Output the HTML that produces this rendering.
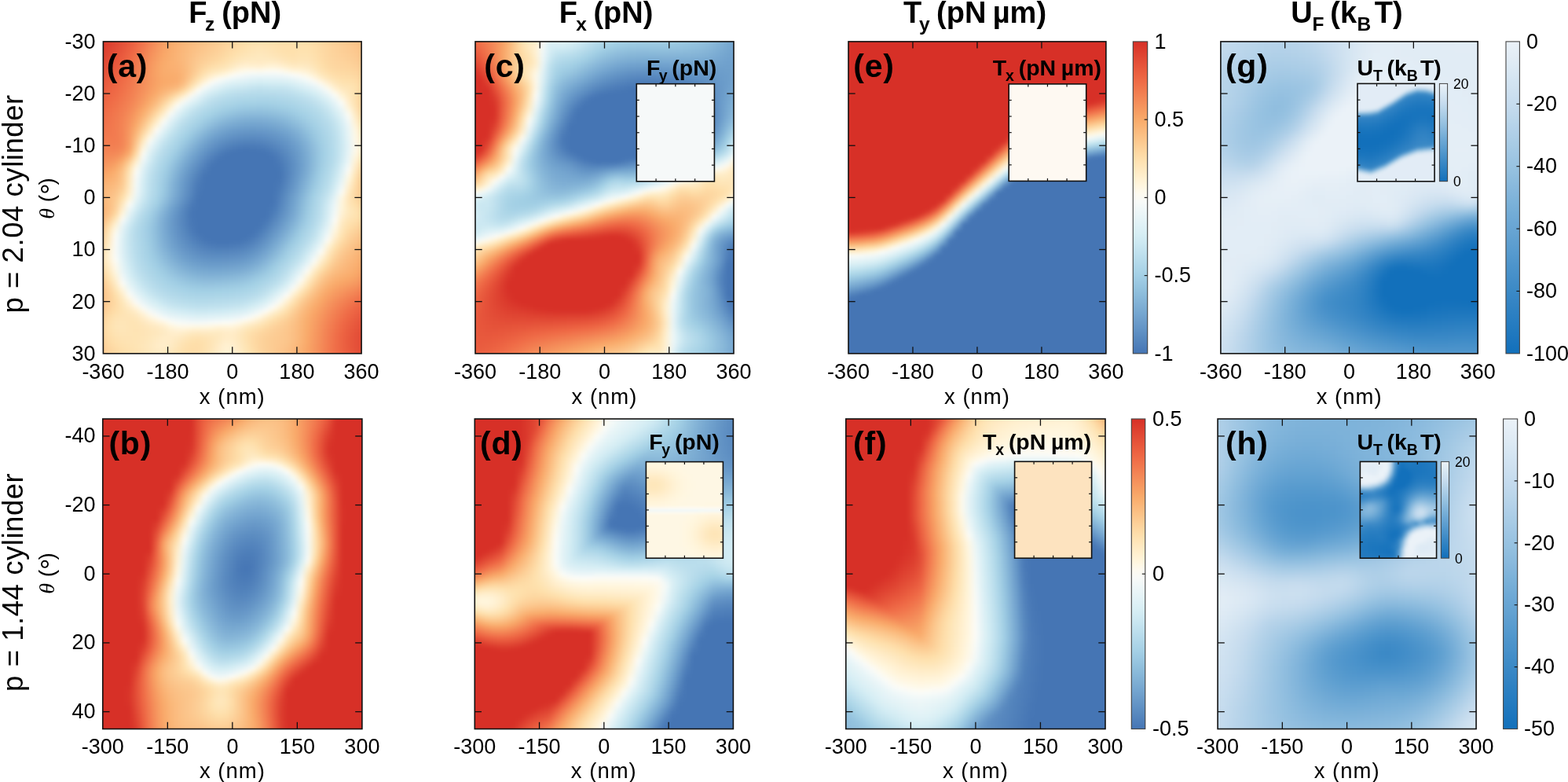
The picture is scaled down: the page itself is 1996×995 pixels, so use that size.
<!DOCTYPE html><html><head><meta charset="utf-8"><title>Force maps</title><style>*{margin:0;padding:0}html,body{width:1996px;height:995px;overflow:hidden;background:#fff}
.hm{position:absolute;overflow:hidden}.hi{position:absolute}.hi i{display:block}
svg{position:absolute;left:0;top:0}text{font-family:"Liberation Sans", Arial, sans-serif;fill:#000}</style></head><body>
<div class="hm" style="left:131.40px;top:52.90px;width:328.70px;height:396.95px">
<div class="hi" style="left:-10px;top:-10px;width:348.70px;filter:blur(2.5px)">
<i style="height:5px;background:linear-gradient(90deg,#d73027,#d93429,#dc3c2d,#df4432,#e34d37,#e7573c,#ec6342,#f07049,#f27f52,#f48d5a,#f69961,#f8a466,#f9ac6c,#fab273,#fab77a,#fbbc7f,#fbc085,#fbc48a,#fcc990,#fccd95,#fdd29b,#fdd6a0,#fdd9a4,#fedca7,#fedea9,#fedeaa,#fedda9,#fedda8,#fedda9,#fedea9,#fedea9,#fedca7,#fdd9a4,#fdd6a0,#fdd29b,#fcce96,#fcca92,#fcc68d,#fbc288,#fbbe82,#fab87b)"></i>
<i style="height:5px;background:linear-gradient(90deg,#d73027,#da372a,#dd3e2e,#e04633,#e44f38,#e8593d,#ed6543,#f0734b,#f38253,#f5905b,#f79d63,#f9a768,#f9ae6f,#fab476,#fab97c,#fbbe82,#fbc287,#fcc68d,#fccb92,#fcd098,#fdd49e,#fdd8a3,#fedca7,#fedfab,#fee0ad,#fee0ad,#fedfab,#fedeaa,#fedeaa,#fedfab,#fedfab,#fedea9,#fedba6,#fdd7a1,#fdd39c,#fccf98,#fccc93,#fcc88e,#fbc489,#fbbf84,#faba7d)"></i>
<i style="height:5px;background:linear-gradient(90deg,#d83228,#db392c,#de4030,#e14934,#e55239,#e95c3f,#ee6845,#f1764d,#f38555,#f5935d,#f7a064,#f9aa6a,#fab072,#fab679,#fbbb7f,#fbc085,#fbc48a,#fcc88f,#fccd95,#fdd29b,#fdd7a0,#fedba6,#fedfab,#fee1af,#fee2b1,#fee2b0,#fee1ae,#fedfab,#fedfab,#fee0ac,#fee0ad,#fedfab,#fedca8,#fdd8a2,#fdd49d,#fdd099,#fccd94,#fcc990,#fcc58b,#fbc085,#fbbb7f)"></i>
<i style="height:5px;background:linear-gradient(90deg,#d9352a,#dc3c2d,#df4331,#e24b36,#e6553b,#ea5f40,#ef6b47,#f1794f,#f48857,#f6965f,#f8a266,#f9ac6c,#fab274,#fab87b,#fbbd81,#fbc287,#fcc68d,#fccb92,#fccf97,#fdd49e,#fdd9a4,#fedea9,#fee1ae,#fee3b3,#fee4b6,#fee3b4,#fee2b0,#fee0ad,#fee0ac,#fee0ac,#fee1ae,#fee1ad,#fedea9,#fdd9a4,#fdd59e,#fdd19a,#fcce96,#fccb92,#fcc78d,#fbc287,#fbbc81)"></i>
<i style="height:5px;background:linear-gradient(90deg,#da382b,#dd3e2f,#e04633,#e34e37,#e7573c,#ec6242,#f06e48,#f27d51,#f48c59,#f69961,#f8a567,#f9ad6e,#fab375,#fab97c,#fbbf83,#fbc48a,#fcc98f,#fccd95,#fdd19a,#fdd7a1,#fedca7,#fee0ad,#fee3b2,#fee5b7,#fee6ba,#fee5b8,#fee3b4,#fee2af,#fee0ad,#fee1ad,#fee2b0,#fee2b0,#fedfab,#fddaa5,#fdd69f,#fdd29b,#fccf97,#fccc94,#fcc88f,#fbc489,#fbbe82)"></i>
<i style="height:5px;background:linear-gradient(90deg,#db3b2d,#de4130,#e14934,#e55139,#e95a3e,#ed6543,#f0724a,#f28052,#f58f5b,#f79c62,#f9a768,#f9ae6f,#fab476,#faba7d,#fbc085,#fcc68d,#fccb93,#fcd098,#fdd49e,#fddaa4,#fedfab,#fee3b2,#fee5b7,#fee7bb,#fee8be,#fee7bc,#fee5b8,#fee3b4,#fee2af,#fee1af,#fee3b2,#fee3b2,#fee0ad,#fedba6,#fdd6a0,#fdd39c,#fdd099,#fcce96,#fcca91,#fcc58b,#fbbf84)"></i>
<i style="height:5px;background:linear-gradient(90deg,#dd3e2e,#df4432,#e24c36,#e6543a,#ea5d3f,#ee6845,#f1754c,#f38354,#f5925c,#f79f64,#f9a96a,#f9af70,#fab476,#faba7d,#fbc187,#fcc990,#fcce96,#fdd39c,#fdd8a2,#fedda9,#fee2b1,#fee6b9,#fee8be,#fee9c0,#fee9c1,#fee9c1,#fee9bf,#fee6bb,#fee4b5,#fee3b2,#fee4b5,#fee4b6,#fee1af,#fedca7,#fdd7a1,#fdd49e,#fdd29b,#fccf98,#fccc94,#fcc78e,#fbc186)"></i>
<i style="height:5px;background:linear-gradient(90deg,#de4130,#e14734,#e44f37,#e7573c,#eb6041,#ef6b46,#f1784e,#f38656,#f6945e,#f8a165,#f9ab6b,#fab071,#fab375,#fab97d,#fbc288,#fccb93,#fdd29b,#fdd8a2,#fedca8,#fee1af,#fee6b9,#feeac3,#ffecc8,#ffecc7,#ffebc6,#ffedc9,#ffedcb,#ffebc6,#fee8be,#fee6b9,#fee7bc,#fee6bb,#fee3b3,#fedea9,#fdd8a2,#fdd59f,#fdd49d,#fdd29a,#fcce96,#fcc990,#fbc388)"></i>
<i style="height:5px;background:linear-gradient(90deg,#df4432,#e24b35,#e55239,#e85a3d,#ec6342,#f06d48,#f27a4f,#f48857,#f6965f,#f8a366,#f9ac6c,#faaf71,#fab274,#fab87b,#fbc388,#fcce96,#fdd7a1,#fedeaa,#fee2b1,#fee5b8,#feebc5,#fff0d1,#fff3d7,#fff2d6,#fff1d4,#fff4d9,#fff5db,#fff3d7,#ffefcd,#ffecc7,#ffecc7,#feeac4,#fee6b9,#fee0ad,#fddaa5,#fdd7a1,#fdd59f,#fdd49d,#fdd19a,#fccc93,#fbc58a)"></i>
<i style="height:5px;background:linear-gradient(90deg,#e14733,#e34e37,#e6553b,#e95d3f,#ed6544,#f07049,#f27c50,#f48958,#f6975f,#f8a466,#f9ac6d,#f9ae6f,#fab072,#fab77a,#fbc389,#fdd19a,#fedea9,#fee5b7,#fee9c0,#ffedc8,#fff3d7,#fef8e5,#fdfaed,#fdfaef,#fdfaee,#fdfbf2,#fcfbf4,#fdfaf0,#fef8e6,#fff5dc,#fff4d8,#fff0d1,#feeac3,#fee3b3,#fedda9,#fddaa4,#fdd8a2,#fdd7a0,#fdd49d,#fcce96,#fcc68c)"></i>
<i style="height:5px;background:linear-gradient(90deg,#e24a35,#e55139,#e7583c,#eb5f40,#ee6845,#f0724b,#f27e51,#f48b58,#f69860,#f8a466,#f9ab6c,#f9ad6d,#f9ae6f,#fab77a,#fcc68c,#fdd7a1,#fee4b6,#ffedc9,#fff3d6,#fff7e2,#fdfbf2,#f8faf8,#f3f9f8,#f0f8f8,#eff7f8,#eff7f8,#eff7f8,#f0f8f8,#f4f9f8,#fafbf8,#fdfaf1,#fef8e5,#fff1d2,#fee8be,#fee2b0,#fedda9,#fedba6,#fddaa5,#fdd7a1,#fdd199,#fcc88e)"></i>
<i style="height:5px;background:linear-gradient(90deg,#e34e37,#e6543a,#e95b3e,#ec6242,#ef6a46,#f1744c,#f28052,#f48c59,#f69860,#f8a366,#f9aa6a,#f9ab6c,#f9ad6e,#fab87b,#fccb93,#fee0ac,#ffecc7,#fff6e0,#fcfbf4,#f5faf8,#edf7f8,#e9f5f7,#e5f3f7,#e1f2f6,#dff1f6,#e0f2f6,#e1f2f6,#e2f2f6,#e4f3f6,#e9f5f7,#f0f8f8,#f9fbf8,#fef8e8,#ffefcf,#fee7bd,#fee2b1,#fedfab,#fedea9,#fedba6,#fdd39c,#fcc990)"></i>
<i style="height:5px;background:linear-gradient(90deg,#e55139,#e7573c,#ea5d3f,#ed6443,#ef6d47,#f1764d,#f38153,#f48d5a,#f69960,#f8a366,#f9aa6a,#f9ac6d,#faaf71,#fbbd82,#fdd59f,#fee8bf,#fff6df,#f9fbf8,#edf7f8,#e4f3f6,#def1f6,#dbf0f5,#d8eef5,#d4edf4,#d2ecf3,#d3edf4,#d5edf4,#d5eef4,#d7eef4,#dcf0f5,#e3f3f6,#eaf6f7,#f5f9f8,#fef8e8,#ffefcf,#fee7bc,#fee2b1,#fee1af,#fedeaa,#fdd59f,#fcc990)"></i>
<i style="height:5px;background:linear-gradient(90deg,#e6543a,#e85a3d,#eb6041,#ee6744,#f06f49,#f1784e,#f38354,#f58f5b,#f79a61,#f8a567,#f9ad6e,#fab173,#fab77a,#fcc88f,#fee2b1,#fff3d8,#f8fbf8,#e9f5f7,#dff1f6,#d6eef4,#d1ebf3,#cee9f2,#cbe8f1,#c7e5f0,#c5e4ef,#c6e5f0,#c8e6f0,#c8e6f0,#cae7f1,#d0ebf3,#d7eef5,#def1f6,#e6f4f7,#f4f9f8,#fef8e6,#ffedca,#fee6ba,#fee4b5,#fee1ae,#fdd6a0,#fcc990)"></i>
<i style="height:5px;background:linear-gradient(90deg,#e7573c,#ea5d3f,#ec6342,#ef6946,#f0714a,#f27b4f,#f38555,#f5915c,#f79d63,#f9a96a,#fab375,#fbbb7f,#fcc68c,#fedba6,#ffeecc,#fcfcf7,#e8f5f7,#dbf0f5,#d2ecf3,#c9e7f1,#c4e4ef,#c2e2ee,#bfe1ee,#bddfed,#bbdeec,#bcdfed,#bde0ed,#bee0ed,#c0e1ee,#c5e4ef,#cce8f1,#d3ecf4,#dbf0f5,#e7f4f7,#f7faf8,#fff6dd,#ffebc5,#fee6ba,#fee1af,#fdd59f,#fcc88f)"></i>
<i style="height:5px;background:linear-gradient(90deg,#e85a3d,#eb6040,#ed6544,#ef6c47,#f1744b,#f27d51,#f48857,#f6945e,#f8a165,#f9ae6f,#fbbb7f,#fcc990,#fedba6,#ffebc5,#fdf9ed,#ecf6f8,#daeff5,#cee9f2,#c5e4ef,#bee0ed,#badeec,#b8dceb,#b6dbeb,#b4daea,#b3daea,#b4daea,#b5daea,#b6dbeb,#b8dceb,#bcdfed,#c1e2ee,#c8e6f0,#d0ebf3,#dcf0f5,#eaf5f7,#fcfcf6,#fff2d4,#fee9bf,#fee1ae,#fdd49d,#fcc78d)"></i>
<i style="height:5px;background:linear-gradient(90deg,#e95d3f,#ec6242,#ee6845,#f06e48,#f1764d,#f27f52,#f48b58,#f69860,#f8a768,#fab578,#fcc68c,#fdd9a4,#feeac4,#fef8e8,#eff7f8,#def1f6,#cee9f2,#c2e2ee,#bbdeec,#b6dbeb,#b2d9ea,#b0d7e9,#aed7e8,#add6e8,#acd5e8,#acd5e8,#add6e8,#afd7e9,#b1d8e9,#b4daea,#b9ddec,#bfe0ee,#c6e5f0,#d2ecf3,#dff1f6,#f0f8f8,#fef8e5,#ffebc5,#fee1ae,#fdd29b,#fcc58b)"></i>
<i style="height:5px;background:linear-gradient(90deg,#eb5f40,#ed6543,#ef6a46,#f0714a,#f1794e,#f38254,#f58e5a,#f79c62,#f9ad6d,#fbbd81,#fdd19a,#fee6ba,#fff7e1,#f2f8f8,#e0f2f6,#d2ecf3,#c3e3ef,#b9ddec,#b3d9ea,#aed7e8,#abd5e7,#a8d3e7,#a6d2e6,#a6d2e6,#a5d1e6,#a5d1e6,#a7d2e6,#a8d3e7,#abd4e7,#aed7e8,#b3d9ea,#b8dceb,#bfe0ed,#c9e6f1,#d6eef4,#e6f4f7,#fcfcf8,#ffeecd,#fee1af,#fdd29b,#fbc48a)"></i>
<i style="height:5px;background:linear-gradient(90deg,#ec6242,#ee6744,#ef6d47,#f0734b,#f27b50,#f38555,#f5925d,#f8a266,#fab375,#fcc68d,#fedda9,#fff0d0,#f9fbf8,#e3f3f6,#d3edf4,#c5e4ef,#badeec,#b2d9e9,#acd5e8,#a7d2e6,#a4d0e5,#a0cde4,#9ecce3,#9ecbe2,#9dcae2,#9dcbe2,#9fcce3,#a2cfe4,#a4d1e5,#a8d3e7,#add6e8,#b2d9ea,#b8ddec,#c1e2ee,#cee9f2,#def1f6,#f2f9f8,#fff3d7,#fee3b3,#fdd29b,#fbc48a)"></i>
<i style="height:5px;background:linear-gradient(90deg,#ed6543,#ef6946,#f06f49,#f1764c,#f27e51,#f48857,#f6975f,#f9a969,#fbbb7f,#fdd199,#fee6ba,#fef8e7,#ebf6f7,#d7eef4,#c7e5f0,#bbdeec,#b2d9ea,#abd5e7,#a5d1e5,#a0cde3,#9bc9e1,#98c6e0,#95c4df,#95c3de,#94c2de,#95c3de,#97c5df,#9ac8e1,#9ecbe2,#a2cfe5,#a8d3e6,#add6e8,#b3daea,#bbdeec,#c7e5f0,#d7eef4,#eaf5f7,#fef8e5,#fee6ba,#fdd49e,#fbc58b)"></i>
<i style="height:5px;background:linear-gradient(90deg,#ee6744,#ef6c47,#f0714a,#f1784e,#f28052,#f48c59,#f79c62,#f9af70,#fbc48a,#fedca8,#ffefce,#f7faf8,#dff1f6,#cce9f2,#bee0ed,#b4daea,#abd5e8,#a4d1e5,#9dcae2,#97c5df,#92c1dd,#8ebddb,#8cbbda,#8bbada,#8bbada,#8cbbda,#8ebddb,#92c0dd,#96c4df,#9ccae2,#a2cfe5,#a8d3e7,#afd7e9,#b6dceb,#c1e2ee,#d0ebf3,#e3f3f6,#fcfbf4,#feeac2,#fdd7a1,#fcc68d)"></i>
<i style="height:5px;background:linear-gradient(90deg,#ef6a46,#f06e48,#f0734b,#f1794f,#f38253,#f58f5b,#f8a165,#fab678,#fcce96,#fee6b9,#fef8e5,#eaf5f7,#d5edf4,#c3e3ef,#b6dbeb,#add6e8,#a4d1e5,#9ccae2,#94c3de,#8ebcdb,#88b8d9,#85b4d7,#82b2d6,#81b1d5,#81b1d5,#83b2d6,#85b5d7,#89b8d9,#8ebddb,#95c3de,#9ccae2,#a4d0e5,#abd5e7,#b2d9ea,#bcdfed,#cae7f1,#ddf1f5,#f7faf8,#ffeecb,#fedba6,#fcc990)"></i>
<i style="height:5px;background:linear-gradient(90deg,#ef6c47,#f0704a,#f1744c,#f27a4f,#f38354,#f5925c,#f8a668,#fbbd82,#fdd8a2,#ffeecc,#f9fbf8,#dff1f6,#cae7f1,#bbdeec,#b0d8e9,#a7d2e6,#9dcae2,#94c2de,#8bbada,#84b4d6,#7fafd4,#7bacd2,#79aad1,#78a9d1,#79a9d1,#7aaad2,#7cadd3,#81b1d5,#86b6d8,#8ebddb,#96c4df,#9fcce3,#a7d2e6,#afd7e9,#b8dceb,#c5e4ef,#d8eff5,#f1f8f8,#fff1d3,#fedfab,#fccd95)"></i>
<i style="height:5px;background:linear-gradient(90deg,#f06f49,#f0734b,#f1764d,#f27b4f,#f38455,#f6945e,#f9ac6c,#fcc58c,#fee2b1,#fff6df,#edf6f8,#d6eef4,#c2e2ee,#b4daea,#aad4e7,#a0cde4,#95c3de,#8bbada,#82b1d5,#7babd2,#76a7d0,#73a4ce,#71a2cd,#70a1cd,#70a1cd,#72a3ce,#75a5cf,#79a9d1,#7fafd4,#86b6d8,#90bedc,#9ac7e1,#a3d0e5,#acd5e8,#b5daea,#c1e2ee,#d4edf4,#ecf6f8,#fff5db,#fee3b2,#fdd29a)"></i>
<i style="height:5px;background:linear-gradient(90deg,#f0734b,#f1754c,#f1774d,#f27b50,#f38455,#f6975f,#fab173,#fccf97,#fee9c1,#fcfbf5,#e3f3f6,#cde9f2,#bbdeec,#afd7e9,#a4d0e5,#99c6e0,#8dbcdb,#82b1d5,#79a9d1,#72a3ce,#6d9ecb,#6b9bca,#699ac9,#6899c8,#699ac9,#6a9bca,#6d9ecb,#72a3ce,#77a8d1,#7fafd4,#89b8d9,#94c3de,#9fcce3,#a9d3e7,#b2d9ea,#bee0ed,#d1ebf3,#e9f5f7,#fff7e2,#fee6b9,#fdd7a1)"></i>
<i style="height:5px;background:linear-gradient(90deg,#f1764d,#f1784e,#f1784e,#f27b50,#f38455,#f69860,#fab77a,#fdd9a3,#fff1d4,#f1f8f8,#d9eff5,#c4e4ef,#b5dbeb,#a9d4e7,#9dcbe2,#91bfdc,#84b4d6,#79aad1,#71a2cd,#6a9bc9,#6697c7,#6394c5,#6292c4,#6192c4,#6292c5,#6494c6,#6797c7,#6b9cca,#71a2cd,#79a9d1,#83b3d6,#8fbedc,#9bc9e1,#a6d2e6,#b0d8e9,#bcdfed,#cfeaf3,#e8f5f7,#fef8e5,#fee9bf,#fedca7)"></i>
<i style="height:5px;background:linear-gradient(90deg,#f1794f,#f27b4f,#f27a4f,#f27c50,#f38455,#f79a61,#fbbd81,#fee3b3,#fef9e9,#e6f4f7,#cfeaf3,#bddfed,#afd7e9,#a3d0e5,#96c5df,#89b8d9,#7cacd3,#71a2cd,#699ac9,#6394c5,#5f8fc3,#5c8cc1,#5a8bc0,#5a8ac0,#5b8bc1,#5d8ec2,#6191c4,#6596c7,#6b9cca,#73a4cf,#7eaed4,#8abada,#98c6e0,#a4d0e5,#aed7e8,#badeec,#cee9f2,#e7f4f7,#fef8e7,#feebc5,#fee1ae)"></i>
<i style="height:5px;background:linear-gradient(90deg,#f27d51,#f27e51,#f27c50,#f27d50,#f38455,#f79b62,#fbc389,#feebc4,#f7faf8,#dcf0f5,#c6e5f0,#b7dceb,#aad4e7,#9dcbe2,#8fbedc,#81b1d5,#74a5cf,#6a9bc9,#6293c5,#5c8cc1,#5788be,#5485bd,#5383bc,#5383bc,#5484bd,#5787be,#5b8bc0,#6091c4,#6697c7,#6f9fcc,#79aad1,#86b6d8,#95c3de,#a2cfe4,#add6e8,#b9ddec,#cce9f2,#e5f4f7,#fef8e8,#ffedca,#fee3b3)"></i>
<i style="height:5px;background:linear-gradient(90deg,#f28053,#f38153,#f27f52,#f27f52,#f38656,#f79d63,#fcca91,#fff2d5,#ecf6f8,#d4edf4,#bfe1ee,#b1d9e9,#a5d1e6,#97c5df,#88b7d8,#79aad2,#6d9ecb,#6494c6,#5b8cc1,#5585bd,#5080ba,#4d7db9,#4c7cb8,#4c7cb8,#4d7db9,#5080ba,#5585bd,#5b8bc1,#6293c5,#6a9bca,#75a6cf,#83b2d6,#92c0dd,#a0cde4,#acd5e8,#b9ddec,#cce8f1,#e5f3f7,#fef9ea,#ffeecc,#fee4b5)"></i>
<i style="height:5px;background:linear-gradient(90deg,#f38354,#f38455,#f38354,#f38354,#f48b58,#f8a366,#fdd199,#fef8e5,#e4f3f6,#cce8f1,#b9ddec,#add6e8,#a0cde3,#90bfdc,#81b1d5,#73a4ce,#6798c8,#5d8ec2,#5485bd,#4e7eb9,#4979b6,#4676b5,#4575b4,#4676b4,#4777b5,#4a7ab7,#4f80ba,#5686be,#5e8fc2,#6798c8,#72a3ce,#80b0d4,#90bedc,#9fcce3,#abd5e8,#b8ddec,#cce8f1,#e5f4f7,#fef9ea,#ffedc9,#fee2b0)"></i>
<i style="height:5px;background:linear-gradient(90deg,#f38756,#f48857,#f48756,#f48958,#f5945d,#f9ad6e,#fedba6,#fcfbf4,#dcf0f5,#c5e4ef,#b5daea,#a8d3e7,#9ac8e1,#8ab9d9,#7aabd2,#6d9ecb,#6192c4,#5787be,#4e7eb9,#4777b5,#4575b4,#4575b4,#4575b4,#4575b4,#4575b4,#4575b4,#4a7ab7,#5282bb,#5b8bc0,#6495c6,#6fa0cc,#7eaed4,#8fbddb,#9ecce3,#abd5e8,#b8ddec,#cde9f2,#e7f4f7,#fef8e5,#fee9c1,#fedda8)"></i>
<i style="height:5px;background:linear-gradient(90deg,#f48a58,#f48c59,#f48d59,#f5915c,#f7a064,#fbbc80,#fee5b8,#f5faf8,#d6eef4,#bfe1ee,#b0d8e9,#a3d0e5,#94c3de,#83b3d6,#74a5cf,#6798c8,#5c8cc1,#5181bb,#4878b6,#4575b4,#4575b4,#4575b4,#4575b4,#4575b4,#4575b4,#4575b4,#4676b5,#4e7eb9,#5788bf,#6293c5,#6e9fcb,#7cadd3,#8ebddb,#9ecce3,#acd5e8,#b9ddec,#cee9f2,#eaf5f7,#fff5dc,#fee5b6,#fdd69f)"></i>
<i style="height:5px;background:linear-gradient(90deg,#f58f5b,#f5915c,#f5935d,#f79a61,#f9ad6d,#fccc93,#ffefcd,#edf6f8,#d1ebf3,#bbdeec,#add6e8,#9fcce3,#8ebddb,#7daed3,#6fa0cc,#6293c5,#5686be,#4b7bb7,#4575b4,#4575b4,#4575b4,#4575b4,#4575b4,#4575b4,#4575b4,#4575b4,#4575b4,#4b7bb7,#5585bd,#6091c4,#6d9ecb,#7cacd3,#8ebddb,#9fcce3,#acd6e8,#bbdeec,#d1ebf3,#edf7f8,#fff1d3,#fee0ac,#fcce96)"></i>
<i style="height:5px;background:linear-gradient(90deg,#f5935d,#f6965f,#f69a61,#f8a366,#fab77a,#fdd9a4,#fff6e0,#e5f4f7,#cae7f1,#b7dceb,#a9d4e7,#9ac8e1,#89b8d9,#78a9d1,#6a9ac9,#5d8dc2,#5181bb,#4676b5,#4575b4,#4575b4,#4575b4,#4575b4,#4575b4,#4575b4,#4575b4,#4575b4,#4575b4,#4878b6,#5384bc,#5f90c3,#6c9dcb,#7cacd3,#8fbddb,#a0cde3,#aed6e8,#bde0ed,#d6eef4,#f3f9f8,#ffedca,#fddaa4,#fcc88e)"></i>
<i style="height:5px;background:linear-gradient(90deg,#f69960,#f79c62,#f8a165,#f9ab6b,#fbbf83,#fee2b0,#fdfaf0,#dff1f6,#c6e4f0,#b4daea,#a6d2e6,#96c4df,#84b4d6,#73a4ce,#6596c6,#5889bf,#4c7cb8,#4575b4,#4575b4,#4575b4,#4575b4,#4575b4,#4575b4,#4575b4,#4575b4,#4575b4,#4575b4,#4677b5,#5283bc,#5f90c3,#6d9ecb,#7dadd3,#90bfdc,#a1cfe4,#b0d8e9,#c1e2ee,#daeff5,#fafbf8,#fee9c1,#fdd49d,#fbc288)"></i>
<i style="height:5px;background:linear-gradient(90deg,#f79e63,#f8a366,#f9a869,#fab071,#fbc489,#fee5b8,#fbfcf8,#dbf0f5,#c2e2ee,#b1d8e9,#a3d0e5,#92c1dd,#7fb0d4,#6fa0cc,#6192c4,#5484bc,#4878b5,#4575b4,#4575b4,#4575b4,#4575b4,#4575b4,#4575b4,#4575b4,#4575b4,#4575b4,#4575b4,#4676b4,#5282bc,#6090c3,#6e9fcc,#7fafd4,#92c1dd,#a4d0e5,#b2d9ea,#c4e4ef,#dff1f6,#fdfaef,#fee6b9,#fccf97,#fbbe82)"></i>
<i style="height:5px;background:linear-gradient(90deg,#f8a466,#f9a96a,#f9ad6e,#fab476,#fcc68c,#fee7bd,#f7faf8,#d8eef5,#bfe1ee,#afd7e9,#a1cee4,#8fbedc,#7cacd3,#6c9cca,#5d8ec2,#5080ba,#4575b4,#4575b4,#4575b4,#4575b4,#4575b4,#4575b4,#4575b4,#4575b4,#4575b4,#4575b4,#4575b4,#4676b4,#5383bc,#6192c4,#70a1cd,#82b2d5,#95c4df,#a6d2e6,#b5dbea,#c8e6f0,#e3f3f6,#fef8e5,#fee2b1,#fccb93,#fbbb7f)"></i>
<i style="height:5px;background:linear-gradient(90deg,#f9a969,#f9ae6f,#fab274,#fab77a,#fcc88e,#fee8bf,#f4f9f8,#d5eef4,#bee0ed,#aed6e8,#9fcce3,#8cbbda,#79aad1,#699ac9,#5b8bc0,#4d7db8,#4575b4,#4575b4,#4575b4,#4575b4,#4575b4,#4575b4,#4575b4,#4575b4,#4575b4,#4575b4,#4575b4,#4777b5,#5585bd,#6394c5,#73a4ce,#85b5d7,#98c6e0,#a9d3e7,#b7dceb,#cce9f2,#e8f5f7,#fff5db,#fee0ac,#fcc990,#fab97d)"></i>
<i style="height:5px;background:linear-gradient(90deg,#f9ad6d,#fab375,#fab679,#fbbb7f,#fccb92,#feeac2,#f3f9f8,#d4edf4,#bddfed,#add6e8,#9dcbe2,#8ab9d9,#77a8d0,#6798c8,#5889bf,#4a7ab7,#4575b4,#4575b4,#4575b4,#4575b4,#4575b4,#4575b4,#4575b4,#4575b4,#4575b4,#4575b4,#4575b4,#4979b6,#5787be,#6696c7,#76a7d0,#88b8d9,#9bc9e1,#abd5e8,#badeec,#d1ebf3,#eef7f8,#fff1d3,#fedca8,#fcc78e,#fab97c)"></i>
<i style="height:5px;background:linear-gradient(90deg,#fab071,#fab679,#faba7d,#fbbf84,#fcd098,#ffebc6,#f1f8f8,#d3edf4,#bcdfed,#acd6e8,#9ccae2,#89b8d9,#76a7d0,#6697c7,#5787be,#4979b6,#4575b4,#4575b4,#4575b4,#4575b4,#4575b4,#4575b4,#4575b4,#4575b4,#4575b4,#4575b4,#4575b4,#4b7bb7,#598ac0,#6899c8,#79a9d1,#8cbbda,#9fcce3,#aed7e8,#bee0ed,#d6eef4,#f5faf8,#ffedc9,#fddaa4,#fcc78e,#faba7d)"></i>
<i style="height:5px;background:linear-gradient(90deg,#fab274,#fab97c,#fbbc81,#fbc389,#fdd69f,#ffeecc,#eff7f8,#d1ebf3,#bbdeec,#acd5e8,#9bc9e1,#87b7d8,#75a6cf,#6595c6,#5686be,#4777b5,#4575b4,#4575b4,#4575b4,#4575b4,#4575b4,#4575b4,#4575b4,#4575b4,#4575b4,#4575b4,#4575b4,#4d7eb9,#5c8dc1,#6c9cca,#7cadd3,#90bfdc,#a2cfe5,#b2d9e9,#c3e3ef,#dcf0f5,#fcfbf5,#fee9c0,#fdd8a2,#fcc88f,#fbbc7f)"></i>
<i style="height:5px;background:linear-gradient(90deg,#fab274,#faba7d,#fbbe82,#fcc78e,#fedda8,#fff3d7,#eaf6f7,#cee9f2,#b9ddec,#a9d4e7,#98c6e0,#85b4d7,#72a3ce,#6393c5,#5384bc,#4676b4,#4575b4,#4575b4,#4575b4,#4575b4,#4575b4,#4575b4,#4575b4,#4575b4,#4575b4,#4575b4,#4575b4,#5080ba,#5f90c3,#6fa0cc,#80b0d5,#94c2de,#a6d2e6,#b5dbeb,#c8e6f0,#e3f3f6,#fef8e6,#fee6ba,#fdd8a2,#fccb92,#fbbe83)"></i>
<i style="height:5px;background:linear-gradient(90deg,#fab173,#fab87b,#fbbe82,#fccb92,#fee3b3,#fef8e7,#e4f3f6,#c9e7f1,#b5dbeb,#a6d2e6,#94c2de,#80b0d5,#6f9fcc,#5f90c3,#5080ba,#4575b4,#4575b4,#4575b4,#4575b4,#4575b4,#4575b4,#4575b4,#4575b4,#4575b4,#4575b4,#4575b4,#4575b4,#5282bc,#6192c4,#71a2cd,#83b3d6,#97c5df,#a9d3e7,#b9ddec,#cee9f2,#e9f5f7,#fff6de,#fee5b8,#fddba5,#fccf97,#fbc288)"></i>
<i style="height:5px;background:linear-gradient(90deg,#f9af70,#fab678,#fbbd81,#fcce96,#fee9c0,#fbfcf8,#dcf0f5,#c3e3ef,#b1d8e9,#a1cee4,#8ebddb,#7babd2,#6a9bc9,#5b8bc0,#4c7cb8,#4575b4,#4575b4,#4575b4,#4575b4,#4575b4,#4575b4,#4575b4,#4575b4,#4575b4,#4575b4,#4575b4,#4676b5,#5484bd,#6394c5,#73a4cf,#86b5d7,#99c7e0,#aad4e7,#bbdeec,#d2ecf4,#edf7f8,#fff5db,#fee6ba,#fedfaa,#fdd39c,#fcc68c)"></i>
<i style="height:5px;background:linear-gradient(90deg,#f9ad6d,#fab476,#fbbd81,#fdd099,#ffeecd,#f0f8f8,#d4edf4,#bddfed,#acd5e8,#9cc9e2,#88b7d8,#75a6d0,#6596c7,#5787be,#4979b6,#4575b4,#4575b4,#4575b4,#4575b4,#4575b4,#4575b4,#4575b4,#4575b4,#4575b4,#4575b4,#4575b4,#4879b6,#5687be,#6596c6,#75a6d0,#88b7d8,#9bc9e1,#acd5e8,#bddfed,#d5edf4,#f0f8f8,#fff4d9,#fee8bd,#fee2b0,#fdd7a2,#fcc990)"></i>
<i style="height:5px;background:linear-gradient(90deg,#f9ac6c,#fab476,#fbbf84,#fdd69f,#fff4d9,#e7f4f7,#cbe8f1,#b6dbeb,#a7d2e6,#96c4df,#83b2d6,#71a2cd,#6293c5,#5485bd,#4777b5,#4575b4,#4575b4,#4575b4,#4575b4,#4575b4,#4575b4,#4575b4,#4575b4,#4575b4,#4575b4,#4575b4,#4b7cb8,#598ac0,#6898c8,#78a8d1,#8abad9,#9dcbe2,#add6e8,#bee0ed,#d7eef4,#f3f9f8,#fff2d6,#fee8bd,#fee3b2,#fddaa4,#fccb92)"></i>
<i style="height:5px;background:linear-gradient(90deg,#f9ac6d,#fab779,#fcc58c,#fee0ac,#fef9eb,#dff1f6,#c4e3ef,#b1d8e9,#a3d0e5,#92c0dd,#7fafd4,#6e9fcc,#6091c4,#5384bc,#4777b5,#4575b4,#4575b4,#4575b4,#4575b4,#4575b4,#4575b4,#4575b4,#4575b4,#4575b4,#4575b4,#4575b4,#4f80ba,#5d8dc2,#6b9cca,#7babd2,#8ebcdb,#a0cde3,#afd7e9,#c0e1ee,#d9eff5,#f7faf8,#ffefcf,#fee6ba,#fee2b0,#fdd9a4,#fccb92)"></i>
<i style="height:5px;background:linear-gradient(90deg,#f9ae6f,#fbbb7f,#fccf97,#fee9c0,#f7faf8,#d7eef5,#bee0ed,#aed6e8,#a0cde3,#8fbddb,#7cacd3,#6c9dcb,#6090c3,#5384bc,#4878b6,#4575b4,#4575b4,#4575b4,#4575b4,#4575b4,#4575b4,#4575b4,#4575b4,#4575b4,#4575b4,#4878b6,#5484bc,#6192c4,#6fa0cc,#7fafd4,#91c0dd,#a2cfe5,#b1d8e9,#c3e3ef,#dcf0f5,#fcfcf7,#ffecc7,#fee3b4,#fedfab,#fdd6a0,#fcc990)"></i>
<i style="height:5px;background:linear-gradient(90deg,#fab172,#fbc186,#fdd9a3,#fff1d3,#ecf6f8,#cfeaf3,#b9ddec,#abd5e7,#9ecbe2,#8dbcdb,#7babd2,#6c9dca,#6090c3,#5484bd,#4979b6,#4575b4,#4575b4,#4575b4,#4575b4,#4575b4,#4575b4,#4575b4,#4575b4,#4575b4,#4575b4,#4c7db8,#5989bf,#6696c7,#74a5cf,#84b4d6,#96c4df,#a5d1e6,#b4daea,#c8e6f0,#e1f2f6,#fdfaee,#fee9c1,#fee1ad,#fddaa5,#fdd29a,#fcc68d)"></i>
<i style="height:5px;background:linear-gradient(90deg,#fab476,#fcc68d,#fee1ae,#fef7e3,#e4f3f6,#c9e7f1,#b6dbeb,#a9d4e7,#9ccae2,#8cbbda,#7babd2,#6c9dcb,#6191c4,#5586bd,#4b7bb7,#4575b4,#4575b4,#4575b4,#4575b4,#4575b4,#4575b4,#4575b4,#4575b4,#4575b4,#4777b5,#5182bb,#5e8ec2,#6b9bca,#79a9d1,#89b9d9,#9bc8e1,#a9d4e7,#b8ddec,#cde9f2,#e7f4f7,#fef8e5,#fee7bc,#fedda8,#fdd59e,#fccd94,#fbc388)"></i>
<i style="height:5px;background:linear-gradient(90deg,#fab87b,#fccb93,#fee5b7,#fdfaef,#e0f1f6,#c6e5f0,#b4daea,#a9d3e7,#9ccae2,#8cbbda,#7cacd3,#6d9ecb,#6292c5,#5788be,#4d7db9,#4575b4,#4575b4,#4575b4,#4575b4,#4575b4,#4575b4,#4575b4,#4575b4,#4575b4,#4b7cb8,#5787be,#6394c5,#70a1cd,#7fafd4,#8fbedc,#a0cde3,#aed6e8,#bddfed,#d4edf4,#edf7f8,#fff5dc,#fee5b7,#fdd9a3,#fcd098,#fcc88e,#fbbe83)"></i>
<i style="height:5px;background:linear-gradient(90deg,#fbbb7f,#fccf98,#fee8bd,#fcfcf7,#ddf1f5,#c5e4ef,#b4daea,#a9d3e7,#9dcae2,#8dbcdb,#7dadd3,#6fa0cc,#6494c6,#5a8ac0,#5081bb,#4979b6,#4575b4,#4575b4,#4575b4,#4575b4,#4575b4,#4575b4,#4575b4,#4878b6,#5181bb,#5c8dc1,#6899c8,#76a6d0,#85b5d7,#95c3de,#a4d1e5,#b2d9ea,#c1e2ee,#d9eff5,#f5f9f8,#fff1d2,#fee2b0,#fdd49e,#fccb92,#fbc388,#faba7e)"></i>
<i style="height:5px;background:linear-gradient(90deg,#fbbf84,#fdd39d,#fee9c1,#fafbf8,#dcf0f5,#c5e4ef,#b5daea,#a9d4e7,#9dcbe2,#8ebddb,#7eaed4,#71a2cd,#6697c7,#5d8dc2,#5484bd,#4d7db8,#4777b5,#4575b4,#4575b4,#4575b4,#4575b4,#4575b4,#4878b5,#4e7eb9,#5787be,#6292c4,#6e9fcb,#7cacd3,#8bbada,#9bc9e1,#a9d4e7,#b7dceb,#c8e6f0,#e0f2f6,#fcfbf4,#ffebc6,#fedda9,#fcd098,#fcc68d,#fbbe83,#fab678)"></i>
<i style="height:5px;background:linear-gradient(90deg,#fbc389,#fdd8a2,#ffebc5,#f9fbf8,#dcf0f5,#c5e4ef,#b5dbeb,#aad4e7,#9ecce3,#90bedc,#80b0d5,#73a4ce,#6999c8,#6091c3,#5889bf,#5182bb,#4c7cb8,#4979b6,#4777b5,#4777b5,#4878b6,#4a7ab7,#4e7eb9,#5484bd,#5d8dc2,#6798c8,#74a5cf,#82b2d6,#92c1dd,#a1cee4,#aed7e8,#bddfed,#d1ebf3,#e8f5f7,#fff7e2,#fee6b9,#fdd7a1,#fccb92,#fbc287,#faba7d,#fab273)"></i>
<i style="height:5px;background:linear-gradient(90deg,#fcc88f,#fedda8,#ffeecb,#f8fbf8,#dcf0f5,#c6e5f0,#b6dbeb,#abd5e7,#a0cde3,#92c0dd,#83b3d6,#76a7d0,#6c9dca,#6494c6,#5d8dc2,#5787be,#5282bb,#4f7fba,#4e7eb9,#4e7eb9,#4f7fba,#5181bb,#5585bd,#5b8bc1,#6394c5,#6d9ecb,#7aabd2,#89b8d9,#99c7e0,#a7d2e6,#b4daea,#c4e4ef,#d9eff5,#f2f9f8,#fff1d2,#fee1ad,#fdd199,#fcc68c,#fbbd82,#fab678,#f9ae6f)"></i>
<i style="height:5px;background:linear-gradient(90deg,#fccc93,#fee1af,#fff0d0,#f8faf8,#ddf0f5,#c7e5f0,#b7dceb,#acd5e8,#a1cee4,#95c3de,#87b6d8,#7aabd2,#70a1cd,#6898c8,#6192c4,#5c8cc1,#5888bf,#5586bd,#5485bd,#5585bd,#5686be,#5888bf,#5b8cc1,#6192c4,#6a9ac9,#74a5cf,#81b1d5,#90bedc,#9fcce3,#acd5e8,#b9ddec,#cce8f2,#e2f2f6,#fcfcf7,#ffebc5,#fddaa5,#fccb93,#fbc187,#faba7d,#fab274,#f9aa6a)"></i>
<i style="height:5px;background:linear-gradient(90deg,#fccf97,#fee3b4,#fff1d3,#f9fbf8,#def1f6,#c9e6f0,#b8ddec,#add6e8,#a3d0e5,#98c6e0,#8bbada,#7fafd4,#74a5cf,#6c9dcb,#6697c7,#6192c4,#5e8ec2,#5c8cc1,#5b8cc1,#5c8cc1,#5d8dc2,#5f8fc3,#6293c5,#6899c8,#70a1cd,#7babd2,#88b7d8,#96c4df,#a4d1e5,#b1d8e9,#bfe1ee,#d5edf4,#ebf6f8,#fef7e4,#fee6ba,#fdd49d,#fcc68d,#fbbe82,#fab679,#f9af70,#f8a768)"></i>
<i style="height:5px;background:linear-gradient(90deg,#fcd098,#fee4b4,#fff0d1,#fcfcf7,#e0f2f6,#cbe7f1,#badeec,#afd7e9,#a5d1e6,#9bc9e1,#8fbedc,#84b3d6,#79aad1,#71a2cd,#6b9cca,#6798c8,#6495c6,#6293c5,#6293c5,#6393c5,#6495c6,#6696c7,#699ac9,#6fa0cc,#78a8d1,#83b2d6,#90bedc,#9dcbe2,#aad4e7,#b7dceb,#c6e5f0,#dcf0f5,#f6faf8,#fff1d3,#fee1ae,#fcce96,#fbc288,#fbba7e,#fab476,#f9ac6d,#f8a366)"></i>
<i style="height:5px;background:linear-gradient(90deg,#fcce96,#fee2b0,#ffedca,#fdfaf0,#e3f3f6,#cde9f2,#bcdfed,#b1d8e9,#a8d3e7,#9fcce3,#94c2de,#89b8d9,#7fafd4,#77a8d1,#71a2cd,#6d9ecb,#6a9bc9,#699ac9,#699ac9,#6a9ac9,#6b9cca,#6d9ecb,#71a2cd,#77a7d0,#7fafd4,#8bbada,#97c5e0,#a4d0e5,#b0d8e9,#bee0ed,#d0eaf3,#e6f4f7,#fdfaed,#feeac2,#fdd9a3,#fcc98f,#fbbe83,#fab77a,#fab172,#f9a96a,#f79f64)"></i>
<i style="height:5px;background:linear-gradient(90deg,#fccb92,#fedea9,#feeac3,#fef9ea,#e6f4f7,#d0ebf3,#bfe0ed,#b3daea,#abd5e7,#a2cfe5,#99c7e0,#8fbedc,#86b5d7,#7eaed4,#78a9d1,#74a5cf,#71a2cd,#70a1cd,#70a1cd,#71a2cd,#73a3ce,#75a6cf,#79a9d1,#7fafd4,#88b7d8,#92c1dd,#9ecce3,#aad4e7,#b6dbeb,#c6e5f0,#daeff5,#f2f8f8,#fff3d7,#fee3b2,#fdd199,#fbc388,#fbba7e,#fab477,#f9ae6f,#f8a668,#f79b62)"></i>
<i style="height:5px;background:linear-gradient(90deg,#fcc78d,#fdd8a2,#fee7bb,#fef7e3,#e9f5f7,#d4edf4,#c2e2ef,#b6dbeb,#aed6e8,#a6d2e6,#9ecbe2,#95c3de,#8cbbda,#85b5d7,#7fafd4,#7bacd2,#79aad1,#78a9d1,#78a9d1,#79aad1,#7babd2,#7dadd3,#82b1d5,#88b7d8,#90bfdc,#9ac8e1,#a4d1e5,#b0d7e9,#bddfed,#d0eaf3,#e4f3f6,#fdfbf3,#feebc4,#fddaa4,#fcc98f,#fbbd81,#fab679,#fab173,#f9ab6b,#f8a265,#f6965f)"></i>
<i style="height:5px;background:linear-gradient(90deg,#fbc388,#fdd29b,#fee3b2,#fff4da,#eef7f8,#d8eff5,#c6e5f0,#baddec,#b1d8e9,#a9d4e7,#a2cfe5,#9bc8e1,#93c1de,#8dbbdb,#87b7d8,#83b3d6,#81b1d5,#80b0d5,#81b1d5,#82b2d6,#84b4d6,#87b6d8,#8bbada,#91c0dd,#99c7e0,#a1cee4,#aad4e7,#b5dbeb,#c4e3ef,#d8eff5,#eef7f8,#fff6de,#fee4b4,#fdd099,#fbc186,#fab77a,#fab173,#f9ad6d,#f8a768,#f79c62,#f5915c)"></i>
<i style="height:5px;background:linear-gradient(90deg,#fbbf84,#fccd95,#fedfaa,#fff0d0,#f5f9f8,#ddf1f5,#cce8f1,#bee0ed,#b4daea,#add6e8,#a7d2e6,#a0cde4,#9ac8e1,#94c2de,#8fbedc,#8cbbda,#8ab9d9,#8ab9d9,#8ab9d9,#8cbbda,#8dbcdb,#90bfdc,#94c2de,#9ac8e1,#a1cee4,#a8d3e7,#b1d8e9,#bcdfed,#cce8f2,#e1f2f6,#f9fbf8,#ffefcd,#fedca8,#fcc88f,#fbba7e,#fab173,#f9ac6c,#f9a768,#f7a064,#f6965f,#f48b58)"></i>
<i style="height:5px;background:linear-gradient(90deg,#fbbc80,#fcc98f,#fdd9a4,#ffebc6,#fcfcf7,#e3f3f6,#d2ecf3,#c3e3ef,#b9ddec,#b1d8e9,#abd5e7,#a5d1e6,#a0cde4,#9bc9e1,#97c5df,#94c3de,#93c1de,#93c1dd,#94c2de,#95c3de,#97c5df,#99c7e0,#9dcae2,#a1cfe4,#a8d3e6,#afd7e9,#b8ddeb,#c4e4ef,#d6eef4,#ebf6f8,#fef8e7,#fee8bd,#fdd39d,#fbc186,#fab476,#f9ac6c,#f8a567,#f79f64,#f69860,#f58f5b,#f38455)"></i>
<i style="height:5px;background:linear-gradient(90deg,#faba7d,#fcc68c,#fdd59f,#fee7bc,#fef8e7,#eaf6f7,#d8eff5,#c9e6f1,#bde0ed,#b5dbeb,#afd7e9,#aad4e7,#a6d2e6,#a2cfe5,#9ecce3,#9ccae2,#9bc9e1,#9cc9e2,#9ccae2,#9ecbe2,#9fcce3,#a1cee4,#a4d1e5,#a8d3e7,#aed7e8,#b6dbeb,#c1e2ee,#cfeaf3,#e0f2f6,#f8faf8,#fff1d2,#fee1ae,#fccb92,#fbba7e,#f9ae6f,#f8a567,#f79e63,#f6975f,#f5905b,#f38656,#f27d50)"></i>
<i style="height:5px;background:linear-gradient(90deg,#fab97c,#fbc489,#fdd19a,#fee3b2,#fff3d7,#f3f9f8,#dff1f6,#d0ebf3,#c3e3ef,#bbdeec,#b4daea,#afd7e9,#abd5e7,#a8d3e7,#a5d1e6,#a3d0e5,#a3d0e5,#a3d0e5,#a4d1e5,#a5d1e6,#a6d2e6,#a8d3e7,#abd5e7,#afd7e9,#b5dbea,#bee0ed,#cbe8f1,#dbf0f5,#edf7f8,#fef8e5,#fee8be,#fdd6a0,#fbc389,#fab476,#f9a869,#f79e63,#f6965f,#f58f5b,#f48756,#f27e51,#f1754c)"></i>
<i style="height:5px;background:linear-gradient(90deg,#fab97c,#fbc388,#fccf97,#fedfab,#ffedc9,#fcfbf5,#e8f5f7,#d8eff5,#cbe8f1,#c1e2ee,#baddec,#b4daea,#b1d8e9,#aed6e8,#abd5e7,#aad4e7,#aad4e7,#aad4e7,#abd5e7,#acd5e8,#add6e8,#afd7e9,#b2d9ea,#b6dbeb,#bcdfed,#c7e5f0,#d7eef4,#e7f4f7,#fcfcf8,#ffefcd,#fee0ac,#fccd94,#fbbc80,#f9ae6f,#f8a266,#f69860,#f58f5b,#f48756,#f27f52,#f1764d,#ef6d48)"></i>
<i style="height:5px;background:linear-gradient(90deg,#faba7d,#fbc389,#fcce96,#fedca7,#fee9bf,#fef7e3,#f2f8f8,#e0f2f6,#d4edf4,#c9e7f1,#c1e2ee,#bbdeec,#b7dceb,#b4daea,#b1d9e9,#b0d8e9,#b0d8e9,#b1d8e9,#b2d9e9,#b3d9ea,#b4daea,#b6dbeb,#b9ddec,#bfe0ed,#c6e5f0,#d2ecf3,#e1f2f6,#f3f9f8,#fff6df,#fee6bb,#fdd59f,#fbc48a,#fab678,#f9a969,#f79d62,#f5925c,#f48857,#f28052,#f1774d,#f06e48,#ed6644)"></i>
<i style="height:5px;background:linear-gradient(90deg,#fbbb7f,#fcc58b,#fccf98,#fedba6,#fee6b9,#fff1d4,#fcfbf6,#eaf5f7,#ddf0f5,#d4edf4,#c9e7f1,#c2e2ef,#bee0ed,#bbdeec,#b9ddec,#b7dceb,#b7dceb,#b8dceb,#b9ddec,#badeec,#bcdfed,#bee0ed,#c2e3ef,#c9e7f1,#d2ecf4,#def1f5,#edf7f8,#fdfaef,#ffeecc,#fee0ac,#fccd94,#fbbd81,#fab072,#f8a466,#f69760,#f48c59,#f38254,#f1794e,#f07049,#ee6744,#eb6041)"></i>
<i style="height:5px;background:linear-gradient(90deg,#fbbe82,#fcc88e,#fdd29b,#fedca7,#fee4b5,#ffecc7,#fff6df,#f7faf8,#e8f5f7,#ddf1f5,#d4edf4,#cce8f1,#c7e5f0,#c4e4ef,#c1e2ee,#bfe1ee,#c0e1ee,#c1e2ee,#c2e2ee,#c3e3ef,#c6e4f0,#c8e6f0,#cee9f2,#d6eef4,#dff1f6,#ebf6f8,#fcfcf7,#fff3d7,#fee6ba,#fdd7a1,#fcc68c,#fab87b,#f9ac6c,#f79f64,#f5935d,#f48756,#f27d50,#f0734b,#ef6946,#ec6241,#e95b3e)"></i>
<i style="height:5px;background:linear-gradient(90deg,#fbc186,#fccb92,#fdd59f,#fedea9,#fee3b3,#fee8bd,#ffeecc,#fef8e8,#f5f9f8,#e9f5f7,#def1f6,#d7eef4,#d3ecf4,#cfeaf3,#cce8f2,#cae7f1,#cae7f1,#cce8f2,#cde9f2,#cfeaf3,#d2ecf3,#d5edf4,#daeff5,#e3f3f6,#eef7f8,#fcfcf7,#fff4da,#feeac3,#fee0ac,#fccf97,#fbc085,#fab375,#f9a769,#f79b61,#f58e5a,#f38254,#f1774e,#ef6d48,#ed6443,#e95d3f,#e7563b)"></i>
<i style="height:5px;background:linear-gradient(90deg,#fbc48a,#fccf97,#fdd9a3,#fee1ae,#fee3b4,#fee5b8,#fee9c0,#fff1d3,#fdf9ec,#f6faf8,#eaf6f7,#e2f2f6,#def1f6,#dbf0f5,#d8eff5,#d6eef4,#d7eef4,#d9eff5,#daeff5,#dcf0f5,#dff1f6,#e2f2f6,#e8f5f7,#f3f9f8,#fdfbf2,#fff3d8,#feeac2,#fee2b1,#fdd7a1,#fcc990,#fbbc80,#fab071,#f8a466,#f6975f,#f48a58,#f27e51,#f0734b,#ee6845,#eb6041,#e8583d,#e55239)"></i>
<i style="height:5px;background:linear-gradient(90deg,#fcc78d,#fdd29b,#fedda8,#fee3b3,#fee4b6,#fee4b5,#fee6b9,#ffebc6,#fff3d7,#fef8e8,#fafbf8,#f0f8f8,#ebf6f7,#e8f5f7,#e5f3f7,#e3f3f6,#e5f3f7,#e7f4f7,#e8f5f7,#eaf6f7,#edf7f8,#f2f8f8,#fafbf8,#fef9ea,#fff3d6,#fee9c1,#fee2b0,#fdd9a4,#fcd098,#fbc58b,#fab97c,#f9ad6e,#f8a165,#f6945d,#f48756,#f27b4f,#f06f49,#ed6543,#e95c3f,#e6553b,#e44e37)"></i>
<i style="height:5px;background:linear-gradient(90deg,#fcc990,#fdd49e,#fedfab,#fee4b6,#fee5b8,#fee4b5,#fee4b5,#fee7bd,#ffecc8,#fff1d2,#fff6df,#fdfbf2,#f8fbf8,#f6faf8,#f4f9f8,#f3f9f8,#f5f9f8,#f7faf8,#fafbf8,#fbfcf8,#fcfbf5,#fef9ea,#fff5db,#ffefcf,#fee9c1,#fee2b1,#fddaa4,#fdd29b,#fccb92,#fbc287,#fab77a,#f9ac6c,#f79f64,#f5915c,#f38455,#f1774e,#ef6b47,#eb6141,#e8593d,#e55139,#e24b36)"></i>
<i style="height:5px;background:linear-gradient(90deg,#fcca91,#fdd69f,#fee0ad,#fee5b7,#fee6b9,#fee4b5,#fee4b4,#fee5b8,#fee8be,#feeac4,#ffeecc,#fff5db,#fef8e6,#fef8e9,#fef8e7,#fef8e5,#fef8e5,#fff7e1,#fff5dc,#fff5dc,#fff5dc,#fff1d2,#feebc4,#fee6bb,#fee2b0,#fddba5,#fdd39d,#fcce96,#fcc88f,#fbc085,#fab679,#f9ab6b,#f79d63,#f58f5b,#f38253,#f1754c,#ee6945,#ea5f40,#e7563b,#e44f37,#e14934)"></i>
<i style="height:5px;background:linear-gradient(90deg,#fccb92,#fdd6a0,#fee0ac,#fee4b5,#fee5b8,#fee4b5,#fee3b4,#fee4b6,#fee6ba,#fee8be,#feebc4,#ffefcf,#fff2d5,#fff1d3,#ffefcd,#ffedca,#ffeecc,#ffeecb,#ffedc8,#ffeecc,#ffeecd,#feeac4,#fee5b7,#fee1ae,#fedba6,#fdd59e,#fccf98,#fccb93,#fcc78d,#fbc084,#fab578,#f9aa6a,#f79c62,#f58e5a,#f28052,#f0734b,#ee6744,#e95c3f,#e6543a,#e34d36,#e04733)"></i>
<i style="height:5px;background:linear-gradient(90deg,#fcca92,#fdd59f,#fedeaa,#fee3b3,#fee4b6,#fee4b5,#fee4b4,#fee4b6,#fee6ba,#fee8be,#feeac4,#ffedc9,#ffedc9,#feebc4,#fee7bc,#fee6b9,#fee7bc,#fee8be,#fee9c0,#ffebc6,#ffecc7,#fee8be,#fee2b1,#fedca8,#fdd6a0,#fdd19a,#fccd95,#fcca91,#fcc68c,#fbbf84,#fab578,#f9a96a,#f79b61,#f48d59,#f27f52,#f0714a,#ed6543,#e95b3e,#e55239,#e24b35,#e04532)"></i>
<i style="height:5px;background:linear-gradient(90deg,#fcca91,#fdd49d,#fedca7,#fee1af,#fee3b3,#fee3b4,#fee4b4,#fee5b7,#fee7bb,#feeac2,#ffecc7,#ffecc7,#feeac2,#fee6ba,#fee3b2,#fee1af,#fee3b2,#fee5b8,#fee9bf,#ffecc7,#ffecc7,#fee8bd,#fee2b0,#fedba5,#fdd49e,#fccf97,#fccc93,#fcc990,#fcc68c,#fbbf84,#fab577,#f9a869,#f79a61,#f48c59,#f27e51,#f0704a,#ed6443,#e85a3d,#e55139,#e24a35,#df4432)"></i>
<i style="height:5px;background:linear-gradient(90deg,#fcc88f,#fdd29a,#fddaa4,#fee0ac,#fee2b1,#fee3b3,#fee4b5,#fee5b8,#fee8be,#ffebc5,#ffedca,#ffebc6,#fee7bd,#fee3b3,#fee0ac,#fedfaa,#fee1af,#fee5b7,#feeac2,#ffeecd,#ffeecc,#fee9c0,#fee2b2,#fedba6,#fdd49d,#fccf97,#fccb92,#fcc88f,#fbc58b,#fbbe82,#fab476,#f9a869,#f69961,#f48b59,#f27d51,#f07049,#ec6443,#e8593d,#e55139,#e24a35,#df4432)"></i>
<i style="height:5px;background:linear-gradient(90deg,#fcc78d,#fccf97,#fdd7a1,#fedda9,#fee1ae,#fee2b1,#fee4b4,#fee6b9,#fee8bf,#ffecc7,#ffeecb,#feebc4,#fee6b9,#fee1af,#fedea9,#fedda9,#fee1ae,#fee5b8,#ffebc6,#fff1d2,#fff0d0,#feeac3,#fee4b4,#fedca7,#fdd49e,#fccf97,#fccb92,#fcc78e,#fbc389,#fbbc80,#fab274,#f8a668,#f69860,#f48a58,#f27d50,#f06f49,#ec6443,#e85a3d,#e55139,#e24a35,#df4432)"></i>
<i style="height:5px;background:linear-gradient(90deg,#fbc58b,#fccd94,#fdd49e,#fddba5,#fedfab,#fee1af,#fee3b3,#fee5b8,#fee8be,#feebc5,#ffecc6,#fee8bf,#fee4b4,#fee0ac,#fedda8,#fedda9,#fee1af,#fee6ba,#ffecc8,#fff1d3,#fff1d2,#ffebc5,#fee5b6,#fedea9,#fdd59f,#fccf98,#fccb92,#fcc68d,#fbc187,#fbba7e,#fab172,#f8a567,#f69860,#f48a58,#f27c50,#f06f49,#ed6443,#e95a3e,#e55239,#e24b35,#df4432)"></i>
<i style="height:5px;background:linear-gradient(90deg,#fbc388,#fcca92,#fdd29b,#fdd8a2,#fedda8,#fee0ad,#fee3b2,#fee5b7,#fee7bc,#fee9c0,#fee8bf,#fee5b8,#fee2b0,#fedfaa,#fedca8,#fedea9,#fee2b0,#fee7bb,#ffedc9,#fff1d2,#fff0d1,#ffebc6,#fee5b8,#fedfab,#fdd7a0,#fdd098,#fccb92,#fcc68c,#fbc085,#fab87c,#f9af70,#f8a467,#f6975f,#f48958,#f27c50,#f07049,#ed6543,#e95b3e,#e5533a,#e24c36,#e04532)"></i>
<i style="height:5px;background:linear-gradient(90deg,#fbc186,#fcc88f,#fccf98,#fdd69f,#fedba6,#fedfab,#fee2b0,#fee4b4,#fee6b9,#fee7bb,#fee5b8,#fee3b2,#fee0ad,#fedda9,#fedca8,#fedeaa,#fee2b1,#fee7bc,#ffecc8,#ffefcf,#ffefce,#ffebc5,#fee5b8,#fee0ac,#fdd7a1,#fdd099,#fcca92,#fbc58b,#fbbe83,#fab77a,#f9ae6f,#f8a266,#f6965f,#f48957,#f27c50,#f07049,#ed6543,#e95c3e,#e6543a,#e34c36,#e04532)"></i>
<i style="height:5px;background:linear-gradient(90deg,#fbc084,#fcc78d,#fccd95,#fdd39c,#fdd8a3,#fedda8,#fee0ad,#fee2b1,#fee4b5,#fee4b6,#fee3b3,#fee1ae,#fedfaa,#fedda8,#fedca8,#fedfab,#fee3b2,#fee7bc,#ffebc5,#ffeecc,#ffedcb,#feeac3,#fee5b8,#fee0ac,#fdd8a2,#fdd199,#fcca91,#fbc48a,#fbbd81,#fab578,#f9ac6d,#f8a165,#f6955e,#f48957,#f27c50,#f0704a,#ed6644,#e95c3f,#e6543a,#e34d36,#e04532)"></i>
</div></div>
<div class="hm" style="left:605.00px;top:52.90px;width:329.00px;height:396.95px">
<div class="hi" style="left:-10px;top:-10px;width:349.00px;filter:blur(2.5px)">
<i style="height:5px;background:linear-gradient(90deg,#eb5f40,#ef6d48,#f1794e,#f38455,#f5905b,#f79f64,#fab375,#fcca91,#fedfab,#fee7bc,#fee9c0,#fff7e1,#eef7f8,#ecf6f8,#ebf6f8,#e5f4f7,#def1f6,#d7eef4,#cee9f2,#c5e4ef,#bee0ed,#b8dceb,#b4daea,#b1d8e9,#afd7e9,#add6e8,#add6e8,#add6e8,#acd5e8,#abd5e7,#a9d4e7,#a6d2e6,#a4d0e5,#a0cee4,#9ccae2,#97c5e0,#90bfdc,#88b7d8,#7fafd4,#78a9d1,#74a5cf)"></i>
<i style="height:5px;background:linear-gradient(90deg,#e95c3f,#ef6a46,#f1764d,#f38253,#f58f5b,#f79e63,#fab375,#fccb93,#fee2b0,#feeac3,#feeac4,#fdf9ed,#e2f2f6,#e4f3f7,#e4f3f6,#dff1f6,#d8eef5,#cfeaf2,#c5e4ef,#bcdfed,#b5dbeb,#b0d8e9,#acd5e8,#a9d3e7,#a7d2e6,#a6d2e6,#a5d1e6,#a5d1e6,#a5d1e6,#a5d1e5,#a3d0e5,#a1cee4,#9ecce3,#9bc9e1,#98c6e0,#94c2de,#8dbcdb,#84b4d7,#7cacd3,#75a6d0,#72a3ce)"></i>
<i style="height:5px;background:linear-gradient(90deg,#e8583c,#ed6644,#f0734b,#f27f52,#f58d5a,#f79e63,#fab476,#fccc93,#fee2b0,#feebc4,#ffeecb,#fafbf8,#daeff5,#dcf0f5,#dcf0f5,#d7eef4,#cfeaf3,#c6e5f0,#bddfed,#b4daea,#add6e8,#a7d3e6,#a3d0e5,#a1cee4,#9fcce3,#9ecbe3,#9ecbe2,#9ecbe3,#9ecbe3,#9ecbe2,#9ccae2,#9ac8e1,#98c6e0,#96c4df,#93c1de,#8fbedc,#89b8d9,#81b1d5,#79aad1,#73a4cf,#70a1cd)"></i>
<i style="height:5px;background:linear-gradient(90deg,#e55339,#eb6141,#f06e48,#f27c50,#f48c59,#f79f64,#fab577,#fccc93,#fee0ad,#fee9c0,#fff1d2,#f4f9f8,#d7eef4,#d3ecf4,#d2ecf3,#cde9f2,#c6e5f0,#bde0ed,#b4daea,#acd5e8,#a5d1e5,#9fcce3,#9bc9e1,#98c6e0,#97c5df,#96c4df,#96c4df,#96c4df,#96c4df,#96c4df,#95c3de,#94c2de,#92c1dd,#90bfdc,#8ebddb,#8ab9d9,#85b4d7,#7eaed4,#77a8d0,#72a3ce,#6fa0cc)"></i>
<i style="height:5px;background:linear-gradient(90deg,#e34c36,#e95a3e,#ee6845,#f1784e,#f48b58,#f7a064,#fab679,#fccb93,#fedea9,#fee7bb,#fff1d4,#f1f8f8,#d5edf4,#c9e7f1,#c7e5f0,#c3e3ef,#bcdfed,#b4daea,#acd5e8,#a3d0e5,#9ccae2,#97c5df,#93c1de,#90bfdc,#8ebddb,#8ebcdb,#8dbcdb,#8ebddb,#8ebddb,#8ebddb,#8ebcdb,#8dbcdb,#8cbbda,#8ab9d9,#88b7d8,#85b4d7,#80b0d5,#7aabd2,#75a6cf,#71a2cd,#6fa0cc)"></i>
<i style="height:5px;background:linear-gradient(90deg,#e04532,#e6533a,#ec6242,#f0744b,#f48857,#f7a064,#fab77a,#fccb93,#fedba6,#fee4b5,#fff0d1,#eff7f8,#d1ebf3,#c1e2ee,#bcdfed,#b9ddec,#b3daea,#acd5e8,#a3d0e5,#9bc9e1,#94c3de,#8fbedc,#8bbada,#88b7d8,#86b6d7,#85b5d7,#85b5d7,#85b5d7,#86b5d7,#86b5d7,#86b5d7,#85b5d7,#85b4d7,#84b3d6,#82b2d6,#80b0d4,#7cacd3,#77a8d1,#73a4ce,#70a1cd,#6fa0cc)"></i>
<i style="height:5px;background:linear-gradient(90deg,#dc3d2e,#e24c36,#e95c3e,#f06e48,#f38555,#f7a064,#fab87b,#fccc94,#fedba5,#fee2b1,#ffeecc,#edf7f8,#cbe8f1,#b9ddec,#b3daea,#b0d8e9,#aad4e7,#a3d0e5,#9bc9e1,#93c1de,#8cbbda,#87b6d8,#83b2d6,#80b0d4,#7eaed4,#7dadd3,#7cadd3,#7dadd3,#7daed3,#7eaed4,#7eaed4,#7eaed4,#7eaed3,#7dadd3,#7cacd3,#7aabd2,#78a8d1,#74a5cf,#71a2ce,#70a0cc,#6fa0cc)"></i>
<i style="height:5px;background:linear-gradient(90deg,#d9352a,#df4431,#e6543a,#ee6845,#f38153,#f79e63,#fab87b,#fccd95,#fedca8,#fee3b2,#ffeecb,#eaf5f7,#c4e4ef,#b2d9ea,#acd5e8,#a8d3e6,#a2cfe5,#9bc8e1,#93c1dd,#8bbada,#84b4d7,#7fafd4,#7aabd2,#77a8d1,#75a6d0,#74a5cf,#74a5cf,#74a5cf,#75a6cf,#75a6d0,#76a7d0,#76a7d0,#76a7d0,#76a7d0,#76a7d0,#75a6d0,#74a5cf,#72a3ce,#70a1cd,#6fa0cc,#70a1cd)"></i>
<i style="height:5px;background:linear-gradient(90deg,#d73027,#dc3b2d,#e34c36,#eb6141,#f27c50,#f79b62,#fab77a,#fcce96,#fee0ac,#fee6b9,#fff1d4,#e6f4f7,#bfe1ee,#acd5e8,#a5d1e6,#a1cee4,#9ac8e1,#93c1dd,#8ab9d9,#83b2d6,#7cacd3,#76a7d0,#72a3ce,#6fa0cc,#6d9ecb,#6c9dca,#6b9cca,#6c9dca,#6c9dcb,#6d9ecb,#6e9fcb,#6f9fcc,#6fa0cc,#70a1cd,#70a1cd,#70a1cd,#70a1cd,#6fa0cc,#6fa0cc,#6fa0cc,#71a2cd)"></i>
<i style="height:5px;background:linear-gradient(90deg,#d73027,#d83228,#df4432,#e8593d,#f1754c,#f6965f,#fab577,#fccd95,#fee1af,#fee9c1,#fff7e0,#e2f2f6,#bcdfed,#a7d3e6,#9fcce3,#9ac8e1,#93c1dd,#8ab9d9,#82b2d6,#7aabd2,#74a5cf,#6e9fcc,#6a9bc9,#6798c7,#6595c6,#6494c6,#6394c5,#6394c5,#6495c6,#6596c6,#6697c7,#6798c8,#6899c8,#699ac9,#6b9cca,#6c9dca,#6d9dcb,#6d9ecb,#6e9fcb,#6fa0cc,#72a3ce)"></i>
<i style="height:5px;background:linear-gradient(90deg,#d73027,#d73027,#dc3b2d,#e55139,#ef6d48,#f58f5b,#f9af71,#fcc990,#fedfab,#feeac3,#fef9e9,#dff1f6,#baddec,#a3d0e5,#99c7e0,#93c1dd,#8bbada,#82b2d6,#7aaad2,#72a3ce,#6b9cca,#6697c7,#6293c5,#5f90c3,#5d8dc2,#5c8cc1,#5b8cc1,#5b8cc1,#5c8dc1,#5d8dc2,#5e8fc2,#6090c3,#6192c4,#6394c5,#6596c7,#6798c8,#699ac9,#6b9cca,#6d9ecb,#70a1cd,#73a4ce)"></i>
<i style="height:5px;background:linear-gradient(90deg,#d73027,#d73027,#d83228,#e14934,#ed6443,#f38656,#f9a768,#fbc186,#fdd8a2,#fee8bd,#fdf9ec,#dcf0f5,#b6dbeb,#9ecbe3,#92c1dd,#8ab9d9,#82b2d6,#79aad2,#71a2cd,#6a9ac9,#6394c5,#5e8fc3,#5b8bc0,#5888bf,#5586bd,#5484bd,#5484bc,#5484bc,#5485bd,#5586bd,#5787be,#5889bf,#5a8bc0,#5d8ec2,#6091c4,#6394c5,#6797c7,#6a9bc9,#6d9ecb,#70a1cd,#75a6cf)"></i>
<i style="height:5px;background:linear-gradient(90deg,#d73027,#d73027,#d73027,#de402f,#e95c3e,#f27c50,#f79d63,#fab87b,#fccf97,#fee3b4,#fef9ea,#d9eff5,#b1d8e9,#99c7e0,#8bbada,#82b2d6,#7aaad2,#71a2cd,#6899c8,#6192c4,#5b8cc1,#5787be,#5484bc,#5181bb,#4f7fb9,#4d7db9,#4c7db8,#4c7db8,#4d7db9,#4e7eb9,#4f80ba,#5182bb,#5484bd,#5788be,#5b8cc1,#6090c3,#6495c6,#699ac9,#6d9ecb,#72a3ce,#77a8d0)"></i>
<i style="height:5px;background:linear-gradient(90deg,#d73027,#d73027,#d73027,#da372b,#e55239,#f0724a,#f5925d,#f9af71,#fcc78d,#fee0ac,#fef8e9,#d5edf4,#acd5e8,#93c2de,#85b4d7,#7aabd2,#71a2cd,#6899c8,#6090c3,#5989bf,#5384bc,#5080ba,#4d7db9,#4b7bb7,#4878b6,#4777b5,#4676b5,#4676b4,#4676b5,#4777b5,#4878b6,#4b7bb7,#4e7eb9,#5282bb,#5787be,#5c8dc1,#6393c5,#6999c8,#6e9fcc,#74a5cf,#7aaad2)"></i>
<i style="height:5px;background:linear-gradient(90deg,#d73027,#d73027,#d73027,#d73027,#e24a35,#ee6945,#f48958,#f9a869,#fbc187,#fedfab,#fdfaee,#d1ebf3,#a8d3e6,#8ebddb,#7eafd4,#73a4ce,#699ac9,#6091c4,#5788bf,#5081ba,#4c7cb8,#4979b6,#4777b5,#4676b4,#4575b4,#4575b4,#4575b4,#4575b4,#4575b4,#4575b4,#4575b4,#4575b4,#4878b5,#4c7cb8,#5282bc,#598ac0,#6192c4,#6999c8,#70a1cc,#76a7d0,#7daed3)"></i>
<i style="height:5px;background:linear-gradient(90deg,#d73027,#d73027,#d73027,#d73027,#de4230,#ec6242,#f38354,#f8a366,#fbbf84,#fee1af,#fcfcf7,#ceeaf2,#a4d1e5,#8ab9d9,#79a9d1,#6c9dcb,#6293c5,#5889bf,#4f7fba,#4878b6,#4575b4,#4575b4,#4575b4,#4575b4,#4575b4,#4575b4,#4575b4,#4575b4,#4575b4,#4575b4,#4575b4,#4575b4,#4575b4,#4777b5,#4e7eb9,#5687be,#6090c3,#699ac9,#72a3ce,#79aad2,#81b1d5)"></i>
<i style="height:5px;background:linear-gradient(90deg,#d73027,#d73027,#d73027,#d73027,#db3b2d,#e95d3f,#f27e51,#f7a064,#fbc085,#fee4b5,#f8faf8,#cbe8f1,#a1cee4,#86b6d8,#74a5cf,#6697c7,#5b8bc1,#5080ba,#4676b5,#4575b4,#4575b4,#4575b4,#4575b4,#4575b4,#4575b4,#4575b4,#4575b4,#4575b4,#4575b4,#4575b4,#4575b4,#4575b4,#4575b4,#4575b4,#4a7ab7,#5484bc,#5f8fc3,#6a9bc9,#74a5cf,#7dadd3,#86b5d7)"></i>
<i style="height:5px;background:linear-gradient(90deg,#d73027,#d73027,#d73027,#d73027,#d9362a,#e85a3d,#f27c50,#f7a064,#fbc388,#fee7bb,#f2f8f8,#c6e5f0,#9ecbe2,#82b2d6,#6fa0cc,#6091c4,#5484bd,#4878b6,#4575b4,#4575b4,#4575b4,#4575b4,#4575b4,#4575b4,#4575b4,#4575b4,#4575b4,#4575b4,#4575b4,#4575b4,#4575b4,#4575b4,#4575b4,#4575b4,#4676b5,#5181bb,#5d8ec2,#6a9bca,#76a7d0,#80b0d5,#8ab9d9)"></i>
<i style="height:5px;background:linear-gradient(90deg,#d73027,#d73027,#d73027,#d73027,#d83329,#e8593d,#f27d50,#f8a366,#fcc88f,#feeac3,#ecf6f8,#bfe1ee,#99c7e0,#7fafd4,#6a9bc9,#5a8bc0,#4d7db9,#4575b4,#4575b4,#4575b4,#4575b4,#4575b4,#4575b4,#4575b4,#4575b4,#4575b4,#4575b4,#4575b4,#4575b4,#4575b4,#4575b4,#4575b4,#4575b4,#4575b4,#4575b4,#4f7fba,#5c8dc1,#6b9bca,#78a9d1,#83b3d6,#8fbedc)"></i>
<i style="height:5px;background:linear-gradient(90deg,#d73027,#d73027,#d73027,#d73027,#d83228,#e85a3e,#f27f52,#f9a768,#fccf97,#ffefce,#e4f3f7,#b7dceb,#94c3de,#7babd2,#6697c7,#5586bd,#4777b5,#4575b4,#4575b4,#4575b4,#4575b4,#4575b4,#4575b4,#4575b4,#4575b4,#4575b4,#4575b4,#4575b4,#4575b4,#4575b4,#4575b4,#4575b4,#4575b4,#4575b4,#4575b4,#4d7db9,#5b8cc1,#6b9bca,#79aad1,#87b6d8,#94c3de)"></i>
<i style="height:5px;background:linear-gradient(90deg,#d73027,#d73027,#d73027,#d73027,#d83228,#e95c3e,#f38254,#f9ac6d,#fdd6a0,#fff6de,#dcf0f5,#b0d8e9,#90bedc,#77a8d0,#6292c5,#5181bb,#4575b4,#4575b4,#4575b4,#4575b4,#4575b4,#4575b4,#4575b4,#4575b4,#4575b4,#4575b4,#4575b4,#4575b4,#4575b4,#4575b4,#4575b4,#4575b4,#4575b4,#4575b4,#4575b4,#4c7cb8,#5b8bc1,#6b9cca,#7babd2,#8ab9d9,#9ac8e1)"></i>
<i style="height:5px;background:linear-gradient(90deg,#d73027,#d73027,#d73027,#d73027,#d93429,#ea5e40,#f38756,#fab273,#fedda9,#fdfaee,#d6eef4,#aad4e7,#8bbada,#73a4ce,#5e8ec2,#4c7cb8,#4575b4,#4575b4,#4575b4,#4575b4,#4575b4,#4575b4,#4575b4,#4575b4,#4575b4,#4575b4,#4575b4,#4575b4,#4575b4,#4575b4,#4575b4,#4575b4,#4575b4,#4575b4,#4575b4,#4b7bb7,#5b8cc1,#6c9dcb,#7eaed4,#8fbedc,#a1cee4)"></i>
<i style="height:5px;background:linear-gradient(90deg,#d73027,#d73027,#d73027,#d73027,#db392c,#ec6342,#f58d5a,#fab87b,#fee3b2,#f9fbf8,#cfeaf2,#a4d1e5,#86b5d7,#6e9fcb,#598ac0,#4979b6,#4575b4,#4575b4,#4575b4,#4575b4,#4575b4,#4575b4,#4575b4,#4575b4,#4575b4,#4575b4,#4575b4,#4575b4,#4575b4,#4575b4,#4575b4,#4575b4,#4575b4,#4575b4,#4575b4,#4c7cb8,#5c8dc1,#6fa0cc,#82b2d6,#96c4df,#aad4e7)"></i>
<i style="height:5px;background:linear-gradient(90deg,#d73027,#d73027,#d73027,#d73027,#dd402f,#ef6a46,#f6965f,#fbbf84,#fee7bc,#f1f8f8,#c6e5f0,#9ecbe2,#80b0d5,#6899c8,#5585bd,#4575b4,#4575b4,#4575b4,#4575b4,#4575b4,#4575b4,#4575b4,#4575b4,#4575b4,#4575b4,#4575b4,#4575b4,#4575b4,#4575b4,#4575b4,#4575b4,#4575b4,#4575b4,#4575b4,#4575b4,#4e7eb9,#5f8fc3,#73a4ce,#88b7d8,#9ecbe3,#b4daea)"></i>
<i style="height:5px;background:linear-gradient(90deg,#d73027,#d73027,#d73027,#d73027,#e14934,#f1754c,#f8a266,#fcc88f,#ffecc8,#e9f5f7,#bddfed,#97c5df,#7aabd2,#6394c5,#5080ba,#4575b4,#4575b4,#4575b4,#4575b4,#4575b4,#4575b4,#4575b4,#4575b4,#4575b4,#4575b4,#4575b4,#4575b4,#4575b4,#4575b4,#4575b4,#4575b4,#4575b4,#4575b4,#4575b4,#4575b4,#5181bb,#6393c5,#77a8d1,#8fbedc,#a8d3e7,#c0e1ee)"></i>
<i style="height:5px;background:linear-gradient(90deg,#d73027,#d73027,#d73027,#d73027,#e6543a,#f38354,#fab072,#fdd59f,#fff3d8,#dff1f6,#b3d9ea,#8fbedc,#74a5cf,#5f8fc3,#4c7cb8,#4575b4,#4575b4,#4575b4,#4575b4,#4575b4,#4575b4,#4575b4,#4575b4,#4575b4,#4575b4,#4575b4,#4575b4,#4575b4,#4575b4,#4575b4,#4575b4,#4575b4,#4575b4,#4575b4,#4777b5,#5686bd,#6898c8,#7dadd3,#97c5df,#b3d9ea,#cde9f2)"></i>
<i style="height:5px;background:linear-gradient(90deg,#d73027,#d73027,#d73027,#d83329,#eb6041,#f6945e,#fbc085,#fee3b3,#fdfaf0,#d5edf4,#a9d3e7,#89b8d9,#70a1cd,#5b8cc1,#4979b7,#4575b4,#4575b4,#4575b4,#4575b4,#4575b4,#4575b4,#4575b4,#4575b4,#4575b4,#4575b4,#4575b4,#4575b4,#4575b4,#4575b4,#4575b4,#4575b4,#4575b4,#4575b4,#4575b4,#4d7db9,#5c8cc1,#6e9fcc,#84b4d7,#9fcde3,#bfe0ee,#daeff5)"></i>
<i style="height:5px;background:linear-gradient(90deg,#d73027,#d73027,#d73027,#dd3e2e,#f06e48,#f8a668,#fdd19a,#ffeecc,#f1f8f8,#c9e6f1,#a0cee4,#83b3d6,#6d9dcb,#598ac0,#4979b6,#4575b4,#4575b4,#4575b4,#4575b4,#4575b4,#4575b4,#4575b4,#4575b4,#4575b4,#4575b4,#4575b4,#4575b4,#4575b4,#4575b4,#4575b4,#4575b4,#4575b4,#4575b4,#4a7ab7,#5686be,#6495c6,#76a7d0,#8cbbda,#a8d3e7,#cbe8f1,#e5f4f7)"></i>
<i style="height:5px;background:linear-gradient(90deg,#d73027,#d73027,#d73027,#e14934,#f27c50,#fab577,#fee0ad,#fff7e2,#e5f3f7,#bee0ed,#9ac8e1,#80b0d4,#6b9cca,#5a8ac0,#4a7bb7,#4575b4,#4575b4,#4575b4,#4575b4,#4575b4,#4575b4,#4575b4,#4575b4,#4575b4,#4575b4,#4575b4,#4575b4,#4575b4,#4575b4,#4575b4,#4575b4,#4575b4,#4a7ab7,#5485bd,#6191c4,#6fa0cc,#80b0d5,#95c3de,#b1d8e9,#d7eef4,#f1f8f8)"></i>
<i style="height:5px;background:linear-gradient(90deg,#d73027,#d73027,#d73027,#e7563b,#f48a58,#fbc085,#fee7bc,#fcfbf4,#dbf0f5,#b5dbea,#95c3de,#7daed3,#6b9cca,#5c8cc1,#4f7fba,#4575b4,#4575b4,#4575b4,#4575b4,#4575b4,#4575b4,#4575b4,#4575b4,#4575b4,#4575b4,#4575b4,#4575b4,#4575b4,#4575b4,#4575b4,#4575b4,#4c7cb8,#5687be,#6292c5,#6e9fcc,#7cadd3,#8dbcdb,#a1cee4,#bbdeec,#e0f2f6,#fdfbf3)"></i>
<i style="height:5px;background:linear-gradient(90deg,#d73027,#d73027,#de4130,#ed6644,#f6975f,#fcc68c,#fee8bf,#f7faf8,#d1ebf3,#add6e8,#91c0dd,#7cadd3,#6c9dcb,#6090c3,#5585bd,#4b7bb7,#4575b4,#4575b4,#4575b4,#4575b4,#4575b4,#4575b4,#4575b4,#4575b4,#4575b4,#4575b4,#4575b4,#4575b4,#4575b4,#4878b6,#5080ba,#5a8bc0,#6697c7,#72a3ce,#7eafd4,#8dbcdb,#9ecbe3,#b1d8e9,#c9e6f1,#eaf6f7,#fff5db)"></i>
<i style="height:5px;background:linear-gradient(90deg,#d73027,#db3a2d,#e7563b,#f27a4f,#f8a567,#fccb92,#fee9c1,#f0f8f8,#c7e5f0,#a7d2e6,#8fbedc,#7dadd3,#6fa0cc,#6495c6,#5c8dc1,#5484bd,#4b7cb8,#4575b4,#4575b4,#4575b4,#4575b4,#4575b4,#4575b4,#4575b4,#4575b4,#4676b5,#4878b6,#4b7bb7,#5080ba,#5788bf,#6091c4,#6b9cca,#78a9d1,#85b4d7,#92c0dd,#a0cde4,#b3d9ea,#c7e5f0,#dcf0f5,#fcfcf7,#feebc5)"></i>
<i style="height:5px;background:linear-gradient(90deg,#dc3c2e,#e55139,#f06f49,#f5925c,#fab375,#fdd39c,#ffefce,#e7f4f7,#c0e1ee,#a4d0e5,#8fbedc,#7fafd4,#72a3ce,#6a9bc9,#6494c6,#5d8ec2,#5585bd,#4d7db9,#4777b5,#4575b4,#4575b4,#4575b4,#4575b4,#4b7bb7,#5181bb,#5585bd,#5888bf,#5c8dc1,#6293c5,#699ac9,#72a3ce,#7eaed4,#8cbbda,#9bc8e1,#a9d3e7,#b8dceb,#cce8f2,#ddf0f5,#f0f8f8,#fff3d6,#fee3b3)"></i>
<i style="height:5px;background:linear-gradient(90deg,#e55239,#ef6945,#f48b58,#f9ac6c,#fbc388,#fedfab,#fff7e1,#e1f2f6,#bddfed,#a3d0e5,#90bfdc,#81b1d5,#76a7d0,#6fa0cc,#6b9cca,#6697c7,#5e8ec2,#5787be,#5283bc,#5181bb,#5282bb,#5383bc,#5787be,#5c8cc1,#6091c4,#6595c6,#6a9ac9,#6fa0cc,#76a7d0,#7daed3,#87b6d8,#94c2de,#a3d0e5,#b4daea,#c3e3ef,#d4edf4,#e4f3f7,#f1f8f8,#fdf9ed,#feebc4,#fedfab)"></i>
<i style="height:5px;background:linear-gradient(90deg,#ee6845,#f38254,#f9a768,#fbc489,#fdd49d,#fee8bf,#fbfcf8,#dbf0f5,#bddfed,#a5d1e6,#93c1dd,#84b4d7,#7aaad2,#74a5cf,#70a1cd,#6d9dcb,#6697c7,#6091c4,#5e8ec2,#5f90c3,#6394c5,#6899c8,#6c9dcb,#6fa0cc,#72a3ce,#76a7d0,#7cadd3,#84b3d6,#8bbada,#94c2de,#9dcbe2,#abd5e8,#bde0ed,#ceeaf2,#def1f5,#eef7f8,#fcfbf5,#fef8e8,#fff2d5,#fee7bc,#fedfab)"></i>
<i style="height:5px;background:linear-gradient(90deg,#f28052,#f69a61,#fbbd82,#fedba6,#fee4b5,#fff3d8,#edf7f8,#d6eef4,#bee0ed,#a9d3e7,#96c4df,#87b7d8,#7daed3,#78a8d1,#75a6cf,#72a2ce,#6d9ecb,#699ac9,#699ac9,#6e9ecb,#76a6d0,#7fafd4,#83b3d6,#83b3d6,#84b4d6,#88b7d8,#8fbedc,#99c6e0,#a2cfe5,#acd6e8,#b7dceb,#c7e5f0,#d8eef5,#e4f3f7,#f3f9f8,#fef7e3,#ffefcf,#fff0cf,#ffecc7,#fee6b9,#fee1af)"></i>
<i style="height:5px;background:linear-gradient(90deg,#f69960,#f9af71,#fcce96,#fee7bd,#fff0d1,#fafbf8,#def1f6,#ceeaf2,#bfe1ee,#acd5e8,#99c7e0,#8ab9d9,#81b0d5,#7babd2,#78a9d1,#76a7d0,#74a5cf,#72a3ce,#75a5cf,#7cacd3,#87b7d8,#94c3de,#9ac7e1,#97c5df,#97c5df,#9bc8e1,#a3d0e5,#afd7e9,#bbdeec,#c8e6f0,#d5edf4,#e2f2f6,#eef7f8,#f9fbf8,#fef7e3,#ffecc7,#fee7bc,#feeac2,#fee9c0,#fee6ba,#fee5b7)"></i>
<i style="height:5px;background:linear-gradient(90deg,#fab274,#fbc288,#fddaa5,#ffeecc,#fdfbf2,#e4f3f7,#ceeaf2,#c6e5f0,#bee0ed,#add6e8,#9bc8e1,#8dbcdb,#84b3d6,#7eaed4,#7cacd3,#7babd2,#7aabd2,#7bacd3,#80b0d4,#89b8d9,#98c6e0,#a8d3e6,#aed6e8,#a9d4e7,#aad4e7,#b0d8e9,#b9ddec,#c7e6f0,#d5edf4,#e0f2f6,#eef7f8,#fcfbf4,#fef8e6,#fff5dc,#ffedcb,#fee5b7,#fee3b3,#fee7bb,#fee6ba,#fee6bb,#fee9c0)"></i>
<i style="height:5px;background:linear-gradient(90deg,#fcca91,#fdd8a2,#fee5b8,#fff6de,#edf7f8,#d5edf4,#c1e2ee,#bddfed,#b9ddec,#abd5e8,#9bc9e1,#8fbedc,#87b6d8,#82b2d6,#80b0d5,#81b1d5,#82b2d6,#86b5d7,#8bbada,#96c4df,#a6d2e6,#b7dceb,#bcdfed,#badeec,#c0e1ee,#c9e6f0,#d3ecf4,#e0f1f6,#eaf5f7,#f5faf8,#fef8e6,#ffedca,#ffebc5,#feebc5,#fee6ba,#fee1ad,#fee0ad,#fee3b4,#fee4b5,#fee7bc,#ffedca)"></i>
<i style="height:5px;background:linear-gradient(90deg,#fee3b2,#ffebc5,#fff5db,#f7faf8,#ddf0f5,#c6e5f0,#b7dceb,#b4daea,#b2d9e9,#a7d3e6,#9bc9e1,#91c0dd,#8abada,#87b6d8,#86b6d8,#88b8d8,#8cbbda,#91c0dd,#98c6e0,#a3d0e5,#b5dbeb,#c5e4f0,#c9e7f1,#cce8f1,#d7eef4,#e1f2f6,#edf6f8,#f8fbf8,#fdfbf2,#fff6e0,#ffecc7,#fee2b1,#fee2b0,#fee4b4,#fee1ae,#fedba6,#fedca7,#fee0ac,#fee2b0,#fee8bf,#fff3d8)"></i>
<i style="height:5px;background:linear-gradient(90deg,#fff4d9,#fcfbf4,#f1f8f8,#e0f2f6,#cee9f2,#bcdfed,#b0d8e9,#acd6e8,#aad4e7,#a3d0e5,#9bc8e1,#94c2de,#90bedc,#8ebcdb,#8ebddb,#92c1dd,#99c6e0,#a0cde4,#a8d3e7,#b4daea,#c6e5f0,#d6eef4,#daeff5,#e0f2f6,#ecf6f8,#fafbf8,#fff6e0,#fff1d3,#fff0d1,#ffecc6,#fee3b2,#fdd8a3,#fdd8a2,#fedca7,#fddaa5,#fdd7a1,#fdd9a3,#fedda8,#fee2b1,#ffedc9,#fdfaee)"></i>
<i style="height:5px;background:linear-gradient(90deg,#f7faf8,#e4f3f7,#dbf0f5,#d2ecf3,#c3e3ef,#b5dbeb,#abd5e7,#a7d2e6,#a4d1e5,#a0cde4,#9bc9e1,#98c6e0,#97c5df,#97c5df,#99c7e0,#9fcce3,#a8d3e7,#b3d9ea,#bcdfed,#c8e6f0,#daeff5,#e8f5f7,#eff8f8,#fafbf8,#fef8e5,#ffefcf,#fee6ba,#fee4b4,#fee6b9,#fee3b3,#fddaa4,#fdd099,#fccf98,#fdd39c,#fdd39d,#fdd49d,#fdd8a3,#fee0ac,#fee7bc,#fff6df,#f0f8f8)"></i>
<i style="height:5px;background:linear-gradient(90deg,#e7f4f7,#d6eef4,#cfeaf2,#cbe8f1,#c0e1ee,#b2d9ea,#a8d3e6,#a3d0e5,#a1cfe4,#9fcde3,#9ecbe3,#9fcce3,#a1cee4,#a3d0e5,#a7d2e6,#b0d7e9,#bcdfed,#c9e7f1,#d6eef4,#e1f2f6,#f1f8f8,#fdfbf3,#fff6de,#ffeecb,#fee7bb,#fedfab,#fdd59f,#fdd59f,#fedca7,#fedba6,#fdd19a,#fcc990,#fcc88f,#fccb93,#fcce96,#fdd39c,#fedda8,#fee6ba,#fff3d7,#f2f9f8,#ddf0f5)"></i>
<i style="height:5px;background:linear-gradient(90deg,#def1f6,#d0ebf3,#cae7f1,#cae7f1,#c0e1ee,#b1d8e9,#a7d2e6,#a3d0e5,#a2cfe4,#a2cfe4,#a3d0e5,#a8d3e7,#afd7e9,#b5dbea,#badeec,#c5e4ef,#d5edf4,#e0f2f6,#ecf6f8,#fcfcf7,#fff5db,#ffecc7,#fee4b5,#fddaa4,#fdd099,#fcc88f,#fbc48a,#fcc88e,#fdd099,#fdd29a,#fcca91,#fbc489,#fbc388,#fcc68c,#fccc93,#fdd59f,#fee3b3,#fff0d1,#f8fbf8,#dbf0f5,#c8e6f0)"></i>
<i style="height:5px;background:linear-gradient(90deg,#daeff5,#d0ebf3,#cae7f1,#c8e6f0,#bee0ed,#b0d8e9,#a8d3e6,#a5d1e6,#a6d2e6,#a8d3e6,#add6e8,#b7dceb,#c2e2ef,#cce8f1,#d4edf4,#dff1f6,#ebf6f8,#f8fbf8,#fef7e4,#ffecc8,#fee2b0,#fdd6a0,#fcca92,#fbc085,#fab97c,#fab577,#fab577,#fbbb7f,#fbc48a,#fcc78e,#fbc388,#fbbe83,#fbbf83,#fbc389,#fccc93,#fddaa5,#feeac4,#fdfaee,#e5f3f7,#c8e6f0,#b6dbeb)"></i>
<i style="height:5px;background:linear-gradient(90deg,#d8eef5,#d2ecf3,#cce8f1,#c6e5f0,#bcdfed,#b1d8e9,#abd5e7,#abd5e8,#afd7e9,#b3daea,#bbdeec,#cae7f1,#d8eff5,#e3f3f6,#edf7f8,#fafbf8,#fef8e6,#fff0d0,#fee5b8,#fdd7a1,#fcc78d,#fbbb7f,#fab172,#f9a969,#f8a466,#f8a266,#f8a668,#f9af70,#fab87b,#fbbc80,#fbbb7f,#faba7d,#fbbd81,#fbc489,#fccf98,#fee2b0,#fff4da,#f0f8f8,#d7eef4,#bcdfed,#a9d4e7)"></i>
<i style="height:5px;background:linear-gradient(90deg,#d6eef4,#d3ecf4,#cce8f2,#c5e4f0,#bcdfed,#b3d9ea,#b1d8e9,#b6dbeb,#bde0ed,#c5e4ef,#d1ebf3,#e0f2f6,#eef7f8,#fcfcf8,#fff6de,#ffedc9,#fee5b7,#fddaa5,#fcca92,#fbba7e,#f9ad6d,#f7a065,#f6975f,#f5905c,#f58e5a,#f5905b,#f6975f,#f8a265,#f9ad6d,#fab274,#fab477,#fab679,#fbbc80,#fcc78e,#fdd8a2,#feeac2,#fcfcf8,#e0f2f6,#c9e7f1,#b3d9ea,#a0cde3)"></i>
<i style="height:5px;background:linear-gradient(90deg,#d2ecf3,#d0ebf3,#cce8f2,#c6e5f0,#bfe1ee,#b8ddec,#bbdeec,#c5e4ef,#d1ebf3,#dbf0f5,#e9f5f7,#fafbf8,#fff6de,#feebc5,#fee1ae,#fdd49d,#fcc78e,#fbbb7e,#f9ad6e,#f79e63,#f5905b,#f38555,#f27e51,#f17a4f,#f27b4f,#f28052,#f48958,#f6955e,#f8a165,#f9aa6a,#f9af70,#fab476,#fbbe82,#fcce96,#fee3b3,#fff6df,#e7f4f7,#cee9f2,#baddec,#a9d3e7,#96c4df)"></i>
<i style="height:5px;background:linear-gradient(90deg,#cde9f2,#cce8f1,#cce8f2,#cbe7f1,#c6e5f0,#c3e3ef,#cae7f1,#d8eff5,#e5f3f7,#f2f9f8,#fef8e8,#ffedc9,#fee0ad,#fcce96,#fbbf83,#fab274,#f9a768,#f79a61,#f48d5a,#f28052,#f1754c,#ef6c47,#ee6744,#ed6644,#ef6946,#f0714a,#f27d51,#f48b59,#f69860,#f8a266,#f9ab6b,#fab375,#fbc186,#fdd8a2,#ffeecc,#f3f9f8,#d1ebf3,#b6dbeb,#a7d2e6,#9ac8e1,#8ab9d9)"></i>
<i style="height:5px;background:linear-gradient(90deg,#cae7f1,#c9e7f1,#cfeaf2,#d3edf4,#d4edf4,#d5edf4,#def1f6,#ecf6f8,#fcfcf8,#fff4d9,#fee6b9,#fdd29b,#fbbc80,#f9aa6a,#f69a61,#f58e5a,#f38354,#f1794e,#f06f49,#ed6543,#e95d3f,#e7573c,#e6543a,#e6553b,#e95b3e,#ed6543,#f0724b,#f38254,#f5915c,#f79d63,#f9a869,#fab376,#fcc58b,#fee1af,#fef8e8,#dff1f6,#b7dceb,#9fcce3,#93c2de,#89b8d9,#7bacd2)"></i>
<i style="height:5px;background:linear-gradient(90deg,#cbe8f1,#cbe8f1,#d7eef4,#dff1f6,#e4f3f6,#eaf5f7,#f7faf8,#fef8e5,#ffedc9,#fee0ac,#fcc88e,#f9af71,#f6955e,#f38053,#f0734b,#ef6946,#ec6242,#e95b3e,#e6543a,#e34e37,#e14734,#df4331,#df4231,#e04633,#e34e37,#e85a3d,#ef6a46,#f27c50,#f48d5a,#f79b61,#f9a769,#fab578,#fccb92,#fee8be,#f5faf8,#cbe8f1,#a0cde4,#8bbada,#81b1d5,#78a8d1,#6c9dca)"></i>
<i style="height:5px;background:linear-gradient(90deg,#d3ecf4,#d5edf4,#e3f3f6,#eef7f8,#f8faf8,#fef9e9,#ffefce,#fee5b7,#fdd59e,#fbbf83,#f8a668,#f48857,#ef6d47,#e95b3e,#e55139,#e24b35,#e04633,#de4230,#dc3d2e,#da382b,#d93429,#d83128,#d83228,#da372b,#de4230,#e45138,#ec6342,#f1784e,#f48c59,#f79b62,#f9a96a,#fab97c,#fdd199,#ffefcd,#e8f5f7,#b8dceb,#8fbedc,#7babd2,#70a1cd,#6798c8,#5d8ec2)"></i>
<i style="height:5px;background:linear-gradient(90deg,#e0f2f6,#e7f4f7,#f7faf8,#fdf9ec,#fff3d7,#fee8bf,#fedba5,#fcc990,#fab578,#f79d63,#f38153,#ed6443,#e24b35,#db3b2d,#d83429,#d73027,#d73027,#d73027,#d73027,#d73027,#d73027,#d73027,#d73027,#d73027,#da372b,#e14834,#ea5f40,#f1774d,#f48d5a,#f79e63,#f9ad6e,#fbbe83,#fdd8a3,#fff5dc,#ddf0f5,#aad4e7,#84b4d7,#70a0cc,#6494c6,#598ac0,#5080ba)"></i>
<i style="height:5px;background:linear-gradient(90deg,#f3f9f8,#fdfaed,#fff3d6,#ffebc6,#fee3b2,#fdd39c,#fbbf84,#f9ac6c,#f6955e,#f27b50,#eb6041,#e04733,#d73027,#d73027,#d73027,#d73027,#d73027,#d73027,#d73027,#d73027,#d73027,#d73027,#d73027,#d73027,#d73027,#de4130,#e95b3e,#f1784e,#f5915c,#f8a466,#fab375,#fcc68c,#fee2b0,#fdfaf0,#d1ebf3,#a1cee4,#7eaed4,#699ac9,#5a8bc0,#4e7eb9,#4575b4)"></i>
<i style="height:5px;background:linear-gradient(90deg,#fef8e6,#ffecc8,#fee3b4,#fedba5,#fccc93,#faba7d,#f8a567,#f58d5a,#f1754c,#ea5e3f,#e04633,#d73027,#d73027,#d73027,#d73027,#d73027,#d73027,#d73027,#d73027,#d73027,#d73027,#d73027,#d73027,#d73027,#d73027,#db3a2c,#e85a3d,#f27c50,#f69860,#f9ab6b,#fbba7e,#fdd098,#feeac3,#f3f9f8,#c5e4ef,#9ac8e1,#7cacd3,#6697c7,#5485bd,#4676b4,#4575b4)"></i>
<i style="height:5px;background:linear-gradient(90deg,#ffeecc,#fee2b1,#fdd39d,#fcc68c,#fab679,#f8a266,#f48a58,#f0724a,#e95b3e,#e04532,#d73027,#d73027,#d73027,#d73027,#d73027,#d73027,#d73027,#d73027,#d73027,#d73027,#d73027,#d73027,#d73027,#d73027,#d73027,#d93429,#e8593d,#f38354,#f8a265,#fab374,#fbc287,#fedba5,#fff3d8,#e6f4f7,#bbdeec,#96c4df,#7babd2,#6596c6,#5181bb,#4575b4,#4575b4)"></i>
<i style="height:5px;background:linear-gradient(90deg,#fee6b9,#fdd8a2,#fcc68c,#fab577,#f8a266,#f48b59,#f0734b,#e95b3e,#e04633,#d73128,#d73027,#d73027,#d73027,#d73027,#d73027,#d73027,#d73027,#d73027,#d73027,#d73027,#d73027,#d73027,#d73027,#d73027,#d73027,#d73027,#e95a3e,#f48b59,#f9ac6c,#fbba7e,#fcca91,#fee3b3,#fdfaee,#dcf0f5,#b3daea,#93c1dd,#7babd2,#6596c7,#4e7eb9,#4575b4,#4575b4)"></i>
<i style="height:5px;background:linear-gradient(90deg,#fedca8,#fccd95,#faba7d,#f8a567,#f58f5b,#f1774e,#eb6041,#e24a35,#d93429,#d73027,#d73027,#d73027,#d73027,#d73027,#d73027,#d73027,#d73027,#d73027,#d73027,#d73027,#d73027,#d73027,#d73027,#d73027,#d73027,#d73027,#ea5d3f,#f5935d,#fab376,#fbc187,#fdd19a,#fee9c2,#f5f9f8,#d0ebf3,#abd5e7,#8fbedc,#7aabd2,#6595c6,#4b7bb7,#4575b4,#4575b4)"></i>
<i style="height:5px;background:linear-gradient(90deg,#fccf97,#fbc186,#f9ad6e,#f6965e,#f27e51,#ee6744,#e55139,#dc3c2d,#d73027,#d73027,#d73027,#d73027,#d73027,#d73027,#d73027,#d73027,#d73027,#d73027,#d73027,#d73027,#d73027,#d73027,#d73027,#d73027,#d73027,#d83329,#ec6242,#f69860,#fab87b,#fcc78e,#fdd9a3,#fff0d0,#e8f5f7,#c3e3ef,#a3d0e5,#8bbada,#77a8d1,#6192c4,#4676b5,#4575b4,#4575b4)"></i>
<i style="height:5px;background:linear-gradient(90deg,#fbc186,#fab274,#f79e63,#f48756,#f07049,#e95b3e,#e04633,#d73128,#d73027,#d73027,#d73027,#d73027,#d73027,#d73027,#d73027,#d73027,#d73027,#d73027,#d73027,#d73027,#d73027,#d73027,#d73027,#d73027,#d73027,#dc3c2e,#ef6945,#f79b62,#fbbb7e,#fccd94,#fee1ae,#fff7e2,#dcf0f5,#b7dceb,#9cc9e2,#87b6d8,#73a4cf,#5c8dc1,#4575b4,#4575b4,#4575b4)"></i>
<i style="height:5px;background:linear-gradient(90deg,#fab375,#f8a366,#f58f5b,#f1794f,#ed6443,#e55138,#dc3d2e,#d73027,#d73027,#d73027,#d73027,#d73027,#d73027,#d73027,#d73027,#d73027,#d73027,#d73027,#d73027,#d73027,#d73027,#d73027,#d73027,#d73027,#d73027,#e14733,#f0724a,#f79f64,#fbbd81,#fdd19a,#fee7bc,#fbfcf8,#d0ebf3,#add6e8,#96c4df,#83b3d6,#6fa0cc,#5888bf,#4575b4,#4575b4,#4575b4)"></i>
<i style="height:5px;background:linear-gradient(90deg,#f8a567,#f5935d,#f38153,#f06e48,#e95b3e,#e14934,#da372b,#d73027,#d73027,#d73027,#d73027,#d73027,#d73027,#d73027,#d73027,#d73027,#d73027,#d73027,#d73027,#d73027,#d73027,#d73027,#d73027,#d73027,#d83128,#e6533a,#f27c50,#f8a567,#fbbf84,#fdd6a0,#ffedca,#f0f8f8,#c7e6f0,#a6d2e6,#91c0dd,#80b0d5,#6d9ecb,#5485bd,#4575b4,#4575b4,#4575b4)"></i>
<i style="height:5px;background:linear-gradient(90deg,#f69860,#f38656,#f1754c,#ed6443,#e6543a,#df4331,#d83329,#d73027,#d73027,#d73027,#d73027,#d73027,#d73027,#d73027,#d73027,#d73027,#d73027,#d73027,#d73027,#d73027,#d73027,#d73027,#d73027,#d73027,#dc3d2e,#eb6040,#f48857,#f9ac6c,#fbc388,#fddaa5,#fff2d5,#e8f5f7,#c0e1ee,#a1cfe4,#8ebddb,#7fafd4,#6c9dca,#5384bc,#4575b4,#4575b4,#4575b4)"></i>
<i style="height:5px;background:linear-gradient(90deg,#f48d59,#f27c50,#ef6c47,#ea5d3f,#e44e37,#dd3f2f,#d73127,#d73027,#d73027,#d73027,#d73027,#d73027,#d73027,#d73027,#d73027,#d73027,#d73027,#d73027,#d73027,#d73027,#d73027,#d73027,#d73027,#d73027,#e14834,#ef6c47,#f6945d,#fab375,#fcc78e,#fedda9,#fff6dd,#e1f2f6,#baddec,#9ecbe3,#8dbcdb,#7fafd4,#6d9ecb,#5484bd,#4575b4,#4575b4,#4575b4)"></i>
<i style="height:5px;background:linear-gradient(90deg,#f38354,#f1744c,#ed6544,#e8583c,#e24a35,#dc3d2e,#d73027,#d73027,#d73027,#d73027,#d73027,#d73027,#d73027,#d73027,#d73027,#d73027,#d73027,#d73027,#d73027,#d73027,#d73027,#d73027,#d73027,#d9352a,#e5533a,#f1774e,#f79f64,#fbbb7f,#fccc93,#fee0ac,#fef8e5,#daeff5,#b3daea,#9bc9e1,#8dbcdb,#81b1d5,#6fa0cc,#5787be,#4575b4,#4575b4,#4575b4)"></i>
<i style="height:5px;background:linear-gradient(90deg,#f27b50,#f06d48,#eb6041,#e6543a,#e14834,#dc3c2e,#d73128,#d73027,#d73027,#d73027,#d73027,#d73027,#d73027,#d73027,#d73027,#d73027,#d73027,#d73027,#d73027,#d73027,#d73027,#d73027,#d73027,#dd3e2e,#e95c3f,#f38153,#f9a869,#fbc287,#fdd19a,#fee3b2,#fdfaee,#d3ecf4,#aed6e8,#99c7e0,#8cbbda,#82b2d5,#71a2cd,#598ac0,#4575b4,#4575b4,#4575b4)"></i>
<i style="height:5px;background:linear-gradient(90deg,#f1754c,#ee6845,#e95d3f,#e55139,#e04733,#dc3d2e,#d83329,#d73027,#d73027,#d73027,#d73027,#d73027,#d73027,#d73027,#d73027,#d73027,#d73027,#d73027,#d73027,#d73027,#d73027,#d73027,#d73027,#e04733,#ed6443,#f48857,#f9ad6d,#fbc58b,#fdd59f,#fee7bc,#fafbf8,#cee9f2,#abd5e7,#97c5e0,#8cbbda,#82b2d6,#72a3ce,#5c8dc1,#4575b4,#4575b4,#4575b4)"></i>
<i style="height:5px;background:linear-gradient(90deg,#f06f49,#ed6443,#e85a3d,#e45038,#e04633,#dd3e2e,#d9362a,#d73027,#d73027,#d73027,#d73027,#d73027,#d73027,#d73027,#d73027,#d73027,#d73027,#d73027,#d73027,#d73027,#d73027,#d73027,#da382b,#e44f37,#ef6a46,#f48c59,#f9ae6e,#fbc58b,#fdd8a3,#ffebc6,#f4f9f8,#cce8f1,#aad4e7,#97c5df,#8cbbda,#82b1d5,#73a4ce,#5f90c3,#4979b6,#4575b4,#4575b4)"></i>
<i style="height:5px;background:linear-gradient(90deg,#ef6b46,#eb6141,#e8583c,#e44f38,#e04733,#dd402f,#db392c,#d93429,#d73027,#d73027,#d73027,#d73027,#d73027,#d73027,#d73027,#d73027,#d73027,#d73027,#d73027,#d73027,#d73027,#d73128,#de4130,#e7563b,#f07049,#f58f5b,#f9ad6d,#fbc389,#fddaa4,#ffefcd,#eff8f8,#cae7f1,#aad4e7,#97c5df,#8cbbda,#82b1d5,#74a5cf,#6293c5,#4e7eb9,#4575b4,#4575b4)"></i>
<i style="height:5px;background:linear-gradient(90deg,#ee6745,#ea5f40,#e7573c,#e44f38,#e14834,#de4231,#dc3d2e,#db392c,#d9362a,#d83328,#d73027,#d73027,#d73027,#d73027,#d73027,#d73027,#d73027,#d73027,#d73027,#d73027,#d83228,#dc3c2d,#e24a35,#ea5d3f,#f1754c,#f5905b,#f9ab6b,#fbc186,#fdd9a3,#fff0d0,#edf7f8,#c9e7f1,#aad4e7,#97c5e0,#8cbbda,#82b2d6,#76a7d0,#6696c7,#5383bc,#4575b4,#4575b4)"></i>
<i style="height:5px;background:linear-gradient(90deg,#ed6443,#ea5d3f,#e7563b,#e44f38,#e24a35,#e04532,#de4130,#dd3e2f,#dc3c2e,#db3a2c,#da372b,#d93429,#d83228,#d83128,#d73128,#d73128,#d73128,#d83128,#d83329,#da372b,#dc3d2e,#e04633,#e6543a,#ed6543,#f27a4f,#f5925c,#f9a96a,#fbbe82,#fdd7a1,#fff0d0,#ebf6f8,#c7e6f0,#aad4e7,#98c6e0,#8ebddb,#84b4d7,#78a9d1,#6a9ac9,#5889bf,#4777b5,#4575b4)"></i>
<i style="height:5px;background:linear-gradient(90deg,#ec6242,#e95b3e,#e6553b,#e45038,#e24b36,#e14834,#e04532,#df4432,#df4331,#de4130,#dd3f2f,#dd3e2e,#dc3d2e,#dc3c2d,#dc3c2e,#dc3d2e,#dc3d2e,#dd3d2e,#dd3f2f,#df4331,#e14934,#e55139,#ea5d3f,#ef6c47,#f27f52,#f5935d,#f9a869,#fbbb7f,#fdd49d,#ffeecd,#ebf6f7,#c5e4ef,#aad4e7,#9ac8e1,#90bfdc,#87b7d8,#7cacd3,#6e9fcc,#5e8fc3,#4e7eb9,#4575b4)"></i>
<i style="height:5px;background:linear-gradient(90deg,#eb6041,#e95a3e,#e6553b,#e55139,#e34e37,#e24b36,#e24a35,#e14934,#e14934,#e14834,#e14834,#e04733,#e04633,#e04733,#e14733,#e14834,#e14934,#e24a35,#e24c36,#e44f38,#e6553b,#e95c3f,#ee6744,#f1754c,#f38555,#f6965f,#f9a969,#faba7d,#fdd199,#ffecc8,#eaf5f7,#c3e3ef,#aad4e7,#9dcbe2,#94c2de,#8bbada,#80b0d5,#73a4cf,#6495c6,#5585bd,#4575b4)"></i>
<i style="height:5px;background:linear-gradient(90deg,#ea5e40,#e85a3d,#e7553b,#e55239,#e45038,#e44f37,#e34e37,#e44e37,#e44f38,#e44f38,#e45038,#e45038,#e45038,#e55139,#e55239,#e6533a,#e6543a,#e7563b,#e8583c,#e95b3e,#eb6041,#ee6845,#f0714a,#f27e51,#f48c59,#f79b61,#f9aa6b,#faba7e,#fcd098,#feebc5,#eaf5f7,#c2e3ef,#add6e8,#a1cfe4,#99c7e0,#90bedc,#85b5d7,#79a9d1,#6b9bca,#5c8cc1,#4c7cb8)"></i>
<i style="height:5px;background:linear-gradient(90deg,#ea5d3f,#e8593d,#e7563b,#e6543a,#e55239,#e55239,#e55339,#e6543a,#e6553b,#e7563c,#e7583c,#e8593d,#e85a3d,#e95b3e,#e95d3f,#ea5e40,#eb6040,#ec6242,#ed6443,#ee6845,#ef6d48,#f1744b,#f27d50,#f48756,#f5935d,#f7a065,#f9ae6f,#fbbc80,#fdd19a,#ffecc7,#eaf6f7,#c6e5f0,#b2d9e9,#a7d2e6,#9ecce3,#95c3de,#8ab9d9,#7eaed4,#71a1cd,#6293c5,#5383bc)"></i>
<i style="height:5px;background:linear-gradient(90deg,#e95c3f,#e8593d,#e7573c,#e6553b,#e6553b,#e7563b,#e7573c,#e8593d,#e95b3e,#ea5e3f,#eb6040,#eb6141,#ec6342,#ed6543,#ee6744,#ef6945,#ef6b47,#f06e48,#f0714a,#f1754c,#f27a4f,#f28053,#f48857,#f5915c,#f79c62,#f9a869,#fab375,#fbc085,#fdd59e,#ffeecc,#ecf6f8,#cce8f1,#b7dceb,#add6e8,#a4d1e5,#9ac7e1,#8ebddb,#83b2d6,#76a7d0,#6899c8,#5989bf)"></i>
<i style="height:5px;background:linear-gradient(90deg,#e95c3e,#e8593d,#e7583c,#e7573c,#e8583c,#e8593d,#e95c3e,#ea5e40,#eb6241,#ed6543,#ee6745,#ef6a46,#ef6d47,#f06f49,#f0724a,#f1754c,#f1784e,#f27b4f,#f27e52,#f38354,#f48757,#f48d5a,#f6945e,#f79c62,#f8a668,#fab071,#faba7d,#fcc68c,#fdd9a4,#fff0cf,#eef7f8,#d1ebf3,#bddfed,#b3d9ea,#a9d3e7,#9dcbe2,#92c1dd,#87b6d8,#7babd2,#6d9ecb,#5e8ec2)"></i>
<i style="height:5px;background:linear-gradient(90deg,#e95b3e,#e85a3d,#e8593d,#e8593d,#e95b3e,#ea5d3f,#eb6041,#ec6443,#ee6845,#ef6c47,#f07049,#f0734b,#f1764d,#f17a4f,#f27d51,#f28052,#f38454,#f48857,#f48c59,#f5905b,#f6955e,#f69a61,#f7a064,#f9a769,#fab071,#fab87c,#fbc287,#fccd95,#fedda9,#fff1d2,#eef7f8,#d3ecf4,#bfe1ee,#b6dbeb,#acd5e8,#a0cde4,#95c3de,#8ab9d9,#7eaed4,#71a2cd,#6293c5)"></i>
<i style="height:5px;background:linear-gradient(90deg,#e95c3e,#e95a3e,#e95a3e,#e95c3e,#ea5e40,#eb6141,#ed6543,#ef6946,#f06e48,#f0734b,#f1784e,#f27c50,#f28052,#f38455,#f48857,#f48b59,#f5905b,#f6945e,#f69960,#f79d63,#f8a265,#f8a768,#f9ac6c,#fab273,#fab97c,#fbc287,#fccc93,#fdd59f,#fee1ae,#fff1d3,#edf7f8,#d1ebf3,#bee0ed,#b5dbeb,#acd5e8,#a1cee4,#96c4df,#8bbada,#80b0d5,#73a4cf,#6595c6)"></i>
<i style="height:5px;background:linear-gradient(90deg,#e95c3f,#e95b3e,#e95c3f,#ea5e40,#eb6141,#ed6543,#ef6a46,#f06f49,#f1754c,#f27b4f,#f28052,#f38555,#f48958,#f58e5a,#f5925c,#f6965f,#f79b62,#f7a064,#f8a567,#f9aa6a,#f9ae6f,#fab273,#fab679,#fbbc7f,#fbc388,#fccc94,#fdd6a0,#fedfaa,#fee3b4,#fff1d3,#eaf5f7,#cce8f2,#badeec,#b2d9ea,#a9d4e7,#a0cde3,#96c4df,#8cbbda,#81b1d5,#74a5cf,#6697c7)"></i>
<i style="height:5px;background:linear-gradient(90deg,#ea5d3f,#ea5d3f,#ea5e40,#eb6141,#ed6543,#ef6946,#f06f49,#f1754c,#f27b50,#f38253,#f48857,#f58d5a,#f5925d,#f6975f,#f79c62,#f8a165,#f8a668,#f9ab6b,#fab071,#fab577,#fab97c,#fbbc80,#fbc085,#fcc58c,#fccd94,#fdd6a0,#fee1ad,#fee6b9,#fee7bb,#fff1d4,#e5f4f7,#c5e4ef,#b5dbeb,#add6e8,#a6d2e6,#9dcbe2,#94c3de,#8bbada,#80b0d5,#74a5cf,#6798c8)"></i>
<i style="height:5px;background:linear-gradient(90deg,#ea5e40,#ea5f40,#eb6141,#ed6443,#ee6945,#f06e48,#f1744c,#f27b4f,#f38253,#f48957,#f5905b,#f6955e,#f79b61,#f7a064,#f8a567,#f9ab6b,#f9af71,#fab477,#fab97d,#fbbe83,#fbc288,#fcc68c,#fcca91,#fccf98,#fdd7a1,#fee0ad,#fee7bb,#ffecc7,#ffebc6,#fff4da,#dff1f6,#bfe1ee,#b0d8e9,#a8d3e7,#a1cfe4,#9ac8e1,#92c1dd,#89b8d9,#7fafd4,#74a5cf,#6798c7)"></i>
<i style="height:5px;background:linear-gradient(90deg,#eb6041,#eb6141,#ec6443,#ee6845,#ef6d47,#f0734b,#f1794f,#f38153,#f48857,#f58f5b,#f6975f,#f79d63,#f8a366,#f9a969,#f9ae6f,#fab375,#fab87b,#fbbd81,#fbc288,#fcc78e,#fccc93,#fccf98,#fdd49d,#fdd9a4,#fee0ad,#fee6ba,#ffecc8,#fff1d2,#fff2d4,#fdf9ed,#dcf0f5,#bcdfed,#acd5e8,#a4d0e5,#9ecbe2,#97c5df,#8fbedc,#87b6d8,#7daed3,#72a3ce,#6697c7)"></i>
<i style="height:5px;background:linear-gradient(90deg,#ec6342,#ed6443,#ee6744,#ef6b47,#f0714a,#f1784e,#f27f52,#f38656,#f58e5a,#f6965f,#f79d63,#f8a467,#f9ab6b,#fab071,#fab577,#fbba7e,#fbc084,#fcc58b,#fccb92,#fdd098,#fdd49e,#fdd8a3,#fedda8,#fee2af,#fee6ba,#ffebc6,#fff1d3,#fff6de,#fef8e6,#f6faf8,#d8eff5,#bbdeec,#aad4e7,#a1cee4,#9ac8e1,#94c2de,#8cbbda,#84b4d7,#7babd2,#71a2cd,#6596c6)"></i>
</div></div>
<div class="hm" style="left:1080.00px;top:52.90px;width:327.90px;height:396.95px">
<div class="hi" style="left:-10px;top:-10px;width:347.90px;filter:blur(2.5px)">
<i style="height:5px;background:linear-gradient(90deg,#d73027,#d73027,#d73027,#d73027,#d73027,#d73027,#d73027,#d73027,#d73027,#d73027,#d73027,#d73027,#d73027,#d73027,#d73027,#d73027,#d73027,#d73027,#d73027,#d73027,#d73027,#d73027,#d73027,#d73027,#d73027,#d73027,#d73027,#d73027,#d73027,#d73027,#d73027,#d73027,#d73027,#d73027,#d73027,#d73027,#d73027,#d73027,#d73027,#d73027,#d73027)"></i>
<i style="height:5px;background:linear-gradient(90deg,#d73027,#d73027,#d73027,#d73027,#d73027,#d73027,#d73027,#d73027,#d73027,#d73027,#d73027,#d73027,#d73027,#d73027,#d73027,#d73027,#d73027,#d73027,#d73027,#d73027,#d73027,#d73027,#d73027,#d73027,#d73027,#d73027,#d73027,#d73027,#d73027,#d73027,#d73027,#d73027,#d73027,#d73027,#d73027,#d73027,#d73027,#d73027,#d73027,#d73027,#d73027)"></i>
<i style="height:5px;background:linear-gradient(90deg,#d73027,#d73027,#d73027,#d73027,#d73027,#d73027,#d73027,#d73027,#d73027,#d73027,#d73027,#d73027,#d73027,#d73027,#d73027,#d73027,#d73027,#d73027,#d73027,#d73027,#d73027,#d73027,#d73027,#d73027,#d73027,#d73027,#d73027,#d73027,#d73027,#d73027,#d73027,#d73027,#d73027,#d73027,#d73027,#d73027,#d73027,#d73027,#d73027,#d73027,#d73027)"></i>
<i style="height:5px;background:linear-gradient(90deg,#d73027,#d73027,#d73027,#d73027,#d73027,#d73027,#d73027,#d73027,#d73027,#d73027,#d73027,#d73027,#d73027,#d73027,#d73027,#d73027,#d73027,#d73027,#d73027,#d73027,#d73027,#d73027,#d73027,#d73027,#d73027,#d73027,#d73027,#d73027,#d73027,#d73027,#d73027,#d73027,#d73027,#d73027,#d73027,#d73027,#d73027,#d73027,#d73027,#d73027,#d73027)"></i>
<i style="height:5px;background:linear-gradient(90deg,#d73027,#d73027,#d73027,#d73027,#d73027,#d73027,#d73027,#d73027,#d73027,#d73027,#d73027,#d73027,#d73027,#d73027,#d73027,#d73027,#d73027,#d73027,#d73027,#d73027,#d73027,#d73027,#d73027,#d73027,#d73027,#d73027,#d73027,#d73027,#d73027,#d73027,#d73027,#d73027,#d73027,#d73027,#d73027,#d73027,#d73027,#d73027,#d73027,#d73027,#d73027)"></i>
<i style="height:5px;background:linear-gradient(90deg,#d73027,#d73027,#d73027,#d73027,#d73027,#d73027,#d73027,#d73027,#d73027,#d73027,#d73027,#d73027,#d73027,#d73027,#d73027,#d73027,#d73027,#d73027,#d73027,#d73027,#d73027,#d73027,#d73027,#d73027,#d73027,#d73027,#d73027,#d73027,#d73027,#d73027,#d73027,#d73027,#d73027,#d73027,#d73027,#d73027,#d73027,#d73027,#d73027,#d73027,#d73027)"></i>
<i style="height:5px;background:linear-gradient(90deg,#d73027,#d73027,#d73027,#d73027,#d73027,#d73027,#d73027,#d73027,#d73027,#d73027,#d73027,#d73027,#d73027,#d73027,#d73027,#d73027,#d73027,#d73027,#d73027,#d73027,#d73027,#d73027,#d73027,#d73027,#d73027,#d73027,#d73027,#d73027,#d73027,#d73027,#d73027,#d73027,#d73027,#d73027,#d73027,#d73027,#d73027,#d73027,#d73027,#d73027,#d73027)"></i>
<i style="height:5px;background:linear-gradient(90deg,#d73027,#d73027,#d73027,#d73027,#d73027,#d73027,#d73027,#d73027,#d73027,#d73027,#d73027,#d73027,#d73027,#d73027,#d73027,#d73027,#d73027,#d73027,#d73027,#d73027,#d73027,#d73027,#d73027,#d73027,#d73027,#d73027,#d73027,#d73027,#d73027,#d73027,#d73027,#d73027,#d73027,#d73027,#d73027,#d73027,#d73027,#d73027,#d73027,#d73027,#d73027)"></i>
<i style="height:5px;background:linear-gradient(90deg,#d73027,#d73027,#d73027,#d73027,#d73027,#d73027,#d73027,#d73027,#d73027,#d73027,#d73027,#d73027,#d73027,#d73027,#d73027,#d73027,#d73027,#d73027,#d73027,#d73027,#d73027,#d73027,#d73027,#d73027,#d73027,#d73027,#d73027,#d73027,#d73027,#d73027,#d73027,#d73027,#d73027,#d73027,#d73027,#d73027,#d73027,#d73027,#d73027,#d73027,#d73027)"></i>
<i style="height:5px;background:linear-gradient(90deg,#d73027,#d73027,#d73027,#d73027,#d73027,#d73027,#d73027,#d73027,#d73027,#d73027,#d73027,#d73027,#d73027,#d73027,#d73027,#d73027,#d73027,#d73027,#d73027,#d73027,#d73027,#d73027,#d73027,#d73027,#d73027,#d73027,#d73027,#d73027,#d73027,#d73027,#d73027,#d73027,#d73027,#d73027,#d73027,#d73027,#d73027,#d73027,#d73027,#d73027,#d73027)"></i>
<i style="height:5px;background:linear-gradient(90deg,#d73027,#d73027,#d73027,#d73027,#d73027,#d73027,#d73027,#d73027,#d73027,#d73027,#d73027,#d73027,#d73027,#d73027,#d73027,#d73027,#d73027,#d73027,#d73027,#d73027,#d73027,#d73027,#d73027,#d73027,#d73027,#d73027,#d73027,#d73027,#d73027,#d73027,#d73027,#d73027,#d73027,#d73027,#d73027,#d73027,#d73027,#d73027,#d73027,#d73027,#d73027)"></i>
<i style="height:5px;background:linear-gradient(90deg,#d73027,#d73027,#d73027,#d73027,#d73027,#d73027,#d73027,#d73027,#d73027,#d73027,#d73027,#d73027,#d73027,#d73027,#d73027,#d73027,#d73027,#d73027,#d73027,#d73027,#d73027,#d73027,#d73027,#d73027,#d73027,#d73027,#d73027,#d73027,#d73027,#d73027,#d73027,#d73027,#d73027,#d73027,#d73027,#d73027,#d73027,#d73027,#d73027,#d73027,#d73027)"></i>
<i style="height:5px;background:linear-gradient(90deg,#d73027,#d73027,#d73027,#d73027,#d73027,#d73027,#d73027,#d73027,#d73027,#d73027,#d73027,#d73027,#d73027,#d73027,#d73027,#d73027,#d73027,#d73027,#d73027,#d73027,#d73027,#d73027,#d73027,#d73027,#d73027,#d73027,#d73027,#d73027,#d73027,#d73027,#d73027,#d73027,#d73027,#d73027,#d73027,#d73027,#d73027,#d73027,#d73027,#d73027,#d73027)"></i>
<i style="height:5px;background:linear-gradient(90deg,#d73027,#d73027,#d73027,#d73027,#d73027,#d73027,#d73027,#d73027,#d73027,#d73027,#d73027,#d73027,#d73027,#d73027,#d73027,#d73027,#d73027,#d73027,#d73027,#d73027,#d73027,#d73027,#d73027,#d73027,#d73027,#d73027,#d73027,#d73027,#d73027,#d73027,#d73027,#d73027,#d73027,#d73027,#d73027,#d73027,#d73027,#d73027,#d73027,#d73027,#d73027)"></i>
<i style="height:5px;background:linear-gradient(90deg,#d73027,#d73027,#d73027,#d73027,#d73027,#d73027,#d73027,#d73027,#d73027,#d73027,#d73027,#d73027,#d73027,#d73027,#d73027,#d73027,#d73027,#d73027,#d73027,#d73027,#d73027,#d73027,#d73027,#d73027,#d73027,#d73027,#d73027,#d73027,#d73027,#d73027,#d73027,#d73027,#d73027,#d73027,#d73027,#d73027,#d73027,#d73027,#d73027,#d73027,#d73027)"></i>
<i style="height:5px;background:linear-gradient(90deg,#d73027,#d73027,#d73027,#d73027,#d73027,#d73027,#d73027,#d73027,#d73027,#d73027,#d73027,#d73027,#d73027,#d73027,#d73027,#d73027,#d73027,#d73027,#d73027,#d73027,#d73027,#d73027,#d73027,#d73027,#d73027,#d73027,#d73027,#d73027,#d73027,#d73027,#d73027,#d73027,#d73027,#d73027,#d73027,#d73027,#d73027,#d73027,#d73027,#d73027,#d73027)"></i>
<i style="height:5px;background:linear-gradient(90deg,#d73027,#d73027,#d73027,#d73027,#d73027,#d73027,#d73027,#d73027,#d73027,#d73027,#d73027,#d73027,#d73027,#d73027,#d73027,#d73027,#d73027,#d73027,#d73027,#d73027,#d73027,#d73027,#d73027,#d73027,#d73027,#d73027,#d73027,#d73027,#d73027,#d73027,#d73027,#d73027,#d73027,#d73027,#d73027,#d73027,#d73027,#d73027,#d73027,#d73027,#d93429)"></i>
<i style="height:5px;background:linear-gradient(90deg,#d73027,#d73027,#d73027,#d73027,#d73027,#d73027,#d73027,#d73027,#d73027,#d73027,#d73027,#d73027,#d73027,#d73027,#d73027,#d73027,#d73027,#d73027,#d73027,#d73027,#d73027,#d73027,#d73027,#d73027,#d73027,#d73027,#d73027,#d73027,#d73027,#d73027,#d73027,#d73027,#d73027,#d73027,#d73027,#d73027,#d73027,#d73027,#db3b2d,#e04633,#e44f37)"></i>
<i style="height:5px;background:linear-gradient(90deg,#d73027,#d73027,#d73027,#d73027,#d73027,#d73027,#d73027,#d73027,#d73027,#d73027,#d73027,#d73027,#d73027,#d73027,#d73027,#d73027,#d73027,#d73027,#d73027,#d73027,#d73027,#d73027,#d73027,#d73027,#d73027,#d73027,#d73027,#d73027,#d73027,#d73027,#d73027,#d73027,#d73027,#d73027,#d73027,#d83228,#dd3e2e,#e24a35,#e6553b,#eb6041,#ef6946)"></i>
<i style="height:5px;background:linear-gradient(90deg,#d73027,#d73027,#d73027,#d73027,#d73027,#d73027,#d73027,#d73027,#d73027,#d73027,#d73027,#d73027,#d73027,#d73027,#d73027,#d73027,#d73027,#d73027,#d73027,#d73027,#d73027,#d73027,#d73027,#d73027,#d73027,#d73027,#d73027,#d73027,#d73027,#d73027,#d73027,#d73027,#d73027,#d83329,#de4130,#e34d37,#e8593d,#ed6543,#f0714a,#f27c50,#f38656)"></i>
<i style="height:5px;background:linear-gradient(90deg,#d73027,#d73027,#d73027,#d73027,#d73027,#d73027,#d73027,#d73027,#d73027,#d73027,#d73027,#d73027,#d73027,#d73027,#d73027,#d73027,#d73027,#d73027,#d73027,#d73027,#d73027,#d73027,#d73027,#d73027,#d73027,#d73027,#d73027,#d73027,#d73027,#d73027,#d73027,#d93429,#df4331,#e45038,#ea5d3f,#ef6946,#f1764d,#f38254,#f58e5a,#f69a61,#f8a366)"></i>
<i style="height:5px;background:linear-gradient(90deg,#d73027,#d73027,#d73027,#d73027,#d73027,#d73027,#d73027,#d73027,#d73027,#d73027,#d73027,#d73027,#d73027,#d73027,#d73027,#d73027,#d73027,#d73027,#d73027,#d73027,#d73027,#d73027,#d73027,#d73027,#d73027,#d73027,#d73027,#d73027,#d73027,#d73027,#df4231,#e55239,#eb6040,#ef6d48,#f27b4f,#f48857,#f6945e,#f7a064,#f9ab6c,#fab577,#fbbd81)"></i>
<i style="height:5px;background:linear-gradient(90deg,#d73027,#d73027,#d73027,#d73027,#d73027,#d73027,#d73027,#d73027,#d73027,#d73027,#d73027,#d73027,#d73027,#d73027,#d73027,#d73027,#d73027,#d73027,#d73027,#d73027,#d73027,#d73027,#d73027,#d73027,#d73027,#d73027,#d73027,#d73027,#d9362a,#e34e37,#eb6041,#f07049,#f27e51,#f48c59,#f69a61,#f8a668,#fab173,#fbbb7f,#fbc48a,#fccd95,#fdd59f)"></i>
<i style="height:5px;background:linear-gradient(90deg,#d73027,#d73027,#d73027,#d73027,#d73027,#d73027,#d73027,#d73027,#d73027,#d73027,#d73027,#d73027,#d73027,#d73027,#d73027,#d73027,#d73027,#d73027,#d73027,#d73027,#d73027,#d73027,#d73027,#d73027,#d73027,#d73027,#d73027,#d93429,#e6553b,#ef6c47,#f28052,#f5905b,#f79e63,#f9ac6c,#fab779,#fbc186,#fccb92,#fdd49d,#fedda8,#fee4b4,#fee8bf)"></i>
<i style="height:5px;background:linear-gradient(90deg,#d73027,#d73027,#d73027,#d73027,#d73027,#d73027,#d73027,#d73027,#d73027,#d73027,#d73027,#d73027,#d73027,#d73027,#d73027,#d73027,#d73027,#d73027,#d73027,#d73027,#d73027,#d73027,#d73027,#d73027,#d73027,#d73027,#d73027,#e6533a,#f1744c,#f58d5a,#f8a165,#faaf71,#fbbb7f,#fcc68c,#fdd19a,#fedba5,#fee2b2,#fee8be,#ffedca,#fff2d5,#fff7e1)"></i>
<i style="height:5px;background:linear-gradient(90deg,#d73027,#d73027,#d73027,#d73027,#d73027,#d73027,#d73027,#d73027,#d73027,#d73027,#d73027,#d73027,#d73027,#d73027,#d73027,#d73027,#d73027,#d73027,#d73027,#d73027,#d73027,#d73027,#d73027,#d73027,#d73027,#d73027,#e24b36,#f0734b,#f6965f,#f9ae6f,#fbbe82,#fccb92,#fdd6a0,#fee0ad,#fee7bb,#ffecc8,#fff2d4,#fff7e1,#fdfaed,#fbfcf8,#f1f8f8)"></i>
<i style="height:5px;background:linear-gradient(90deg,#d73027,#d73027,#d73027,#d73027,#d73027,#d73027,#d73027,#d73027,#d73027,#d73027,#d73027,#d73027,#d73027,#d73027,#d73027,#d73027,#d73027,#d73027,#d73027,#d73027,#d73027,#d73027,#d73027,#d73027,#d73027,#dd402f,#ef6b46,#f6955e,#fab678,#fcca91,#fddaa4,#fee4b4,#feeac3,#fff0d1,#fff6df,#fdf9ed,#fbfbf8,#f0f8f8,#e6f4f7,#def1f5,#d5edf4)"></i>
<i style="height:5px;background:linear-gradient(90deg,#d73027,#d73027,#d73027,#d73027,#d73027,#d73027,#d73027,#d73027,#d73027,#d73027,#d73027,#d73027,#d73027,#d73027,#d73027,#d73027,#d73027,#d73027,#d73027,#d73027,#d73027,#d73027,#d73027,#d73027,#d83128,#eb6040,#f58e5a,#fab578,#fdd29b,#fee4b5,#ffedc9,#fff4da,#fef8e9,#fcfcf8,#f0f8f8,#e6f4f7,#dcf0f5,#d3ecf4,#c8e6f0,#bde0ed,#b2d9ea)"></i>
<i style="height:5px;background:linear-gradient(90deg,#d73027,#d73027,#d73027,#d73027,#d73027,#d73027,#d73027,#d73027,#d73027,#d73027,#d73027,#d73027,#d73027,#d73027,#d73027,#d73027,#d73027,#d73027,#d73027,#d73027,#d73027,#d73027,#d73027,#d73027,#e55239,#f38253,#faaf71,#fdd29b,#fee9c0,#fff5db,#fdfaf0,#f3f9f8,#e7f4f7,#dcf0f5,#d1ebf3,#c5e4f0,#badeec,#afd7e9,#a4d1e5,#9bc8e1,#90bfdc)"></i>
<i style="height:5px;background:linear-gradient(90deg,#d73027,#d73027,#d73027,#d73027,#d73027,#d73027,#d73027,#d73027,#d73027,#d73027,#d73027,#d73027,#d73027,#d73027,#d73027,#d73027,#d73027,#d73027,#d73027,#d73027,#d73027,#d73027,#d73027,#dd3f2f,#f1744c,#f8a567,#fccd95,#fee9c1,#fef8e8,#f1f8f8,#e0f2f6,#d3edf4,#c5e4f0,#b8ddec,#acd5e8,#a0cde4,#96c4df,#8cbbda,#82b2d6,#79aad1,#6e9fcc)"></i>
<i style="height:5px;background:linear-gradient(90deg,#d73027,#d73027,#d73027,#d73027,#d73027,#d73027,#d73027,#d73027,#d73027,#d73027,#d73027,#d73027,#d73027,#d73027,#d73027,#d73027,#d73027,#d73027,#d73027,#d73027,#d73027,#d73027,#d73027,#eb6141,#f69860,#fbc48a,#fee6ba,#fef9e9,#e6f4f7,#cfeaf3,#bbdeec,#acd5e8,#9ecce3,#93c1dd,#87b6d8,#7cadd3,#73a4ce,#699ac9,#6091c4,#5788bf,#4d7db9)"></i>
<i style="height:5px;background:linear-gradient(90deg,#d73027,#d73027,#d73027,#d73027,#d73027,#d73027,#d73027,#d73027,#d73027,#d73027,#d73027,#d73027,#d73027,#d73027,#d73027,#d73027,#d73027,#d73027,#d73027,#d73027,#d73027,#d73027,#e24a35,#f38555,#fab97d,#fee1ae,#fff7e2,#e4f3f6,#c1e2ee,#a6d2e6,#94c2de,#85b5d7,#79aad1,#6e9ecb,#6393c5,#5989bf,#5080ba,#4777b5,#4575b4,#4575b4,#4575b4)"></i>
<i style="height:5px;background:linear-gradient(90deg,#d73027,#d73027,#d73027,#d73027,#d73027,#d73027,#d73027,#d73027,#d73027,#d73027,#d73027,#d73027,#d73027,#d73027,#d73027,#d73027,#d73027,#d73027,#d73027,#d73027,#d73027,#d83429,#f06d48,#f9aa6a,#fdd8a2,#fff3d7,#e9f5f7,#bee0ed,#98c6e0,#7fafd4,#6d9ecb,#5f90c3,#5384bc,#4979b6,#4575b4,#4575b4,#4575b4,#4575b4,#4575b4,#4575b4,#4575b4)"></i>
<i style="height:5px;background:linear-gradient(90deg,#d73027,#d73027,#d73027,#d73027,#d73027,#d73027,#d73027,#d73027,#d73027,#d73027,#d73027,#d73027,#d73027,#d73027,#d73027,#d73027,#d73027,#d73027,#d73027,#d73027,#d73027,#e7573c,#f6945d,#fcca91,#ffedca,#f2f9f8,#c3e3ef,#94c2de,#6fa0cc,#5788be,#4676b5,#4575b4,#4575b4,#4575b4,#4575b4,#4575b4,#4575b4,#4575b4,#4575b4,#4575b4,#4575b4)"></i>
<i style="height:5px;background:linear-gradient(90deg,#d73027,#d73027,#d73027,#d73027,#d73027,#d73027,#d73027,#d73027,#d73027,#d73027,#d73027,#d73027,#d73027,#d73027,#d73027,#d73027,#d73027,#d73027,#d73027,#d73027,#de4030,#f27d51,#fab77a,#fee5b8,#fcfcf6,#cee9f2,#99c6e0,#6b9cca,#4777b5,#4575b4,#4575b4,#4575b4,#4575b4,#4575b4,#4575b4,#4575b4,#4575b4,#4575b4,#4575b4,#4575b4,#4575b4)"></i>
<i style="height:5px;background:linear-gradient(90deg,#d73027,#d73027,#d73027,#d73027,#d73027,#d73027,#d73027,#d73027,#d73027,#d73027,#d73027,#d73027,#d73027,#d73027,#d73027,#d73027,#d73027,#d73027,#d73027,#d73027,#ed6543,#f8a467,#fdd8a2,#fef7e4,#d9eff5,#a2cfe4,#6fa0cc,#4575b4,#4575b4,#4575b4,#4575b4,#4575b4,#4575b4,#4575b4,#4575b4,#4575b4,#4575b4,#4575b4,#4575b4,#4575b4,#4575b4)"></i>
<i style="height:5px;background:linear-gradient(90deg,#d73027,#d73027,#d73027,#d73027,#d73027,#d73027,#d73027,#d73027,#d73027,#d73027,#d73027,#d73027,#d73027,#d73027,#d73027,#d73027,#d73027,#d73027,#d73027,#e34d36,#f48d5a,#fcc78d,#ffeecd,#e7f4f7,#afd7e9,#77a8d1,#4575b4,#4575b4,#4575b4,#4575b4,#4575b4,#4575b4,#4575b4,#4575b4,#4575b4,#4575b4,#4575b4,#4575b4,#4575b4,#4575b4,#4575b4)"></i>
<i style="height:5px;background:linear-gradient(90deg,#d73027,#d73027,#d73027,#d73027,#d73027,#d73027,#d73027,#d73027,#d73027,#d73027,#d73027,#d73027,#d73027,#d73027,#d73027,#d73027,#d73027,#d73027,#d9352a,#f1744b,#fab476,#fee5b7,#f9fbf8,#c2e2ee,#84b4d7,#4d7db9,#4575b4,#4575b4,#4575b4,#4575b4,#4575b4,#4575b4,#4575b4,#4575b4,#4575b4,#4575b4,#4575b4,#4575b4,#4575b4,#4575b4,#4575b4)"></i>
<i style="height:5px;background:linear-gradient(90deg,#d73027,#d73027,#d73027,#d73027,#d73027,#d73027,#d73027,#d73027,#d73027,#d73027,#d73027,#d73027,#d73027,#d73027,#d73027,#d73027,#d73027,#d73027,#e95c3f,#f79e63,#fdd6a0,#fef8e5,#d7eef4,#97c5df,#5a8ac0,#4575b4,#4575b4,#4575b4,#4575b4,#4575b4,#4575b4,#4575b4,#4575b4,#4575b4,#4575b4,#4575b4,#4575b4,#4575b4,#4575b4,#4575b4,#4575b4)"></i>
<i style="height:5px;background:linear-gradient(90deg,#d73027,#d73027,#d73027,#d73027,#d73027,#d73027,#d73027,#d73027,#d73027,#d73027,#d73027,#d73027,#d73027,#d73027,#d73027,#d73027,#d73027,#de4231,#f38555,#fbc389,#ffefce,#e6f4f7,#aed6e8,#6e9fcc,#4575b4,#4575b4,#4575b4,#4575b4,#4575b4,#4575b4,#4575b4,#4575b4,#4575b4,#4575b4,#4575b4,#4575b4,#4575b4,#4575b4,#4575b4,#4575b4,#4575b4)"></i>
<i style="height:5px;background:linear-gradient(90deg,#d73027,#d73027,#d73027,#d73027,#d73027,#d73027,#d73027,#d73027,#d73027,#d73027,#d73027,#d73027,#d73027,#d73027,#d73027,#d73027,#d73027,#ee6945,#f9af70,#fee4b5,#f7faf8,#c2e3ef,#85b4d7,#4575b4,#4575b4,#4575b4,#4575b4,#4575b4,#4575b4,#4575b4,#4575b4,#4575b4,#4575b4,#4575b4,#4575b4,#4575b4,#4575b4,#4575b4,#4575b4,#4575b4,#4575b4)"></i>
<i style="height:5px;background:linear-gradient(90deg,#d73027,#d73027,#d73027,#d73027,#d73027,#d73027,#d73027,#d73027,#d73027,#d73027,#d73027,#d73027,#d73027,#d73027,#d73027,#d73027,#e34c36,#f5935d,#fdd39c,#fef8e6,#d6eef4,#9ac7e1,#5d8dc2,#4575b4,#4575b4,#4575b4,#4575b4,#4575b4,#4575b4,#4575b4,#4575b4,#4575b4,#4575b4,#4575b4,#4575b4,#4575b4,#4575b4,#4575b4,#4575b4,#4575b4,#4575b4)"></i>
<i style="height:5px;background:linear-gradient(90deg,#d73027,#d73027,#d73027,#d73027,#d73027,#d73027,#d73027,#d73027,#d73027,#d73027,#d73027,#d73027,#d73027,#d73027,#d73027,#d83329,#f1744c,#fbbb7f,#ffeecb,#e6f4f7,#aed7e8,#72a3ce,#4575b4,#4575b4,#4575b4,#4575b4,#4575b4,#4575b4,#4575b4,#4575b4,#4575b4,#4575b4,#4575b4,#4575b4,#4575b4,#4575b4,#4575b4,#4575b4,#4575b4,#4575b4,#4575b4)"></i>
<i style="height:5px;background:linear-gradient(90deg,#d73027,#d73027,#d73027,#d73027,#d73027,#d73027,#d73027,#d73027,#d73027,#d73027,#d73027,#d73027,#d73027,#d73027,#d73027,#e85a3d,#f79f64,#fedfab,#f7faf8,#c3e3ef,#87b7d8,#4b7bb7,#4575b4,#4575b4,#4575b4,#4575b4,#4575b4,#4575b4,#4575b4,#4575b4,#4575b4,#4575b4,#4575b4,#4575b4,#4575b4,#4575b4,#4575b4,#4575b4,#4575b4,#4575b4,#4575b4)"></i>
<i style="height:5px;background:linear-gradient(90deg,#d73027,#d73027,#d73027,#d73027,#d73027,#d73027,#d73027,#d73027,#d73027,#d73027,#d73027,#d73027,#d73027,#d73027,#e24935,#f38354,#fbc48a,#fff5db,#d9eff5,#9ccae2,#6091c4,#4575b4,#4575b4,#4575b4,#4575b4,#4575b4,#4575b4,#4575b4,#4575b4,#4575b4,#4575b4,#4575b4,#4575b4,#4575b4,#4575b4,#4575b4,#4575b4,#4575b4,#4575b4,#4575b4,#4575b4)"></i>
<i style="height:5px;background:linear-gradient(90deg,#d73027,#d73027,#d73027,#d73027,#d73027,#d73027,#d73027,#d73027,#d73027,#d73027,#d73027,#d73027,#d73027,#e04633,#f0714a,#f9ad6e,#fee5b8,#edf7f8,#b4daea,#76a7d0,#4575b4,#4575b4,#4575b4,#4575b4,#4575b4,#4575b4,#4575b4,#4575b4,#4575b4,#4575b4,#4575b4,#4575b4,#4575b4,#4575b4,#4575b4,#4575b4,#4575b4,#4575b4,#4575b4,#4575b4,#4575b4)"></i>
<i style="height:5px;background:linear-gradient(90deg,#d73027,#d73027,#d73027,#d73027,#d73027,#d73027,#d73027,#d73027,#d73027,#d73027,#d73027,#d73027,#e24c36,#f06d48,#f79b62,#fdd19a,#fef9ea,#d1ebf3,#8fbedc,#5080ba,#4575b4,#4575b4,#4575b4,#4575b4,#4575b4,#4575b4,#4575b4,#4575b4,#4575b4,#4575b4,#4575b4,#4575b4,#4575b4,#4575b4,#4575b4,#4575b4,#4575b4,#4575b4,#4575b4,#4575b4,#4575b4)"></i>
<i style="height:5px;background:linear-gradient(90deg,#d73027,#d73027,#d73027,#d73027,#d73027,#d73027,#d73027,#d73027,#d73027,#d73027,#dc3c2e,#e7563b,#f0734b,#f69860,#fbc287,#ffedc9,#e7f4f7,#add6e8,#6b9bca,#4575b4,#4575b4,#4575b4,#4575b4,#4575b4,#4575b4,#4575b4,#4575b4,#4575b4,#4575b4,#4575b4,#4575b4,#4575b4,#4575b4,#4575b4,#4575b4,#4575b4,#4575b4,#4575b4,#4575b4,#4575b4,#4575b4)"></i>
<i style="height:5px;background:linear-gradient(90deg,#d73027,#d73027,#d73027,#d73027,#d73027,#d73027,#d73027,#d73027,#d93429,#e24c36,#ec6342,#f27e51,#f79e63,#fbbf83,#fee3b4,#fafbf8,#cbe7f1,#8bbada,#4676b5,#4575b4,#4575b4,#4575b4,#4575b4,#4575b4,#4575b4,#4575b4,#4575b4,#4575b4,#4575b4,#4575b4,#4575b4,#4575b4,#4575b4,#4575b4,#4575b4,#4575b4,#4575b4,#4575b4,#4575b4,#4575b4,#4575b4)"></i>
<i style="height:5px;background:linear-gradient(90deg,#d73027,#d73027,#d73027,#d73027,#d73027,#d73027,#d73128,#df4432,#e95b3e,#f0734b,#f48d5a,#f9a969,#fbc489,#fee2b0,#fef8e5,#dff1f6,#a9d4e7,#6899c8,#4575b4,#4575b4,#4575b4,#4575b4,#4575b4,#4575b4,#4575b4,#4575b4,#4575b4,#4575b4,#4575b4,#4575b4,#4575b4,#4575b4,#4575b4,#4575b4,#4575b4,#4575b4,#4575b4,#4575b4,#4575b4,#4575b4,#4575b4)"></i>
<i style="height:5px;background:linear-gradient(90deg,#da372b,#d93529,#da362a,#dc3b2d,#de4230,#e24a35,#e7583c,#ef6b47,#f38455,#f79e63,#fab578,#fccd95,#fee5b7,#fff7e1,#ebf6f8,#c3e3ef,#89b8d9,#4676b5,#4575b4,#4575b4,#4575b4,#4575b4,#4575b4,#4575b4,#4575b4,#4575b4,#4575b4,#4575b4,#4575b4,#4575b4,#4575b4,#4575b4,#4575b4,#4575b4,#4575b4,#4575b4,#4575b4,#4575b4,#4575b4,#4575b4,#4575b4)"></i>
<i style="height:5px;background:linear-gradient(90deg,#ea5e3f,#e95b3e,#ea5d3f,#ec6242,#ee6845,#f0714a,#f38053,#f6965f,#f9ae6f,#fbc489,#fdd9a4,#feeac3,#fef8e9,#edf7f8,#d3ecf4,#a3d0e5,#6899c8,#4575b4,#4575b4,#4575b4,#4575b4,#4575b4,#4575b4,#4575b4,#4575b4,#4575b4,#4575b4,#4575b4,#4575b4,#4575b4,#4575b4,#4575b4,#4575b4,#4575b4,#4575b4,#4575b4,#4575b4,#4575b4,#4575b4,#4575b4,#4575b4)"></i>
<i style="height:5px;background:linear-gradient(90deg,#f48756,#f38455,#f38656,#f48b59,#f5935d,#f79c62,#f9ab6b,#fbbd81,#fdd29b,#fee5b6,#fff2d4,#fcfcf6,#ebf6f8,#d7eef4,#b5dbea,#84b4d7,#4878b6,#4575b4,#4575b4,#4575b4,#4575b4,#4575b4,#4575b4,#4575b4,#4575b4,#4575b4,#4575b4,#4575b4,#4575b4,#4575b4,#4575b4,#4575b4,#4575b4,#4575b4,#4575b4,#4575b4,#4575b4,#4575b4,#4575b4,#4575b4,#4575b4)"></i>
<i style="height:5px;background:linear-gradient(90deg,#fab072,#f9ae6f,#fab071,#fab477,#fbbb7e,#fbc287,#fccf97,#fee1ad,#ffedca,#fef8e8,#f5f9f8,#e6f4f7,#d6eef4,#bbdeec,#97c5df,#6697c7,#4575b4,#4575b4,#4575b4,#4575b4,#4575b4,#4575b4,#4575b4,#4575b4,#4575b4,#4575b4,#4575b4,#4575b4,#4575b4,#4575b4,#4575b4,#4575b4,#4575b4,#4575b4,#4575b4,#4575b4,#4575b4,#4575b4,#4575b4,#4575b4,#4575b4)"></i>
<i style="height:5px;background:linear-gradient(90deg,#fdd49e,#fdd29b,#fdd49d,#fdd8a3,#fedfaa,#fee4b4,#ffebc6,#fff6df,#fafbf8,#edf7f8,#e1f2f6,#d2ecf3,#bbdeec,#9ecce3,#7aabd2,#4777b5,#4575b4,#4575b4,#4575b4,#4575b4,#4575b4,#4575b4,#4575b4,#4575b4,#4575b4,#4575b4,#4575b4,#4575b4,#4575b4,#4575b4,#4575b4,#4575b4,#4575b4,#4575b4,#4575b4,#4575b4,#4575b4,#4575b4,#4575b4,#4575b4,#4575b4)"></i>
<i style="height:5px;background:linear-gradient(90deg,#ffefcd,#ffedca,#ffeecd,#fff1d2,#fff5db,#fef8e6,#fbfcf8,#f2f8f8,#e6f4f7,#daeff5,#cbe8f1,#b7dceb,#9fcde3,#83b3d6,#5d8ec2,#4575b4,#4575b4,#4575b4,#4575b4,#4575b4,#4575b4,#4575b4,#4575b4,#4575b4,#4575b4,#4575b4,#4575b4,#4575b4,#4575b4,#4575b4,#4575b4,#4575b4,#4575b4,#4575b4,#4575b4,#4575b4,#4575b4,#4575b4,#4575b4,#4575b4,#4575b4)"></i>
<i style="height:5px;background:linear-gradient(90deg,#f9fbf8,#fafbf8,#f9fbf8,#f7faf8,#f4f9f8,#f0f8f8,#e9f5f7,#e0f2f6,#d4edf4,#c4e4ef,#b2d9ea,#9ecbe2,#85b5d7,#6798c8,#4575b4,#4575b4,#4575b4,#4575b4,#4575b4,#4575b4,#4575b4,#4575b4,#4575b4,#4575b4,#4575b4,#4575b4,#4575b4,#4575b4,#4575b4,#4575b4,#4575b4,#4575b4,#4575b4,#4575b4,#4575b4,#4575b4,#4575b4,#4575b4,#4575b4,#4575b4,#4575b4)"></i>
<i style="height:5px;background:linear-gradient(90deg,#eaf5f7,#ebf6f7,#eaf5f7,#e7f4f7,#e4f3f6,#e0f2f6,#d9eff5,#cde9f2,#bee0ed,#acd6e8,#9ac8e1,#85b4d7,#6b9cca,#4c7cb8,#4575b4,#4575b4,#4575b4,#4575b4,#4575b4,#4575b4,#4575b4,#4575b4,#4575b4,#4575b4,#4575b4,#4575b4,#4575b4,#4575b4,#4575b4,#4575b4,#4575b4,#4575b4,#4575b4,#4575b4,#4575b4,#4575b4,#4575b4,#4575b4,#4575b4,#4575b4,#4575b4)"></i>
<i style="height:5px;background:linear-gradient(90deg,#dcf0f5,#ddf0f5,#dbf0f5,#d8eff5,#d4edf4,#cfeaf2,#c5e4ef,#b7dceb,#a7d2e6,#95c3de,#82b2d5,#6b9cca,#5181bb,#4575b4,#4575b4,#4575b4,#4575b4,#4575b4,#4575b4,#4575b4,#4575b4,#4575b4,#4575b4,#4575b4,#4575b4,#4575b4,#4575b4,#4575b4,#4575b4,#4575b4,#4575b4,#4575b4,#4575b4,#4575b4,#4575b4,#4575b4,#4575b4,#4575b4,#4575b4,#4575b4,#4575b4)"></i>
<i style="height:5px;background:linear-gradient(90deg,#cce8f2,#cde9f2,#cbe8f1,#c7e5f0,#c1e2ee,#badeec,#b0d8e9,#a1cfe4,#91bfdc,#7eaed4,#6a9bc9,#5283bc,#4575b4,#4575b4,#4575b4,#4575b4,#4575b4,#4575b4,#4575b4,#4575b4,#4575b4,#4575b4,#4575b4,#4575b4,#4575b4,#4575b4,#4575b4,#4575b4,#4575b4,#4575b4,#4575b4,#4575b4,#4575b4,#4575b4,#4575b4,#4575b4,#4575b4,#4575b4,#4575b4,#4575b4,#4575b4)"></i>
<i style="height:5px;background:linear-gradient(90deg,#bbdeec,#bcdfed,#b8ddec,#b4daea,#add6e8,#a6d2e6,#9bc9e1,#8cbbda,#7babd2,#6798c8,#5282bb,#4575b4,#4575b4,#4575b4,#4575b4,#4575b4,#4575b4,#4575b4,#4575b4,#4575b4,#4575b4,#4575b4,#4575b4,#4575b4,#4575b4,#4575b4,#4575b4,#4575b4,#4575b4,#4575b4,#4575b4,#4575b4,#4575b4,#4575b4,#4575b4,#4575b4,#4575b4,#4575b4,#4575b4,#4575b4,#4575b4)"></i>
<i style="height:5px;background:linear-gradient(90deg,#a9d3e7,#aad4e7,#a6d2e6,#a1cee4,#9ac8e1,#92c1dd,#87b6d8,#77a8d1,#6595c6,#5081bb,#4575b4,#4575b4,#4575b4,#4575b4,#4575b4,#4575b4,#4575b4,#4575b4,#4575b4,#4575b4,#4575b4,#4575b4,#4575b4,#4575b4,#4575b4,#4575b4,#4575b4,#4575b4,#4575b4,#4575b4,#4575b4,#4575b4,#4575b4,#4575b4,#4575b4,#4575b4,#4575b4,#4575b4,#4575b4,#4575b4,#4575b4)"></i>
<i style="height:5px;background:linear-gradient(90deg,#97c5e0,#98c6e0,#94c3de,#8ebddb,#87b6d8,#7fafd4,#72a3ce,#6293c5,#4f7fba,#4575b4,#4575b4,#4575b4,#4575b4,#4575b4,#4575b4,#4575b4,#4575b4,#4575b4,#4575b4,#4575b4,#4575b4,#4575b4,#4575b4,#4575b4,#4575b4,#4575b4,#4575b4,#4575b4,#4575b4,#4575b4,#4575b4,#4575b4,#4575b4,#4575b4,#4575b4,#4575b4,#4575b4,#4575b4,#4575b4,#4575b4,#4575b4)"></i>
<i style="height:5px;background:linear-gradient(90deg,#86b6d8,#87b7d8,#83b2d6,#7cacd3,#74a5cf,#6b9cca,#5e8fc2,#4d7db9,#4575b4,#4575b4,#4575b4,#4575b4,#4575b4,#4575b4,#4575b4,#4575b4,#4575b4,#4575b4,#4575b4,#4575b4,#4575b4,#4575b4,#4575b4,#4575b4,#4575b4,#4575b4,#4575b4,#4575b4,#4575b4,#4575b4,#4575b4,#4575b4,#4575b4,#4575b4,#4575b4,#4575b4,#4575b4,#4575b4,#4575b4,#4575b4,#4575b4)"></i>
<i style="height:5px;background:linear-gradient(90deg,#75a6d0,#76a7d0,#71a2cd,#6a9bc9,#6192c4,#5788bf,#4a7ab7,#4575b4,#4575b4,#4575b4,#4575b4,#4575b4,#4575b4,#4575b4,#4575b4,#4575b4,#4575b4,#4575b4,#4575b4,#4575b4,#4575b4,#4575b4,#4575b4,#4575b4,#4575b4,#4575b4,#4575b4,#4575b4,#4575b4,#4575b4,#4575b4,#4575b4,#4575b4,#4575b4,#4575b4,#4575b4,#4575b4,#4575b4,#4575b4,#4575b4,#4575b4)"></i>
<i style="height:5px;background:linear-gradient(90deg,#6495c6,#6596c6,#5f90c3,#5888bf,#4e7fb9,#4575b4,#4575b4,#4575b4,#4575b4,#4575b4,#4575b4,#4575b4,#4575b4,#4575b4,#4575b4,#4575b4,#4575b4,#4575b4,#4575b4,#4575b4,#4575b4,#4575b4,#4575b4,#4575b4,#4575b4,#4575b4,#4575b4,#4575b4,#4575b4,#4575b4,#4575b4,#4575b4,#4575b4,#4575b4,#4575b4,#4575b4,#4575b4,#4575b4,#4575b4,#4575b4,#4575b4)"></i>
<i style="height:5px;background:linear-gradient(90deg,#5383bc,#5484bd,#4e7eb9,#4575b4,#4575b4,#4575b4,#4575b4,#4575b4,#4575b4,#4575b4,#4575b4,#4575b4,#4575b4,#4575b4,#4575b4,#4575b4,#4575b4,#4575b4,#4575b4,#4575b4,#4575b4,#4575b4,#4575b4,#4575b4,#4575b4,#4575b4,#4575b4,#4575b4,#4575b4,#4575b4,#4575b4,#4575b4,#4575b4,#4575b4,#4575b4,#4575b4,#4575b4,#4575b4,#4575b4,#4575b4,#4575b4)"></i>
<i style="height:5px;background:linear-gradient(90deg,#4575b4,#4575b4,#4575b4,#4575b4,#4575b4,#4575b4,#4575b4,#4575b4,#4575b4,#4575b4,#4575b4,#4575b4,#4575b4,#4575b4,#4575b4,#4575b4,#4575b4,#4575b4,#4575b4,#4575b4,#4575b4,#4575b4,#4575b4,#4575b4,#4575b4,#4575b4,#4575b4,#4575b4,#4575b4,#4575b4,#4575b4,#4575b4,#4575b4,#4575b4,#4575b4,#4575b4,#4575b4,#4575b4,#4575b4,#4575b4,#4575b4)"></i>
<i style="height:5px;background:linear-gradient(90deg,#4575b4,#4575b4,#4575b4,#4575b4,#4575b4,#4575b4,#4575b4,#4575b4,#4575b4,#4575b4,#4575b4,#4575b4,#4575b4,#4575b4,#4575b4,#4575b4,#4575b4,#4575b4,#4575b4,#4575b4,#4575b4,#4575b4,#4575b4,#4575b4,#4575b4,#4575b4,#4575b4,#4575b4,#4575b4,#4575b4,#4575b4,#4575b4,#4575b4,#4575b4,#4575b4,#4575b4,#4575b4,#4575b4,#4575b4,#4575b4,#4575b4)"></i>
<i style="height:5px;background:linear-gradient(90deg,#4575b4,#4575b4,#4575b4,#4575b4,#4575b4,#4575b4,#4575b4,#4575b4,#4575b4,#4575b4,#4575b4,#4575b4,#4575b4,#4575b4,#4575b4,#4575b4,#4575b4,#4575b4,#4575b4,#4575b4,#4575b4,#4575b4,#4575b4,#4575b4,#4575b4,#4575b4,#4575b4,#4575b4,#4575b4,#4575b4,#4575b4,#4575b4,#4575b4,#4575b4,#4575b4,#4575b4,#4575b4,#4575b4,#4575b4,#4575b4,#4575b4)"></i>
<i style="height:5px;background:linear-gradient(90deg,#4575b4,#4575b4,#4575b4,#4575b4,#4575b4,#4575b4,#4575b4,#4575b4,#4575b4,#4575b4,#4575b4,#4575b4,#4575b4,#4575b4,#4575b4,#4575b4,#4575b4,#4575b4,#4575b4,#4575b4,#4575b4,#4575b4,#4575b4,#4575b4,#4575b4,#4575b4,#4575b4,#4575b4,#4575b4,#4575b4,#4575b4,#4575b4,#4575b4,#4575b4,#4575b4,#4575b4,#4575b4,#4575b4,#4575b4,#4575b4,#4575b4)"></i>
<i style="height:5px;background:linear-gradient(90deg,#4575b4,#4575b4,#4575b4,#4575b4,#4575b4,#4575b4,#4575b4,#4575b4,#4575b4,#4575b4,#4575b4,#4575b4,#4575b4,#4575b4,#4575b4,#4575b4,#4575b4,#4575b4,#4575b4,#4575b4,#4575b4,#4575b4,#4575b4,#4575b4,#4575b4,#4575b4,#4575b4,#4575b4,#4575b4,#4575b4,#4575b4,#4575b4,#4575b4,#4575b4,#4575b4,#4575b4,#4575b4,#4575b4,#4575b4,#4575b4,#4575b4)"></i>
<i style="height:5px;background:linear-gradient(90deg,#4575b4,#4575b4,#4575b4,#4575b4,#4575b4,#4575b4,#4575b4,#4575b4,#4575b4,#4575b4,#4575b4,#4575b4,#4575b4,#4575b4,#4575b4,#4575b4,#4575b4,#4575b4,#4575b4,#4575b4,#4575b4,#4575b4,#4575b4,#4575b4,#4575b4,#4575b4,#4575b4,#4575b4,#4575b4,#4575b4,#4575b4,#4575b4,#4575b4,#4575b4,#4575b4,#4575b4,#4575b4,#4575b4,#4575b4,#4575b4,#4575b4)"></i>
<i style="height:5px;background:linear-gradient(90deg,#4575b4,#4575b4,#4575b4,#4575b4,#4575b4,#4575b4,#4575b4,#4575b4,#4575b4,#4575b4,#4575b4,#4575b4,#4575b4,#4575b4,#4575b4,#4575b4,#4575b4,#4575b4,#4575b4,#4575b4,#4575b4,#4575b4,#4575b4,#4575b4,#4575b4,#4575b4,#4575b4,#4575b4,#4575b4,#4575b4,#4575b4,#4575b4,#4575b4,#4575b4,#4575b4,#4575b4,#4575b4,#4575b4,#4575b4,#4575b4,#4575b4)"></i>
<i style="height:5px;background:linear-gradient(90deg,#4575b4,#4575b4,#4575b4,#4575b4,#4575b4,#4575b4,#4575b4,#4575b4,#4575b4,#4575b4,#4575b4,#4575b4,#4575b4,#4575b4,#4575b4,#4575b4,#4575b4,#4575b4,#4575b4,#4575b4,#4575b4,#4575b4,#4575b4,#4575b4,#4575b4,#4575b4,#4575b4,#4575b4,#4575b4,#4575b4,#4575b4,#4575b4,#4575b4,#4575b4,#4575b4,#4575b4,#4575b4,#4575b4,#4575b4,#4575b4,#4575b4)"></i>
<i style="height:5px;background:linear-gradient(90deg,#4575b4,#4575b4,#4575b4,#4575b4,#4575b4,#4575b4,#4575b4,#4575b4,#4575b4,#4575b4,#4575b4,#4575b4,#4575b4,#4575b4,#4575b4,#4575b4,#4575b4,#4575b4,#4575b4,#4575b4,#4575b4,#4575b4,#4575b4,#4575b4,#4575b4,#4575b4,#4575b4,#4575b4,#4575b4,#4575b4,#4575b4,#4575b4,#4575b4,#4575b4,#4575b4,#4575b4,#4575b4,#4575b4,#4575b4,#4575b4,#4575b4)"></i>
<i style="height:5px;background:linear-gradient(90deg,#4575b4,#4575b4,#4575b4,#4575b4,#4575b4,#4575b4,#4575b4,#4575b4,#4575b4,#4575b4,#4575b4,#4575b4,#4575b4,#4575b4,#4575b4,#4575b4,#4575b4,#4575b4,#4575b4,#4575b4,#4575b4,#4575b4,#4575b4,#4575b4,#4575b4,#4575b4,#4575b4,#4575b4,#4575b4,#4575b4,#4575b4,#4575b4,#4575b4,#4575b4,#4575b4,#4575b4,#4575b4,#4575b4,#4575b4,#4575b4,#4575b4)"></i>
<i style="height:5px;background:linear-gradient(90deg,#4575b4,#4575b4,#4575b4,#4575b4,#4575b4,#4575b4,#4575b4,#4575b4,#4575b4,#4575b4,#4575b4,#4575b4,#4575b4,#4575b4,#4575b4,#4575b4,#4575b4,#4575b4,#4575b4,#4575b4,#4575b4,#4575b4,#4575b4,#4575b4,#4575b4,#4575b4,#4575b4,#4575b4,#4575b4,#4575b4,#4575b4,#4575b4,#4575b4,#4575b4,#4575b4,#4575b4,#4575b4,#4575b4,#4575b4,#4575b4,#4575b4)"></i>
<i style="height:5px;background:linear-gradient(90deg,#4575b4,#4575b4,#4575b4,#4575b4,#4575b4,#4575b4,#4575b4,#4575b4,#4575b4,#4575b4,#4575b4,#4575b4,#4575b4,#4575b4,#4575b4,#4575b4,#4575b4,#4575b4,#4575b4,#4575b4,#4575b4,#4575b4,#4575b4,#4575b4,#4575b4,#4575b4,#4575b4,#4575b4,#4575b4,#4575b4,#4575b4,#4575b4,#4575b4,#4575b4,#4575b4,#4575b4,#4575b4,#4575b4,#4575b4,#4575b4,#4575b4)"></i>
<i style="height:5px;background:linear-gradient(90deg,#4575b4,#4575b4,#4575b4,#4575b4,#4575b4,#4575b4,#4575b4,#4575b4,#4575b4,#4575b4,#4575b4,#4575b4,#4575b4,#4575b4,#4575b4,#4575b4,#4575b4,#4575b4,#4575b4,#4575b4,#4575b4,#4575b4,#4575b4,#4575b4,#4575b4,#4575b4,#4575b4,#4575b4,#4575b4,#4575b4,#4575b4,#4575b4,#4575b4,#4575b4,#4575b4,#4575b4,#4575b4,#4575b4,#4575b4,#4575b4,#4575b4)"></i>
<i style="height:5px;background:linear-gradient(90deg,#4575b4,#4575b4,#4575b4,#4575b4,#4575b4,#4575b4,#4575b4,#4575b4,#4575b4,#4575b4,#4575b4,#4575b4,#4575b4,#4575b4,#4575b4,#4575b4,#4575b4,#4575b4,#4575b4,#4575b4,#4575b4,#4575b4,#4575b4,#4575b4,#4575b4,#4575b4,#4575b4,#4575b4,#4575b4,#4575b4,#4575b4,#4575b4,#4575b4,#4575b4,#4575b4,#4575b4,#4575b4,#4575b4,#4575b4,#4575b4,#4575b4)"></i>
<i style="height:5px;background:linear-gradient(90deg,#4575b4,#4575b4,#4575b4,#4575b4,#4575b4,#4575b4,#4575b4,#4575b4,#4575b4,#4575b4,#4575b4,#4575b4,#4575b4,#4575b4,#4575b4,#4575b4,#4575b4,#4575b4,#4575b4,#4575b4,#4575b4,#4575b4,#4575b4,#4575b4,#4575b4,#4575b4,#4575b4,#4575b4,#4575b4,#4575b4,#4575b4,#4575b4,#4575b4,#4575b4,#4575b4,#4575b4,#4575b4,#4575b4,#4575b4,#4575b4,#4575b4)"></i>
<i style="height:5px;background:linear-gradient(90deg,#4575b4,#4575b4,#4575b4,#4575b4,#4575b4,#4575b4,#4575b4,#4575b4,#4575b4,#4575b4,#4575b4,#4575b4,#4575b4,#4575b4,#4575b4,#4575b4,#4575b4,#4575b4,#4575b4,#4575b4,#4575b4,#4575b4,#4575b4,#4575b4,#4575b4,#4575b4,#4575b4,#4575b4,#4575b4,#4575b4,#4575b4,#4575b4,#4575b4,#4575b4,#4575b4,#4575b4,#4575b4,#4575b4,#4575b4,#4575b4,#4575b4)"></i>
<i style="height:5px;background:linear-gradient(90deg,#4575b4,#4575b4,#4575b4,#4575b4,#4575b4,#4575b4,#4575b4,#4575b4,#4575b4,#4575b4,#4575b4,#4575b4,#4575b4,#4575b4,#4575b4,#4575b4,#4575b4,#4575b4,#4575b4,#4575b4,#4575b4,#4575b4,#4575b4,#4575b4,#4575b4,#4575b4,#4575b4,#4575b4,#4575b4,#4575b4,#4575b4,#4575b4,#4575b4,#4575b4,#4575b4,#4575b4,#4575b4,#4575b4,#4575b4,#4575b4,#4575b4)"></i>
</div></div>
<div class="hm" style="left:1553.90px;top:52.90px;width:327.30px;height:396.95px">
<div class="hi" style="left:-10px;top:-10px;width:347.30px;filter:blur(2.5px)">
<i style="height:5px;background:linear-gradient(90deg,#c9deef,#c8ddee,#c6dcee,#c4dbed,#c2daed,#c0d9ec,#bed8ec,#bdd7eb,#bcd6eb,#bbd6eb,#bbd6eb,#bbd6eb,#bdd7eb,#bed8ec,#c1d9ed,#c4dbed,#c7ddee,#cbdfef,#cfe1f0,#d2e3f1,#d6e6f2,#dae8f3,#ddeaf4,#e0ebf5,#e1ecf5,#e2edf6,#e2edf6,#e2edf6,#e2edf6,#e2edf6,#e2edf6,#e2edf6,#e2edf6,#e2edf6,#e2edf6,#e2edf6,#e2edf6,#e2edf6,#e2edf6,#e2edf6,#e2edf6)"></i>
<i style="height:5px;background:linear-gradient(90deg,#c8ddef,#c6dcee,#c4dbee,#c2daed,#c0d9ec,#bed8ec,#bdd7eb,#bbd6eb,#bad5eb,#b9d5ea,#b9d5ea,#b9d5ea,#bad6eb,#bcd7eb,#bfd8ec,#c2daed,#c6dcee,#c9deef,#cde0f0,#d2e3f1,#d6e5f2,#dae8f3,#ddeaf4,#e0ebf5,#e2ecf5,#e2edf6,#e2edf6,#e2edf6,#e2edf6,#e2edf6,#e2ecf5,#e2ecf5,#e2ecf5,#e2edf6,#e2edf6,#e2edf6,#e2edf6,#e2edf6,#e2edf6,#e2edf6,#e2ecf5)"></i>
<i style="height:5px;background:linear-gradient(90deg,#c7dcee,#c5dbee,#c3daed,#c1d9ed,#bfd8ec,#bdd7eb,#bbd6eb,#b9d5ea,#b8d4ea,#b7d4ea,#b6d3ea,#b7d4ea,#b8d4ea,#bad5eb,#bcd7eb,#c0d8ec,#c4dbed,#c8ddef,#cce0f0,#d1e2f1,#d5e5f2,#d9e8f3,#ddeaf4,#e0ebf5,#e2ecf5,#e2edf6,#e2edf6,#e2edf6,#e2ecf5,#e2ecf5,#e2ecf5,#e2ecf5,#e2ecf5,#e2ecf5,#e2ecf5,#e2ecf5,#e2edf6,#e2edf6,#e2edf6,#e2ecf5,#e1ecf5)"></i>
<i style="height:5px;background:linear-gradient(90deg,#c6dcee,#c3dbed,#c1d9ed,#bfd8ec,#bdd7ec,#bbd6eb,#b9d5ea,#b7d4ea,#b6d3e9,#b5d2e9,#b4d2e9,#b5d3e9,#b6d3ea,#b8d4ea,#bad5eb,#bdd7ec,#c2daed,#c7dcee,#cbdfef,#d0e2f1,#d5e5f2,#d9e7f3,#ddeaf4,#e0ebf5,#e2ecf5,#e2edf6,#e2edf6,#e2ecf5,#e1ecf5,#e1ecf5,#e1ecf5,#e1ecf5,#e1ecf5,#e1ecf5,#e2ecf5,#e2ecf5,#e2ecf5,#e2ecf5,#e2ecf5,#e2ecf5,#e1ecf5)"></i>
<i style="height:5px;background:linear-gradient(90deg,#c4dbed,#c2daed,#c0d9ec,#bed7ec,#bbd6eb,#b9d5ea,#b7d4ea,#b5d3e9,#b4d2e9,#b3d1e9,#b2d1e9,#b3d1e9,#b4d2e9,#b5d3e9,#b8d4ea,#bbd6eb,#bfd8ec,#c5dbee,#cadeef,#cfe1f0,#d4e5f2,#d9e7f3,#ddeaf4,#e0ebf5,#e2ecf5,#e2edf6,#e2edf6,#e2ecf5,#e1ecf5,#e1ecf5,#e1ecf5,#e1ecf5,#e1ecf5,#e1ecf5,#e1ecf5,#e1ecf5,#e2ecf5,#e2ecf5,#e2ecf5,#e1ecf5,#e1ecf5)"></i>
<i style="height:5px;background:linear-gradient(90deg,#c3daed,#c0d9ec,#bed8ec,#bcd6eb,#bad5eb,#b8d4ea,#b5d3e9,#b3d2e9,#b2d1e8,#b0d0e8,#b0d0e8,#b1d0e8,#b2d1e8,#b3d2e9,#b5d3e9,#b8d4ea,#bdd7eb,#c3daed,#c9deef,#cfe1f0,#d4e5f2,#d9e8f3,#deeaf4,#e0ecf5,#e2edf6,#e2edf6,#e2edf6,#e2ecf5,#e1ecf5,#e1ecf5,#e1ecf5,#e1ecf5,#e1ecf5,#e1ecf5,#e1ecf5,#e1ecf5,#e1ecf5,#e1ecf5,#e1ecf5,#e1ecf5,#e1ecf5)"></i>
<i style="height:5px;background:linear-gradient(90deg,#c1d9ed,#bfd8ec,#bcd7eb,#bad6eb,#b8d4ea,#b6d3ea,#b4d2e9,#b1d1e8,#afcfe8,#aecfe7,#aecfe7,#aecfe7,#afcfe8,#b1d0e8,#b3d1e9,#b6d3ea,#bbd6eb,#c1d9ed,#c8ddee,#cee1f0,#d4e5f2,#dae8f3,#deeaf5,#e1ecf5,#e2edf6,#e3edf6,#e2edf6,#e2edf6,#e2ecf5,#e2ecf5,#e1ecf5,#e1ecf5,#e1ecf5,#e1ecf5,#e1ecf5,#e1ecf5,#e1ecf5,#e1ecf5,#e1ecf5,#e1ecf5,#e1ecf5)"></i>
<i style="height:5px;background:linear-gradient(90deg,#c0d9ec,#bdd7ec,#bbd6eb,#b9d5ea,#b7d3ea,#b4d2e9,#b2d1e8,#afcfe8,#adcee7,#accde7,#abcde7,#accee7,#adcee7,#aecfe7,#b0d0e8,#b3d2e9,#b8d4ea,#bfd8ec,#c7ddee,#cee1f0,#d5e5f2,#dbe8f4,#dfebf5,#e2edf6,#e3edf6,#e3edf6,#e3edf6,#e2edf6,#e2edf6,#e2edf6,#e2ecf5,#e1ecf5,#e1ecf5,#e1ecf5,#e1ecf5,#e1ecf5,#e1ecf5,#e1ecf5,#e1ecf5,#e1ecf5,#e1ecf5)"></i>
<i style="height:5px;background:linear-gradient(90deg,#bfd8ec,#bcd6eb,#bad5eb,#b7d4ea,#b5d3e9,#b3d1e9,#b0d0e8,#adcee7,#abcde6,#a9cce6,#a9cce6,#a9cce6,#aacde6,#accde7,#adcee7,#b0d0e8,#b6d3ea,#bdd7ec,#c6dcee,#cee1f0,#d5e5f2,#dce9f4,#e0ecf5,#e3edf6,#e4eef6,#e4eef6,#e4eef6,#e3edf6,#e3edf6,#e2edf6,#e2edf6,#e1ecf5,#e1ecf5,#e1ecf5,#e1ecf5,#e1ecf5,#e1ecf5,#e1ecf5,#e1ecf5,#e1ecf5,#e1ecf5)"></i>
<i style="height:5px;background:linear-gradient(90deg,#bed7ec,#bbd6eb,#b8d5ea,#b6d3ea,#b4d2e9,#b1d0e8,#aecfe7,#abcde6,#a8cce6,#a6cbe5,#a6cae5,#a6cae5,#a7cbe6,#a9cce6,#aacde6,#aecee7,#b4d2e9,#bcd7eb,#c6dcee,#cee1f0,#d6e6f2,#ddeaf4,#e2edf6,#e4eef6,#e5eff6,#e5eff6,#e5eef6,#e4eef6,#e3edf6,#e3edf6,#e2edf6,#e2ecf5,#e1ecf5,#e1ecf5,#e1ecf5,#e1ecf5,#e1ecf5,#e1ecf5,#e1ecf5,#e1ecf5,#e1ecf5)"></i>
<i style="height:5px;background:linear-gradient(90deg,#bdd7eb,#bad5eb,#b8d4ea,#b5d3e9,#b2d1e9,#afcfe8,#accee7,#a9cce6,#a6cae5,#a4c9e4,#a3c8e4,#a3c9e4,#a4c9e5,#a5cae5,#a7cbe5,#abcde7,#b2d1e9,#bcd6eb,#c6dcee,#cfe1f0,#d8e7f3,#dfebf5,#e4eef6,#e6eff7,#e7eff7,#e6eff7,#e6eff7,#e5eef6,#e4eef6,#e3edf6,#e3edf6,#e2edf6,#e2ecf5,#e2ecf5,#e1ecf5,#e1ecf5,#e1ecf5,#e1ecf5,#e1ecf5,#e1ecf5,#e1ecf5)"></i>
<i style="height:5px;background:linear-gradient(90deg,#bcd7eb,#b9d5eb,#b7d4ea,#b4d2e9,#b1d0e8,#aecfe7,#aacce6,#a6cae5,#a3c9e4,#a1c7e4,#a0c7e3,#a0c7e3,#a1c7e4,#a2c8e4,#a4c9e5,#a9cce6,#b1d1e8,#bcd7eb,#c8ddee,#d1e2f1,#dae8f3,#e1ecf5,#e5eff6,#e7f0f7,#e8f0f7,#e8f0f7,#e7f0f7,#e6eff7,#e5eef6,#e4eef6,#e3edf6,#e2edf6,#e2edf6,#e2edf6,#e2ecf5,#e2ecf5,#e1ecf5,#e1ecf5,#e1ecf5,#e1ecf5,#e1ecf5)"></i>
<i style="height:5px;background:linear-gradient(90deg,#bcd6eb,#b9d5ea,#b6d3ea,#b3d2e9,#b0d0e8,#accee7,#a8cbe6,#a4c9e5,#a0c7e4,#9ec6e3,#9cc5e2,#9cc5e3,#9ec6e3,#9fc6e3,#a1c8e4,#a7cbe5,#b1d1e8,#bed7ec,#c9deef,#d3e4f2,#dce9f4,#e3edf6,#e7f0f7,#e9f1f7,#e9f1f7,#e9f1f7,#e8f0f7,#e7eff7,#e5eff7,#e4eef6,#e3eef6,#e3edf6,#e2edf6,#e2edf6,#e2edf6,#e2ecf5,#e2ecf5,#e1ecf5,#e1ecf5,#e1ecf5,#e1ecf5)"></i>
<i style="height:5px;background:linear-gradient(90deg,#bbd6eb,#b9d5ea,#b6d3ea,#b3d1e9,#afcfe8,#abcde6,#a6cae5,#a1c8e4,#9dc6e3,#9bc4e2,#99c3e2,#9ac3e2,#9bc4e2,#9dc5e3,#a0c7e4,#a7cbe5,#b3d1e9,#c0d9ec,#cce0f0,#d6e5f2,#deeaf5,#e5eef6,#e8f0f7,#eaf1f8,#eaf2f8,#eaf1f8,#e9f1f7,#e7f0f7,#e6eff7,#e5eef6,#e4eef6,#e3edf6,#e3edf6,#e2edf6,#e2edf6,#e2edf6,#e2ecf5,#e2ecf5,#e1ecf5,#e1ecf5,#e1ecf5)"></i>
<i style="height:5px;background:linear-gradient(90deg,#bbd6eb,#b8d4ea,#b5d3e9,#b2d1e9,#aecfe7,#a9cce6,#a4c9e5,#9fc6e3,#9bc4e2,#98c3e1,#97c2e1,#97c2e1,#99c3e2,#9cc5e2,#a1c8e4,#a9cce6,#b6d3ea,#c4dbed,#cfe1f0,#d9e7f3,#e1ecf5,#e6eff7,#eaf1f8,#ebf2f8,#ebf2f8,#ebf2f8,#eaf1f8,#e8f0f7,#e7eff7,#e5eff7,#e4eef6,#e4eef6,#e3edf6,#e3edf6,#e2edf6,#e2edf6,#e2edf6,#e2ecf5,#e1ecf5,#e1ecf5,#e1ecf5)"></i>
<i style="height:5px;background:linear-gradient(90deg,#bbd6eb,#b8d4ea,#b5d3e9,#b2d1e8,#adcee7,#a8cbe6,#a2c8e4,#9dc5e3,#99c3e1,#96c1e1,#95c0e0,#96c1e1,#98c3e1,#9dc5e3,#a3c9e4,#adcee7,#bbd6eb,#c8ddef,#d3e4f2,#dce9f4,#e3edf6,#e8f0f7,#ebf2f8,#ebf2f8,#ebf2f8,#ebf2f8,#eaf2f8,#e9f1f7,#e7f0f7,#e6eff7,#e5eef6,#e4eef6,#e3edf6,#e3edf6,#e2edf6,#e2edf6,#e2edf6,#e2ecf5,#e1ecf5,#e1ecf5,#e1ecf5)"></i>
<i style="height:5px;background:linear-gradient(90deg,#bad5eb,#b7d4ea,#b4d2e9,#b1d0e8,#accee7,#a6cbe5,#a0c7e4,#9bc4e2,#97c2e1,#94c0e0,#93bfe0,#94c0e0,#99c3e1,#9fc6e3,#a7cbe5,#b2d1e9,#c0d9ec,#cde0f0,#d7e6f3,#dfebf5,#e6eff7,#eaf1f8,#ebf2f8,#ebf2f8,#ebf2f8,#ebf2f8,#ebf2f8,#e9f1f8,#e8f0f7,#e6eff7,#e5eff6,#e4eef6,#e3eef6,#e3edf6,#e3edf6,#e2edf6,#e2edf6,#e2edf6,#e2ecf5,#e1ecf5,#e1ecf5)"></i>
<i style="height:5px;background:linear-gradient(90deg,#bad5eb,#b7d4ea,#b4d2e9,#b0d0e8,#abcde7,#a5cae5,#9fc6e3,#99c3e2,#95c1e0,#92bfe0,#92bfdf,#94c0e0,#9ac3e2,#a1c8e4,#accde7,#b8d4ea,#c7dcee,#d2e3f1,#dce9f4,#e3edf6,#e8f0f7,#ebf2f8,#ebf2f8,#ebf2f8,#ebf2f8,#ebf2f8,#ebf2f8,#eaf1f8,#e8f0f7,#e7eff7,#e5eff6,#e4eef6,#e4eef6,#e3edf6,#e3edf6,#e3edf6,#e2edf6,#e2edf6,#e2ecf5,#e1ecf5,#e1ecf5)"></i>
<i style="height:5px;background:linear-gradient(90deg,#b9d5ea,#b6d3ea,#b3d1e9,#afcfe8,#aacce6,#a4c9e4,#9dc6e3,#98c3e1,#94c0e0,#91bedf,#91bedf,#95c1e0,#9bc4e2,#a5cae5,#b1d0e8,#bfd8ec,#cce0f0,#d7e6f3,#e0ecf5,#e6eff7,#ebf2f8,#ebf2f8,#ebf2f8,#ebf2f8,#ebf2f8,#ebf2f8,#ebf2f8,#eaf1f8,#e8f0f7,#e7eff7,#e5eff7,#e5eef6,#e4eef6,#e3edf6,#e3edf6,#e3edf6,#e3edf6,#e2edf6,#e2edf6,#e1ecf5,#e1ecf5)"></i>
<i style="height:5px;background:linear-gradient(90deg,#b8d4ea,#b5d3e9,#b1d1e8,#adcee7,#a8cbe6,#a2c8e4,#9cc5e2,#97c2e1,#93c0e0,#91bedf,#92bfdf,#96c1e1,#9ec6e3,#a9cce6,#b6d3ea,#c5dbee,#d1e3f1,#dce9f4,#e4eef6,#eaf1f8,#ebf2f8,#ebf2f8,#ebf2f8,#ebf2f8,#ebf2f8,#ebf2f8,#ebf2f8,#eaf1f8,#e8f0f7,#e7eff7,#e6eff7,#e5eef6,#e4eef6,#e4eef6,#e3edf6,#e3edf6,#e3edf6,#e2edf6,#e2edf6,#e1ecf5,#e1ecf5)"></i>
<i style="height:5px;background:linear-gradient(90deg,#b8d4ea,#b4d2e9,#b0d0e8,#accde7,#a6cae5,#a1c7e4,#9bc4e2,#96c2e1,#93c0e0,#92bfdf,#93c0e0,#99c3e1,#a1c8e4,#adcee7,#bbd6eb,#cadeef,#d6e5f2,#e0ecf5,#e8f0f7,#ebf2f8,#ebf2f8,#ebf2f8,#ebf2f8,#ebf2f8,#ebf2f8,#ebf2f8,#ebf2f8,#eaf1f8,#e8f0f7,#e7eff7,#e5eff6,#e5eef6,#e4eef6,#e4eef6,#e3edf6,#e3edf6,#e3edf6,#e3edf6,#e2edf6,#e2ecf5,#e1ecf5)"></i>
<i style="height:5px;background:linear-gradient(90deg,#b7d4ea,#b3d1e9,#afcfe8,#aacde6,#a5cae5,#9fc7e3,#9ac4e2,#96c2e1,#94c0e0,#94c0e0,#96c1e1,#9cc5e2,#a6cae5,#b2d1e9,#c1d9ed,#cee1f0,#dae8f3,#e4eef6,#eaf2f8,#ebf2f8,#ebf2f8,#ebf2f8,#ebf2f8,#ebf2f8,#ebf2f8,#ebf2f8,#ebf2f8,#eaf1f8,#e8f0f7,#e6eff7,#e5eff6,#e4eef6,#e4eef6,#e4eef6,#e3eef6,#e3edf6,#e3edf6,#e3edf6,#e2edf6,#e2edf6,#e1ecf5)"></i>
<i style="height:5px;background:linear-gradient(90deg,#b6d3ea,#b2d1e8,#aecee7,#a9cce6,#a4c9e4,#9ec6e3,#9ac4e2,#97c2e1,#95c1e1,#96c1e1,#9ac3e2,#a0c7e4,#abcde6,#b8d4ea,#c7ddee,#d3e4f2,#deeaf4,#e7eff7,#ebf2f8,#ebf2f8,#ebf2f8,#ebf2f8,#ebf2f8,#ebf2f8,#ebf2f8,#ebf2f8,#ebf2f8,#e9f1f8,#e7f0f7,#e6eff7,#e5eef6,#e4eef6,#e4eef6,#e4eef6,#e4eef6,#e3eef6,#e3edf6,#e3edf6,#e3edf6,#e2edf6,#e1ecf5)"></i>
<i style="height:5px;background:linear-gradient(90deg,#b6d3ea,#b1d1e8,#adcee7,#a8cbe6,#a3c8e4,#9ec6e3,#9ac4e2,#98c2e1,#97c2e1,#99c3e2,#9ec6e3,#a6cae5,#b0d0e8,#bed7ec,#cce0f0,#d8e6f3,#e1ecf5,#e9f1f8,#ebf2f8,#ebf2f8,#ebf2f8,#ebf2f8,#ebf2f8,#ebf2f8,#ebf2f8,#ebf2f8,#ebf2f8,#e9f1f7,#e7f0f7,#e6eff7,#e5eef6,#e4eef6,#e4eef6,#e4eef6,#e4eef6,#e4eef6,#e4eef6,#e3edf6,#e3edf6,#e2edf6,#e2ecf5)"></i>
<i style="height:5px;background:linear-gradient(90deg,#b6d3e9,#b1d0e8,#accee7,#a7cbe5,#a2c8e4,#9ec6e3,#9ac4e2,#99c3e2,#9ac4e2,#9dc5e3,#a3c9e4,#abcde7,#b6d3ea,#c5dbee,#d1e3f1,#dce9f4,#e5eef6,#ebf2f8,#ebf2f8,#ebf2f8,#ebf2f8,#ebf2f8,#ebf2f8,#ebf2f8,#ebf2f8,#ebf2f8,#eaf1f8,#e8f0f7,#e6eff7,#e5eef6,#e4eef6,#e4eef6,#e4eef6,#e4eef6,#e4eef6,#e4eef6,#e4eef6,#e4eef6,#e3edf6,#e3edf6,#e2edf6)"></i>
<i style="height:5px;background:linear-gradient(90deg,#b6d3e9,#b1d0e8,#accee7,#a7cbe5,#a2c8e4,#9ec6e3,#9bc4e2,#9bc4e2,#9dc5e3,#a2c8e4,#a9cce6,#b2d1e9,#bed8ec,#cbdfef,#d7e6f3,#e1ecf5,#e8f0f7,#ebf2f8,#ebf2f8,#ebf2f8,#ebf2f8,#ebf2f8,#ebf2f8,#ebf2f8,#ebf2f8,#ebf2f8,#e9f1f8,#e7f0f7,#e6eff7,#e4eef6,#e4eef6,#e3eef6,#e3eef6,#e4eef6,#e4eef6,#e4eef6,#e4eef6,#e4eef6,#e4eef6,#e3edf6,#e2edf6)"></i>
<i style="height:5px;background:linear-gradient(90deg,#b6d3ea,#b1d1e8,#accee7,#a7cbe5,#a2c8e4,#9fc6e3,#9dc5e3,#9dc6e3,#a1c7e4,#a7cbe5,#afcfe8,#bad5eb,#c6dcee,#d2e3f1,#ddeaf4,#e5eff6,#ebf2f8,#ebf2f8,#ebf2f8,#ebf2f8,#ebf2f8,#ebf2f8,#ebf2f8,#ebf2f8,#ebf2f8,#ebf2f8,#e9f1f7,#e7eff7,#e5eef6,#e4eef6,#e3edf6,#e3edf6,#e3edf6,#e4eef6,#e4eef6,#e4eef6,#e4eef6,#e4eef6,#e4eef6,#e3edf6,#e2edf6)"></i>
<i style="height:5px;background:linear-gradient(90deg,#b7d4ea,#b2d1e8,#adcee7,#a8cbe6,#a3c9e4,#a0c7e3,#9fc6e3,#a0c7e4,#a5cae5,#accee7,#b6d3e9,#c1d9ed,#cde0f0,#d8e7f3,#e2edf6,#e9f1f7,#ebf2f8,#ebf2f8,#ebf2f8,#ebf2f8,#ebf2f8,#ebf2f8,#ebf2f8,#ebf2f8,#ebf2f8,#eaf1f8,#e8f0f7,#e6eff7,#e4eef6,#e3edf6,#e3edf6,#e3edf6,#e3edf6,#e3eef6,#e4eef6,#e4eef6,#e4eef6,#e4eef6,#e4eef6,#e3edf6,#e2edf6)"></i>
<i style="height:5px;background:linear-gradient(90deg,#b8d4ea,#b3d2e9,#aecfe7,#a9cce6,#a5cae5,#a2c8e4,#a1c8e4,#a4c9e5,#a9cce6,#b2d1e8,#bcd7eb,#c8ddef,#d2e3f1,#ddeaf4,#e6eff7,#ebf2f8,#ebf2f8,#ebf2f8,#ebf2f8,#ebf2f8,#ebf2f8,#ebf2f8,#ebf2f8,#ebf2f8,#ebf2f8,#e9f1f7,#e7f0f7,#e5eef6,#e3edf6,#e2edf6,#e2edf6,#e2edf6,#e3edf6,#e3edf6,#e4eef6,#e4eef6,#e4eef6,#e4eef6,#e4eef6,#e3eef6,#e2edf6)"></i>
<i style="height:5px;background:linear-gradient(90deg,#bad5eb,#b5d3e9,#b0d0e8,#abcde7,#a7cbe5,#a4c9e5,#a5c9e5,#a8cbe6,#afcfe8,#b8d4ea,#c4dbed,#cee1f0,#d8e7f3,#e1ecf5,#e8f0f7,#ebf2f8,#ebf2f8,#ebf2f8,#ebf2f8,#ebf2f8,#ebf2f8,#ebf2f8,#ebf2f8,#ebf2f8,#eaf1f8,#e8f0f7,#e6eff7,#e4eef6,#e3edf6,#e2edf6,#e2edf6,#e2edf6,#e3edf6,#e3edf6,#e4eef6,#e4eef6,#e5eef6,#e5eef6,#e4eef6,#e3eef6,#e2edf6)"></i>
<i style="height:5px;background:linear-gradient(90deg,#bcd6eb,#b7d4ea,#b2d1e9,#aecfe7,#aacce6,#a7cbe6,#a8cce6,#adcee7,#b4d2e9,#bed8ec,#cadeef,#d4e4f2,#dde9f4,#e4eef6,#eaf2f8,#ebf2f8,#ebf2f8,#ebf2f8,#ebf2f8,#ebf2f8,#ebf2f8,#ebf2f8,#ebf2f8,#ebf2f8,#e9f1f7,#e7f0f7,#e5eff6,#e4eef6,#e2edf6,#e2ecf5,#e2ecf5,#e2edf6,#e3edf6,#e3edf6,#e4eef6,#e4eef6,#e4eef6,#e4eef6,#e4eef6,#e3edf6,#e2edf6)"></i>
<i style="height:5px;background:linear-gradient(90deg,#bed8ec,#bad5eb,#b5d3e9,#b1d0e8,#adcee7,#abcde7,#adcee7,#b2d1e9,#bbd6eb,#c6dcee,#d0e2f1,#d9e7f3,#e1ecf5,#e7f0f7,#ebf2f8,#ebf2f8,#ebf2f8,#ebf2f8,#ebf2f8,#ebf2f8,#ebf2f8,#ebf2f8,#ebf2f8,#e9f1f8,#e8f0f7,#e6eff7,#e5eef6,#e3edf6,#e2edf6,#e1ecf5,#e1ecf5,#e2edf6,#e2edf6,#e3edf6,#e4eef6,#e4eef6,#e4eef6,#e4eef6,#e4eef6,#e3edf6,#e2ecf5)"></i>
<i style="height:5px;background:linear-gradient(90deg,#c1d9ed,#bdd7eb,#b9d5ea,#b5d2e9,#b1d1e8,#b0d0e8,#b2d1e8,#b8d4ea,#c2daed,#ccdff0,#d6e6f2,#deeaf5,#e4eef6,#e9f1f7,#ebf2f8,#ebf2f8,#ebf2f8,#ebf2f8,#ebf2f8,#ebf2f8,#ebf2f8,#ebf2f8,#e9f1f8,#e8f0f7,#e6eff7,#e5eff6,#e4eef6,#e3edf6,#e2ecf5,#e1ecf5,#e1ecf5,#e2ecf5,#e2edf6,#e3edf6,#e3eef6,#e4eef6,#e4eef6,#e4eef6,#e4eef6,#e3edf6,#e1ecf5)"></i>
<i style="height:5px;background:linear-gradient(90deg,#c4dbed,#c0d9ec,#bdd7eb,#b9d5eb,#b7d4ea,#b5d3e9,#b8d4ea,#bfd8ec,#c9deef,#d2e3f1,#dce9f4,#e3edf6,#e7f0f7,#eaf1f8,#ebf2f8,#ebf2f8,#ebf2f8,#ebf2f8,#ebf2f8,#ebf2f8,#ebf2f8,#e9f1f7,#e8f0f7,#e6eff7,#e5eff6,#e4eef6,#e3edf6,#e2edf6,#e2ecf5,#e1ecf5,#e1ecf5,#e1ecf5,#e2edf6,#e3edf6,#e3edf6,#e4eef6,#e4eef6,#e4eef6,#e3edf6,#e2edf6,#e0ecf5)"></i>
<i style="height:5px;background:linear-gradient(90deg,#c7dcee,#c4dbed,#c1d9ed,#bfd8ec,#bdd7eb,#bdd7eb,#c0d8ec,#c7dcee,#cee1f0,#d7e6f3,#e0ebf5,#e5eff7,#e9f1f7,#eaf2f8,#ebf2f8,#ebf2f8,#ebf2f8,#ebf2f8,#ebf2f8,#eaf2f8,#e9f1f7,#e7f0f7,#e6eff7,#e5eef6,#e4eef6,#e4eef6,#e3edf6,#e2edf6,#e1ecf5,#e1ecf5,#e1ecf5,#e1ecf5,#e1ecf5,#e2edf6,#e3edf6,#e3eef6,#e4eef6,#e3edf6,#e2edf6,#e1ecf5,#dfebf5)"></i>
<i style="height:5px;background:linear-gradient(90deg,#c9deef,#c7ddee,#c6dcee,#c4dbee,#c4dbed,#c5dbee,#c8ddee,#cde0f0,#d4e4f2,#dbe9f4,#e3edf6,#e7f0f7,#e9f1f8,#eaf2f8,#eaf2f8,#eaf2f8,#eaf2f8,#eaf1f8,#eaf1f8,#e9f1f7,#e7f0f7,#e6eff7,#e4eef6,#e4eef6,#e3edf6,#e3edf6,#e2edf6,#e2ecf5,#e1ecf5,#e1ecf5,#e1ecf5,#e1ecf5,#e1ecf5,#e1ecf5,#e2edf6,#e3edf6,#e3edf6,#e2edf6,#e1ecf5,#e0ecf5,#deeaf5)"></i>
<i style="height:5px;background:linear-gradient(90deg,#ccdff0,#cadfef,#c9deef,#c9deef,#cadeef,#cbdfef,#cfe1f0,#d3e4f2,#d9e7f3,#dfebf5,#e4eef6,#e8f0f7,#e9f1f8,#eaf1f8,#e9f1f7,#e9f1f7,#e8f0f7,#e8f0f7,#e8f0f7,#e7f0f7,#e6eff7,#e4eef6,#e3edf6,#e3edf6,#e3edf6,#e2edf6,#e2edf6,#e1ecf5,#e1ecf5,#e0ecf5,#e0ebf5,#e0ebf5,#e0ecf5,#e1ecf5,#e2ecf5,#e2edf6,#e3edf6,#e2edf6,#e0ecf5,#dfebf5,#dde9f4)"></i>
<i style="height:5px;background:linear-gradient(90deg,#cee1f0,#cde0f0,#cde0f0,#cde0f0,#cfe1f0,#d1e3f1,#d5e5f2,#d9e7f3,#ddeaf4,#e2ecf5,#e6eff7,#e8f0f7,#e9f1f7,#e8f0f7,#e7f0f7,#e7eff7,#e6eff7,#e6eff7,#e6eff7,#e5eff7,#e4eef6,#e3edf6,#e2edf6,#e2edf6,#e2edf6,#e2edf6,#e2ecf5,#e1ecf5,#e0ecf5,#e0ebf5,#dfebf5,#dfebf5,#dfebf5,#dfebf5,#e0ecf5,#e2ecf5,#e2edf6,#e2edf6,#e0ecf5,#deeaf5,#dbe9f4)"></i>
<i style="height:5px;background:linear-gradient(90deg,#d1e2f1,#d0e2f1,#d0e2f1,#d1e3f1,#d3e4f2,#d6e6f2,#dae8f3,#ddeaf4,#e1ecf5,#e4eef6,#e6eff7,#e8f0f7,#e8f0f7,#e7f0f7,#e6eff7,#e5eef6,#e5eef6,#e5eef6,#e5eef6,#e4eef6,#e3edf6,#e2edf6,#e2ecf5,#e2ecf5,#e2edf6,#e2ecf5,#e1ecf5,#e1ecf5,#e0ebf5,#dfebf5,#deeaf5,#ddeaf4,#ddeaf4,#ddeaf4,#deebf5,#e0ecf5,#e1ecf5,#e2edf6,#e0ecf5,#deeaf4,#d9e7f3)"></i>
<i style="height:5px;background:linear-gradient(90deg,#d3e4f2,#d3e4f2,#d3e4f2,#d5e5f2,#d7e6f3,#dae8f3,#deeaf4,#e1ecf5,#e3edf6,#e5eef6,#e7eff7,#e7f0f7,#e7f0f7,#e6eff7,#e4eef6,#e3edf6,#e3edf6,#e4eef6,#e4eef6,#e3edf6,#e3edf6,#e2ecf5,#e1ecf5,#e2ecf5,#e2edf6,#e2ecf5,#e1ecf5,#e0ecf5,#dfebf5,#deeaf4,#dde9f4,#dbe9f4,#dbe8f4,#dbe8f4,#dce9f4,#deeaf4,#e0ebf5,#e1ecf5,#e0ecf5,#dde9f4,#d6e6f2)"></i>
<i style="height:5px;background:linear-gradient(90deg,#d5e5f2,#d5e5f2,#d6e6f2,#d8e7f3,#dae8f3,#ddeaf4,#e0ecf5,#e3edf6,#e5eef6,#e6eff7,#e6eff7,#e7eff7,#e6eff7,#e5eef6,#e3edf6,#e2edf6,#e2edf6,#e3edf6,#e3edf6,#e3edf6,#e2edf6,#e1ecf5,#e1ecf5,#e2ecf5,#e2edf6,#e2ecf5,#e1ecf5,#e0ebf5,#deebf5,#dde9f4,#dbe8f4,#d9e7f3,#d7e6f3,#d7e6f3,#d8e6f3,#dae8f3,#ddeaf4,#dfebf5,#dfebf5,#dae8f3,#d2e3f1)"></i>
<i style="height:5px;background:linear-gradient(90deg,#d7e6f3,#d8e7f3,#d9e7f3,#dae8f3,#dde9f4,#dfebf5,#e2edf6,#e4eef6,#e5eff6,#e6eff7,#e6eff7,#e6eff7,#e5eef6,#e4eef6,#e2edf6,#e1ecf5,#e1ecf5,#e2edf6,#e2edf6,#e2edf6,#e1ecf5,#e1ecf5,#e1ecf5,#e1ecf5,#e2edf6,#e2edf6,#e1ecf5,#dfebf5,#deeaf4,#dbe8f4,#d8e7f3,#d5e5f2,#d3e4f1,#d2e3f1,#d2e3f1,#d4e4f2,#d7e6f3,#dbe9f4,#dce9f4,#d5e5f2,#ccdff0)"></i>
<i style="height:5px;background:linear-gradient(90deg,#d9e8f3,#dae8f3,#dbe8f4,#dce9f4,#deeaf5,#e1ecf5,#e3edf6,#e5eef6,#e5eff6,#e5eff6,#e5eff6,#e5eef6,#e4eef6,#e3edf6,#e2edf6,#e1ecf5,#e1ecf5,#e2ecf5,#e2ecf5,#e1ecf5,#e1ecf5,#e0ecf5,#e1ecf5,#e1ecf5,#e2edf6,#e2edf6,#e1ecf5,#dfebf5,#dce9f4,#d9e7f3,#d5e5f2,#d1e2f1,#cee0f0,#ccdfef,#cbdfef,#cce0f0,#cfe2f1,#d3e4f2,#d5e5f2,#cde0f0,#c2daed)"></i>
<i style="height:5px;background:linear-gradient(90deg,#dbe9f4,#dce9f4,#dce9f4,#deeaf4,#e0ebf5,#e2ecf5,#e3edf6,#e5eef6,#e5eef6,#e5eef6,#e4eef6,#e4eef6,#e3eef6,#e3edf6,#e2edf6,#e2ecf5,#e1ecf5,#e1ecf5,#e1ecf5,#e1ecf5,#e0ebf5,#e0ebf5,#e0ebf5,#e0ecf5,#e1ecf5,#e2ecf5,#e1ecf5,#dfebf5,#dbe8f4,#d6e5f2,#d1e2f1,#cbdfef,#c7ddee,#c3dbed,#c1d9ed,#c1d9ed,#c3dbed,#c7ddee,#c7ddee,#bfd8ec,#b3d2e9)"></i>
<i style="height:5px;background:linear-gradient(90deg,#dde9f4,#ddeaf4,#deeaf4,#dfebf5,#e1ecf5,#e2edf6,#e3edf6,#e4eef6,#e4eef6,#e4eef6,#e3edf6,#e3edf6,#e3edf6,#e3edf6,#e2edf6,#e2edf6,#e2ecf5,#e1ecf5,#e0ecf5,#e0ebf5,#dfebf5,#deeaf4,#deeaf4,#dfebf5,#e0ebf5,#e1ecf5,#e0ecf5,#deeaf4,#d9e7f3,#d2e3f1,#cbdfef,#c5dbee,#bed8ec,#b8d4ea,#b4d2e9,#b2d1e8,#b1d1e8,#b1d1e8,#b0d0e8,#a9cce6,#a1c7e4)"></i>
<i style="height:5px;background:linear-gradient(90deg,#deeaf4,#deeaf5,#dfebf5,#e0ebf5,#e1ecf5,#e2edf6,#e3edf6,#e4eef6,#e4eef6,#e3edf6,#e2edf6,#e2edf6,#e2edf6,#e2edf6,#e2edf6,#e2edf6,#e2ecf5,#e1ecf5,#e0ebf5,#deeaf5,#dde9f4,#dce9f4,#dbe9f4,#dce9f4,#ddeaf4,#dfebf5,#dfebf5,#dce9f4,#d5e5f2,#cde0f0,#c5dbee,#bcd6eb,#b3d2e9,#accee7,#a6cae5,#a1c8e4,#9dc5e3,#99c3e1,#94c0e0,#91bedf,#8cbbde)"></i>
<i style="height:5px;background:linear-gradient(90deg,#dfebf5,#dfebf5,#e0ebf5,#e1ecf5,#e1ecf5,#e2edf6,#e3edf6,#e3edf6,#e3edf6,#e3edf6,#e2ecf5,#e1ecf5,#e2ecf5,#e2edf6,#e2edf6,#e2edf6,#e1ecf5,#e0ecf5,#deebf5,#dce9f4,#dae8f3,#d9e7f3,#d8e7f3,#d8e7f3,#dae8f3,#dbe9f4,#dce9f4,#d8e7f3,#d0e2f1,#c7ddee,#bcd6eb,#b1d0e8,#a7cbe5,#9ec6e3,#97c2e1,#8fbddf,#88b9dd,#80b4da,#7ab0d8,#78afd8,#78afd8)"></i>
<i style="height:5px;background:linear-gradient(90deg,#e0ecf5,#e0ecf5,#e1ecf5,#e1ecf5,#e2ecf5,#e2edf6,#e3edf6,#e3edf6,#e3edf6,#e2edf6,#e1ecf5,#e1ecf5,#e1ecf5,#e1ecf5,#e2ecf5,#e2ecf5,#e1ecf5,#dfebf5,#dde9f4,#dae8f3,#d7e6f2,#d4e5f2,#d3e4f2,#d3e4f2,#d4e4f2,#d6e5f2,#d6e6f2,#d2e3f1,#c9deef,#bdd7ec,#b1d0e8,#a5cae5,#9ac4e2,#90bedf,#87b8dc,#7db2d9,#74acd7,#6aa6d4,#64a2d2,#63a2d1,#64a3d2)"></i>
<i style="height:5px;background:linear-gradient(90deg,#e1ecf5,#e1ecf5,#e1ecf5,#e1ecf5,#e2ecf5,#e2edf6,#e2edf6,#e2edf6,#e2edf6,#e2ecf5,#e1ecf5,#e0ecf5,#e0ecf5,#e0ecf5,#e1ecf5,#e1ecf5,#e0ebf5,#deeaf4,#dae8f3,#d6e6f2,#d2e3f1,#cfe1f0,#cde0f0,#cce0f0,#cce0f0,#cde0f0,#cee1f0,#c9deef,#bed7ec,#b1d0e8,#a4c9e5,#98c3e1,#8dbcde,#82b5db,#77aed8,#6ca8d4,#61a1d1,#579bce,#5197cc,#5096cc,#5398cd)"></i>
<i style="height:5px;background:linear-gradient(90deg,#e1ecf5,#e2ecf5,#e2ecf5,#e2ecf5,#e2edf6,#e2edf6,#e2edf6,#e2edf6,#e2edf6,#e1ecf5,#e0ecf5,#e0ebf5,#dfebf5,#dfebf5,#dfebf5,#dfebf5,#dfebf5,#dce9f4,#d7e6f3,#d2e3f1,#cde0f0,#c9deef,#c6dcee,#c3daed,#c2daed,#c1d9ed,#c0d9ec,#bad5eb,#afcfe8,#a2c8e4,#96c2e1,#8bbadd,#7fb3da,#74acd6,#68a5d3,#5d9ed0,#5197cc,#4790c9,#408cc8,#408cc7,#438ec8)"></i>
<i style="height:5px;background:linear-gradient(90deg,#e2edf6,#e2edf6,#e2edf6,#e2edf6,#e2edf6,#e2edf6,#e2edf6,#e2edf6,#e2edf6,#e1ecf5,#e0ebf5,#deeaf5,#ddeaf4,#ddeaf4,#ddeaf4,#ddeaf4,#dce9f4,#d8e7f3,#d2e3f1,#cce0f0,#c6dcee,#c0d9ec,#bbd6eb,#b7d4ea,#b4d2e9,#b1d0e8,#adcee7,#a6cae5,#9dc5e3,#93bfe0,#87b8dc,#7cb1d9,#71abd6,#66a4d2,#5a9dcf,#4f95cc,#438ec8,#3988c5,#3384c4,#3384c4,#3686c5)"></i>
<i style="height:5px;background:linear-gradient(90deg,#e2edf6,#e2edf6,#e2edf6,#e2edf6,#e2edf6,#e2edf6,#e2edf6,#e2edf6,#e2ecf5,#e0ecf5,#dfebf5,#ddeaf4,#dbe9f4,#dae8f3,#d9e7f3,#d9e7f3,#d8e7f3,#d3e4f2,#cce0f0,#c5dbee,#bcd7eb,#b5d3e9,#afcfe8,#a9cce6,#a4c9e5,#9fc6e3,#99c3e2,#92bfe0,#8bbadd,#82b5db,#78afd8,#6ea9d5,#63a2d2,#599ccf,#4e95cb,#428dc8,#3787c5,#2e81c3,#297ec1,#297ec1,#2c80c2)"></i>
<i style="height:5px;background:linear-gradient(90deg,#e2edf6,#e2edf6,#e2edf6,#e2edf6,#e2edf6,#e2edf6,#e2edf6,#e2edf6,#e1ecf5,#e0ebf5,#ddeaf4,#dbe8f4,#d8e7f3,#d6e5f2,#d4e4f2,#d3e4f1,#d1e2f1,#ccdff0,#c4dbed,#bad6eb,#b2d1e8,#a9cce6,#a2c8e4,#9bc4e2,#94c0e0,#8dbcde,#85b7dc,#7eb3da,#78afd8,#71aad6,#68a5d3,#60a0d1,#569ace,#4d94cb,#428dc8,#3787c5,#2e81c2,#257cc0,#2179bf,#2079bf,#237ac0)"></i>
<i style="height:5px;background:linear-gradient(90deg,#e2edf6,#e2edf6,#e2edf6,#e2edf6,#e2edf6,#e2edf6,#e2edf6,#e2edf6,#e1ecf5,#dfebf5,#dce9f4,#d8e7f3,#d4e4f2,#d1e2f1,#cee1f0,#cbdfef,#c7ddee,#c1d9ed,#b8d4ea,#afcfe8,#a6cae5,#9dc5e3,#94c0e0,#8cbbde,#84b6db,#7bb1d9,#73acd6,#6ca7d4,#66a4d2,#60a0d1,#5a9ccf,#5298cd,#4a92ca,#418dc8,#3887c5,#2f81c3,#267cc0,#1e78be,#1a75bd,#1975bd,#1c76be)"></i>
<i style="height:5px;background:linear-gradient(90deg,#e2edf6,#e2edf6,#e2edf6,#e2edf6,#e2edf6,#e2edf6,#e2edf6,#e1ecf5,#e0ebf5,#ddeaf4,#d9e8f3,#d5e5f2,#d0e2f1,#cbdfef,#c7dcee,#c1d9ed,#bad6eb,#b3d2e9,#abcde7,#a2c8e4,#99c3e2,#90bedf,#86b8dc,#7db2d9,#73acd6,#6aa6d4,#62a1d1,#5b9dcf,#5699ce,#5196cc,#4b93cb,#4690c9,#3f8bc7,#3787c5,#2f82c3,#277dc1,#1f78bf,#1974bd,#1572bc,#1471bc,#1673bc)"></i>
<i style="height:5px;background:linear-gradient(90deg,#e2edf6,#e2edf6,#e2ecf5,#e2edf6,#e2edf6,#e2edf6,#e2ecf5,#e1ecf5,#dfebf5,#dce9f4,#d7e6f3,#d1e3f1,#cbdfef,#c5dbee,#bdd7eb,#b5d3e9,#adcee7,#a5cae5,#9ec6e3,#96c1e1,#8dbcde,#83b6db,#79afd8,#6ea9d5,#63a2d2,#5a9ccf,#5197cc,#4b93cb,#4690c9,#428dc8,#3e8bc7,#3a88c6,#3585c4,#2f82c3,#287ec1,#2179bf,#1a75bd,#1471bb,#1270bb,#1270bb,#1270bb)"></i>
<i style="height:5px;background:linear-gradient(90deg,#e3edf6,#e2ecf5,#e2ecf5,#e2edf6,#e2ecf5,#e1ecf5,#e1ecf5,#e0ebf5,#ddeaf4,#dae8f3,#d4e4f2,#cde0f0,#c5dcee,#bcd6eb,#b3d1e9,#a9cce6,#a0c7e3,#98c2e1,#91bedf,#89b9dd,#80b4da,#76aed7,#6ba7d4,#60a0d1,#5599cd,#4a92ca,#418dc8,#3b89c6,#3786c5,#3485c4,#3384c4,#3082c3,#2d80c2,#287dc1,#227abf,#1b76be,#1572bc,#1270bb,#1270bb,#1270bb,#1270bb)"></i>
<i style="height:5px;background:linear-gradient(90deg,#e3edf6,#e2edf6,#e2ecf5,#e2ecf5,#e1ecf5,#e1ecf5,#dfebf5,#deeaf4,#dbe9f4,#d7e6f3,#d0e2f1,#c8ddee,#bed7ec,#b3d2e9,#a9cce6,#9ec6e3,#94c0e0,#8cbbde,#85b7dc,#7db2d9,#74add7,#6aa6d4,#5fa0d0,#5498cd,#4791ca,#3b89c6,#3284c4,#2c80c2,#2a7ec1,#297ec1,#297ec1,#277dc1,#257cc0,#227abf,#1d77be,#1773bc,#1270bb,#1270bb,#1270bb,#1270bb,#1270bb)"></i>
<i style="height:5px;background:linear-gradient(90deg,#e3edf6,#e2edf6,#e2edf6,#e2ecf5,#e1ecf5,#dfebf5,#ddeaf4,#dbe9f4,#d8e7f3,#d3e4f1,#cbdfef,#c1d9ed,#b6d3e9,#aacde6,#9fc6e3,#94c0e0,#8abadd,#81b4da,#7ab0d8,#72abd6,#69a6d3,#5fa0d1,#5499cd,#4891ca,#3b89c6,#2f82c3,#257cc0,#1f78bf,#1e77be,#1f78be,#2078bf,#2079bf,#1f78bf,#1d76be,#1974bd,#1471bb,#1270bb,#1270bb,#1270bb,#1270bb,#1270bb)"></i>
<i style="height:5px;background:linear-gradient(90deg,#e4eef6,#e3edf6,#e2edf6,#e1ecf5,#e0ecf5,#deeaf4,#dbe9f4,#d8e7f3,#d4e4f2,#cee0f0,#c5dbee,#b9d5ea,#adcee7,#a1c8e4,#96c1e1,#8abadd,#80b4da,#77aed7,#6fa9d5,#68a5d3,#5fa0d0,#569ace,#4b93cb,#3e8bc7,#3183c3,#257cc0,#1a75bd,#1572bc,#1572bc,#1673bc,#1874bd,#1a75bd,#1a75bd,#1974bd,#1672bc,#1270bb,#1270bb,#1270bb,#1270bb,#1270bb,#1270bb)"></i>
<i style="height:5px;background:linear-gradient(90deg,#e5eef6,#e4eef6,#e3edf6,#e1ecf5,#dfebf5,#dce9f4,#d8e7f3,#d4e4f2,#cee1f0,#c7ddee,#bdd7eb,#b1d0e8,#a5cae5,#99c3e1,#8cbbde,#81b4da,#77aed7,#6ea9d5,#66a4d2,#5f9fd0,#579ace,#4d94cb,#428ec8,#3686c5,#2a7ec1,#1d77be,#1371bb,#1270bb,#1270bb,#1270bb,#1370bb,#1572bc,#1673bc,#1672bc,#1371bb,#1270bb,#1270bb,#1270bb,#1270bb,#1270bb,#1270bb)"></i>
<i style="height:5px;background:linear-gradient(90deg,#e5eff6,#e4eef6,#e3edf6,#e1ecf5,#deeaf5,#dae8f3,#d5e5f2,#cfe1f0,#c8ddef,#bfd8ec,#b4d2e9,#a9cce6,#9cc5e2,#90bedf,#84b6db,#78afd8,#6ea9d5,#65a3d2,#5e9fd0,#579ace,#4f96cc,#4690c9,#3c89c6,#3082c3,#247bc0,#1874bd,#1270bb,#1270bb,#1270bb,#1270bb,#1270bb,#1270bb,#1371bb,#1471bb,#1270bb,#1270bb,#1270bb,#1270bb,#1270bb,#1270bb,#1270bb)"></i>
<i style="height:5px;background:linear-gradient(90deg,#e6eff7,#e5eef6,#e3edf6,#e1ecf5,#ddeaf4,#d8e7f3,#d2e3f1,#cbdfef,#c1d9ed,#b7d4ea,#accee7,#a0c7e4,#94c0e0,#88b9dc,#7cb1d9,#70aad5,#66a4d2,#5e9fd0,#579ace,#5096cc,#4992ca,#418cc8,#3786c5,#2c80c2,#2078bf,#1471bc,#1270bb,#1270bb,#1270bb,#1270bb,#1270bb,#1270bb,#1270bb,#1270bb,#1270bb,#1270bb,#1270bb,#1270bb,#1270bb,#1270bb,#1270bb)"></i>
<i style="height:5px;background:linear-gradient(90deg,#e6eff7,#e5eef6,#e3edf6,#e0ecf5,#dce9f4,#d6e5f2,#cee1f0,#c6dcee,#bad6eb,#afcfe8,#a4c9e5,#99c3e1,#8dbcde,#80b4da,#74acd7,#69a5d3,#5f9fd0,#579ace,#5096cc,#4a92ca,#448ec8,#3c8ac6,#3384c4,#297ec1,#1d77be,#1270bb,#1270bb,#1270bb,#1270bb,#1270bb,#1270bb,#1270bb,#1270bb,#1270bb,#1270bb,#1270bb,#1270bb,#1270bb,#1270bb,#1270bb,#1270bb)"></i>
<i style="height:5px;background:linear-gradient(90deg,#e6eff7,#e5eef6,#e3edf6,#dfebf5,#dae8f3,#d3e4f2,#cbdfef,#c1d9ed,#b4d2e9,#a8cce6,#9dc5e3,#92bfdf,#86b7dc,#7ab0d8,#6da8d5,#62a1d1,#589bcf,#5197cc,#4b93ca,#458fc9,#3f8cc7,#3988c5,#3183c3,#277dc1,#1c76be,#1270bb,#1270bb,#1270bb,#1270bb,#1270bb,#1270bb,#1270bb,#1270bb,#1270bb,#1270bb,#1270bb,#1270bb,#1270bb,#1270bb,#1270bb,#1270bb)"></i>
<i style="height:5px;background:linear-gradient(90deg,#e6eff7,#e4eef6,#e2ecf5,#deeaf4,#d8e7f3,#d1e2f1,#c8ddef,#bcd7eb,#afcfe8,#a3c9e4,#97c2e1,#8cbbde,#80b4da,#74acd6,#68a5d3,#5d9ed0,#5398cd,#4b93cb,#4690c9,#418dc8,#3c8ac6,#3786c5,#2f82c3,#257cc0,#1b75bd,#1270bb,#1270bb,#1270bb,#1270bb,#1270bb,#1270bb,#1270bb,#1270bb,#1270bb,#1270bb,#1270bb,#1270bb,#1270bb,#1270bb,#1270bb,#1270bb)"></i>
<i style="height:5px;background:linear-gradient(90deg,#e5eff6,#e3edf6,#e1ecf5,#dce9f4,#d6e6f2,#cee1f0,#c5dbee,#b8d4ea,#abcde7,#9fc6e3,#93bfe0,#87b8dc,#7bb1d9,#6fa9d5,#63a2d2,#589bce,#4e95cc,#4791ca,#428ec8,#3e8bc7,#3a88c6,#3585c4,#2e81c3,#257cc0,#1b76bd,#1270bb,#1270bb,#1270bb,#1270bb,#1270bb,#1270bb,#1270bb,#1270bb,#1270bb,#1270bb,#1270bb,#1270bb,#1270bb,#1270bb,#1270bb,#1270bb)"></i>
<i style="height:5px;background:linear-gradient(90deg,#e5eef6,#e2edf6,#dfebf5,#dbe8f4,#d4e4f2,#ccdff0,#c1d9ed,#b5d2e9,#a8cbe6,#9bc4e2,#8fbddf,#83b6db,#77aed8,#6ba7d4,#60a0d1,#5599cd,#4b93cb,#448fc9,#408cc7,#3c8ac6,#3988c5,#3485c4,#2e81c2,#257cc0,#1c76be,#1471bc,#1270bb,#1270bb,#1270bb,#1270bb,#1270bb,#1270bb,#1270bb,#1270bb,#1270bb,#1270bb,#1270bb,#1270bb,#1270bb,#1270bb,#1270bb)"></i>
<i style="height:5px;background:linear-gradient(90deg,#e4eef6,#e1ecf5,#ddeaf4,#d8e7f3,#d2e3f1,#c9deef,#bed8ec,#b2d1e8,#a5cae5,#98c3e1,#8cbbde,#80b4da,#74add7,#69a5d3,#5e9ed0,#5398cd,#4992ca,#438ec8,#3f8cc7,#3c89c6,#3887c5,#3485c4,#2e81c2,#267cc0,#1e77be,#1673bc,#1270bb,#1270bb,#1270bb,#1270bb,#1270bb,#1270bb,#1270bb,#1371bb,#1471bc,#1471bc,#1471bb,#1371bb,#1370bb,#1371bb,#1471bc)"></i>
<i style="height:5px;background:linear-gradient(90deg,#e3edf6,#dfebf5,#dce9f4,#d6e6f2,#cfe2f1,#c7ddee,#bbd6eb,#afcfe8,#a2c8e4,#96c1e1,#8abadd,#7eb3da,#73acd6,#67a5d3,#5d9ed0,#5398cd,#4a92ca,#448ec9,#408cc7,#3c8ac6,#3988c5,#3485c4,#2f82c3,#287dc1,#2079bf,#1975bd,#1471bb,#1270bb,#1270bb,#1270bb,#1270bb,#1370bb,#1572bc,#1672bc,#1773bc,#1773bc,#1773bc,#1773bc,#1673bc,#1773bc,#1873bc)"></i>
<i style="height:5px;background:linear-gradient(90deg,#e1ecf5,#deeaf4,#d9e8f3,#d4e4f2,#cde0f0,#c4dbed,#b8d4ea,#accee7,#a0c7e3,#94c0e0,#88b9dd,#7db2d9,#72abd6,#67a4d3,#5d9ed0,#5498cd,#4c93cb,#4690c9,#428dc8,#3e8bc7,#3a88c6,#3686c5,#3183c3,#2a7fc2,#247bc0,#1d77be,#1874bd,#1472bc,#1371bb,#1371bb,#1572bc,#1673bc,#1874bd,#1974bd,#1a75bd,#1b75bd,#1b75bd,#1b75bd,#1b75bd,#1b75bd,#1c76be)"></i>
<i style="height:5px;background:linear-gradient(90deg,#e0ebf5,#dce9f4,#d7e6f3,#d2e3f1,#cadfef,#c1d9ed,#b6d3ea,#aacce6,#9ec6e3,#92bfe0,#87b8dc,#7cb1d9,#72abd6,#68a5d3,#5e9fd0,#569ace,#4f95cc,#4992ca,#448fc9,#418dc8,#3d8ac6,#3887c5,#3384c4,#2e81c2,#277dc1,#227abf,#1d77be,#1a75bd,#1874bd,#1874bd,#1974bd,#1a75bd,#1c76be,#1d77be,#1e77be,#1f78be,#1f78be,#1f78be,#1f78bf,#1f78bf,#2078bf)"></i>
<i style="height:5px;background:linear-gradient(90deg,#deeaf5,#dae8f3,#d5e5f2,#cfe2f1,#c8ddef,#bfd8ec,#b3d2e9,#a8cbe6,#9cc5e2,#91bedf,#86b8dc,#7cb1d9,#72abd6,#69a6d3,#61a0d1,#599ccf,#5298cd,#4d94cb,#4891ca,#448fc9,#408cc7,#3b89c6,#3786c5,#3183c3,#2c80c2,#277dc1,#227abf,#1f78bf,#1e77be,#1e77be,#1e77be,#1f78bf,#2079bf,#2179bf,#227abf,#237ac0,#237bc0,#247bc0,#247bc0,#247bc0,#247bc0)"></i>
<i style="height:5px;background:linear-gradient(90deg,#dde9f4,#d8e7f3,#d3e4f2,#cde0f0,#c6dcee,#bcd6eb,#b1d0e8,#a6cae5,#9bc4e2,#90bedf,#86b7dc,#7cb2d9,#73acd6,#6ba7d4,#64a2d2,#5d9ed0,#579ace,#5297cd,#4d94cb,#4991ca,#448fc9,#408cc7,#3b89c6,#3686c5,#3183c3,#2c80c2,#287ec1,#267cc0,#247bc0,#237bc0,#237bc0,#247bc0,#257cc0,#267cc0,#277dc1,#287dc1,#287ec1,#297ec1,#297ec1,#297ec1,#297ec1)"></i>
<i style="height:5px;background:linear-gradient(90deg,#dbe9f4,#d7e6f2,#d1e3f1,#cbdfef,#c4dbed,#bad5eb,#afcfe8,#a4c9e5,#9ac4e2,#90bddf,#86b8dc,#7db2d9,#75add7,#6ea9d5,#67a4d3,#61a1d1,#5c9dcf,#579ace,#5297cd,#4d94cb,#4992ca,#448fc9,#408cc7,#3b89c6,#3686c5,#3284c4,#2f82c3,#2c80c2,#2a7fc2,#297ec1,#297ec1,#2a7ec1,#2a7fc1,#2b7fc2,#2c80c2,#2d80c2,#2d81c2,#2e81c2,#2e81c3,#2e81c2,#2e81c2)"></i>
<i style="height:5px;background:linear-gradient(90deg,#dae8f3,#d5e5f2,#cfe2f1,#c9deef,#c1d9ed,#b8d4ea,#aecee7,#a3c9e4,#99c3e2,#8fbddf,#87b8dc,#7fb3da,#77afd8,#71aad6,#6ba7d4,#66a4d2,#61a1d1,#5c9ed0,#579bce,#5398cd,#4e95cc,#4a92ca,#458fc9,#418cc8,#3c8ac6,#3887c5,#3585c4,#3384c4,#3183c3,#3082c3,#2f82c3,#2f82c3,#3082c3,#3082c3,#3183c3,#3283c3,#3284c4,#3384c4,#3384c4,#3384c4,#3284c4)"></i>
<i style="height:5px;background:linear-gradient(90deg,#d8e7f3,#d3e4f2,#cee1f0,#c8ddee,#bfd8ec,#b6d3ea,#accee7,#a2c8e4,#99c3e1,#90bddf,#88b8dc,#80b4da,#7ab0d8,#74add7,#6fa9d5,#6aa6d4,#66a4d2,#62a1d1,#5d9ed0,#589bce,#5498cd,#4f96cc,#4b93cb,#4790c9,#438ec8,#3f8bc7,#3c8ac6,#3988c6,#3787c5,#3686c5,#3585c4,#3585c4,#3585c4,#3686c5,#3686c5,#3786c5,#3787c5,#3887c5,#3887c5,#3887c5,#3787c5)"></i>
<i style="height:5px;background:linear-gradient(90deg,#d7e6f3,#d2e3f1,#cce0f0,#c6dcee,#bed7ec,#b5d2e9,#abcde7,#a2c8e4,#99c3e1,#90bedf,#89b9dd,#82b5db,#7db2d9,#78afd8,#73acd6,#6faad5,#6ba7d4,#67a4d3,#63a2d1,#5e9fd0,#599ccf,#5599ce,#5197cc,#4d94cb,#4992ca,#4690c9,#438ec8,#408cc8,#3e8bc7,#3c8ac6,#3b89c6,#3b89c6,#3b89c6,#3b89c6,#3b89c6,#3c8ac6,#3d8ac6,#3d8ac7,#3d8ac7,#3d8ac6,#3c8ac6)"></i>
<i style="height:5px;background:linear-gradient(90deg,#d6e5f2,#d1e2f1,#cbdfef,#c5dbee,#bcd7eb,#b4d2e9,#abcde6,#a1c8e4,#99c3e2,#91bedf,#8abadd,#85b7dc,#80b4da,#7bb1d9,#78afd8,#74add7,#71abd6,#6da8d4,#68a5d3,#64a2d2,#5fa0d0,#5b9dcf,#579ace,#5398cd,#5096cc,#4d94cb,#4a92ca,#4791ca,#458fc9,#438ec8,#428dc8,#418dc8,#418dc8,#418dc8,#418dc8,#428dc8,#428ec8,#438ec8,#428ec8,#428dc8,#418dc8)"></i>
<i style="height:5px;background:linear-gradient(90deg,#d5e5f2,#d0e2f1,#cadeef,#c3dbed,#bbd6eb,#b3d1e9,#aacde6,#a2c8e4,#99c3e2,#92bfe0,#8cbbde,#87b8dc,#83b6db,#7fb3da,#7cb1d9,#79b0d8,#76aed7,#73acd6,#6ea9d5,#69a6d3,#65a3d2,#61a1d1,#5d9ed0,#599ccf,#569ace,#5498cd,#5197cc,#4f95cc,#4c94cb,#4a92ca,#4891ca,#4791ca,#4790c9,#4790c9,#4790c9,#4791ca,#4891ca,#4891ca,#4891ca,#4790c9,#4690c9)"></i>
<i style="height:5px;background:linear-gradient(90deg,#d4e4f2,#cfe1f0,#c9deef,#c3daed,#bbd6eb,#b3d1e9,#aacde6,#a2c8e4,#9ac4e2,#94c0e0,#8ebdde,#8abadd,#86b8dc,#83b6db,#81b4da,#7eb3da,#7cb1d9,#78afd8,#74acd7,#6fa9d5,#6ba7d4,#67a4d3,#63a2d2,#60a0d1,#5d9ed0,#5a9ccf,#589bce,#5599ce,#5398cd,#5196cc,#4f95cc,#4e95cb,#4d94cb,#4d94cb,#4d94cb,#4d94cb,#4d94cb,#4d94cb,#4d94cb,#4c94cb,#4b93ca)"></i>
<i style="height:5px;background:linear-gradient(90deg,#d3e4f2,#cee1f0,#c9deef,#c2daed,#bad6eb,#b2d1e9,#abcde6,#a3c9e4,#9cc5e2,#96c1e1,#91bedf,#8dbcde,#89badd,#87b8dc,#85b7dc,#83b6db,#81b4da,#7db2d9,#79b0d8,#75add7,#71aad6,#6da8d4,#69a6d3,#66a4d2,#63a2d2,#60a0d1,#5e9fd0,#5c9dcf,#599ccf,#579ace,#5599ce,#5498cd,#5398cd,#5298cd,#5297cd,#5297cd,#5297cd,#5297cd,#5297cd,#5196cc,#4f96cc)"></i>
<i style="height:5px;background:linear-gradient(90deg,#d3e4f1,#cee1f0,#c8ddef,#c2daed,#bad5eb,#b3d1e9,#abcde7,#a4c9e5,#9dc6e3,#98c2e1,#93c0e0,#90bddf,#8dbcde,#8bbadd,#89b9dd,#87b8dc,#85b7dc,#82b5db,#7eb3da,#7ab0d8,#76aed7,#72abd6,#6fa9d5,#6ca7d4,#69a5d3,#66a4d3,#64a3d2,#62a1d1,#5fa0d1,#5d9ed0,#5b9dcf,#5a9ccf,#599bcf,#589bce,#589bce,#579bce,#579bce,#579ace,#569ace,#5599ce,#5498cd)"></i>
<i style="height:5px;background:linear-gradient(90deg,#d2e3f1,#cde0f0,#c8ddef,#c2daed,#bbd6eb,#b3d2e9,#accee7,#a6cae5,#9fc7e3,#9ac4e2,#96c1e1,#93bfe0,#90bedf,#8ebdde,#8dbcde,#8bbbdd,#89b9dd,#86b8dc,#83b6db,#7fb3da,#7bb1d9,#78afd8,#74add7,#71abd6,#6fa9d5,#6ca8d4,#6aa6d4,#68a5d3,#65a3d2,#63a2d2,#61a1d1,#5fa0d0,#5e9fd0,#5d9ed0,#5d9ed0,#5c9ed0,#5c9ed0,#5c9dcf,#5b9dcf,#599ccf,#589bce)"></i>
</div></div>
<div class="hm" style="left:130.80px;top:533.00px;width:330.10px;height:394.50px">
<div class="hi" style="left:-10px;top:-10px;width:350.10px;filter:blur(2.5px)">
<i style="height:5px;background:linear-gradient(90deg,#d73027,#d73027,#d73027,#d73027,#d73027,#d73027,#d73027,#d73027,#d73027,#d73027,#d73027,#d73027,#d73027,#d73027,#d73027,#e14834,#e95b3e,#ee6744,#f07049,#f1784e,#f38555,#f6945e,#f8a366,#f9ae6f,#fab577,#fab97c,#fbba7e,#fab87b,#fab274,#f9a869,#f79a61,#f48c59,#f27d50,#ef6b46,#e6553b,#da382b,#d73027,#d73027,#d73027,#d73027,#d73027)"></i>
<i style="height:5px;background:linear-gradient(90deg,#d73027,#d73027,#d73027,#d73027,#d73027,#d73027,#d73027,#d73027,#d73027,#d73027,#d73027,#d73027,#d73027,#d73027,#d73027,#e34c36,#eb6041,#ef6d48,#f1764d,#f27f52,#f48c59,#f79c62,#f9aa6a,#fab476,#fbba7e,#fbbd82,#fbbe82,#fbbb7f,#fab477,#f9aa6a,#f79b62,#f48c59,#f27c50,#ef6a46,#e6543a,#d9352a,#d73027,#d73027,#d73027,#d73027,#d73027)"></i>
<i style="height:5px;background:linear-gradient(90deg,#d73027,#d73027,#d73027,#d73027,#d73027,#d73027,#d73027,#d73027,#d73027,#d73027,#d73027,#d73027,#d73027,#d73027,#d73027,#e34e37,#ed6443,#f0734b,#f27f52,#f48957,#f6965f,#f8a567,#fab273,#faba7e,#fbbf84,#fbc186,#fbc186,#fbbd82,#fab679,#f9ab6b,#f79b62,#f48b59,#f27a4f,#ee6745,#e55139,#d83228,#d73027,#d73027,#d73027,#d73027,#d73027)"></i>
<i style="height:5px;background:linear-gradient(90deg,#d73027,#d73027,#d73027,#d73027,#d73027,#d73027,#d73027,#d73027,#d73027,#d73027,#d73027,#d73027,#d73027,#d73027,#d73027,#e44f37,#ee6744,#f17a4f,#f48857,#f6945e,#f8a265,#f9af70,#fab97d,#fbc085,#fbc48a,#fbc58a,#fbc389,#fbbf83,#fab77a,#f9ab6c,#f79b62,#f48a58,#f1784e,#ec6343,#e34c36,#d73027,#d73027,#d73027,#d73027,#d73027,#d73027)"></i>
<i style="height:5px;background:linear-gradient(90deg,#d73027,#d73027,#d73027,#d73027,#d73027,#d73027,#d73027,#d73027,#d73027,#d73027,#d73027,#d73027,#d73027,#d73027,#d73027,#e44f38,#ef6a46,#f38053,#f5925c,#f7a064,#f9ad6e,#fab97c,#fbc287,#fcc78d,#fcc88f,#fcc88e,#fbc58b,#fbc085,#fab77a,#f9ac6c,#f79b62,#f48957,#f1744c,#ea5f40,#e04633,#d73027,#d73027,#d73027,#d73027,#d73027,#d73027)"></i>
<i style="height:5px;background:linear-gradient(90deg,#d73027,#d73027,#d73027,#d73027,#d73027,#d73027,#d73027,#d73027,#d73027,#d73027,#d73027,#d73027,#d73027,#d73027,#d73127,#e45038,#ef6d48,#f48756,#f79c62,#f9ac6c,#fab87b,#fbc388,#fcca92,#fcce95,#fccd95,#fcca91,#fcc68d,#fbc186,#fab87b,#f9ac6c,#f79b62,#f48756,#f0714a,#e85a3d,#de4130,#d73027,#d73027,#d73027,#d73027,#d73027,#d73027)"></i>
<i style="height:5px;background:linear-gradient(90deg,#d73027,#d73027,#d73027,#d73027,#d73027,#d73027,#d73027,#d73027,#d73027,#d73027,#d73027,#d73027,#d73027,#d73027,#d83128,#e55139,#f0704a,#f58e5a,#f8a668,#fab578,#fbc287,#fccc93,#fdd39c,#fdd49e,#fdd19a,#fccc94,#fcc88e,#fbc287,#fab97c,#f9ad6d,#f79b62,#f38656,#f06e48,#e6553b,#dc3c2d,#d73027,#d73027,#d73027,#d73027,#d73027,#d73027)"></i>
<i style="height:5px;background:linear-gradient(90deg,#d73027,#d73027,#d73027,#d73027,#d73027,#d73027,#d73027,#d73027,#d73027,#d73027,#d73027,#d73027,#d73027,#d73027,#d83228,#e55339,#f1744c,#f6955e,#f9ae6f,#fbbe83,#fcca91,#fdd49e,#fedba6,#fddba5,#fdd59f,#fccf97,#fcca91,#fbc489,#fbbb7e,#f9ae6e,#f79b62,#f38555,#ef6c47,#e55239,#da382b,#d73027,#d73027,#d73027,#d73027,#d73027,#d73027)"></i>
<i style="height:5px;background:linear-gradient(90deg,#d73027,#d73027,#d73027,#d73027,#d73027,#d73027,#d73027,#d73027,#d73027,#d73027,#d73027,#d73027,#d73027,#d73027,#d83329,#e6543a,#f1784e,#f79b61,#fab578,#fbc58b,#fdd099,#fedba6,#fee1af,#fee0ad,#fdd9a3,#fdd19a,#fccc94,#fcc78d,#fbbd81,#f9af71,#f79d63,#f38656,#ef6a46,#e45038,#d93529,#d73027,#d73027,#d73027,#d73027,#d73027,#d73027)"></i>
<i style="height:5px;background:linear-gradient(90deg,#d73027,#d73027,#d73027,#d73027,#d73027,#d73027,#d73027,#d73027,#d73027,#d73027,#d73027,#d73027,#d73027,#d73027,#d9362a,#e7573c,#f27b50,#f79f64,#faba7e,#fcc990,#fdd49d,#fedfab,#fee5b6,#fee3b4,#fedda9,#fdd59e,#fdd099,#fccb92,#fbc085,#fab274,#f79f64,#f48756,#ef6b46,#e44f37,#d83329,#d73027,#d73027,#d73027,#d73027,#d73027,#d73027)"></i>
<i style="height:5px;background:linear-gradient(90deg,#d73027,#d73027,#d73027,#d73027,#d73027,#d73027,#d73027,#d73027,#d73027,#d73027,#d73027,#d73027,#d73027,#d73027,#db3a2c,#e95b3e,#f27f52,#f8a266,#fbbc80,#fccb92,#fdd59f,#fee0ac,#fee6ba,#fee6bb,#fee2b0,#fddba5,#fdd7a0,#fdd199,#fcc58b,#fab679,#f8a366,#f48a58,#ef6c47,#e45038,#d93429,#d73027,#d73027,#d73027,#d73027,#d73027,#d73027)"></i>
<i style="height:5px;background:linear-gradient(90deg,#d73027,#d73027,#d73027,#d73027,#d73027,#d73027,#d73027,#d73027,#d73027,#d73027,#d73027,#d73027,#d73027,#d73027,#dd402f,#eb6041,#f38354,#f8a567,#fbbd81,#fccc93,#fdd6a0,#fee0ac,#fee7bc,#feeac4,#fee8bd,#fee3b3,#fee1ae,#fddaa5,#fccd94,#fbbc80,#f9a969,#f58e5a,#f07049,#e5533a,#da372b,#d73027,#d73027,#d73027,#d73027,#d73027,#d73027)"></i>
<i style="height:5px;background:linear-gradient(90deg,#d73027,#d73027,#d73027,#d73027,#d73027,#d73027,#d73027,#d73027,#d73027,#d73027,#d73027,#d73027,#d73027,#d73027,#e04733,#ed6644,#f48857,#f9a869,#fbbe82,#fccd95,#fdd8a2,#fee1af,#feeac3,#fff1d2,#fff1d3,#ffeecc,#ffecc7,#fee5b8,#fdd8a2,#fcc68c,#fab072,#f6955e,#f1764d,#e7583c,#dc3c2d,#d73027,#d73027,#d73027,#d73027,#d73027,#d73027)"></i>
<i style="height:5px;background:linear-gradient(90deg,#d73027,#d73027,#d73027,#d73027,#d73027,#d73027,#d73027,#d73027,#d73027,#d73027,#d73027,#d73027,#d73027,#d83228,#e45038,#f06f49,#f5905b,#f9ad6e,#fbc287,#fdd29b,#fedfab,#fee6ba,#fff1d3,#fef9e9,#fdfbf3,#fdfbf3,#fef9e9,#fff2d4,#fee5b8,#fdd39c,#faba7d,#f79e63,#f27d51,#ea5e40,#de4130,#d73027,#d73027,#d73027,#d73027,#d73027,#d73027)"></i>
<i style="height:5px;background:linear-gradient(90deg,#d73027,#d73027,#d73027,#d73027,#d73027,#d73027,#d73027,#d73027,#d73027,#d73027,#d73027,#d73027,#d73027,#dc3c2d,#e95a3e,#f27a4f,#f79a61,#fab577,#fcc990,#fedba6,#fee8be,#fff2d4,#fdfaf1,#f3f9f8,#ecf6f8,#eaf6f7,#eff8f8,#fbfcf8,#fff3d6,#fee2b1,#fcc68d,#f9a96a,#f48756,#ed6544,#e14834,#d73027,#d73027,#d73027,#d73027,#d73027,#d73027)"></i>
<i style="height:5px;background:linear-gradient(90deg,#d73027,#d73027,#d73027,#d73027,#d73027,#d73027,#d73027,#d73027,#d73027,#d73027,#d73027,#d73027,#d73027,#e14734,#ee6744,#f48757,#f9a768,#fbc085,#fdd6a0,#fee6bb,#fff4da,#fbfcf8,#ecf6f8,#e3f3f6,#ddf1f5,#dcf0f5,#e0f2f6,#e9f5f7,#fcfcf8,#ffeecc,#fdd59f,#fab577,#f5925d,#f06f49,#e44f38,#d83228,#d73027,#d73027,#d73027,#d73027,#d73027)"></i>
<i style="height:5px;background:linear-gradient(90deg,#d73027,#d73027,#d73027,#d73027,#d73027,#d73027,#d73027,#d73027,#d73027,#d73027,#d73027,#d73027,#d83329,#e6553b,#f1764d,#f6975f,#fab577,#fcd098,#fee5b8,#fff4d9,#f9fbf8,#e8f5f7,#dcf0f5,#d5edf4,#cfeaf3,#ceeaf2,#d3edf4,#dcf0f5,#ebf6f8,#fef9ea,#fee4b5,#fbc288,#f79f64,#f1794f,#e7573c,#da382c,#d73027,#d73027,#d73027,#d73027,#d73027)"></i>
<i style="height:5px;background:linear-gradient(90deg,#d73027,#d73027,#d73027,#d73027,#d73027,#d73027,#d73027,#d73027,#d73027,#d73027,#d73027,#d73027,#dd3f2f,#ec6342,#f48756,#f9a969,#fbc58b,#fee1af,#fff3d7,#f8faf8,#e6f4f7,#d9eff5,#cee9f2,#c5e4ef,#c1e2ee,#c0e1ee,#c6e5f0,#d1ebf3,#def1f6,#f3f9f8,#ffefce,#fdd099,#f9ac6c,#f38455,#ea5f40,#dd3e2f,#d73027,#d73027,#d73027,#d73027,#d73027)"></i>
<i style="height:5px;background:linear-gradient(90deg,#d73027,#d73027,#d73027,#d73027,#d73027,#d73027,#d73027,#d73027,#d73027,#d73027,#d73027,#d73027,#e34c36,#f1744c,#f69a61,#fab97d,#fdd7a1,#ffeecc,#fbfcf8,#e6f4f7,#d7eef4,#cae7f1,#bfe1ee,#b7dceb,#b4daea,#b4daea,#badeec,#c5e4ef,#d4edf4,#e6f4f7,#fef8e7,#fedea9,#fab77a,#f58f5b,#ee6744,#df4432,#d73027,#d73027,#d73027,#d73027,#d73027)"></i>
<i style="height:5px;background:linear-gradient(90deg,#d73027,#d73027,#d73027,#d73027,#d73027,#d73027,#d73027,#d73027,#d73027,#d73027,#d73027,#d73027,#e85a3d,#f38655,#f9ac6d,#fccb92,#fee6bb,#fdfaed,#e9f5f7,#d8eef5,#c8e6f0,#bcdfed,#b2d9ea,#abd5e7,#a8d3e7,#a9d4e7,#afd7e9,#baddec,#c9e6f1,#dcf0f5,#f8fbf8,#fee7bb,#fbc287,#f69a61,#f06f49,#e14934,#d73027,#d73027,#d73027,#d73027,#d73027)"></i>
<i style="height:5px;background:linear-gradient(90deg,#d73027,#d73027,#d73027,#d73027,#d73027,#d73027,#d73027,#d73027,#d73027,#d73027,#d73027,#da382b,#ee6744,#f6975f,#fbbc80,#fedba6,#fff3d6,#eff7f8,#daeff5,#c9e6f1,#badeec,#afd7e9,#a6d2e6,#a0cde4,#9ecbe3,#9fcde3,#a5d1e6,#b0d8e9,#bee0ed,#d3ecf4,#edf7f8,#ffedca,#fccb92,#f8a366,#f1754c,#e34d37,#d73027,#d73027,#d73027,#d73027,#d73027)"></i>
<i style="height:5px;background:linear-gradient(90deg,#d73027,#d73027,#d73027,#d73027,#d73027,#d73027,#d73027,#d73027,#d73027,#d73027,#d73027,#de4130,#f0734b,#f8a567,#fcc98f,#fee6b9,#fdfaf1,#e2f2f6,#cce8f1,#bbdeec,#aed6e8,#a4d0e5,#9ccae2,#97c5df,#95c3de,#97c5df,#9dcae2,#a7d2e6,#b5dbea,#cae7f1,#e7f4f7,#fff2d4,#fdd19a,#f9a96a,#f17a4f,#e45038,#d73027,#d73027,#d73027,#d73027,#d73027)"></i>
<i style="height:5px;background:linear-gradient(90deg,#d73027,#d73027,#d73027,#d73027,#d73027,#d73027,#d73027,#d73027,#d73027,#d73027,#d73027,#e24a35,#f27e51,#f9af70,#fdd29b,#ffedca,#f2f9f8,#d7eef4,#bfe0ed,#aed7e8,#a3d0e5,#9ac8e1,#93c1de,#8ebddb,#8dbcdb,#8fbedc,#95c3de,#9fcce3,#add6e8,#c3e3ef,#e3f3f6,#fff4d9,#fdd39c,#f9ab6c,#f27c50,#e55239,#d73027,#d73027,#d73027,#d73027,#d73027)"></i>
<i style="height:5px;background:linear-gradient(90deg,#d73027,#d73027,#d73027,#d73027,#d73027,#d73027,#d73027,#d73027,#d73027,#d73027,#d73027,#e6543a,#f48756,#fab779,#fedba6,#fff5dc,#e7f4f7,#cae7f1,#b3d9ea,#a3d0e5,#99c7e0,#91c0dd,#8bbada,#87b6d8,#86b5d7,#88b8d9,#8ebddb,#98c6e0,#a6d1e6,#bddfed,#e0f1f6,#fff5dc,#fdd39c,#f9ab6b,#f27d51,#e6533a,#d73127,#d73027,#d73027,#d73027,#d73027)"></i>
<i style="height:5px;background:linear-gradient(90deg,#d73027,#d73027,#d73027,#d73027,#d73027,#d73027,#d73027,#d73027,#d73027,#d73027,#d9352a,#ea5e40,#f5905b,#fbbe83,#fee4b5,#fcfbf4,#dbf0f5,#bfe0ed,#a9d3e7,#9ac8e1,#91bfdc,#89b8d9,#84b3d6,#80b0d5,#7fafd4,#82b2d6,#88b8d8,#92c0dd,#a0cde3,#b8dceb,#dcf0f5,#fff7e1,#fdd49d,#f9ab6b,#f27d51,#e6543a,#d83128,#d73027,#d73027,#d73027,#d73027)"></i>
<i style="height:5px;background:linear-gradient(90deg,#d73027,#d73027,#d73027,#d73027,#d73027,#d73027,#d73027,#d73027,#d73027,#d73027,#de402f,#ee6845,#f69a61,#fcc78e,#ffecc7,#f1f8f8,#d1ebf3,#b4daea,#9fcde3,#92c0dd,#89b8d9,#82b2d6,#7dadd3,#7aaad2,#7aaad2,#7dadd3,#83b3d6,#8cbbda,#9bc9e1,#b5dbea,#daeff5,#fef8e7,#fdd69f,#f9aa6b,#f27d50,#e6543a,#d83228,#d73027,#d73027,#d73027,#d73027)"></i>
<i style="height:5px;background:linear-gradient(90deg,#d73027,#d73027,#d73027,#d73027,#d73027,#d73027,#d73027,#d73027,#d73027,#d73027,#e24a35,#f1744c,#f8a567,#fdd19a,#fff4d8,#e7f4f7,#c7e5f0,#abd5e7,#98c6e0,#8bbada,#82b2d6,#7cacd3,#77a7d0,#74a5cf,#74a5cf,#77a8d1,#7eaed4,#88b7d8,#98c6e0,#b2d9ea,#d8eff5,#fef9eb,#fdd7a1,#f9ab6b,#f27d51,#e6543a,#d83228,#d73027,#d73027,#d73027,#d73027)"></i>
<i style="height:5px;background:linear-gradient(90deg,#d73027,#d73027,#d73027,#d73027,#d73027,#d73027,#d73027,#d73027,#d73027,#d73027,#e6553b,#f28053,#f9af71,#fedca7,#fdf9eb,#def1f5,#bddfed,#a3d0e5,#91bfdc,#84b4d6,#7cacd3,#75a6d0,#71a2cd,#6e9fcc,#6fa0cc,#72a3ce,#79aad1,#84b4d7,#96c4df,#b0d8e9,#d6eef4,#fdfaef,#fddaa4,#f9ad6d,#f27e51,#e6553b,#d83228,#d73027,#d73027,#d73027,#d73027)"></i>
<i style="height:5px;background:linear-gradient(90deg,#d73027,#d73027,#d73027,#d73027,#d73027,#d73027,#d73027,#d73027,#d73027,#db392c,#eb6141,#f58d5a,#faba7e,#fee4b5,#f8fbf8,#d5edf4,#b4daea,#9ccae2,#8bbada,#7eaed4,#76a7d0,#70a1cd,#6c9cca,#699ac9,#6a9bc9,#6e9fcc,#75a6d0,#81b1d5,#93c2de,#aed6e8,#d3edf4,#fcfcf6,#fedea9,#f9af70,#f27f52,#e6553b,#d83128,#d73027,#d73027,#d73027,#d73027)"></i>
<i style="height:5px;background:linear-gradient(90deg,#d73027,#d73027,#d73027,#d73027,#d73027,#d73027,#d73027,#d73027,#d73027,#de4130,#ef6d48,#f79b62,#fcc58b,#ffebc6,#edf7f8,#cbe7f1,#acd5e8,#96c4df,#85b5d7,#79a9d1,#70a1cd,#6b9bca,#6797c7,#6595c6,#6697c7,#6a9bc9,#72a3ce,#7fafd4,#92c0dd,#acd6e8,#d2ecf3,#fafbf8,#fee1ae,#fab274,#f38253,#e7563b,#d73127,#d73027,#d73027,#d73027,#d73027)"></i>
<i style="height:5px;background:linear-gradient(90deg,#d73027,#d73027,#d73027,#d73027,#d73027,#d73027,#d73027,#d73027,#d73027,#e24a35,#f27a4f,#f9a969,#fdd099,#fff2d6,#e5f4f7,#c2e2ef,#a5d1e6,#90bfdc,#80b0d5,#74a5cf,#6b9cca,#6696c7,#6293c5,#6091c4,#6292c5,#6797c7,#70a1cd,#7eaed4,#91bfdc,#abd5e7,#d1ebf3,#f8fbf8,#fee3b3,#fab578,#f38455,#e7563b,#d73027,#d73027,#d73027,#d73027,#d73027)"></i>
<i style="height:5px;background:linear-gradient(90deg,#d73027,#d73027,#d73027,#d73027,#d73027,#d73027,#d73027,#d73027,#d73027,#e55239,#f48957,#fab577,#fddaa4,#fef7e4,#dff1f6,#bbdeec,#9fcce3,#8bbada,#7cacd3,#70a1cc,#6797c7,#6192c4,#5d8ec2,#5c8dc1,#5e8fc2,#6494c6,#6e9ecb,#7cadd3,#90bedc,#aad4e7,#cfeaf3,#f7faf8,#fee4b5,#fab87b,#f38656,#e7563c,#d73027,#d73027,#d73027,#d73027,#d73027)"></i>
<i style="height:5px;background:linear-gradient(90deg,#d73027,#d73027,#d73027,#d73027,#d73027,#d73027,#d73027,#d73027,#d73027,#e8593d,#f6975f,#fbc085,#fee1ae,#fdfaf1,#d8eff5,#b4daea,#9ac8e1,#87b6d8,#78a8d1,#6c9dca,#6393c5,#5d8dc2,#598ac0,#5889bf,#5b8cc1,#6192c4,#6c9dcb,#7bacd2,#8fbddb,#a8d3e7,#cde9f2,#f6faf8,#fee4b6,#fbbb7e,#f48857,#e7563c,#d73027,#d73027,#d73027,#d73027,#d73027)"></i>
<i style="height:5px;background:linear-gradient(90deg,#d73027,#d73027,#d73027,#d73027,#d73027,#d73027,#d73027,#d73027,#d73027,#eb5f40,#f8a165,#fcc88f,#fee5b8,#f8fbf8,#d1ecf3,#afd7e9,#95c3df,#83b2d6,#74a5cf,#6899c8,#5f90c3,#598ac0,#5686be,#5585bd,#5889bf,#6090c3,#6b9cca,#7babd2,#8ebcdb,#a7d2e6,#cbe8f1,#f5f9f8,#fee5b6,#fbbc80,#f48957,#e7563b,#d73027,#d73027,#d73027,#d73027,#d73027)"></i>
<i style="height:5px;background:linear-gradient(90deg,#d73027,#d73027,#d73027,#d73027,#d73027,#d73027,#d73027,#d73027,#d73027,#ec6342,#f8a467,#fccd94,#feeac3,#f1f8f8,#cbe8f1,#a9d4e7,#91c0dd,#7fafd4,#71a2cd,#6596c6,#5c8cc1,#5686be,#5283bc,#5282bc,#5686be,#5e8fc3,#6b9bca,#7aaad2,#8dbcdb,#a6d2e6,#cae7f1,#f3f9f8,#fee5b7,#fbbb7f,#f48857,#e7563b,#d73027,#d73027,#d73027,#d73027,#d73027)"></i>
<i style="height:5px;background:linear-gradient(90deg,#d73027,#d73027,#d73027,#d73027,#d73027,#d73027,#d73027,#d73027,#d73127,#ed6644,#f8a366,#fccd95,#ffeecb,#ebf6f8,#c6e4f0,#a5d1e6,#8ebddb,#7cacd3,#6e9fcb,#6293c5,#5989bf,#5283bc,#4f7fba,#4f80ba,#5484bd,#5d8ec2,#6a9bc9,#79aad1,#8cbbda,#a5d1e6,#cae7f1,#f4f9f8,#fee5b6,#fab87b,#f38555,#e6553b,#d73027,#d73027,#d73027,#d73027,#d73027)"></i>
<i style="height:5px;background:linear-gradient(90deg,#d73027,#d73027,#d73027,#d73027,#d73027,#d73027,#d73027,#d73027,#da382b,#ee6845,#f7a064,#fccc94,#fff0cf,#e7f4f7,#c1e2ee,#a1cfe4,#8bbada,#79aad2,#6b9cca,#6090c3,#5687be,#5080ba,#4c7cb8,#4d7eb9,#5383bc,#5d8dc2,#699ac9,#79a9d1,#8cbbda,#a5d1e6,#cae7f1,#f6faf8,#fee3b2,#fab476,#f38153,#e6533a,#d73027,#d73027,#d73027,#d73027,#d73027)"></i>
<i style="height:5px;background:linear-gradient(90deg,#d73027,#d73027,#d73027,#d73027,#d73027,#d73027,#d73027,#d73027,#dd3e2e,#ef6a46,#f79e63,#fccc93,#fff1d3,#e3f3f6,#bde0ed,#9fcce3,#89b8d9,#77a8d1,#699ac9,#5e8ec2,#5485bd,#4d7db9,#4a7ab7,#4c7cb8,#5383bc,#5c8dc1,#699ac9,#79a9d1,#8cbbda,#a7d2e6,#cde9f2,#fafbf8,#fedfab,#f9af70,#f27d50,#e55139,#d73027,#d73027,#d73027,#d73027,#d73027)"></i>
<i style="height:5px;background:linear-gradient(90deg,#d73027,#d73027,#d73027,#d73027,#d73027,#d73027,#d73027,#d73027,#df4331,#ef6c47,#f79e63,#fccc94,#fff3d7,#e1f2f6,#bbdeec,#9ccae2,#87b6d8,#76a7d0,#6898c8,#5c8dc1,#5383bc,#4b7bb7,#4878b6,#4b7bb7,#5283bc,#5d8dc2,#6a9bc9,#7aaad2,#8fbddb,#abd5e7,#d4edf4,#fdfaef,#fdd8a2,#f9a869,#f1774d,#e44f37,#d73027,#d73027,#d73027,#d73027,#d73027)"></i>
<i style="height:5px;background:linear-gradient(90deg,#d73027,#d73027,#d73027,#d73027,#d73027,#d73027,#d73027,#d73027,#e14834,#f07049,#f7a064,#fcce96,#fff5dc,#dff1f6,#b8ddec,#9bc9e1,#85b5d7,#75a5cf,#6797c7,#5b8cc1,#5282bb,#4a7ab7,#4676b5,#4a7ab7,#5383bc,#5e8fc2,#6c9dca,#7dadd3,#93c1dd,#b2d9ea,#ddf0f5,#fff6dd,#fccf97,#f7a065,#f0714a,#e24c36,#d73027,#d73027,#d73027,#d73027,#d73027)"></i>
<i style="height:5px;background:linear-gradient(90deg,#d73027,#d73027,#d73027,#d73027,#d73027,#d73027,#d73027,#d73027,#e34e37,#f1754c,#f8a467,#fdd19a,#fff7e1,#dcf0f5,#b6dbeb,#99c7e0,#84b4d7,#73a4cf,#6696c7,#5a8bc0,#5181bb,#4979b6,#4676b5,#4b7bb7,#5484bd,#6091c4,#6fa0cc,#81b1d5,#99c7e0,#bbdeec,#e6f4f7,#ffeecb,#fcc68c,#f69860,#ef6c47,#e14834,#d73027,#d73027,#d73027,#d73027,#d73027)"></i>
<i style="height:5px;background:linear-gradient(90deg,#d73027,#d73027,#d73027,#d73027,#d73027,#d73027,#d73027,#d83228,#e5533a,#f27b4f,#f9aa6a,#fdd6a0,#fef8e7,#d9eff5,#b4daea,#98c6e0,#83b2d6,#72a3ce,#6595c6,#598ac0,#5081ba,#4a7ab7,#4778b5,#4c7cb8,#5686be,#6293c5,#71a2ce,#85b5d7,#9fcce3,#c3e3ef,#eff7f8,#fee7bc,#fbbd81,#f5905b,#ed6644,#e04532,#d73027,#d73027,#d73027,#d73027,#d73027)"></i>
<i style="height:5px;background:linear-gradient(90deg,#d73027,#d73027,#d73027,#d73027,#d73027,#d73027,#d73027,#d9362a,#e8583c,#f38153,#fab071,#fedda8,#fdfaf0,#d7eef4,#b2d9e9,#95c4df,#81b1d5,#71a2cd,#6494c6,#5989bf,#5081bb,#4b7bb7,#497ab7,#4e7eb9,#5787be,#6494c6,#74a5cf,#88b8d8,#a4d1e5,#cbe8f1,#f6faf8,#fee2b1,#fab679,#f48958,#eb6141,#de4130,#d73027,#d73027,#d73027,#d73027,#d73027)"></i>
<i style="height:5px;background:linear-gradient(90deg,#d73027,#d73027,#d73027,#d73027,#d73027,#d73027,#d73027,#db3a2c,#ea5e3f,#f48957,#fab77a,#fee3b2,#fafbf8,#d4edf4,#afd7e9,#93c2de,#7fafd4,#6fa0cc,#6394c5,#598ac0,#5182bb,#4d7db8,#4c7cb8,#5080ba,#5989bf,#6596c6,#75a6d0,#8bbada,#a8d3e7,#d2ecf3,#fcfcf8,#fedfab,#fab172,#f38354,#ea5d3f,#dd3e2e,#d73027,#d73027,#d73027,#d73027,#d73027)"></i>
<i style="height:5px;background:linear-gradient(90deg,#d73027,#d73027,#d73027,#d73027,#d73027,#d73027,#d73027,#dc3d2e,#ec6342,#f5905b,#fbbe82,#fee7bd,#f5f9f8,#d0ebf3,#acd5e8,#91c0dd,#7eaed4,#6fa0cc,#6394c5,#5a8ac0,#5383bc,#4f7fba,#4e7fb9,#5383bc,#5b8cc1,#6798c8,#77a8d1,#8dbcdb,#acd5e8,#d6eef4,#fdfbf2,#fedba6,#f9ac6d,#f27f52,#e8593d,#db3b2d,#d73027,#d73027,#d73027,#d73027,#d73027)"></i>
<i style="height:5px;background:linear-gradient(90deg,#d73027,#d73027,#d73027,#d73027,#d73027,#d73027,#d73027,#dd402f,#ee6845,#f6975f,#fbc48a,#ffebc6,#eff8f8,#cce8f1,#a9d3e7,#90bedc,#7dadd3,#6fa0cc,#6495c6,#5b8cc1,#5585bd,#5181bb,#5182bb,#5686be,#5e8fc2,#6a9bc9,#7aaad2,#8fbedc,#afd7e9,#d9eff5,#fef9eb,#fdd7a1,#f9a869,#f27a4f,#e6553b,#da382b,#d73027,#d73027,#d73027,#d73027,#d73027)"></i>
<i style="height:5px;background:linear-gradient(90deg,#d73027,#d73027,#d73027,#d73027,#d73027,#d73027,#d73027,#de4130,#f06e48,#f79d63,#fcc98f,#ffeecc,#ebf6f8,#c8e6f0,#a6d2e6,#8fbddb,#7eaed3,#70a1cd,#6697c7,#5d8ec2,#5787be,#5384bc,#5485bd,#598ac0,#6292c4,#6d9ecb,#7cadd3,#92c0dd,#b2d9ea,#dcf0f5,#fef7e3,#fdd29b,#f8a366,#f1764d,#e55239,#d9352a,#d73027,#d73027,#d73027,#d73027,#d73027)"></i>
<i style="height:5px;background:linear-gradient(90deg,#d73027,#d73027,#d73027,#d73027,#d73027,#d73027,#d73027,#df4231,#f0734b,#f8a366,#fccb93,#fff0d0,#e8f5f7,#c5e4ef,#a5d1e6,#8fbedc,#7fafd4,#72a3ce,#6899c8,#6090c3,#598ac0,#5687be,#5888bf,#5d8ec2,#6596c7,#71a2cd,#80b0d5,#96c4df,#b5dbeb,#dff1f6,#fff4d9,#fccd94,#f79e63,#f0724a,#e44f38,#d83228,#d73027,#d73027,#d73027,#d73027,#d73027)"></i>
<i style="height:5px;background:linear-gradient(90deg,#d73027,#d73027,#d73027,#d73027,#d73027,#d73027,#d73027,#de4231,#f1784e,#f8a668,#fccc93,#fff0cf,#e7f4f7,#c4e3ef,#a6d2e6,#91bfdc,#81b1d5,#75a6cf,#6b9bca,#6293c5,#5c8dc1,#5a8ac0,#5c8cc1,#6192c4,#6a9ac9,#75a6cf,#84b4d7,#9ac8e1,#bbdeec,#e5f3f7,#ffefce,#fcc78d,#f69961,#f06e48,#e34c36,#d73027,#d73027,#d73027,#d73027,#d73027,#d73027)"></i>
<i style="height:5px;background:linear-gradient(90deg,#d73027,#d73027,#d73027,#d73027,#d73027,#d73027,#d73027,#de4030,#f1794f,#f9a768,#fccb92,#ffeecd,#e8f5f7,#c5e4ef,#a8d3e6,#93c1de,#84b3d6,#77a8d1,#6d9ecb,#6595c6,#5f90c3,#5e8ec2,#6090c3,#6596c7,#6e9fcc,#7aaad2,#8ab9d9,#a1cee4,#c3e3ef,#ecf6f8,#feeac2,#fbc186,#f6955e,#ef6a46,#e14934,#d73027,#d73027,#d73027,#d73027,#d73027,#d73027)"></i>
<i style="height:5px;background:linear-gradient(90deg,#d73027,#d73027,#d73027,#d73027,#d73027,#d73027,#d73027,#dd3e2f,#f1764d,#f8a467,#fcc990,#ffedca,#ebf6f8,#c9e6f1,#abd5e8,#96c4df,#87b6d8,#7aabd2,#70a1cd,#6898c8,#6293c5,#6292c4,#6495c6,#6a9bc9,#73a4ce,#7fafd4,#90bedc,#a8d3e7,#cce8f2,#f4f9f8,#fee6b9,#fbbc80,#f5915c,#ee6745,#e04633,#d73027,#d73027,#d73027,#d73027,#d73027,#d73027)"></i>
<i style="height:5px;background:linear-gradient(90deg,#d73027,#d73027,#d73027,#d73027,#d73027,#d73027,#d73027,#dc3c2d,#f06f49,#f79e63,#fcc68d,#ffecc6,#eff7f8,#cde9f2,#b0d7e9,#9ac8e1,#8ab9d9,#7eaed3,#73a4ce,#6b9cca,#6697c7,#6697c7,#6999c9,#6fa0cc,#78a9d1,#85b4d7,#96c4df,#b0d8e9,#d5edf4,#fbfcf8,#fee3b2,#fab97c,#f58e5a,#ed6543,#df4431,#d73027,#d73027,#d73027,#d73027,#d73027,#d73027)"></i>
<i style="height:5px;background:linear-gradient(90deg,#d73027,#d73027,#d73027,#d73027,#d73027,#d73027,#d73027,#db392c,#ee6744,#f6975f,#fbc287,#fee9c1,#f3f9f8,#d2ecf3,#b4daea,#9ecce3,#8ebddb,#81b1d5,#76a7d0,#6e9fcc,#6a9bc9,#6a9bc9,#6e9fcb,#74a5cf,#7eaed4,#8bbada,#9dcbe2,#b9ddec,#dcf0f5,#fdfaee,#fee0ad,#fab779,#f48b59,#ec6242,#de4130,#d73027,#d73027,#d73027,#d73027,#d73027,#d73027)"></i>
<i style="height:5px;background:linear-gradient(90deg,#d73027,#d73027,#d73027,#d73027,#d73027,#d73027,#d73027,#d9352a,#eb6141,#f58f5b,#fbbc80,#fee5b8,#f8fbf8,#d7eef4,#b9ddec,#a3d0e5,#92c0dd,#85b4d7,#7aaad2,#72a3ce,#6fa0cc,#6fa0cc,#73a4ce,#7aaad2,#84b4d7,#92c1dd,#a6d2e6,#c2e2ef,#e4f3f6,#fff7e1,#fedca7,#fab477,#f48957,#eb5f40,#dd3e2e,#d73027,#d73027,#d73027,#d73027,#d73027,#d73027)"></i>
<i style="height:5px;background:linear-gradient(90deg,#d73027,#d73027,#d73027,#d73027,#d73027,#d73027,#d73027,#d83228,#e95b3e,#f48857,#fab578,#fee0ad,#fdfbf3,#dbf0f5,#bfe1ee,#a8d3e7,#97c5df,#89b8d9,#7eaed4,#77a7d0,#74a5cf,#75a6cf,#79a9d1,#80b0d5,#8bbada,#9ac8e1,#b0d7e9,#cde9f2,#edf7f8,#fff1d3,#fdd7a1,#fab274,#f38756,#e95c3f,#db3a2d,#d73027,#d73027,#d73027,#d73027,#d73027,#d73027)"></i>
<i style="height:5px;background:linear-gradient(90deg,#d73027,#d73027,#d73027,#d73027,#d73027,#d73027,#d73027,#d73027,#e7573c,#f38254,#f9af70,#fdd8a2,#fef7e4,#e2f2f6,#c6e5f0,#aed7e8,#9bc9e1,#8dbcdb,#82b2d6,#7bacd2,#79aad1,#7babd2,#7fafd4,#86b6d8,#93c1dd,#a4d0e5,#bbdeec,#d9eff5,#fbfcf8,#feeac2,#fdd29a,#fab071,#f38454,#e8593d,#da362a,#d73027,#d73027,#d73027,#d73027,#d73027,#d73027)"></i>
<i style="height:5px;background:linear-gradient(90deg,#d73027,#d73027,#d73027,#d73027,#d73027,#d73027,#d73027,#d73027,#e6553b,#f27e51,#f9a96a,#fdd199,#fff2d5,#eaf6f7,#cfeaf2,#b5daea,#a1cee4,#92c0dd,#87b6d8,#80b0d5,#7fafd4,#81b1d5,#85b5d7,#8ebcdb,#9bc8e1,#aed7e8,#c9e7f1,#e7f4f7,#fff5dd,#fee2b0,#fccb93,#f9ac6d,#f27f52,#e6553b,#d83228,#d73027,#d73027,#d73027,#d73027,#d73027,#d73027)"></i>
<i style="height:5px;background:linear-gradient(90deg,#d73027,#d73027,#d73027,#d73027,#d73027,#d73027,#d73027,#d73027,#e6543a,#f27b50,#f8a567,#fcca92,#ffecc8,#f3f9f8,#d7eef4,#bcdfed,#a6d2e6,#97c5df,#8cbbda,#86b5d7,#85b5d7,#88b7d8,#8dbbda,#96c4df,#a4d1e5,#baddec,#d7eef4,#f5f9f8,#ffecc7,#fdd7a1,#fbc489,#f8a567,#f1794f,#e45038,#d73027,#d73027,#d73027,#d73027,#d73027,#d73027,#d73027)"></i>
<i style="height:5px;background:linear-gradient(90deg,#d73027,#d73027,#d73027,#d73027,#d73027,#d73027,#d73027,#d83228,#e7563b,#f27b50,#f8a266,#fcc58b,#fee7bb,#fcfcf7,#def1f5,#c3e3ef,#add6e8,#9ccae2,#92c0dd,#8cbbda,#8cbbda,#8fbedc,#94c3de,#9ecce3,#aed7e9,#c6e5f0,#e2f3f6,#fdf9ec,#fee4b4,#fccc93,#fab87c,#f79a61,#f0714a,#e24a35,#d73027,#d73027,#d73027,#d73027,#d73027,#d73027,#d73027)"></i>
<i style="height:5px;background:linear-gradient(90deg,#d73027,#d73027,#d73027,#d73027,#d73027,#d73027,#d73027,#da372b,#e85a3d,#f27e51,#f8a265,#fbc187,#fee1af,#fef8e5,#e5f3f7,#cae7f1,#b3daea,#a3d0e5,#98c6e0,#93c2de,#94c2de,#97c5df,#9dcbe2,#a9d3e7,#bbdeec,#d4edf4,#eff7f8,#fff1d3,#fdd8a3,#fbbf83,#f9aa6a,#f48c59,#ee6744,#df4432,#d73027,#d73027,#d73027,#d73027,#d73027,#d73027,#d73027)"></i>
<i style="height:5px;background:linear-gradient(90deg,#d73027,#d73027,#d73027,#d73027,#d73027,#d73027,#d73027,#dd3d2e,#eb5f40,#f38254,#f8a366,#fbbf83,#fddaa5,#fff1d3,#edf6f8,#d2ecf4,#bbdeec,#aad4e7,#9fcce3,#9bc9e1,#9ccae2,#a0cde4,#a7d2e6,#b4daea,#c9e6f1,#e1f2f6,#fdfbf3,#fee6ba,#fcc990,#fab072,#f69860,#f27c50,#e95c3e,#dc3d2e,#d73027,#d73027,#d73027,#d73027,#d73027,#d73027,#d73027)"></i>
<i style="height:5px;background:linear-gradient(90deg,#d73027,#d73027,#d73027,#d73027,#d73027,#d73027,#d73027,#e04532,#ee6744,#f48957,#f9a768,#fbbe82,#fdd49d,#feeac2,#f7faf8,#dbf0f5,#c4e3ef,#b2d9ea,#a7d3e6,#a4d0e5,#a6d2e6,#aad4e7,#b3d9ea,#c2e2ee,#d8eef5,#f0f8f8,#fff1d3,#fdd8a2,#fab97d,#f79f64,#f38656,#ef6b47,#e45038,#d9352a,#d73027,#d73027,#d73027,#d73027,#d73027,#d73027,#d73027)"></i>
<i style="height:5px;background:linear-gradient(90deg,#d73027,#d73027,#d73027,#d73027,#d73027,#d73027,#d73027,#e34d37,#f07049,#f5915c,#f9ac6d,#fbbf84,#fdd199,#fee5b7,#fdfaee,#e3f3f6,#cee9f2,#bbdeec,#b1d8e9,#aed6e8,#b1d8e9,#b6dbeb,#bfe1ee,#d0ebf3,#e5f4f7,#fdfaed,#fee4b6,#fcc58b,#f9a969,#f48c59,#f0744b,#e95c3f,#df4432,#d73027,#d73027,#d73027,#d73027,#d73027,#d73027,#d73027,#d73027)"></i>
<i style="height:5px;background:linear-gradient(90deg,#d73027,#d73027,#d73027,#d73027,#d73027,#d73027,#d83328,#e7563b,#f1794f,#f69961,#fab273,#fbc287,#fdd199,#fee3b3,#fff6e0,#ecf6f8,#d7eef4,#c5e4f0,#bbdeec,#b9ddec,#bde0ed,#c3e3ef,#cde9f2,#ddf1f5,#f4f9f8,#fff0d0,#fdd59e,#fab476,#f6955e,#f17a4f,#ec6242,#e34d37,#db392c,#d73027,#d73027,#d73027,#d73027,#d73027,#d73027,#d73027,#d73027)"></i>
<i style="height:5px;background:linear-gradient(90deg,#d73027,#d73027,#d73027,#d73027,#d73027,#d73027,#db382c,#ea5d3f,#f38254,#f8a165,#fab77a,#fcc58b,#fdd29a,#fee2b1,#fff2d4,#f7faf8,#e0f2f6,#d0ebf3,#c7e5f0,#c6e5f0,#cbe8f1,#d3ecf4,#dcf0f5,#ebf6f8,#fef8e7,#fee4b5,#fbc489,#f8a366,#f38354,#ee6845,#e5533a,#dd3f2f,#d73027,#d73027,#d73027,#d73027,#d73027,#d73027,#d73027,#d73027,#d73027)"></i>
<i style="height:5px;background:linear-gradient(90deg,#d73027,#d73027,#d73027,#d73027,#d73027,#d73027,#dd3e2e,#ec6443,#f48957,#f9a768,#fbbb7f,#fcc88e,#fdd29b,#fee0ac,#ffecc6,#fef9e9,#ebf6f7,#dbf0f5,#d4edf4,#d4edf4,#d9eff5,#e2f2f6,#ecf6f8,#fcfbf4,#ffecc8,#fdd49d,#fab476,#f5915c,#f0714a,#e8583c,#df4432,#d83228,#d73027,#d73027,#d73027,#d73027,#d73027,#d73027,#d73027,#d73027,#d73027)"></i>
<i style="height:5px;background:linear-gradient(90deg,#d73027,#d73027,#d73027,#d73027,#d73027,#d73027,#df4331,#ee6845,#f48d5a,#f9aa6a,#fbbd81,#fcc88f,#fdd199,#fedba6,#fee4b6,#ffefce,#fafbf8,#e7f4f7,#e0f2f6,#e1f2f6,#e7f4f7,#f2f9f8,#fdfaf1,#ffefce,#fedfaa,#fbc388,#f8a467,#f38153,#eb6141,#e14934,#d9362a,#d73027,#d73027,#d73027,#d73027,#d73027,#d73027,#d73027,#d73027,#d73027,#d73027)"></i>
<i style="height:5px;background:linear-gradient(90deg,#d73027,#d73027,#d73027,#d73027,#d73027,#d73027,#e14733,#ef6a46,#f58e5a,#f9aa6a,#fbbc80,#fcc78d,#fcce96,#fdd59e,#fedca7,#fee5b7,#fff5db,#f7faf8,#eef7f8,#f1f8f8,#fbfbf8,#fef8e5,#ffefce,#fee1af,#fccb93,#fab375,#f6945e,#f0724a,#e6543a,#dc3b2d,#d73027,#d73027,#d73027,#d73027,#d73027,#d73027,#d73027,#d73027,#d73027,#d73027,#d73027)"></i>
<i style="height:5px;background:linear-gradient(90deg,#d73027,#d73027,#d73027,#d73027,#d73027,#d73027,#e24b35,#ef6b47,#f48d5a,#f9a869,#faba7d,#fbc48a,#fcca92,#fccf97,#fdd39d,#fedca8,#fee9c1,#fff5dc,#fdf9ec,#fef8e6,#fff1d3,#feeac4,#fee2b1,#fdd099,#fbbc80,#f8a567,#f48756,#ed6543,#e14733,#d73027,#d73027,#d73027,#d73027,#d73027,#d73027,#d73027,#d73027,#d73027,#d73027,#d73027,#d73027)"></i>
<i style="height:5px;background:linear-gradient(90deg,#d73027,#d73027,#d73027,#d73027,#d73027,#d73128,#e34d36,#ef6c47,#f48b59,#f8a668,#fab77a,#fbc186,#fcc78d,#fcca91,#fccd95,#fdd49e,#fee1ae,#fee8be,#ffeecd,#ffedca,#fee5b8,#fedfab,#fdd39c,#fbc388,#fab071,#f69860,#f27b50,#e95b3e,#dc3d2e,#d73027,#d73027,#d73027,#d73027,#d73027,#d73027,#d73027,#d73027,#d73027,#d73027,#d73027,#d73027)"></i>
<i style="height:5px;background:linear-gradient(90deg,#d73027,#d73027,#d73027,#d73027,#d73027,#d83329,#e34e37,#ef6b47,#f48958,#f8a366,#fab476,#fbbe82,#fbc489,#fcc78d,#fcca91,#fcd098,#fdd9a3,#fee1af,#fee7bb,#fee6b9,#fedeaa,#fdd49d,#fcc88f,#fab87c,#f8a668,#f58d5a,#f0714a,#e5533a,#d9352a,#d73027,#d73027,#d73027,#d73027,#d73027,#d73027,#d73027,#d73027,#d73027,#d73027,#d73027,#d73027)"></i>
<i style="height:5px;background:linear-gradient(90deg,#d73027,#d73027,#d73027,#d73027,#d73027,#d93429,#e44e37,#ef6a46,#f48756,#f7a064,#fab173,#fbbb7f,#fbc187,#fbc58b,#fcc88f,#fccd95,#fdd69f,#fedfab,#fee5b7,#fee4b4,#fddba5,#fcce96,#fbc186,#fab173,#f79d63,#f38555,#ef6945,#e34c36,#d73027,#d73027,#d73027,#d73027,#d73027,#d73027,#d73027,#d73027,#d73027,#d73027,#d73027,#d73027,#d73027)"></i>
<i style="height:5px;background:linear-gradient(90deg,#d73027,#d73027,#d73027,#d73027,#d73027,#d93529,#e34e37,#ef6945,#f38555,#f79d63,#f9af70,#fab97d,#fbc084,#fbc489,#fcc78e,#fccd95,#fdd69f,#fee0ac,#fee6b9,#fee4b6,#fddaa5,#fccc93,#fbbd81,#f9ad6d,#f69860,#f27f52,#ec6342,#e04733,#d73027,#d73027,#d73027,#d73027,#d73027,#d73027,#d73027,#d73027,#d73027,#d73027,#d73027,#d73027,#d73027)"></i>
<i style="height:5px;background:linear-gradient(90deg,#d73027,#d73027,#d73027,#d73027,#d73027,#d93429,#e34d37,#ee6845,#f38354,#f79b61,#f9ad6d,#fab87b,#fbbf83,#fbc389,#fcc88e,#fcce96,#fdd7a1,#fee1af,#fee7bc,#fee5b8,#fedba6,#fccb93,#fbbb7f,#f9aa6a,#f6945e,#f27b4f,#ea5f40,#df4331,#d73027,#d73027,#d73027,#d73027,#d73027,#d73027,#d73027,#d73027,#d73027,#d73027,#d73027,#d73027,#d73027)"></i>
<i style="height:5px;background:linear-gradient(90deg,#d73027,#d73027,#d73027,#d73027,#d73027,#d83329,#e34c36,#ed6644,#f38153,#f69960,#f9ab6c,#fab779,#fbbe82,#fbc389,#fcc88f,#fcce97,#fdd7a2,#fee2af,#fee7bb,#fee5b7,#fedba6,#fccb93,#fbbb7f,#f9a96a,#f5925d,#f1784e,#e95d3f,#de4130,#d73027,#d73027,#d73027,#d73027,#d73027,#d73027,#d73027,#d73027,#d73027,#d73027,#d73027,#d73027,#d73027)"></i>
<i style="height:5px;background:linear-gradient(90deg,#d73027,#d73027,#d73027,#d73027,#d73027,#d73128,#e24a35,#ed6443,#f28052,#f69860,#f9aa6b,#fab678,#fbbe82,#fbc389,#fcc88f,#fccf97,#fdd7a1,#fee1ae,#fee5b7,#fee3b4,#fddaa5,#fccb93,#fbbb7f,#f9a96a,#f5925d,#f1784e,#e95c3e,#dd402f,#d73027,#d73027,#d73027,#d73027,#d73027,#d73027,#d73027,#d73027,#d73027,#d73027,#d73027,#d73027,#d73027)"></i>
<i style="height:5px;background:linear-gradient(90deg,#d73027,#d73027,#d73027,#d73027,#d73027,#d73027,#e14834,#ec6342,#f27e51,#f6975f,#f9aa6a,#fab578,#fbbd82,#fbc389,#fcc88f,#fcce96,#fdd6a0,#fedeaa,#fee2b1,#fee1ae,#fdd8a2,#fccb92,#fbbb7f,#f9aa6a,#f5935d,#f1784e,#e95c3e,#dd3f2f,#d73027,#d73027,#d73027,#d73027,#d73027,#d73027,#d73027,#d73027,#d73027,#d73027,#d73027,#d73027,#d73027)"></i>
<i style="height:5px;background:linear-gradient(90deg,#d73027,#d73027,#d73027,#d73027,#d73027,#d73027,#e04532,#eb6141,#f27d51,#f6965f,#f9a96a,#fab578,#fbbd81,#fbc388,#fcc78e,#fccd94,#fdd39c,#fddaa5,#fedfaa,#fedda8,#fdd59f,#fcc990,#fbbb7f,#f9ab6b,#f6945e,#f17a4f,#e95c3f,#dd3f2f,#d73027,#d73027,#d73027,#d73027,#d73027,#d73027,#d73027,#d73027,#d73027,#d73027,#d73027,#d73027,#d73027)"></i>
<i style="height:5px;background:linear-gradient(90deg,#d73027,#d73027,#d73027,#d73027,#d73027,#d73027,#df4331,#eb5f40,#f27c50,#f6955e,#f9a969,#fab577,#fbbd81,#fbc287,#fcc68c,#fcca91,#fcd098,#fdd69f,#fdd9a4,#fdd8a2,#fdd19a,#fcc78e,#fbbb7f,#f9ac6c,#f6965f,#f27b50,#ea5e3f,#dd402f,#d73027,#d73027,#d73027,#d73027,#d73027,#d73027,#d73027,#d73027,#d73027,#d73027,#d73027,#d73027,#d73027)"></i>
<i style="height:5px;background:linear-gradient(90deg,#d73027,#d73027,#d73027,#d73027,#d73027,#d73027,#de402f,#ea5e3f,#f27b50,#f6955e,#f9a869,#fab476,#fbbc80,#fbc186,#fbc48a,#fcc78e,#fccc93,#fdd199,#fdd49d,#fdd39c,#fccd95,#fbc58b,#faba7e,#f9ac6d,#f69860,#f27d51,#eb5f40,#de4130,#d73027,#d73027,#d73027,#d73027,#d73027,#d73027,#d73027,#d73027,#d73027,#d73027,#d73027,#d73027,#d73027)"></i>
<i style="height:5px;background:linear-gradient(90deg,#d73027,#d73027,#d73027,#d73027,#d73027,#d73027,#dc3d2e,#e95c3e,#f27a4f,#f5935d,#f8a668,#fab375,#fbba7e,#fbbf83,#fbc287,#fbc48a,#fcc78e,#fccc93,#fcce96,#fcce95,#fcc990,#fbc287,#fab87c,#f9ac6d,#f69960,#f27f52,#eb6141,#de4230,#d73027,#d73027,#d73027,#d73027,#d73027,#d73027,#d73027,#d73027,#d73027,#d73027,#d73027,#d73027,#d73027)"></i>
<i style="height:5px;background:linear-gradient(90deg,#d73027,#d73027,#d73027,#d73027,#d73027,#d73027,#dc3b2d,#e85a3d,#f1784e,#f5915c,#f8a466,#fab172,#fab87b,#fbbc80,#fbbf84,#fbc186,#fbc389,#fcc78d,#fcc990,#fcc98f,#fbc58b,#fbbf83,#fab679,#f9ab6b,#f69860,#f27f52,#eb6141,#df4331,#d73027,#d73027,#d73027,#d73027,#d73027,#d73027,#d73027,#d73027,#d73027,#d73027,#d73027,#d73027,#d73027)"></i>
<i style="height:5px;background:linear-gradient(90deg,#d73027,#d73027,#d73027,#d73027,#d73027,#d73027,#db3b2d,#e8583c,#f1754c,#f58d5a,#f7a064,#f9ad6e,#fab578,#fab97d,#fbbc80,#fbbe82,#fbc085,#fbc388,#fbc58a,#fbc48a,#fbc186,#fbbb7f,#fab375,#f9a869,#f6965f,#f27e51,#eb6141,#df4431,#d73027,#d73027,#d73027,#d73027,#d73027,#d73027,#d73027,#d73027,#d73027,#d73027,#d73027,#d73027,#d73027)"></i>
</div></div>
<div class="hm" style="left:604.30px;top:533.00px;width:329.10px;height:394.50px">
<div class="hi" style="left:-10px;top:-10px;width:349.10px;filter:blur(2.5px)">
<i style="height:5px;background:linear-gradient(90deg,#d73027,#d73027,#d73027,#d73027,#d73027,#d73027,#d73027,#d73027,#d73027,#dc3c2d,#e04733,#e55239,#ed6543,#f38354,#f79e63,#fab577,#fcc78d,#fdd7a2,#fee4b5,#ffecc8,#fff4da,#fdfaef,#f5faf8,#edf7f8,#e9f5f7,#e4f3f6,#dff1f6,#d9eff5,#d0ebf3,#c3e3ef,#b6dbeb,#aad4e7,#9ccae2,#90bfdc,#85b4d7,#7babd2,#72a3ce,#699ac9,#6293c5,#5b8cc1,#5686be)"></i>
<i style="height:5px;background:linear-gradient(90deg,#d73027,#d73027,#d73027,#d73027,#d73027,#d73027,#d73027,#d73027,#d73027,#dc3c2d,#e04733,#e6533a,#f06e48,#f48c59,#f8a668,#fbbb7e,#fccc93,#fedca7,#fee7bb,#ffefce,#fff6df,#fcfcf6,#f2f8f8,#ebf6f7,#e6f4f7,#e1f2f6,#dcf0f5,#d6eef4,#cde9f2,#bfe1ee,#b3daea,#a7d2e6,#9ac8e1,#8dbcdb,#82b2d6,#79a9d1,#70a1cd,#6898c8,#6091c4,#5a8ac0,#5585bd)"></i>
<i style="height:5px;background:linear-gradient(90deg,#d73027,#d73027,#d73027,#d73027,#d73027,#d73027,#d73027,#d73027,#d73127,#dc3c2d,#e04733,#e8583d,#f1784e,#f6955e,#f9ad6e,#fbc085,#fdd19a,#fee0ad,#fee9c1,#fff1d4,#fef8e7,#f8fbf8,#eef7f8,#e8f5f7,#e3f3f6,#def1f6,#d9eff5,#d2ecf3,#c8e6f0,#bbdeec,#b0d8e9,#a4d1e5,#97c5e0,#8bbada,#80b0d5,#77a8d0,#6e9fcc,#6697c7,#5f90c3,#5989bf,#5484bd)"></i>
<i style="height:5px;background:linear-gradient(90deg,#d73027,#d73027,#d73027,#d73027,#d73027,#d73027,#d73027,#d73027,#d73127,#dc3c2d,#e14733,#eb6041,#f38153,#f79d63,#fab476,#fcc68c,#fdd7a0,#fee3b4,#ffecc7,#fff4da,#fdfaf0,#f3f9f8,#eaf6f7,#e5f3f7,#e0f1f6,#daeff5,#d4edf4,#cce8f2,#c2e2ef,#b6dbeb,#acd6e8,#a1cee4,#95c3de,#89b8d9,#7fafd4,#75a6d0,#6d9ecb,#6596c6,#5e8fc2,#5889bf,#5384bc)"></i>
<i style="height:5px;background:linear-gradient(90deg,#d73027,#d73027,#d73027,#d73027,#d73027,#d73027,#d73027,#d73027,#d73128,#dc3c2d,#e14934,#ee6745,#f48857,#f8a467,#faba7d,#fccc93,#fedca7,#fee7bb,#ffefce,#fff7e1,#fbfcf8,#eef7f8,#e6f4f7,#e1f2f6,#dcf0f5,#d6eef4,#ceeaf2,#c5e4f0,#bbdeec,#b1d8e9,#a8d3e7,#9ecbe3,#93c1dd,#87b7d8,#7dadd3,#74a5cf,#6c9dca,#6495c6,#5d8ec2,#5888bf,#5383bc)"></i>
<i style="height:5px;background:linear-gradient(90deg,#d73027,#d73027,#d73027,#d73027,#d73027,#d73027,#d73027,#d73027,#d73128,#dc3c2d,#e44e37,#f06f49,#f58f5b,#f9ab6b,#fbbf84,#fdd19a,#fee1ae,#feeac2,#fff2d5,#fef9eb,#f5f9f8,#e9f5f7,#e2f3f6,#ddf0f5,#d7eef4,#d0eaf3,#c7e5f0,#bee0ed,#b3d9ea,#abd5e8,#a4d0e5,#9ac8e1,#90bfdc,#86b5d7,#7cacd3,#73a4ce,#6b9cca,#6394c6,#5d8ec2,#5888bf,#5383bc)"></i>
<i style="height:5px;background:linear-gradient(90deg,#d73027,#d73027,#d73027,#d73027,#d73027,#d73027,#d73027,#d73027,#d73128,#dc3c2e,#e7563b,#f1774d,#f6965f,#fab072,#fbc48a,#fdd7a1,#fee4b5,#ffedc9,#fff6dd,#fcfcf7,#eef7f8,#e4f3f7,#def1f6,#d8eef5,#d1ebf3,#c8e6f0,#c0e1ee,#b6dbeb,#abd5e8,#a6d2e6,#9fcde3,#97c5df,#8ebcdb,#84b4d6,#7babd2,#72a3ce,#6a9bc9,#6394c5,#5d8dc2,#5888bf,#5384bc)"></i>
<i style="height:5px;background:linear-gradient(90deg,#d73027,#d73027,#d73027,#d73027,#d73027,#d73027,#d73027,#d73027,#d73127,#dd3e2f,#ea5e3f,#f27f52,#f79d62,#fab578,#fcc990,#fedca7,#fee7bd,#fff0d1,#fef8e8,#f5faf8,#e8f5f7,#e0f2f6,#d9eff5,#d2ecf3,#c9e6f1,#c0e1ee,#b7dceb,#add6e8,#a5d1e6,#a1cee4,#9bc9e1,#93c2de,#8bbada,#82b2d6,#7aaad2,#71a2ce,#6a9bc9,#6394c5,#5d8ec2,#5888bf,#5484bd)"></i>
<i style="height:5px;background:linear-gradient(90deg,#d73027,#d73027,#d73027,#d73027,#d73027,#d73027,#d73027,#d73027,#d73127,#df4231,#ed6543,#f38656,#f8a366,#faba7e,#fcce96,#fee0ad,#feeac4,#fff4da,#fcfbf4,#eef7f8,#e2f3f6,#dbf0f5,#d4edf4,#cae7f1,#c0e1ee,#b7dceb,#aed6e8,#a4d1e5,#9fcce3,#9cc9e1,#96c5df,#90bfdc,#88b8d9,#81b0d5,#79a9d1,#71a2cd,#6a9ac9,#6394c5,#5d8ec2,#5989bf,#5585bd)"></i>
<i style="height:5px;background:linear-gradient(90deg,#d73027,#d73027,#d73027,#d73027,#d73027,#d73027,#d73027,#d73027,#d73027,#e04733,#ef6b46,#f48c59,#f9aa6a,#fbbf84,#fdd39c,#fee3b3,#ffedca,#fef7e3,#f6faf8,#e7f4f7,#ddf0f5,#d5edf4,#cce8f1,#c1e2ee,#b7dceb,#aed6e8,#a4d0e5,#9bc9e1,#99c7e0,#96c5df,#92c1dd,#8dbcdb,#86b6d7,#7fafd4,#78a8d1,#71a1cd,#6a9bc9,#6494c6,#5e8fc2,#5a8ac0,#5686be)"></i>
<i style="height:5px;background:linear-gradient(90deg,#d73027,#d73027,#d73027,#d73027,#d73027,#d73027,#d73027,#d73027,#d73027,#e24b36,#f06f49,#f5915c,#f9ae6f,#fbc48a,#fdd8a2,#fee6ba,#fff1d2,#fdfaee,#eef7f8,#e0f2f6,#d7eef5,#cee9f2,#c3e3ef,#b8dceb,#aed6e8,#a3d0e5,#9ac8e1,#94c2de,#93c2de,#92c0dd,#8ebddb,#89b9d9,#84b3d6,#7eaed3,#77a8d0,#70a1cd,#6a9bc9,#6495c6,#5f90c3,#5b8bc0,#5888bf)"></i>
<i style="height:5px;background:linear-gradient(90deg,#d73027,#d73027,#d73027,#d73027,#d73027,#d73027,#d73027,#d73027,#d73027,#e44f38,#f0734b,#f6955e,#fab273,#fcc88f,#fedda8,#fee9c1,#fff4d9,#fbfcf8,#e8f5f7,#dbf0f5,#d1ebf3,#c5e4ef,#b9ddec,#aed6e8,#a3d0e5,#99c7e0,#90bedc,#8ebddb,#8ebddb,#8dbcdb,#8ab9d9,#87b6d8,#82b2d5,#7cadd3,#77a7d0,#71a2cd,#6b9cca,#6596c6,#6091c4,#5c8dc1,#598ac0)"></i>
<i style="height:5px;background:linear-gradient(90deg,#d73027,#d73027,#d73027,#d73027,#d73027,#d73027,#d73027,#d73027,#d73127,#e6543a,#f1774d,#f69960,#fab477,#fccb93,#fee0ad,#ffecc7,#fef7e2,#f3f9f8,#e1f2f6,#d5edf4,#c8e6f0,#bbdeec,#afd7e9,#a3d0e5,#99c6e0,#8ebddb,#87b7d8,#88b8d9,#89b8d9,#88b8d8,#87b6d8,#84b3d6,#80b0d5,#7bacd2,#76a7d0,#71a2cd,#6c9dca,#6797c7,#6293c5,#5e8fc2,#5c8cc1)"></i>
<i style="height:5px;background:linear-gradient(90deg,#d73027,#d73027,#d73027,#d73027,#d73027,#d73027,#d73027,#d73027,#d83329,#e7583c,#f27b4f,#f79c62,#fab77a,#fcce96,#fee2b1,#ffeecd,#fdfaed,#ecf6f8,#dbf0f5,#ceeaf2,#c0e1ee,#b1d8e9,#a4d0e5,#98c6e0,#8dbcdb,#83b3d6,#81b1d5,#83b2d6,#84b3d6,#84b4d6,#83b3d6,#81b1d5,#7eaed4,#7babd2,#77a7d0,#72a3ce,#6d9ecb,#6899c8,#6495c6,#6191c4,#5f8fc3)"></i>
<i style="height:5px;background:linear-gradient(90deg,#d73027,#d73027,#d73027,#d73027,#d73027,#d73027,#d73027,#d73027,#db392c,#ea5d3f,#f27f52,#f7a064,#faba7d,#fdd199,#fee4b5,#fff0d1,#fcfcf6,#e6f4f7,#d6eef4,#c7e5f0,#b7dceb,#a7d2e6,#99c7e0,#8dbbdb,#82b1d5,#79aad2,#7babd2,#7daed3,#7fafd4,#80b0d5,#80b0d5,#7fafd4,#7dadd3,#7aabd2,#77a8d0,#73a4cf,#6fa0cc,#6b9cca,#6798c8,#6495c6,#6293c5)"></i>
<i style="height:5px;background:linear-gradient(90deg,#d73027,#d73027,#d73027,#d73027,#d73027,#d73027,#d73027,#d73027,#dd3e2f,#ec6242,#f38455,#f8a466,#fbbc81,#fdd49d,#fee6b9,#fff2d6,#f9fbf8,#e1f2f6,#d0ebf3,#bfe1ee,#aed7e8,#9dcbe2,#8ebddb,#81b1d5,#76a6d0,#72a3ce,#75a6d0,#78a9d1,#7babd2,#7cacd3,#7dadd3,#7dadd3,#7cacd3,#7aabd2,#78a9d1,#75a6cf,#71a2ce,#6e9fcc,#6b9cca,#6999c8,#6798c8)"></i>
<i style="height:5px;background:linear-gradient(90deg,#d73027,#d73027,#d73027,#d73027,#d73027,#d73027,#d73027,#d73027,#e04532,#ee6745,#f48958,#f9a869,#fbc085,#fdd7a1,#fee7bd,#fff5db,#f4f9f8,#ddf1f5,#cbe8f1,#b9ddec,#a5d1e5,#93c1de,#83b3d6,#75a6cf,#6b9cca,#6c9dcb,#70a1cd,#73a4cf,#76a7d0,#79a9d1,#7aabd2,#7bacd2,#7bacd2,#7babd2,#79aad1,#77a8d0,#75a6cf,#72a3ce,#70a1cd,#6e9fcc,#6d9ecb)"></i>
<i style="height:5px;background:linear-gradient(90deg,#d73027,#d73027,#d73027,#d73027,#d73027,#d73027,#d73027,#d73027,#e24b35,#ef6d48,#f58f5b,#f9ac6d,#fbc48a,#fddaa5,#fee9c2,#fff7e1,#eff7f8,#d9eff5,#c7e5f0,#b3d9ea,#9dcae2,#89b9d9,#79a9d1,#6a9bc9,#6394c5,#6798c7,#6b9cca,#6f9fcc,#72a3ce,#75a6d0,#78a8d1,#7aaad2,#7babd2,#7bacd2,#7bacd2,#7aabd2,#79aad1,#77a8d0,#75a6d0,#74a5cf,#73a4ce)"></i>
<i style="height:5px;background:linear-gradient(90deg,#d73027,#d73027,#d73027,#d73027,#d73027,#d73027,#d73027,#d73027,#e55139,#f0724b,#f5945d,#fab071,#fcc88e,#fedeaa,#ffecc7,#fef9ea,#eaf5f7,#d6eef4,#c2e2ee,#add6e8,#96c4df,#82b1d5,#6fa0cc,#5f90c3,#5e8ec2,#6292c4,#6697c7,#6a9bc9,#6e9fcc,#72a3ce,#76a7d0,#79a9d1,#7babd2,#7dadd3,#7eaed4,#7eaed4,#7eaed4,#7cadd3,#7babd2,#7aaad2,#79aad1)"></i>
<i style="height:5px;background:linear-gradient(90deg,#d73027,#d73027,#d73027,#d73027,#d73027,#d73027,#d73027,#d83328,#e7573c,#f1784e,#f69860,#fab476,#fccc93,#fee1af,#ffefce,#fcfbf4,#e5f3f7,#d1ebf3,#bddfed,#a6d2e6,#90bedc,#7aabd2,#6797c7,#5788bf,#5989bf,#5d8dc2,#6192c4,#6697c7,#6b9bca,#6fa0cc,#74a5cf,#78a9d1,#7cadd3,#7fafd4,#82b1d5,#83b2d6,#83b3d6,#82b2d6,#81b1d5,#80b0d5,#80b0d4)"></i>
<i style="height:5px;background:linear-gradient(90deg,#d73027,#d73027,#d73027,#d73027,#d73027,#d73027,#d73027,#db392c,#e95c3f,#f27d51,#f79d63,#fab87b,#fdd098,#fee4b5,#fff2d4,#f8fbf8,#e0f2f6,#cce8f2,#b7dceb,#a0cde4,#89b8d9,#73a4cf,#5f90c3,#5282bb,#5485bd,#5889bf,#5d8dc2,#6292c5,#6798c8,#6d9ecb,#73a4cf,#79aad1,#7eaed4,#82b2d6,#85b5d7,#87b7d8,#88b8d8,#88b8d8,#88b7d8,#87b6d8,#86b6d8)"></i>
<i style="height:5px;background:linear-gradient(90deg,#d73027,#d73027,#d73027,#d73027,#d73027,#d73027,#d73027,#dd3f2f,#ec6241,#f38354,#f8a265,#fbbc80,#fdd49d,#fee7bb,#fff5dc,#f2f8f8,#dbf0f5,#c7e6f0,#b2d9ea,#99c7e1,#82b2d6,#6c9dcb,#5889bf,#4d7db9,#5080ba,#5484bd,#5989bf,#5e8ec2,#6595c6,#6c9dca,#73a4ce,#7aaad2,#80b0d5,#85b5d7,#89b8d9,#8cbbda,#8ebddb,#8fbddc,#8fbddb,#8ebddb,#8ebddb)"></i>
<i style="height:5px;background:linear-gradient(90deg,#d73027,#d73027,#d73027,#d73027,#d73027,#d73027,#d73027,#df4432,#ed6644,#f48857,#f9a768,#fbc085,#fdd8a3,#fee9c1,#fef8e5,#ecf6f8,#d7eef4,#c3e3ef,#add6e8,#94c2de,#7cacd3,#6596c7,#5181bb,#4a7ab7,#4c7cb8,#5080ba,#5585bd,#5b8cc1,#6393c5,#6b9cca,#73a4ce,#7babd2,#82b2d5,#88b7d8,#8dbcdb,#91c0dd,#94c2de,#96c4df,#96c4df,#96c4df,#96c4df)"></i>
<i style="height:5px;background:linear-gradient(90deg,#d73027,#d73027,#d73027,#d73027,#d73027,#d73027,#d73027,#e14834,#ef6a46,#f48d59,#f9ab6c,#fbc58a,#fedda8,#ffecc8,#fdfaef,#e7f4f7,#d3edf4,#bfe0ed,#a8d3e6,#8fbddb,#76a7d0,#5f8fc3,#4a7ab7,#4676b5,#4979b6,#4c7cb8,#5282bb,#5989bf,#6192c4,#6a9bc9,#73a4ce,#7cacd3,#84b4d6,#8bbada,#91c0dd,#96c4df,#9ac8e1,#9dcae2,#9ecbe3,#9ecce3,#9ecbe2)"></i>
<i style="height:5px;background:linear-gradient(90deg,#d73027,#d73027,#d73027,#d73027,#d73027,#d73027,#d73027,#e24a35,#ef6c47,#f58f5b,#f9ae6f,#fcc88f,#fee1ad,#ffefcf,#fbfcf8,#e2f3f6,#d0eaf3,#bbdeec,#a3d0e5,#8ab9d9,#71a2cd,#5989bf,#4575b4,#4575b4,#4575b4,#4979b6,#4f7fba,#5787be,#6090c3,#699ac9,#73a4cf,#7dadd3,#86b6d7,#8ebddb,#96c4df,#9cc9e2,#a0cde4,#a4d0e5,#a6d2e6,#a6d2e6,#a6d1e6)"></i>
<i style="height:5px;background:linear-gradient(90deg,#d73027,#d73027,#d73027,#d73027,#d73027,#d73027,#d73027,#e34d37,#f06f49,#f5925c,#fab072,#fccb92,#fee3b2,#fff2d6,#f5f9f8,#def1f6,#cce8f2,#b7dceb,#9fcce3,#86b5d7,#6c9dca,#5383bc,#4575b4,#4575b4,#4575b4,#4676b5,#4d7db8,#5585bd,#5e8fc2,#6899c8,#73a4cf,#7eaed4,#88b8d9,#92c0dd,#9ac8e1,#a1cee4,#a6d2e6,#abd4e7,#add6e8,#afd7e9,#add6e8)"></i>
<i style="height:5px;background:linear-gradient(90deg,#d73027,#d73027,#d73027,#d73027,#d73027,#d73027,#d73027,#e45038,#f0724b,#f6945e,#fab375,#fccd95,#fee4b5,#fff5db,#f0f8f8,#dbf0f5,#c9e6f1,#b4daea,#9bc9e1,#82b2d6,#6898c8,#4e7eb9,#4575b4,#4575b4,#4575b4,#4575b4,#4a7ab7,#5283bc,#5c8dc1,#6898c8,#73a4cf,#7fafd4,#8abada,#95c3de,#9ecbe3,#a6d2e6,#acd5e8,#b1d8e9,#b4daea,#b6dbeb,#b4daea)"></i>
<i style="height:5px;background:linear-gradient(90deg,#d73027,#d73027,#d73027,#d73027,#d73027,#d73027,#d73027,#e6543a,#f1764d,#f6975f,#fab578,#fcd098,#fee6b9,#fff6e0,#eef7f8,#d9eff5,#c7e5f0,#b1d8e9,#98c6e0,#7eaed4,#6494c6,#4979b6,#4575b4,#4575b4,#4575b4,#4575b4,#4777b5,#5080ba,#5b8bc0,#6797c7,#73a4cf,#80b0d5,#8dbbdb,#98c6e0,#a2cfe4,#aad4e7,#b1d9e9,#b7dceb,#badeec,#bcdfed,#badeec)"></i>
<i style="height:5px;background:linear-gradient(90deg,#d73027,#d73027,#d73027,#d73027,#d73027,#d73027,#d83328,#e7573c,#f17a4f,#f79a61,#fab87b,#fdd29b,#fee7bd,#fef8e5,#ebf6f8,#d8eff5,#c6e4f0,#afd7e9,#96c4df,#7bacd2,#6090c3,#4575b4,#4575b4,#4575b4,#4575b4,#4575b4,#4575b4,#4d7db9,#5989bf,#6696c7,#73a4cf,#81b1d5,#8fbddb,#9bc8e1,#a5d1e6,#afd7e9,#b6dbeb,#bcdfed,#c0e1ee,#c1e2ee,#c0e1ee)"></i>
<i style="height:5px;background:linear-gradient(90deg,#d73027,#d73027,#d73027,#d73027,#d73027,#d73027,#da372b,#e95b3e,#f27d51,#f79d63,#faba7d,#fdd59e,#fee9c0,#fef9eb,#e9f5f7,#d7eef4,#c5e4ef,#aed7e8,#95c3df,#7aabd2,#5d8ec2,#4878b6,#4575b4,#4575b4,#4575b4,#4575b4,#4777b5,#4f7fba,#5989c0,#6697c7,#74a5cf,#82b2d6,#90bfdc,#9dcbe2,#a9d4e7,#b3d9ea,#bbdeec,#c1e2ee,#c4e4ef,#c6e4f0,#c4e4ef)"></i>
<i style="height:5px;background:linear-gradient(90deg,#d73027,#d73027,#d73027,#d73027,#d73027,#d73027,#dc3c2d,#ea5f40,#f28053,#f7a064,#fbbc80,#fdd6a0,#feeac3,#fdfaee,#e8f5f7,#d6eef4,#c4e3ef,#aed6e8,#95c3de,#7aaad2,#6090c3,#5586bd,#4e7fb9,#4a7ab7,#4878b6,#4b7bb7,#5081bb,#5888bf,#6192c4,#6d9ecb,#78a9d1,#84b4d7,#92c0dd,#a0cde3,#acd5e8,#b6dceb,#bfe0ed,#c4e4ef,#c8e6f0,#c9e7f1,#c8e6f0)"></i>
<i style="height:5px;background:linear-gradient(90deg,#d73027,#d73027,#d73027,#d73027,#d73027,#d73027,#df4231,#ec6443,#f38555,#f8a366,#fbbe82,#fdd8a3,#ffebc6,#fdfbf2,#e7f4f7,#d6eef4,#c4e3ef,#aed6e8,#95c3de,#7babd2,#6c9dca,#6394c5,#5c8cc1,#5686be,#5484bd,#5686be,#5b8bc1,#6293c5,#6b9cca,#77a7d0,#81b1d5,#8bbada,#95c3de,#a2cfe4,#afd7e9,#b9ddec,#c2e2ee,#c8e6f0,#cbe8f1,#cce9f2,#cbe8f1)"></i>
<i style="height:5px;background:linear-gradient(90deg,#d73027,#d73027,#d73027,#d73027,#d73027,#d73027,#e24a35,#ef6a46,#f48a58,#f9a768,#fbc186,#fddba5,#ffecc8,#fcfbf5,#e6f4f7,#d6eef4,#c4e3ef,#aed6e8,#95c4df,#83b2d6,#7aabd2,#71a2cd,#699ac9,#6393c5,#6090c3,#6192c4,#6697c7,#6d9ecb,#76a7d0,#80b0d5,#8ab9d9,#93c1dd,#9bc9e1,#a4d1e5,#b1d8e9,#bcdfed,#c4e4ef,#cae7f1,#cee9f2,#cfeaf2,#cee9f2)"></i>
<i style="height:5px;background:linear-gradient(90deg,#d73027,#d73027,#d73027,#d73027,#d73027,#d73027,#e55239,#f0724a,#f5915c,#f9ac6c,#fbc48a,#fedda8,#ffeecb,#fcfcf7,#e5f4f7,#d5eef4,#c3e3ef,#aed6e8,#98c6e0,#90bedc,#88b8d9,#7fafd4,#76a7d0,#6fa0cc,#6c9dca,#6d9ecb,#72a3ce,#78a9d1,#81b1d5,#8bbada,#93c1de,#9ac8e1,#a1cfe4,#a9d3e7,#b3d9ea,#bee0ed,#c6e5f0,#cce8f2,#cfeaf3,#d0ebf3,#cfeaf3)"></i>
<i style="height:5px;background:linear-gradient(90deg,#d73027,#d73027,#d73027,#d73027,#d73027,#db3b2d,#e95c3e,#f27b4f,#f69860,#fab173,#fcc88f,#fee0ac,#ffefce,#fbfcf8,#e4f3f7,#d5edf4,#c3e3ef,#aed6e8,#a1cee4,#9dcbe2,#96c4df,#8dbbda,#84b3d6,#7dadd3,#79aad1,#7aabd2,#7fafd4,#84b4d7,#8cbbda,#95c3de,#9ccae2,#a2cfe4,#a8d3e6,#aed6e8,#b4daea,#bee0ed,#c7e5f0,#cde9f2,#d1ebf3,#d1ebf3,#d0ebf3)"></i>
<i style="height:5px;background:linear-gradient(90deg,#d73027,#d73027,#d73027,#d73027,#db392c,#e04733,#ee6744,#f38555,#f8a065,#fab77a,#fccc94,#fee2b0,#fff0d1,#fafbf8,#e4f3f6,#d5edf4,#c3e3ef,#b1d8e9,#add6e8,#aad4e7,#a3d0e5,#9ac8e1,#91c0dd,#8ab9d9,#87b6d8,#88b7d8,#8cbbda,#91c0dd,#98c6e0,#9fcde3,#a5d1e5,#a9d3e7,#add6e8,#b2d9ea,#b7dceb,#bee0ed,#c7e5f0,#cee9f2,#d1ebf3,#d2ecf3,#d1ebf3)"></i>
<i style="height:5px;background:linear-gradient(90deg,#d73027,#d73027,#d73027,#db3a2c,#e04633,#e6543a,#f0734b,#f5905b,#f9aa6a,#fbbd81,#fdd19a,#fee4b5,#fff2d4,#f9fbf8,#e3f3f6,#d4edf4,#c3e3ef,#badeec,#b8dceb,#b5dbeb,#afd7e9,#a7d2e6,#9fcce3,#99c7e0,#95c3de,#96c4df,#9ac8e1,#9ecce3,#a4d1e5,#aad4e7,#add6e8,#afd7e9,#b2d9e9,#b5dbeb,#b9ddec,#bee0ed,#c6e5f0,#cde9f2,#d1ebf3,#d2ecf3,#d1ebf3)"></i>
<i style="height:5px;background:linear-gradient(90deg,#d73027,#d73027,#db3a2c,#e14834,#e6543a,#ec6241,#f38053,#f79b62,#fab173,#fbc388,#fdd59f,#fee5b8,#fff2d5,#f9fbf8,#e4f3f6,#d5edf4,#c8e6f0,#c4e4ef,#c2e2ef,#c0e1ee,#badeec,#b3daea,#acd6e8,#a6d2e6,#a3d0e5,#a4d1e5,#a8d3e6,#abd5e8,#b1d8e9,#b5dbeb,#b6dbeb,#b5dbea,#b5dbeb,#b8dceb,#badeec,#bddfed,#c4e3ef,#cbe8f1,#d0ebf3,#d2ecf3,#d0eaf3)"></i>
<i style="height:5px;background:linear-gradient(90deg,#d83128,#db3b2d,#e14834,#e7563c,#ec6342,#f0714a,#f58e5a,#f8a668,#fab87b,#fcc88e,#fdd8a3,#fee6ba,#fff2d4,#fbfcf8,#e5f4f7,#d7eef4,#d0ebf3,#cde9f2,#cce8f1,#c9e7f1,#c5e4ef,#c0e1ee,#badeec,#b5dbeb,#b2d9ea,#b3daea,#b6dbeb,#b9ddec,#bcdfed,#bfe1ee,#bde0ed,#badeec,#b9ddec,#b9ddec,#badeec,#bbdeec,#c0e1ee,#c8e6f0,#cee9f2,#d0ebf3,#cde9f2)"></i>
<i style="height:5px;background:linear-gradient(90deg,#de402f,#e14935,#e7573c,#ee6744,#f1754c,#f38253,#f79b62,#fab071,#fbbf84,#fccd94,#fedba6,#fee7bc,#fff2d4,#fcfbf5,#e9f5f7,#ddf0f5,#d8eff5,#d6eef4,#d5edf4,#d4edf4,#d1ebf3,#cde9f2,#c9e6f1,#c5e4ef,#c3e3ef,#c4e3ef,#c6e5f0,#c7e5f0,#c9e6f1,#c9e6f1,#c4e3ef,#bfe1ee,#bcdfed,#badeec,#b9ddec,#b8dceb,#badeec,#c3e3ef,#cae7f1,#cce8f2,#c9e6f1)"></i>
<i style="height:5px;background:linear-gradient(90deg,#e45138,#e85a3d,#ef6946,#f27c50,#f48a58,#f6955e,#f9aa6a,#fab97d,#fcc68c,#fdd29b,#fedeaa,#fee8bd,#fff1d2,#fdf9eb,#f1f8f8,#e6f4f7,#e2f2f6,#dff1f6,#dff1f6,#dff1f6,#def1f6,#dcf0f5,#daeff5,#d9eff5,#d8eff5,#d8eff5,#d9eff5,#d8eef5,#d8eef5,#d3ecf4,#cae7f1,#c4e3ef,#bee0ed,#baddec,#b6dbeb,#b4daea,#b3daea,#bbdeec,#c3e3ef,#c6e5f0,#c1e2ee)"></i>
<i style="height:5px;background:linear-gradient(90deg,#ed6443,#f06f49,#f38153,#f5935d,#f7a064,#f9a969,#fab77a,#fbc389,#fccd95,#fdd6a0,#fee0ad,#fee7bd,#ffefcd,#fff7e1,#fbfcf8,#f2f8f8,#edf7f8,#ecf6f8,#ecf6f8,#eef7f8,#eef7f8,#edf7f8,#edf7f8,#edf6f8,#ecf6f8,#ecf6f8,#ecf6f8,#eaf5f7,#e7f4f7,#dcf0f5,#d0ebf3,#c8e6f0,#c0e1ee,#b9ddec,#b3d9ea,#aed7e8,#abd5e7,#b1d8e9,#b8dceb,#bcdfed,#b7dceb)"></i>
<i style="height:5px;background:linear-gradient(90deg,#f27d51,#f48a58,#f79c62,#f9ab6c,#fab577,#faba7d,#fbc389,#fccc94,#fdd49d,#fddaa5,#fee1ae,#fee6ba,#ffecc8,#fff4d9,#fef8e8,#fdfbf3,#fcfcf8,#fbfcf8,#fcfcf8,#fcfbf6,#fcfbf5,#fcfbf5,#fcfbf5,#fcfbf5,#fcfbf5,#fcfbf5,#fcfcf6,#fbfcf8,#f8fbf8,#e5f4f7,#d6eef4,#cbe8f1,#c1e2ee,#b7dceb,#afd7e9,#a7d3e6,#a2cfe4,#a4d1e5,#aad4e7,#acd5e8,#a9d4e7)"></i>
<i style="height:5px;background:linear-gradient(90deg,#f69760,#f9a869,#fab679,#fbc186,#fcc88e,#fcca91,#fccf97,#fdd59e,#fdd9a3,#fedca8,#fee1ad,#fee5b6,#feeac3,#fff0d1,#fff4da,#fef7e3,#fef8e7,#fef9e9,#fef8e9,#fef8e8,#fef8e7,#fef8e8,#fef8e8,#fef8e8,#fef8e9,#fef9e9,#fef9eb,#fdf9ed,#fdfaf1,#f0f8f8,#dbf0f5,#cce8f2,#c0e1ee,#b4daea,#a9d4e7,#a0cde4,#97c5e0,#97c5df,#99c7e0,#9ac8e1,#9ac8e1)"></i>
<i style="height:5px;background:linear-gradient(90deg,#fab072,#fbc186,#fcce96,#fdd6a0,#fddaa4,#fdd9a4,#fdd9a4,#fedca7,#fedda8,#fedea9,#fee0ac,#fee3b2,#fee7bd,#ffecc8,#fff0d0,#fff3d7,#fff4db,#fff6dd,#fff6de,#fff6dd,#fff6dd,#fff6de,#fff6de,#fff6df,#fff6df,#fff7e0,#fff7e2,#fef7e4,#fdf9ec,#f5faf8,#dbf0f5,#cbe8f1,#bde0ed,#b0d8e9,#a3d0e5,#98c6e0,#8cbbda,#89b8d9,#89b8d9,#88b8d9,#8ab9d9)"></i>
<i style="height:5px;background:linear-gradient(90deg,#fbc58a,#fdd8a2,#fee2b1,#fee5b8,#fee5b8,#fee4b4,#fee1ae,#fee0ad,#fedfab,#fedda9,#fedea9,#fee1ad,#fee4b5,#fee8be,#feebc5,#ffeecc,#fff0d0,#fff1d3,#fff2d4,#fff1d4,#fff1d4,#fff2d4,#fff2d5,#fff2d6,#fff3d6,#fff3d8,#fff4d9,#fff6de,#fdf9eb,#f3f9f8,#d9eff5,#c8e6f0,#b9ddec,#aad4e7,#9ccae2,#8fbddc,#81b1d5,#7cacd3,#7aaad2,#79a9d1,#7cadd3)"></i>
<i style="height:5px;background:linear-gradient(90deg,#fdd59e,#fee6bb,#ffedc9,#ffeecc,#ffedc9,#fee9c1,#fee5b7,#fee2af,#fedfaa,#fedba6,#fddaa5,#fedca7,#fee0ac,#fee3b2,#fee6b9,#fee9c0,#feebc5,#ffedc8,#ffedc9,#ffedc9,#ffedc9,#ffedca,#ffedcb,#ffeecc,#ffeecd,#ffefce,#fff1d2,#fff5dd,#fdf9ec,#f0f8f8,#d6eef4,#c4e4ef,#b5dbea,#a4d1e5,#95c3de,#86b5d7,#76a7d0,#70a1cd,#6e9fcb,#6d9ecb,#70a1cd)"></i>
<i style="height:5px;background:linear-gradient(90deg,#fedfab,#ffeecc,#fff4d9,#fff4d9,#fff1d3,#ffedc9,#fee6bb,#fee1ae,#fedca7,#fdd7a1,#fdd69f,#fdd6a0,#fdd8a3,#fedca7,#fee0ac,#fee3b3,#fee5b7,#fee7bb,#fee7bc,#fee7bc,#fee7bc,#fee8bd,#fee8bf,#fee9c0,#feeac2,#feebc5,#ffefcf,#fff6dd,#fdf9ed,#edf6f8,#d4edf4,#c1e2ee,#b0d8e9,#9fcce3,#8ebddb,#7dadd3,#6b9cca,#6797c7,#6495c6,#6494c6,#6797c7)"></i>
<i style="height:5px;background:linear-gradient(90deg,#fee1ae,#fff0d0,#fff6dd,#fff6dd,#fff3d6,#ffedca,#fee6ba,#fedeaa,#fdd6a0,#fdd19a,#fccf97,#fcce96,#fccf98,#fdd19a,#fdd69f,#fddaa5,#fedda8,#fee0ac,#fee0ad,#fee0ad,#fee1ae,#fee1af,#fee2b1,#fee3b3,#fee4b6,#fee9c0,#fff0d0,#fff6de,#fdfaf0,#e9f5f7,#d1ebf3,#bee0ed,#acd5e8,#99c7e0,#87b7d8,#75a6cf,#6393c5,#5f8fc3,#5d8dc2,#5c8dc1,#5f8fc3)"></i>
<i style="height:5px;background:linear-gradient(90deg,#fedca8,#ffecc6,#fff2d5,#fff3d8,#fff1d2,#ffebc5,#fee4b4,#fdd8a3,#fcce97,#fcc990,#fcc58c,#fbc48a,#fbc48a,#fcc68c,#fcc990,#fccd95,#fcd098,#fdd39c,#fdd49d,#fdd49d,#fdd59e,#fdd6a0,#fdd8a2,#fddaa5,#fee1ae,#fee9c0,#fff0d1,#fff7e1,#fcfcf6,#e2f3f6,#cce8f2,#badeec,#a8d3e6,#94c2de,#81b1d5,#6d9ecb,#5b8bc1,#5888bf,#5687be,#5686be,#5888bf)"></i>
<i style="height:5px;background:linear-gradient(90deg,#fdd199,#fee3b3,#feeac3,#ffedca,#ffebc6,#fee6ba,#fedfaa,#fdd19a,#fbc48a,#fbbe82,#faba7e,#fab87b,#fab77a,#fab87b,#fbbb7f,#fbbe82,#fbc085,#fbc389,#fbc48a,#fbc58b,#fcc68c,#fcc88f,#fccb92,#fdd29b,#fee0ad,#fee9c0,#fff1d2,#fef7e4,#f8fbf8,#dcf0f5,#c7e5f0,#b5daea,#a2cfe4,#8ebddb,#7aabd2,#6697c7,#5585bd,#5283bc,#5181bb,#5181bb,#5283bc)"></i>
<i style="height:5px;background:linear-gradient(90deg,#fbc186,#fdd29b,#fedfab,#fee4b4,#fee3b4,#fedfab,#fdd49e,#fcc78e,#fab97c,#fab071,#f9ac6c,#f9a969,#f8a668,#f8a768,#f9aa6a,#f9ac6d,#f9ae6f,#fab173,#fab374,#fab476,#fab578,#fab87b,#fbc084,#fcd098,#fee0ac,#fee9c1,#fff1d4,#fef8e7,#f1f8f8,#d7eef4,#c1e2ee,#afd7e9,#9bc9e1,#87b7d8,#73a4cf,#5f8fc3,#4f80ba,#4e7eb9,#4d7db8,#4c7db8,#4e7eb9)"></i>
<i style="height:5px;background:linear-gradient(90deg,#f9ae6f,#fbbd81,#fcca91,#fdd39c,#fdd59f,#fdd099,#fcc78e,#fbbb7f,#f9ad6e,#f79e63,#f6975f,#f5945d,#f5915c,#f5905c,#f5935d,#f6945e,#f6975f,#f69a61,#f79c62,#f79d63,#f7a065,#f9a969,#fbbb7f,#fcce96,#fee0ac,#feeac2,#fff2d6,#fdf9ec,#eaf5f7,#d1ebf3,#bcdfed,#a9d4e7,#94c3de,#80b0d5,#6c9cca,#5787be,#4b7bb7,#4a7ab7,#4979b6,#4979b6,#4a7ab7)"></i>
<i style="height:5px;background:linear-gradient(90deg,#f69860,#f8a768,#fab577,#fbbf84,#fbc388,#fbc085,#fab87c,#f9ae6e,#f79f64,#f58e5a,#f38153,#f27b4f,#f1774d,#f1774d,#f1784e,#f1794f,#f27b50,#f27f52,#f38153,#f38354,#f48a58,#f8a065,#fab97d,#fcce95,#fee0ac,#feeac3,#fff4d9,#fdfbf2,#e3f3f6,#cbe8f1,#b7dceb,#a3d0e5,#8ebddb,#79aad1,#6495c6,#4f7fba,#4778b5,#4676b5,#4676b4,#4676b4,#4676b5)"></i>
<i style="height:5px;background:linear-gradient(90deg,#f38254,#f58f5b,#f79e63,#f9aa6a,#f9af70,#f9ae6f,#f9a869,#f79d62,#f58e5b,#f27f52,#f06e48,#ec6242,#e95c3f,#e95b3e,#e95b3e,#e95c3e,#ea5e3f,#eb6141,#ec6443,#ee6744,#f27d51,#f79d63,#fab87b,#fccd95,#fee1ad,#ffebc6,#fff5dc,#fafbf8,#ddf0f5,#c6e5f0,#b2d9ea,#9dcbe2,#88b7d8,#72a3ce,#5d8dc2,#4979b6,#4575b4,#4575b4,#4575b4,#4575b4,#4575b4)"></i>
<i style="height:5px;background:linear-gradient(90deg,#ef6d48,#f1794f,#f48756,#f5925d,#f69960,#f69960,#f6945d,#f48a58,#f27d51,#f06e49,#eb6041,#e55239,#e04633,#dd3f2f,#dd3d2e,#dc3d2e,#dd3e2f,#df4331,#e04633,#e7563b,#f1784e,#f79a61,#fab779,#fcce96,#fee1af,#ffecc8,#fff7e1,#f3f9f8,#d7eef5,#c1e2ee,#add6e8,#97c5e0,#81b1d5,#6c9cca,#5686be,#4575b4,#4575b4,#4575b4,#4575b4,#4575b4,#4575b4)"></i>
<i style="height:5px;background:linear-gradient(90deg,#e85a3d,#ed6443,#f07049,#f27b50,#f38253,#f38354,#f27f52,#f1774d,#ef6c47,#ea5f40,#e55239,#df4432,#da372b,#d73027,#d73027,#d73027,#d73027,#d73027,#d73027,#e45038,#f1754c,#f69960,#fab679,#fcce96,#fee2b1,#ffeecc,#fef8e7,#ebf6f8,#d2ecf3,#bcdfed,#a8d3e6,#92c0dd,#7cacd3,#6596c7,#4f7fba,#4575b4,#4575b4,#4575b4,#4575b4,#4575b4,#4575b4)"></i>
<i style="height:5px;background:linear-gradient(90deg,#e14834,#e55139,#e95c3e,#ed6543,#ef6b47,#f06d48,#ef6b46,#ed6543,#e95b3e,#e45038,#df4331,#da362a,#d73027,#d73027,#d73027,#d73027,#d73027,#d73027,#d73027,#e44e37,#f0734b,#f69860,#fab679,#fccf98,#fee3b4,#fff0cf,#fdfaef,#e5f3f7,#cce9f2,#b8dceb,#a3d0e5,#8cbbda,#76a7d0,#5f90c3,#4979b6,#4575b4,#4575b4,#4575b4,#4575b4,#4575b4,#4575b4)"></i>
<i style="height:5px;background:linear-gradient(90deg,#da362a,#dd3f2f,#e14834,#e55139,#e7573c,#e85a3d,#e8583d,#e6533a,#e24c36,#de4130,#d9362a,#d73027,#d73027,#d73027,#d73027,#d73027,#d73027,#d73027,#d73027,#e44e37,#f0744b,#f69960,#fab87b,#fdd19a,#fee5b7,#fff1d4,#fcfcf7,#dff1f6,#c8e6f0,#b3daea,#9dcbe2,#87b6d8,#70a1cd,#598ac0,#4575b4,#4575b4,#4575b4,#4575b4,#4575b4,#4575b4,#4575b4)"></i>
<i style="height:5px;background:linear-gradient(90deg,#d73027,#d73027,#d9362a,#dd3e2f,#df4432,#e14733,#e04733,#df4331,#dc3c2e,#d83329,#d73027,#d73027,#d73027,#d73027,#d73027,#d73027,#d73027,#d73027,#d73027,#e45038,#f1764d,#f79b62,#faba7d,#fdd49d,#fee6bb,#fff3d8,#f7faf8,#daeff5,#c4e3ef,#afd7e9,#98c6e0,#82b2d5,#6b9cca,#5484bc,#4575b4,#4575b4,#4575b4,#4575b4,#4575b4,#4575b4,#4575b4)"></i>
<i style="height:5px;background:linear-gradient(90deg,#d73027,#d73027,#d73027,#d73027,#d83228,#d9362a,#d9362a,#d83329,#d73027,#d73027,#d73027,#d73027,#d73027,#d73027,#d73027,#d73027,#d73027,#d73027,#d73027,#e55239,#f1794f,#f79f64,#fbbd81,#fdd7a1,#fee8bf,#fff6de,#f0f8f8,#d6eef4,#c0e1ee,#abd5e7,#94c2de,#7dadd3,#6596c7,#4e7eb9,#4575b4,#4575b4,#4575b4,#4575b4,#4575b4,#4575b4,#4575b4)"></i>
<i style="height:5px;background:linear-gradient(90deg,#d73027,#d73027,#d73027,#d73027,#d73027,#d73027,#d73027,#d73027,#d73027,#d73027,#d73027,#d73027,#d73027,#d73027,#d73027,#d73027,#d73027,#d73027,#d73027,#e7573c,#f27e51,#f8a366,#fbc085,#fddaa5,#feeac4,#fef8e5,#eaf6f7,#d2ecf3,#bcdfed,#a7d2e6,#90bedc,#78a9d1,#6091c4,#4979b6,#4575b4,#4575b4,#4575b4,#4575b4,#4575b4,#4575b4,#4575b4)"></i>
<i style="height:5px;background:linear-gradient(90deg,#d73027,#d73027,#d73027,#d73027,#d73027,#d73027,#d73027,#d73027,#d73027,#d73027,#d73027,#d73027,#d73027,#d73027,#d73027,#d73027,#d73027,#d73027,#d83329,#e95c3e,#f38454,#f9a869,#fbc48a,#fedea9,#ffedc9,#fdf9ed,#e5f4f7,#cde9f2,#b9ddec,#a3d0e5,#8cbbda,#74a5cf,#5c8cc1,#4575b4,#4575b4,#4575b4,#4575b4,#4575b4,#4575b4,#4575b4,#4575b4)"></i>
<i style="height:5px;background:linear-gradient(90deg,#d73027,#d73027,#d73027,#d73027,#d73027,#d73027,#d73027,#d73027,#d73027,#d73027,#d73027,#d73027,#d73027,#d73027,#d73027,#d73027,#d73027,#d73027,#db3b2d,#ec6242,#f48a58,#f9ad6d,#fcc88f,#fee1ae,#ffefcf,#fcfcf7,#e0f2f6,#cae7f1,#b5dbeb,#9fcce3,#88b7d8,#70a1cd,#5888bf,#4575b4,#4575b4,#4575b4,#4575b4,#4575b4,#4575b4,#4575b4,#4575b4)"></i>
<i style="height:5px;background:linear-gradient(90deg,#d73027,#d73027,#d73027,#d73027,#d73027,#d73027,#d73027,#d73027,#d73027,#d73027,#d73027,#d73027,#d73027,#d73027,#d73027,#d73027,#d73027,#d73027,#e04532,#ef6a46,#f5905c,#fab273,#fccd95,#fee4b4,#fff2d5,#f7faf8,#dcf0f5,#c6e5f0,#b2d9e9,#9bc9e1,#84b3d6,#6c9cca,#5484bc,#4575b4,#4575b4,#4575b4,#4575b4,#4575b4,#4575b4,#4575b4,#4575b4)"></i>
<i style="height:5px;background:linear-gradient(90deg,#d73027,#d73027,#d73027,#d73027,#d73027,#d73027,#d73027,#d73027,#d73027,#d73027,#d73027,#d73027,#d73027,#d73027,#d73027,#d73027,#d73027,#d73027,#e55239,#f1744c,#f69860,#fab77a,#fdd29b,#fee6ba,#fff5db,#f1f8f8,#d8eef5,#c3e3ef,#aed6e8,#97c5df,#7fb0d4,#6898c8,#4f80ba,#4575b4,#4575b4,#4575b4,#4575b4,#4575b4,#4575b4,#4575b4,#4575b4)"></i>
<i style="height:5px;background:linear-gradient(90deg,#d73027,#d73027,#d73027,#d73027,#d73027,#d73027,#d73027,#d73027,#d73027,#d73027,#d73027,#d73027,#d73027,#d73027,#d73027,#d73027,#d73027,#dd3e2e,#eb5f40,#f38253,#f8a265,#fbbd81,#fdd7a1,#fee9c0,#fef7e2,#ebf6f8,#d4edf4,#bfe1ee,#aad4e7,#93c1dd,#7bacd2,#6394c5,#4b7bb8,#4575b4,#4575b4,#4575b4,#4575b4,#4575b4,#4575b4,#4575b4,#4575b4)"></i>
<i style="height:5px;background:linear-gradient(90deg,#d73027,#d73027,#d73027,#d73027,#d73027,#d73027,#d73027,#d73027,#d73027,#d73027,#d73027,#d73027,#d73027,#d73027,#d73027,#d73027,#d73027,#e34d37,#f06e48,#f58f5b,#f9ad6e,#fcc58b,#fedca8,#ffecc7,#fef9eb,#e6f4f7,#d0ebf3,#bbdeec,#a6d2e6,#8fbedc,#77a8d1,#5f90c3,#4878b6,#4575b4,#4575b4,#4575b4,#4575b4,#4575b4,#4575b4,#4575b4,#4575b4)"></i>
<i style="height:5px;background:linear-gradient(90deg,#d73027,#d73027,#d73027,#d73027,#d73027,#d73027,#d73027,#d73027,#d73027,#d73027,#d73027,#d73027,#d73027,#d73027,#d73027,#d73027,#dc3c2d,#e95c3f,#f27d51,#f79c62,#fab77a,#fcce96,#fee2b1,#ffefce,#fcfbf4,#e2f2f6,#cce8f2,#b8dceb,#a2cfe4,#8bbada,#73a4cf,#5b8cc1,#4575b4,#4575b4,#4575b4,#4575b4,#4575b4,#4575b4,#4575b4,#4575b4,#4575b4)"></i>
<i style="height:5px;background:linear-gradient(90deg,#d73027,#d73027,#d73027,#d73027,#d73027,#d73027,#d73027,#d73027,#d73027,#d73027,#d73027,#d73027,#d73027,#d73027,#d73027,#d73027,#e34c36,#ef6c47,#f48c59,#f9a96a,#fbc186,#fdd7a1,#fee7bc,#fff4d8,#f7faf8,#ddf1f5,#c8e6f0,#b4daea,#9ecbe3,#87b6d8,#6fa0cc,#5787be,#4575b4,#4575b4,#4575b4,#4575b4,#4575b4,#4575b4,#4575b4,#4575b4,#4575b4)"></i>
<i style="height:5px;background:linear-gradient(90deg,#d73027,#d73027,#d73027,#d73027,#d73027,#d73027,#d73027,#d73027,#d73027,#d73027,#d73027,#d73027,#d73027,#d73027,#d73027,#db3a2c,#e95c3e,#f27c50,#f79a61,#fab476,#fccb92,#fee0ac,#ffecc7,#fef8e5,#eef7f8,#d8eff5,#c5e4ef,#b0d8e9,#9ac7e1,#82b2d6,#6b9cca,#5383bc,#4575b4,#4575b4,#4575b4,#4575b4,#4575b4,#4575b4,#4575b4,#4575b4,#4575b4)"></i>
<i style="height:5px;background:linear-gradient(90deg,#d73027,#d73027,#d73027,#d73027,#d73027,#d73027,#d73027,#d73027,#d73027,#d73027,#d73027,#d73027,#d73027,#d73027,#d73027,#e24b35,#ef6a46,#f48a58,#f9a869,#fbbf83,#fdd49d,#fee5b7,#fff1d2,#fcfbf5,#e5f4f7,#d2ecf3,#c0e1ee,#acd5e8,#95c4df,#7eaed4,#6697c7,#4f7fb9,#4575b4,#4575b4,#4575b4,#4575b4,#4575b4,#4575b4,#4575b4,#4575b4,#4575b4)"></i>
<i style="height:5px;background:linear-gradient(90deg,#d73027,#d73027,#d73027,#d73027,#d73027,#d73027,#d73027,#d73027,#d73027,#d73027,#d73027,#d73027,#d73027,#d73027,#db3b2d,#e95b3e,#f17a4f,#f69860,#fab274,#fcc98f,#fedda9,#feeac2,#fff6de,#f4f9f8,#ddf1f5,#cbe8f1,#b9ddec,#a6d2e6,#90bfdc,#7aaad2,#6293c5,#4b7bb7,#4575b4,#4575b4,#4575b4,#4575b4,#4575b4,#4575b4,#4575b4,#4575b4,#4575b4)"></i>
<i style="height:5px;background:linear-gradient(90deg,#d73027,#d73027,#d73027,#d73027,#d73027,#d73027,#d73027,#d73027,#d73027,#d73027,#d73027,#d73027,#d73027,#d73027,#e24c36,#ef6a46,#f48957,#f8a567,#fbbc80,#fdd29b,#fee3b4,#ffefcd,#fdf9eb,#eaf6f7,#d6eef4,#c5e4ef,#b3d9ea,#9fcce3,#8ab9d9,#74a5cf,#5d8ec2,#4878b6,#4575b4,#4575b4,#4575b4,#4575b4,#4575b4,#4575b4,#4575b4,#4575b4,#4575b4)"></i>
<i style="height:5px;background:linear-gradient(90deg,#d73027,#d73027,#d73027,#d73027,#d73027,#d73027,#d73027,#d73027,#d73027,#d73027,#d73027,#d73027,#d83328,#dd3e2f,#e95c3f,#f27a4f,#f69760,#fab172,#fcc68c,#fddaa5,#fee8be,#fff3d8,#fafbf8,#e2f2f6,#d0eaf3,#bee0ed,#acd5e8,#97c5e0,#83b3d6,#6e9fcb,#5888bf,#4676b4,#4575b4,#4575b4,#4575b4,#4575b4,#4575b4,#4575b4,#4575b4,#4575b4,#4575b4)"></i>
<i style="height:5px;background:linear-gradient(90deg,#d73027,#d73027,#d73027,#d73027,#d73027,#d73027,#d73027,#d73027,#d73027,#d73027,#d73027,#da362a,#dc3c2e,#e44f37,#ef6c47,#f48958,#f8a567,#fbbb7f,#fccf97,#fee1af,#ffecc8,#fef7e3,#f1f8f8,#dbf0f5,#c9e7f1,#b8dceb,#a4d1e5,#90bedc,#7bacd2,#6697c7,#5181bb,#4575b4,#4575b4,#4575b4,#4575b4,#4575b4,#4575b4,#4575b4,#4575b4,#4575b4,#4575b4)"></i>
<i style="height:5px;background:linear-gradient(90deg,#d73027,#d73027,#d73027,#d73027,#d73027,#d73027,#d73027,#d73027,#d73027,#d73027,#da382b,#de4030,#e04733,#ea5e3f,#f27c50,#f69860,#fab072,#fbc48a,#fdd8a2,#fee6b9,#fff0d1,#fdfaee,#e8f5f7,#d5edf4,#c3e3ef,#b1d8e9,#9dcae2,#88b8d9,#74a5cf,#5e8fc3,#4a7ab7,#4575b4,#4575b4,#4575b4,#4575b4,#4575b4,#4575b4,#4575b4,#4575b4,#4575b4,#4575b4)"></i>
<i style="height:5px;background:linear-gradient(90deg,#d73027,#d73027,#d73027,#d73027,#d73027,#d73027,#d73027,#d73027,#d73027,#da372b,#de4231,#e24a35,#e55239,#ef6c47,#f48958,#f8a567,#fbba7e,#fcce95,#fee0ac,#feeac3,#fff4da,#fafbf8,#e2f2f6,#cfeaf2,#bcdfed,#aad4e7,#95c3df,#81b1d5,#6c9dca,#5787be,#4676b5,#4575b4,#4575b4,#4575b4,#4575b4,#4575b4,#4575b4,#4575b4,#4575b4,#4575b4,#4575b4)"></i>
<i style="height:5px;background:linear-gradient(90deg,#d73027,#d73027,#d73027,#d73027,#d73027,#d73027,#d73027,#d73027,#d83329,#de4130,#e34c36,#e6543a,#ea5e3f,#f17a4f,#f6955e,#f9af70,#fbc389,#fdd6a0,#fee4b6,#ffeecc,#fef7e3,#f2f8f8,#dbf0f5,#c9e7f1,#b7dceb,#a2cfe5,#8ebddb,#79aad1,#6495c6,#4f7fba,#4575b4,#4575b4,#4575b4,#4575b4,#4575b4,#4575b4,#4575b4,#4575b4,#4575b4,#4575b4,#4575b4)"></i>
<i style="height:5px;background:linear-gradient(90deg,#d73027,#d73027,#d73027,#d73027,#d73027,#d73027,#d73027,#d73027,#dc3c2d,#e24a35,#e7563b,#ea5e40,#ef6a46,#f38756,#f8a065,#fab77a,#fcca92,#fedda8,#fee8bf,#fff2d4,#fdfaee,#eaf5f7,#d6eef4,#c4e3ef,#b1d8e9,#9bc9e1,#86b6d8,#72a3ce,#5c8dc1,#4979b6,#4575b4,#4575b4,#4575b4,#4575b4,#4575b4,#4575b4,#4575b4,#4575b4,#4575b4,#4575b4,#4575b4)"></i>
<i style="height:5px;background:linear-gradient(90deg,#d73027,#d73027,#d73027,#d73027,#d73027,#d73027,#d73027,#d83429,#df4432,#e5533a,#eb5f40,#ee6745,#f1784e,#f5935d,#f9ab6b,#fbbe83,#fdd19a,#fee2b0,#ffecc6,#fff5dc,#fbfcf8,#e3f3f6,#d0ebf3,#bee0ed,#aad4e7,#95c3de,#80b0d4,#6a9bc9,#5585bd,#4676b5,#4575b4,#4575b4,#4575b4,#4575b4,#4575b4,#4575b4,#4575b4,#4575b4,#4575b4,#4575b4,#4575b4)"></i>
<i style="height:5px;background:linear-gradient(90deg,#d73027,#d73027,#d73027,#d73027,#d73027,#d73027,#d73027,#db3b2d,#e24b35,#e85a3e,#ee6744,#f07049,#f38455,#f79e63,#fab375,#fcc68c,#fdd7a1,#fee5b7,#ffeecd,#fff7e2,#f5f9f8,#ddf0f5,#cbe8f1,#b9ddec,#a4d1e5,#8fbddc,#79aad1,#6394c5,#4e7eb9,#4575b4,#4575b4,#4575b4,#4575b4,#4575b4,#4575b4,#4575b4,#4575b4,#4575b4,#4575b4,#4575b4,#4575b4)"></i>
<i style="height:5px;background:linear-gradient(90deg,#d73027,#d73027,#d73027,#d73027,#d73027,#d73027,#d73027,#de4130,#e55239,#eb6141,#f06e48,#f1784e,#f58e5a,#f9a769,#fbbb7f,#fccc94,#fedda9,#fee8be,#fff1d2,#fef8e8,#eff7f8,#d8eff5,#c6e4f0,#b3d9ea,#9ecbe3,#88b8d9,#73a4ce,#5c8dc1,#4979b6,#4575b4,#4575b4,#4575b4,#4575b4,#4575b4,#4575b4,#4575b4,#4575b4,#4575b4,#4575b4,#4575b4,#4575b4)"></i>
</div></div>
<div class="hm" style="left:1076.80px;top:533.00px;width:330.20px;height:394.50px">
<div class="hi" style="left:-10px;top:-10px;width:350.20px;filter:blur(2.5px)">
<i style="height:5px;background:linear-gradient(90deg,#d73027,#d73027,#d73027,#d73027,#d73027,#d73027,#d73027,#d73027,#d73027,#d73027,#d73027,#d73027,#d73027,#d73027,#dd3f2f,#e6533a,#ef6945,#f38354,#f7a065,#fab97d,#fccd95,#fddaa5,#fee1af,#fee5b7,#fee7bc,#fee9c1,#feebc4,#ffecc6,#ffecc7,#ffecc8,#ffecc8,#ffedc9,#ffedca,#ffeecb,#ffecc8,#fee8bd,#fee0ab,#fccf97,#faba7e,#f8a165,#f38555)"></i>
<i style="height:5px;background:linear-gradient(90deg,#d73027,#d73027,#d73027,#d73027,#d73027,#d73027,#d73027,#d73027,#d73027,#d73027,#d73027,#d73027,#d73027,#d73027,#dd3f2f,#e5533a,#ef6c47,#f48c59,#f9aa6a,#fbc186,#fdd39c,#fee0ac,#fee4b6,#fee7bc,#fee9c1,#ffebc6,#ffedc9,#ffeecb,#ffeecc,#ffefcd,#ffefcd,#ffefce,#fff0cf,#fff0d1,#ffefce,#feebc5,#fee4b4,#fdd6a0,#fbc388,#f9ac6d,#f5915c)"></i>
<i style="height:5px;background:linear-gradient(90deg,#d73027,#d73027,#d73027,#d73027,#d73027,#d73027,#d73027,#d73027,#d73027,#d73027,#d73027,#d73027,#d73027,#d73027,#dd3f2f,#e7563b,#f1784e,#f69860,#fab274,#fcc78d,#fdd8a2,#fee2b2,#fee7bb,#fee9c1,#ffebc6,#ffedca,#ffefce,#fff0d0,#fff0d1,#fff1d2,#fff1d2,#fff1d3,#fff2d4,#fff2d5,#fff1d3,#ffedcb,#fee7bc,#fedda9,#fccb92,#fab679,#f79e63)"></i>
<i style="height:5px;background:linear-gradient(90deg,#d73027,#d73027,#d73027,#d73027,#d73027,#d73027,#d73027,#d73027,#d73027,#d73027,#d73027,#d73027,#d73027,#d73027,#de4130,#eb6141,#f38455,#f8a366,#faba7d,#fccc94,#fedca8,#fee5b6,#fee9bf,#ffebc6,#ffedca,#ffefce,#fff1d2,#fff1d4,#fff2d5,#fff2d6,#fff3d6,#fff3d7,#fff3d8,#fff4d8,#fff3d6,#ffefcf,#feeac2,#fee2b1,#fdd39c,#fbbf84,#f9ab6b)"></i>
<i style="height:5px;background:linear-gradient(90deg,#d73027,#d73027,#d73027,#d73027,#d73027,#d73027,#d73027,#d73027,#d73027,#d73027,#d73027,#d73027,#d73027,#d73128,#e14934,#ef6d48,#f5905b,#f9ac6d,#fbc085,#fdd29b,#fee0ac,#fee6ba,#feeac3,#ffedc9,#ffefce,#fff1d2,#fff2d5,#fff3d7,#fff4d9,#fff4da,#fff4da,#fff5db,#fff5dc,#fff5db,#fff4d9,#fff1d2,#ffecc8,#fee6b9,#fedba5,#fcc88f,#fab577)"></i>
<i style="height:5px;background:linear-gradient(90deg,#d73027,#d73027,#d73027,#d73027,#d73027,#d73027,#d73027,#d73027,#d73027,#d73027,#d73027,#d73027,#d73027,#d93429,#e6553b,#f1794f,#f79a61,#fab477,#fcc78e,#fdd7a1,#fee2b1,#fee8bf,#ffecc7,#ffeecd,#fff1d2,#fff2d5,#fff4d9,#fff5db,#fff5dc,#fff6de,#fff6de,#fff6df,#fff6df,#fff6de,#fff5db,#fff2d6,#ffefcd,#fee9c0,#fee1ae,#fdd199,#fbbe83)"></i>
<i style="height:5px;background:linear-gradient(90deg,#d73027,#d73027,#d73027,#d73027,#d73027,#d73027,#d73027,#d73027,#d73027,#d73027,#d73027,#d73027,#d73027,#dc3b2d,#eb6041,#f38455,#f8a467,#fbbc80,#fccd95,#fedca7,#fee5b6,#feeac3,#ffeecb,#fff0d1,#fff2d5,#fff4d9,#fff5dc,#fff6de,#fff6e0,#fff7e1,#fff7e2,#fff7e2,#fff7e2,#fff7e1,#fff6de,#fff4d9,#fff1d2,#ffecc7,#fee4b6,#fdd8a2,#fcc88e)"></i>
<i style="height:5px;background:linear-gradient(90deg,#d73027,#d73027,#d73027,#d73027,#d73027,#d73027,#d73027,#d73027,#d73027,#d73027,#d73027,#d73027,#d73027,#e04532,#ef6a46,#f58e5a,#f9ad6e,#fbc388,#fdd49d,#fee0ad,#fee7bc,#ffecc8,#fff0d0,#fff2d5,#fff4d9,#fff5dd,#fff6e0,#fff7e2,#fef7e4,#fef8e5,#fef8e5,#fef8e6,#fef8e5,#fef7e4,#fff7e1,#fff6dd,#fff3d8,#ffefcd,#fee8bd,#fedfab,#fcd098)"></i>
<i style="height:5px;background:linear-gradient(90deg,#d73027,#d73027,#d73027,#d73027,#d73027,#d73027,#d73027,#d73027,#d73027,#d73027,#d73027,#d73027,#d73027,#e34e37,#f0734b,#f6975f,#fab476,#fcc990,#fddaa5,#fee4b5,#feeac2,#ffefce,#fff2d5,#fff4da,#fff6de,#fff7e1,#fef7e4,#fef8e6,#fef8e7,#fef8e8,#fef9e9,#fef9e9,#fef8e8,#fef8e7,#fef8e5,#fff7e2,#fff5dd,#fff1d3,#feebc5,#fee3b3,#fdd7a1)"></i>
<i style="height:5px;background:linear-gradient(90deg,#d73027,#d73027,#d73027,#d73027,#d73027,#d73027,#d73027,#d73027,#d73027,#d73027,#d73027,#d73027,#d83228,#e6553b,#f27a4f,#f79e63,#fab97d,#fccf97,#fee0ac,#fee7bd,#ffedca,#fff2d4,#fff5db,#fff6e0,#fef7e3,#fef8e6,#fef9e9,#fef9eb,#fdf9ec,#fdf9ec,#fdf9ed,#fdf9ed,#fdf9ec,#fdf9eb,#fef9ea,#fef8e7,#fef7e3,#fff4d9,#ffeecb,#fee7bc,#fedeaa)"></i>
<i style="height:5px;background:linear-gradient(90deg,#d73027,#d73027,#d73027,#d73027,#d73027,#d73027,#d73027,#d73027,#d73027,#d73027,#d73027,#d73027,#da382b,#e95c3f,#f38153,#f8a466,#fbbe83,#fdd49e,#fee4b5,#ffebc6,#fff0d1,#fff5db,#fef7e3,#fef8e7,#fef9ea,#fdf9ed,#fdfaf0,#fdfaf1,#fdfaf1,#fdfbf2,#fdfbf2,#fdfbf2,#fdfaf1,#fdfaf0,#fdfaef,#fdfaed,#fef9e9,#fff6de,#fff1d2,#feeac4,#fee3b3)"></i>
<i style="height:5px;background:linear-gradient(90deg,#d73027,#d73027,#d73027,#d73027,#d73027,#d73027,#d73027,#d73027,#d73027,#d73027,#d73027,#d73027,#dd3f2f,#ec6342,#f38756,#f9a869,#fbc287,#fdd9a3,#fee7bc,#ffefcf,#fff4db,#fef8e5,#fdfaef,#fdfbf3,#fcfcf6,#fbfcf8,#f9fbf8,#f7faf8,#f7faf8,#f7faf8,#f7faf8,#f8faf8,#f9fbf8,#fafbf8,#fbfbf8,#fcfcf8,#fdfaf1,#fef8e5,#fff3d8,#ffeecb,#fee7bb)"></i>
<i style="height:5px;background:linear-gradient(90deg,#d73027,#d73027,#d73027,#d73027,#d73027,#d73027,#d73027,#d73027,#d73027,#d73027,#d73027,#d73027,#e04633,#ef6946,#f48c59,#f9ac6d,#fcc58b,#fedca7,#feeac2,#fff4d9,#fef8e7,#fcfbf5,#f5f9f8,#f1f8f8,#eef7f8,#eaf6f7,#e8f5f7,#e6f4f7,#e6f4f7,#e6f4f7,#e6f4f7,#e6f4f7,#e8f5f7,#e9f5f7,#eaf6f7,#ecf6f8,#f8fbf8,#fdf9ec,#fff6df,#fff1d2,#fee9c2)"></i>
<i style="height:5px;background:linear-gradient(90deg,#d73027,#d73027,#d73027,#d73027,#d73027,#d73027,#d73027,#d73027,#d73027,#d73027,#d73027,#d73027,#e34d37,#f07049,#f5925d,#fab071,#fcc88f,#fedfab,#ffebc6,#fff7e1,#fafbf8,#eff7f8,#e4f3f7,#e1f2f6,#def1f6,#dbf0f5,#d9eff5,#d8eef5,#d7eef5,#d7eef5,#d7eef5,#d8eef5,#d9eff5,#daeff5,#dbf0f5,#ddf0f5,#eaf6f7,#fcfcf7,#fef8e7,#fff3d8,#ffecc7)"></i>
<i style="height:5px;background:linear-gradient(90deg,#d73027,#d73027,#d73027,#d73027,#d73027,#d73027,#d73027,#d73027,#d73027,#d73027,#d73027,#d83128,#e6533a,#f1754c,#f69760,#fab476,#fccc93,#fee1af,#ffedca,#fef8e8,#edf6f8,#e0f2f6,#d7eef4,#d3edf4,#d0ebf3,#cee9f2,#cbe8f1,#cae7f1,#cae7f1,#cae7f1,#cae7f1,#cae7f1,#cbe8f1,#cce8f2,#cde9f2,#d0ebf3,#def1f6,#f0f8f8,#fdfaf0,#fff6dd,#ffedcb)"></i>
<i style="height:5px;background:linear-gradient(90deg,#d73027,#d73027,#d73027,#d73027,#d73027,#d73027,#d73027,#d73027,#d73027,#d73027,#d73027,#d93529,#e7583c,#f17a4f,#f79c62,#fab77a,#fccf97,#fee3b3,#ffefcf,#fdfaf0,#e5f4f7,#d4edf4,#cbe8f1,#c6e5f0,#c4e3ef,#c1e2ee,#bfe1ee,#bee0ed,#bde0ed,#bde0ed,#bde0ed,#bde0ed,#bfe0ed,#c0e1ee,#c1e2ee,#c5e4f0,#d4edf4,#e3f3f6,#fbfcf8,#fff7e1,#ffefce)"></i>
<i style="height:5px;background:linear-gradient(90deg,#d73027,#d73027,#d73027,#d73027,#d73027,#d73027,#d73027,#d73027,#d73027,#d73027,#d73027,#da382b,#e95b3e,#f27d51,#f79e63,#faba7d,#fdd29b,#fee5b7,#fff2d4,#fbfbf8,#dff1f6,#cbe8f1,#c0e1ee,#badeec,#b8dceb,#b5dbeb,#b3d9ea,#b1d8e9,#b1d8e9,#b1d8e9,#b1d8e9,#b1d8e9,#b2d9ea,#b3daea,#b4daea,#bbdeec,#c9e7f1,#dbf0f5,#f5f9f8,#fef8e5,#fff1d2)"></i>
<i style="height:5px;background:linear-gradient(90deg,#d73027,#d73027,#d73027,#d73027,#d73027,#d73027,#d73027,#d73027,#d73027,#d73027,#d73027,#dc3c2d,#ea5e40,#f28052,#f7a065,#fbbb7f,#fdd49d,#fee6ba,#fff4da,#f4f9f8,#dbf0f5,#c6e5f0,#b5dbeb,#aed6e8,#abd5e7,#a8d3e7,#a5d1e6,#a3d0e5,#a3d0e5,#a3d0e5,#a3d0e5,#a3d0e5,#a5d1e5,#a6d2e6,#a8d3e6,#b2d9ea,#c1e2ee,#d5eef4,#eef7f8,#fef9ea,#fff2d6)"></i>
<i style="height:5px;background:linear-gradient(90deg,#d73027,#d73027,#d73027,#d73027,#d73027,#d73027,#d73027,#d73027,#d73027,#d73027,#d73027,#dd402f,#eb6141,#f38254,#f8a266,#fbbd81,#fdd59f,#fee7bd,#fff6dd,#eff7f8,#d6eef4,#c1e2ee,#add6e8,#a0cee4,#9dcbe2,#9ac8e1,#97c5e0,#95c4df,#95c3df,#95c3de,#95c3de,#95c3df,#97c5df,#98c6e0,#9ac8e1,#a8d3e7,#bcdfed,#d0ebf3,#e8f5f7,#fdfaf0,#fff4da)"></i>
<i style="height:5px;background:linear-gradient(90deg,#d73027,#d73027,#d73027,#d73027,#d73027,#d73027,#d73027,#d73027,#d73027,#d73027,#d73027,#df4331,#ed6443,#f38555,#f8a467,#fbbe83,#fdd7a1,#fee8bf,#fff7e1,#ecf6f8,#d4edf4,#bee0ed,#a8d3e7,#94c2de,#8fbedc,#8cbbda,#89b9d9,#87b7d8,#87b7d8,#87b6d8,#87b6d8,#87b7d8,#89b8d9,#8ab9d9,#8ebddb,#a1cee4,#b7dceb,#cbe8f1,#e2f2f6,#fcfcf7,#fff6df)"></i>
<i style="height:5px;background:linear-gradient(90deg,#d73027,#d73027,#d73027,#d73027,#d73027,#d73027,#d73027,#d73027,#d73027,#d73027,#d73027,#e04633,#ee6744,#f48857,#f8a668,#fbc085,#fdd8a3,#feeac2,#fef8e6,#e9f5f7,#d1ebf3,#bcdfed,#a5d1e6,#8dbcdb,#82b2d5,#7eafd4,#7bacd2,#79aad1,#79aad1,#79a9d1,#79a9d1,#79aad1,#7aabd2,#7cacd3,#86b5d7,#9ccae2,#b3d9ea,#c7e5f0,#dcf0f5,#f6faf8,#fef8e9)"></i>
<i style="height:5px;background:linear-gradient(90deg,#d73027,#d73027,#d73027,#d73027,#d73027,#d73027,#d73027,#d73027,#d73027,#d73027,#d73027,#e14733,#ee6845,#f48857,#f9a768,#fbc186,#fdd9a4,#feebc4,#fef9eb,#e6f4f7,#cfeaf2,#baddec,#a3d0e5,#8ab9d9,#75a6d0,#70a1cd,#6d9ecb,#6b9cca,#6b9cca,#6b9bca,#6b9bca,#6b9cca,#6c9dcb,#6f9fcc,#80b0d5,#97c5df,#aed6e8,#c2e3ef,#d7eef4,#eaf6f7,#fcfcf7)"></i>
<i style="height:5px;background:linear-gradient(90deg,#d73027,#d73027,#d73027,#d73027,#d73027,#d73027,#d73027,#d73027,#d73027,#d73027,#d73027,#e14834,#ee6845,#f48857,#f8a668,#fbc085,#fdd9a4,#feebc4,#fdf9ec,#e5f3f7,#cee9f2,#b8ddec,#a1cee4,#88b7d8,#6fa0cc,#6393c5,#5f90c3,#5d8dc2,#5c8dc1,#5c8dc1,#5c8dc1,#5d8dc2,#5e8ec2,#6495c6,#7babd2,#92c0dd,#a9d3e7,#bde0ed,#cfeaf3,#def1f6,#eff7f8)"></i>
<i style="height:5px;background:linear-gradient(90deg,#d73027,#d73027,#d73027,#d73027,#d73027,#d73027,#d73027,#d73027,#d73027,#d73027,#d73027,#e14834,#ee6745,#f48757,#f8a667,#fbbf84,#fdd8a3,#feeac3,#fdf9ec,#e5f3f7,#cee9f2,#b8ddec,#a0cee4,#88b7d8,#6e9fcc,#5888bf,#5181bb,#4f7fba,#4e7eb9,#4e7eb9,#4e7eb9,#4e7fb9,#5080ba,#5e8fc2,#76a6d0,#8dbcdb,#a3d0e5,#b7dceb,#c6e5f0,#d4edf4,#e2f2f6)"></i>
<i style="height:5px;background:linear-gradient(90deg,#d73027,#d73027,#d73027,#d73027,#d73027,#d73027,#d73027,#d73027,#d73027,#d73027,#d73027,#e14834,#ee6745,#f48756,#f8a567,#fbbf83,#fdd8a2,#feeac3,#fdf9ec,#e5f3f7,#cee9f2,#b8ddec,#a1cee4,#88b7d8,#6e9fcc,#5585bd,#4676b4,#4575b4,#4575b4,#4575b4,#4575b4,#4575b4,#4575b4,#5989bf,#70a1cd,#87b6d8,#9cc9e2,#aed7e8,#bcdfed,#c9e7f1,#d7eef4)"></i>
<i style="height:5px;background:linear-gradient(90deg,#d73027,#d73027,#d73027,#d73027,#d73027,#d73027,#d73027,#d73027,#d73027,#d73027,#d73027,#e14834,#ee6845,#f48756,#f8a567,#fbbe83,#fdd8a2,#feeac3,#fdf9eb,#e5f4f7,#cfeaf2,#b9ddec,#a2cfe5,#8ab9d9,#71a2cd,#5788bf,#4575b4,#4575b4,#4575b4,#4575b4,#4575b4,#4575b4,#4575b4,#5383bc,#6a9bc9,#7fafd4,#93c1dd,#a4d0e5,#b2d9ea,#c0e1ee,#cde9f2)"></i>
<i style="height:5px;background:linear-gradient(90deg,#d73027,#d73027,#d73027,#d73027,#d73027,#d73027,#d73027,#d73027,#d73027,#d73027,#d73027,#e14834,#ee6744,#f38656,#f8a467,#fbbd82,#fdd6a0,#fee9c0,#fef8e7,#e7f4f7,#d1ebf3,#bcdfed,#a5d1e6,#8cbbda,#74a5cf,#5a8bc0,#4575b4,#4575b4,#4575b4,#4575b4,#4575b4,#4575b4,#4575b4,#4d7db9,#6293c5,#77a8d0,#89b8d9,#99c7e0,#a8d3e6,#b6dbeb,#c3e3ef)"></i>
<i style="height:5px;background:linear-gradient(90deg,#d73027,#d73027,#d73027,#d73027,#d73027,#d73027,#d73027,#d73027,#d73027,#d73027,#d73027,#e04733,#ed6644,#f38455,#f8a265,#fbbb7f,#fdd49d,#fee7bd,#fff7e2,#ebf6f7,#d4edf4,#bee0ed,#a8d3e7,#90bedc,#77a8d0,#5e8fc2,#4777b5,#4575b4,#4575b4,#4575b4,#4575b4,#4575b4,#4575b4,#4777b5,#5a8bc0,#6d9ecb,#7fafd4,#8ebddb,#9dcae2,#acd5e8,#b9ddec)"></i>
<i style="height:5px;background:linear-gradient(90deg,#d73027,#d73027,#d73027,#d73027,#d73027,#d73027,#d73027,#d73027,#d73027,#d73027,#d73027,#df4431,#ec6342,#f38253,#f79f64,#fab97d,#fdd29b,#fee6b9,#fff6dd,#eef7f8,#d6eef4,#c1e2ee,#abd5e8,#93c2de,#7bacd2,#6393c5,#4a7ab7,#4575b4,#4575b4,#4575b4,#4575b4,#4575b4,#4575b4,#4575b4,#5181bb,#6394c5,#73a4cf,#83b3d6,#92c0dd,#a1cee4,#afd7e9)"></i>
<i style="height:5px;background:linear-gradient(90deg,#d73027,#d73027,#d73027,#d73027,#d73027,#d73027,#d73027,#d73027,#d73027,#d73027,#d73027,#de4030,#eb6041,#f27f52,#f79d63,#fab77a,#fcd098,#fee4b6,#fff4d9,#f2f8f8,#d9eff5,#c4e4ef,#afd7e9,#97c5e0,#7fb0d4,#6798c7,#4e7fb9,#4575b4,#4575b4,#4575b4,#4575b4,#4575b4,#4575b4,#4575b4,#4878b6,#5989bf,#6899c8,#78a8d1,#87b6d8,#96c4df,#a5d1e6)"></i>
<i style="height:5px;background:linear-gradient(90deg,#d73027,#d73027,#d73027,#d73027,#d73027,#d73027,#d73027,#d73027,#d73027,#d73027,#d73027,#dd3e2e,#ea5e3f,#f27c50,#f79b62,#fab578,#fcce95,#fee3b3,#fff1d4,#f6faf8,#dcf0f5,#c8e6f0,#b3daea,#9cc9e2,#84b3d6,#6b9cca,#5283bc,#4575b4,#4575b4,#4575b4,#4575b4,#4575b4,#4575b4,#4575b4,#4575b4,#4d7eb9,#5d8dc2,#6c9dcb,#7cacd3,#8bbada,#9ac7e1)"></i>
<i style="height:5px;background:linear-gradient(90deg,#d73027,#d73027,#d73027,#d73027,#d73027,#d73027,#d73027,#d73027,#d73027,#d73027,#d73027,#dc3b2d,#e95b3e,#f27a4f,#f69960,#fab376,#fccb92,#fee1af,#ffefce,#fcfcf8,#e0f2f6,#cce8f1,#b7dceb,#a0cde4,#88b7d8,#6fa0cc,#5686be,#4575b4,#4575b4,#4575b4,#4575b4,#4575b4,#4575b4,#4575b4,#4575b4,#4575b4,#5282bb,#6192c4,#71a2cd,#80b0d5,#8ebddb)"></i>
<i style="height:5px;background:linear-gradient(90deg,#d73027,#d73027,#d73027,#d73027,#d73027,#d73027,#d73027,#d73027,#d73027,#d73027,#d73127,#db392c,#e8593d,#f1774e,#f6965f,#fab172,#fcc88f,#fedfab,#ffedc9,#fdfaf0,#e4f3f7,#cfeaf3,#badeec,#a3d0e5,#8bbada,#72a3ce,#5889bf,#4575b4,#4575b4,#4575b4,#4575b4,#4575b4,#4575b4,#4575b4,#4575b4,#4575b4,#4878b5,#5686be,#6596c7,#75a6cf,#82b2d6)"></i>
<i style="height:5px;background:linear-gradient(90deg,#d73027,#d73027,#d73027,#d73027,#d73027,#d73027,#d73027,#d73027,#d73027,#d73027,#d83228,#da382b,#e6553b,#f1744c,#f5935d,#f9ae6f,#fcc58b,#fedca7,#feebc5,#fef8e8,#e8f5f7,#d2ecf3,#bddfed,#a6d2e6,#8dbcdb,#74a5cf,#5a8bc0,#4575b4,#4575b4,#4575b4,#4575b4,#4575b4,#4575b4,#4575b4,#4575b4,#4575b4,#4575b4,#4b7bb7,#5a8ac0,#699ac9,#76a7d0)"></i>
<i style="height:5px;background:linear-gradient(90deg,#d73027,#d73027,#d73027,#d73027,#d73027,#d73027,#d73027,#d73027,#d73027,#d73027,#d83328,#da382b,#e55239,#f0714a,#f5905b,#f9ac6c,#fbc388,#fddaa4,#fee9c1,#fef7e4,#eaf6f7,#d4edf4,#bee0ed,#a7d3e6,#8fbedc,#76a7d0,#5c8dc1,#4676b5,#4575b4,#4575b4,#4575b4,#4575b4,#4575b4,#4575b4,#4575b4,#4575b4,#4575b4,#4575b4,#4f7fba,#5d8ec2,#699ac9)"></i>
<i style="height:5px;background:linear-gradient(90deg,#d73027,#d73027,#d73027,#d73027,#d73027,#d73027,#d73027,#d73027,#d73027,#d73027,#d93429,#db392c,#e44f37,#f06e48,#f58d5a,#f9aa6b,#fbc287,#fdd9a3,#fee9c0,#fff7e2,#ecf6f8,#d5edf4,#c0e1ee,#a9d4e7,#91bfdc,#77a8d1,#5e8ec2,#4777b5,#4575b4,#4575b4,#4575b4,#4575b4,#4575b4,#4575b4,#4575b4,#4575b4,#4575b4,#4575b4,#4676b5,#5181bb,#5c8cc1)"></i>
<i style="height:5px;background:linear-gradient(90deg,#d73027,#d73027,#d73027,#d73027,#d73027,#d73027,#d73027,#d73027,#d73027,#d73027,#d9352a,#db3a2c,#e34d37,#f06d48,#f48d5a,#f9ab6b,#fbc287,#fdd8a3,#fee9bf,#fff6e0,#edf7f8,#d6eef4,#c1e2ee,#abd5e7,#92c1dd,#79aad1,#6090c3,#4878b6,#4575b4,#4575b4,#4575b4,#4575b4,#4575b4,#4575b4,#4575b4,#4575b4,#4575b4,#4575b4,#4575b4,#4777b5,#4f7fba)"></i>
<i style="height:5px;background:linear-gradient(90deg,#d73027,#d73027,#d73027,#d73027,#d73027,#d73027,#d73027,#d73027,#d73027,#d83228,#da382b,#dc3d2e,#e34e37,#f06e48,#f58e5a,#f9ab6b,#fbc287,#fdd8a2,#fee8bf,#fff6de,#eff7f8,#d7eef4,#c3e3ef,#acd6e8,#94c2de,#7babd2,#6192c4,#4979b6,#4575b4,#4575b4,#4575b4,#4575b4,#4575b4,#4575b4,#4575b4,#4575b4,#4575b4,#4575b4,#4575b4,#4575b4,#4575b4)"></i>
<i style="height:5px;background:linear-gradient(90deg,#d73027,#d73027,#d73027,#d73027,#d73027,#d73027,#d73027,#d73027,#d73027,#d93429,#db3a2c,#dd402f,#e44f38,#f07049,#f58f5b,#f9ac6c,#fbc288,#fdd8a3,#fee8bf,#fff6dd,#f0f8f8,#d8eff5,#c3e3ef,#add6e8,#95c3de,#7cacd3,#6293c5,#4a7ab7,#4575b4,#4575b4,#4575b4,#4575b4,#4575b4,#4575b4,#4575b4,#4575b4,#4575b4,#4575b4,#4575b4,#4575b4,#4575b4)"></i>
<i style="height:5px;background:linear-gradient(90deg,#d73027,#d73027,#d73027,#d73027,#d73027,#d73027,#d73027,#d73027,#d73027,#da372b,#dd3d2e,#df4331,#e55239,#f0724a,#f5915c,#f9ad6e,#fbc389,#fdd9a3,#fee8bf,#fff5dd,#f1f8f8,#d9eff5,#c4e4ef,#aed7e8,#96c4df,#7dadd3,#6394c5,#4a7ab7,#4575b4,#4575b4,#4575b4,#4575b4,#4575b4,#4575b4,#4575b4,#4575b4,#4575b4,#4575b4,#4575b4,#4575b4,#4575b4)"></i>
<i style="height:5px;background:linear-gradient(90deg,#d73027,#d73027,#d73027,#d73027,#d73027,#d73027,#d73027,#d73027,#d83328,#db3a2c,#de4130,#e04733,#e6553b,#f1754c,#f5935d,#f9af70,#fbc48a,#fddaa4,#fee8bf,#fff5dc,#f2f8f8,#d9eff5,#c5e4ef,#afd7e9,#97c5df,#7eaed4,#6495c6,#4b7bb8,#4575b4,#4575b4,#4575b4,#4575b4,#4575b4,#4575b4,#4575b4,#4575b4,#4575b4,#4575b4,#4575b4,#4575b4,#4575b4)"></i>
<i style="height:5px;background:linear-gradient(90deg,#d73027,#d73027,#d73027,#d73027,#d73027,#d73027,#d73027,#d73027,#d9362a,#dd3e2e,#e04532,#e24b35,#e8583c,#f1784e,#f6955e,#fab072,#fcc68c,#fddba5,#fee9c0,#fff5dc,#f3f9f8,#daeff5,#c6e5f0,#b0d8e9,#98c6e0,#7fafd4,#6596c7,#4c7cb8,#4575b4,#4575b4,#4575b4,#4575b4,#4575b4,#4575b4,#4575b4,#4575b4,#4575b4,#4575b4,#4575b4,#4575b4,#4575b4)"></i>
<i style="height:5px;background:linear-gradient(90deg,#d73027,#d73027,#d73027,#d73027,#d73027,#d73027,#d73027,#d93429,#db392c,#de4230,#e14934,#e44f38,#e95c3e,#f27b50,#f69860,#fab274,#fcc78d,#fedba6,#fee9c0,#fff5dc,#f3f9f8,#dbf0f5,#c7e5f0,#b1d8e9,#99c7e0,#80b0d5,#6697c7,#4d7db9,#4575b4,#4575b4,#4575b4,#4575b4,#4575b4,#4575b4,#4575b4,#4575b4,#4575b4,#4575b4,#4575b4,#4575b4,#4575b4)"></i>
<i style="height:5px;background:linear-gradient(90deg,#d73027,#d73027,#d73027,#d73027,#d73027,#d73027,#d83329,#db392c,#dd3e2e,#e04633,#e34e37,#e6543a,#eb6041,#f27f52,#f79b62,#fab476,#fcc98f,#fedda8,#fee9c1,#fff5dc,#f4f9f8,#dcf0f5,#c8e6f0,#b2d9ea,#9ac8e1,#81b1d5,#6898c8,#4e7eb9,#4575b4,#4575b4,#4575b4,#4575b4,#4575b4,#4575b4,#4575b4,#4575b4,#4575b4,#4575b4,#4575b4,#4575b4,#4575b4)"></i>
<i style="height:5px;background:linear-gradient(90deg,#d73027,#d73027,#d73027,#d73027,#d73027,#d83228,#da382b,#dd3e2e,#df4331,#e24b35,#e55339,#e8593d,#ed6443,#f38354,#f79e63,#fab679,#fcca91,#fedea9,#feeac2,#fff5dc,#f5faf8,#dcf0f5,#c9e6f1,#b3daea,#9bc9e1,#82b2d6,#699ac9,#4f7fba,#4676b4,#4575b4,#4575b4,#4575b4,#4575b4,#4575b4,#4575b4,#4575b4,#4575b4,#4575b4,#4575b4,#4575b4,#4575b4)"></i>
<i style="height:5px;background:linear-gradient(90deg,#df4432,#dd3f2f,#da382b,#d73027,#d73027,#da362a,#dc3d2e,#df4331,#e14934,#e45038,#e7583c,#ea5f40,#ef6946,#f48756,#f8a266,#fab97c,#fccc94,#fedfab,#feeac3,#fff5dc,#f6faf8,#ddf0f5,#c9e7f1,#b4daea,#9ccae2,#83b3d6,#6a9bc9,#5081bb,#4676b5,#4575b4,#4575b4,#4575b4,#4575b4,#4575b4,#4575b4,#4575b4,#4575b4,#4575b4,#4575b4,#4575b4,#4575b4)"></i>
<i style="height:5px;background:linear-gradient(90deg,#e7573c,#e5533a,#e24b35,#de402f,#da372b,#dc3b2d,#df4331,#e24935,#e44f38,#e6553b,#ea5d3f,#ed6443,#f06f49,#f48c59,#f8a768,#fbbc80,#fccf97,#fee1ad,#feebc4,#fff5dc,#f7faf8,#def1f6,#cae7f1,#b5dbeb,#9dcbe2,#85b4d7,#6b9cca,#5282bb,#4777b5,#4575b4,#4575b4,#4575b4,#4575b4,#4575b4,#4575b4,#4575b4,#4575b4,#4575b4,#4575b4,#4575b4,#4575b4)"></i>
<i style="height:5px;background:linear-gradient(90deg,#ef6a46,#ed6543,#e95c3f,#e55239,#e04733,#de4231,#e14834,#e45038,#e7563b,#e95b3e,#ec6342,#ef6a46,#f1754c,#f5915c,#f9ab6c,#fbbf84,#fdd19a,#fee2b0,#ffebc6,#fff5dc,#f8faf8,#dff1f6,#cbe8f1,#b6dbeb,#9ecce3,#86b5d7,#6c9dcb,#5383bc,#4778b5,#4575b4,#4575b4,#4575b4,#4575b4,#4575b4,#4575b4,#4575b4,#4575b4,#4575b4,#4575b4,#4575b4,#4575b4)"></i>
<i style="height:5px;background:linear-gradient(90deg,#f27e52,#f1774e,#ef6d48,#ec6342,#e8593d,#e45038,#e44f38,#e7563b,#ea5d3f,#ec6242,#ee6945,#f0714a,#f27b50,#f6975f,#faaf71,#fbc389,#fdd49e,#fee3b2,#ffecc7,#fff5dd,#f8fbf8,#dff1f6,#cce8f2,#b7dceb,#9fcde3,#87b6d8,#6e9ecb,#5484bd,#4878b6,#4575b4,#4575b4,#4575b4,#4575b4,#4575b4,#4575b4,#4575b4,#4575b4,#4575b4,#4575b4,#4575b4,#4575b4)"></i>
<i style="height:5px;background:linear-gradient(90deg,#f5915c,#f48958,#f27e51,#f0734b,#ef6b46,#ec6242,#e95b3e,#ea5d3f,#ec6443,#ef6946,#f06f49,#f1774d,#f38253,#f79d62,#fab476,#fcc78d,#fdd7a1,#fee4b5,#ffedc9,#fff6dd,#f9fbf8,#e0f2f6,#cde9f2,#b8ddeb,#a0cde4,#88b7d8,#6f9fcc,#5585bd,#4979b6,#4575b4,#4575b4,#4575b4,#4575b4,#4575b4,#4575b4,#4575b4,#4575b4,#4575b4,#4575b4,#4575b4,#4575b4)"></i>
<i style="height:5px;background:linear-gradient(90deg,#f8a366,#f69a61,#f58f5b,#f38555,#f27d50,#f1754c,#ef6d48,#ee6744,#ef6b47,#f0714a,#f1764d,#f27e51,#f48857,#f8a266,#fab87b,#fcca92,#fddaa5,#fee5b8,#ffedca,#fff6de,#f9fbf8,#e1f2f6,#cde9f2,#b9ddec,#a1cee4,#89b8d9,#6fa0cc,#5686be,#4979b6,#4575b4,#4575b4,#4575b4,#4575b4,#4575b4,#4575b4,#4575b4,#4575b4,#4575b4,#4575b4,#4575b4,#4575b4)"></i>
<i style="height:5px;background:linear-gradient(90deg,#fab375,#f9aa6a,#f79f64,#f6965f,#f58e5a,#f48857,#f28053,#f1784e,#f1744c,#f1794f,#f27e51,#f38555,#f58e5b,#f9a869,#fbbc80,#fcce96,#fedda8,#fee6ba,#ffeecc,#fff6de,#fafbf8,#e1f2f6,#ceeaf2,#baddec,#a2cfe4,#89b9d9,#70a1cd,#5787be,#4a7ab7,#4676b4,#4575b4,#4575b4,#4575b4,#4575b4,#4575b4,#4575b4,#4575b4,#4575b4,#4575b4,#4575b4,#4575b4)"></i>
<i style="height:5px;background:linear-gradient(90deg,#fbc287,#fab77a,#f9ad6e,#f8a668,#f7a064,#f69961,#f5925d,#f48a58,#f38254,#f38253,#f38656,#f48b59,#f6955e,#f9ac6d,#fbc085,#fdd19a,#fedfab,#fee7bd,#ffefcd,#fff6df,#fafbf8,#e2f2f6,#cfeaf2,#badeec,#a3d0e5,#8ab9d9,#71a2cd,#5788bf,#4a7ab7,#4676b5,#4575b4,#4575b4,#4575b4,#4575b4,#4575b4,#4575b4,#4575b4,#4575b4,#4575b4,#4575b4,#4575b4)"></i>
<i style="height:5px;background:linear-gradient(90deg,#fdd098,#fbc48a,#fbbb7e,#fab476,#f9af70,#f9aa6a,#f8a366,#f79c62,#f6945d,#f48c59,#f58e5a,#f5925c,#f79a61,#fab072,#fbc389,#fdd49d,#fee1ae,#fee8be,#ffefce,#fff6df,#fbfbf8,#e2f2f6,#cfeaf3,#bbdeec,#a3d0e5,#8bbada,#72a3ce,#5889bf,#4a7bb7,#4676b5,#4575b4,#4575b4,#4575b4,#4575b4,#4575b4,#4575b4,#4575b4,#4575b4,#4575b4,#4575b4,#4575b4)"></i>
<i style="height:5px;background:linear-gradient(90deg,#fedda8,#fdd19a,#fcc88e,#fbc186,#fbbc80,#fab77a,#fab273,#f9ac6c,#f8a567,#f79c62,#f6965f,#f69860,#f7a064,#fab476,#fcc68c,#fdd69f,#fee2b0,#fee9c0,#ffefcf,#fff6e0,#fbfcf8,#e3f3f6,#d0ebf3,#bcdfed,#a4d1e5,#8cbbda,#73a4ce,#5989bf,#4b7bb7,#4777b5,#4575b4,#4575b4,#4575b4,#4575b4,#4575b4,#4575b4,#4575b4,#4575b4,#4575b4,#4575b4,#4575b4)"></i>
<i style="height:5px;background:linear-gradient(90deg,#fee6b9,#fedea9,#fdd49e,#fcce95,#fcc88f,#fbc389,#fbbe82,#fab87b,#fab274,#f9ab6c,#f8a366,#f79f64,#f8a567,#fab77a,#fcc88f,#fdd7a1,#fee2b1,#fee9c1,#fff0d0,#fff6e0,#fbfcf8,#e3f3f6,#d0ebf3,#bcdfed,#a5d1e6,#8cbbda,#73a4cf,#5a8ac0,#4b7bb8,#4777b5,#4575b4,#4575b4,#4575b4,#4575b4,#4575b4,#4575b4,#4575b4,#4575b4,#4575b4,#4575b4,#4575b4)"></i>
<i style="height:5px;background:linear-gradient(90deg,#ffeecb,#fee6b9,#fee0ac,#fdd9a4,#fdd49d,#fcce96,#fcc990,#fbc48a,#fbbe82,#fab87b,#fab071,#f9a969,#f9a96a,#fab97d,#fcca91,#fdd8a2,#fee3b2,#fee9c1,#fff0d0,#fff6e0,#fcfcf8,#e4f3f6,#d1ebf3,#bddfed,#a5d1e6,#8dbcdb,#74a5cf,#5a8bc0,#4c7cb8,#4777b5,#4575b4,#4575b4,#4575b4,#4575b4,#4575b4,#4575b4,#4575b4,#4575b4,#4575b4,#4575b4,#4575b4)"></i>
<i style="height:5px;background:linear-gradient(90deg,#fff6dd,#ffedca,#fee7bc,#fee2b2,#fedeaa,#fdd8a3,#fdd39c,#fcce96,#fcc98f,#fbc288,#fbbc7f,#fab476,#f9af70,#fbbd81,#fccc93,#fdd9a4,#fee3b3,#feeac2,#fff0d1,#fff7e1,#fbfcf8,#e4f3f6,#d1ebf3,#bddfed,#a6d2e6,#8dbcdb,#74a5cf,#5b8bc1,#4c7cb8,#4878b5,#4575b4,#4575b4,#4575b4,#4575b4,#4575b4,#4575b4,#4575b4,#4575b4,#4575b4,#4575b4,#4575b4)"></i>
<i style="height:5px;background:linear-gradient(90deg,#fcfbf4,#fff4da,#ffedca,#fee8bf,#fee4b6,#fee1ae,#fedca7,#fdd7a2,#fdd29b,#fccc94,#fcc68c,#fbbe82,#fab97c,#fbc085,#fcce96,#fedba6,#fee4b5,#feeac4,#fff1d2,#fff7e2,#fafbf8,#e2f3f6,#d0ebf3,#bcdfed,#a5d1e6,#8dbcdb,#74a5cf,#5a8bc0,#4c7cb8,#4878b6,#4575b4,#4575b4,#4575b4,#4575b4,#4575b4,#4575b4,#4575b4,#4575b4,#4575b4,#4575b4,#4575b4)"></i>
<i style="height:5px;background:linear-gradient(90deg,#f4f9f8,#fdfaee,#fff3d8,#ffeecb,#fee9c1,#fee6b9,#fee3b2,#fee0ac,#fedba6,#fdd59f,#fcce97,#fcc78e,#fbc389,#fcc58b,#fcd098,#fedca7,#fee4b6,#feebc5,#fff1d4,#fef7e4,#f8fbf8,#e1f2f6,#cfeaf2,#bbdeec,#a3d0e5,#8bbada,#72a3ce,#5989bf,#4c7cb8,#4878b6,#4575b4,#4575b4,#4575b4,#4575b4,#4575b4,#4575b4,#4575b4,#4575b4,#4575b4,#4575b4,#4575b4)"></i>
<i style="height:5px;background:linear-gradient(90deg,#ecf6f8,#f7faf8,#fef8e8,#fff3d7,#ffeecc,#feeac4,#fee7bc,#fee4b6,#fee1af,#fedda8,#fdd7a0,#fcd098,#fccc94,#fccd94,#fdd39d,#fedea9,#fee5b7,#ffecc6,#fff2d5,#fef8e5,#f7faf8,#e0f1f6,#cee9f2,#b9ddec,#a2cfe4,#8ab9d9,#71a2cd,#5888bf,#4c7cb8,#4878b6,#4575b4,#4575b4,#4575b4,#4575b4,#4575b4,#4575b4,#4575b4,#4575b4,#4575b4,#4575b4,#4575b4)"></i>
<i style="height:5px;background:linear-gradient(90deg,#e6f4f7,#eff7f8,#fbfcf8,#fef7e3,#fff3d6,#ffefcd,#ffebc6,#fee8bf,#fee5b8,#fee2b1,#fedea9,#fdd8a2,#fdd59e,#fdd59e,#fdd9a3,#fee0ad,#fee6ba,#ffecc8,#fff3d6,#fef8e7,#f5f9f8,#def1f6,#cce9f2,#b8dceb,#a0cde4,#88b7d8,#6fa0cc,#5686be,#4c7cb8,#4878b6,#4575b4,#4575b4,#4575b4,#4575b4,#4575b4,#4575b4,#4575b4,#4575b4,#4575b4,#4575b4,#4575b4)"></i>
<i style="height:5px;background:linear-gradient(90deg,#e1f2f6,#e8f5f7,#f3f9f8,#fdfbf3,#fff7e1,#fff2d6,#ffefce,#ffecc7,#fee9c1,#fee6ba,#fee2b2,#fee0ac,#fedca8,#fedca7,#fedfaa,#fee3b2,#fee8be,#ffeecb,#fff4d8,#fef8e9,#f3f9f8,#ddf0f5,#cbe8f1,#b7dceb,#9fcce3,#86b6d8,#6d9ecb,#5585bd,#4c7cb8,#4878b6,#4575b4,#4575b4,#4575b4,#4575b4,#4575b4,#4575b4,#4575b4,#4575b4,#4575b4,#4575b4,#4575b4)"></i>
<i style="height:5px;background:linear-gradient(90deg,#ddf0f5,#e3f3f6,#ecf6f8,#f6faf8,#fdfaed,#fff6df,#fff2d6,#ffefcf,#ffecc8,#fee9c1,#fee6ba,#fee4b5,#fee2b1,#fee2b0,#fee3b2,#fee6b9,#feeac3,#fff0d0,#fff5dd,#fdf9ed,#f0f8f8,#dcf0f5,#cae7f1,#b5dbea,#9dcae2,#85b4d7,#6c9dca,#5384bc,#4c7cb8,#4878b5,#4575b4,#4575b4,#4575b4,#4575b4,#4575b4,#4575b4,#4575b4,#4575b4,#4575b4,#4575b4,#4575b4)"></i>
<i style="height:5px;background:linear-gradient(90deg,#d9eff5,#dff1f6,#e6f4f7,#eff7f8,#fafbf8,#fef9e9,#fff6de,#fff3d6,#fff0cf,#ffecc8,#fee9c2,#fee8bd,#fee6ba,#fee6b9,#fee6ba,#fee9c1,#ffedc9,#fff2d4,#fff7e2,#fcfbf5,#eaf6f7,#d9eff5,#c8e6f0,#b3d9ea,#9bc9e1,#83b3d6,#6a9bc9,#5283bc,#4c7cb8,#4778b5,#4575b4,#4575b4,#4575b4,#4575b4,#4575b4,#4575b4,#4575b4,#4575b4,#4575b4,#4575b4,#4575b4)"></i>
<i style="height:5px;background:linear-gradient(90deg,#d5edf4,#dbf0f5,#e2f2f6,#e9f5f7,#f2f8f8,#fcfbf6,#fef8e7,#fff6dd,#fff2d6,#ffefcf,#ffedc9,#ffebc6,#feeac2,#feeac2,#feeac3,#ffecc8,#fff0d0,#fff4da,#fef8e7,#f8fbf8,#e4f3f7,#d5edf4,#c4e3ef,#b0d7e9,#98c6e0,#81b1d5,#6899c8,#5182bb,#4b7cb8,#4777b5,#4575b4,#4575b4,#4575b4,#4575b4,#4575b4,#4575b4,#4575b4,#4575b4,#4575b4,#4575b4,#4575b4)"></i>
<i style="height:5px;background:linear-gradient(90deg,#cfeaf2,#d7eef4,#def1f5,#e4f3f6,#ebf6f8,#f6faf8,#fdfbf2,#fef8e5,#fff5dc,#fff2d5,#fff0d1,#ffefce,#ffedcb,#ffeecb,#ffeecb,#fff0cf,#fff3d8,#fff7e1,#fdfaee,#f1f8f8,#dff1f6,#d0ebf3,#bfe0ed,#aad4e7,#94c2de,#7dadd3,#6595c6,#5081ba,#4b7bb8,#4777b5,#4575b4,#4575b4,#4575b4,#4575b4,#4575b4,#4575b4,#4575b4,#4575b4,#4575b4,#4575b4,#4575b4)"></i>
<i style="height:5px;background:linear-gradient(90deg,#c9e6f0,#d2ecf4,#daeff5,#e0f2f6,#e6f4f7,#eef7f8,#f8fbf8,#fdfaee,#fef7e4,#fff5dc,#fff4d9,#fff2d5,#fff1d3,#fff1d3,#fff1d4,#fff3d7,#fff6df,#fef9e9,#fcfcf8,#ebf6f7,#daeff5,#cbe8f1,#b9ddec,#a4d1e5,#8fbddc,#78a9d1,#6091c4,#4f80ba,#4b7bb7,#4777b5,#4575b4,#4575b4,#4575b4,#4575b4,#4575b4,#4575b4,#4575b4,#4575b4,#4575b4,#4575b4,#4575b4)"></i>
<i style="height:5px;background:linear-gradient(90deg,#c2e2ef,#cce8f2,#d5eef4,#dcf0f5,#e2f2f6,#e9f5f7,#f1f8f8,#fbfcf8,#fdf9ec,#fef7e4,#fff6e0,#fff5dd,#fff4da,#fff5db,#fff5dc,#fff6de,#fef8e7,#fcfbf4,#f2f8f8,#e4f3f7,#d6eef4,#c6e5f0,#b3d9ea,#9dcbe2,#88b8d9,#72a3ce,#5b8cc1,#4f7fba,#4b7bb7,#4777b5,#4575b4,#4575b4,#4575b4,#4575b4,#4575b4,#4575b4,#4575b4,#4575b4,#4575b4,#4575b4,#4575b4)"></i>
<i style="height:5px;background:linear-gradient(90deg,#bcdfed,#c6e5f0,#d0ebf3,#d8eff5,#def1f6,#e4f3f6,#ebf6f8,#f4f9f8,#fcfbf6,#fdfaed,#fef9e9,#fef8e5,#fff7e2,#fef7e4,#fef8e5,#fef8e7,#fdfaf0,#f6faf8,#e9f5f7,#ddf1f5,#d1ecf3,#c0e1ee,#acd5e8,#97c5df,#82b1d5,#6c9dca,#5687be,#4e7fb9,#4a7ab7,#4676b5,#4575b4,#4575b4,#4575b4,#4575b4,#4575b4,#4575b4,#4575b4,#4575b4,#4575b4,#4575b4,#4575b4)"></i>
<i style="height:5px;background:linear-gradient(90deg,#b5dbea,#bfe1ee,#cae7f1,#d3edf4,#daeff5,#e0f2f6,#e6f4f7,#edf7f8,#f6faf8,#fbfcf8,#fdfbf3,#fdfaee,#fdf9ec,#fdfaed,#fdfaf0,#fdfbf2,#f9fbf8,#edf6f8,#e1f2f6,#d7eef5,#cbe8f1,#badeec,#a5d1e6,#90bfdc,#7babd2,#6596c6,#5383bc,#4e7eb9,#4a7ab7,#4676b4,#4575b4,#4575b4,#4575b4,#4575b4,#4575b4,#4575b4,#4575b4,#4575b4,#4575b4,#4575b4,#4575b4)"></i>
<i style="height:5px;background:linear-gradient(90deg,#aed6e8,#b9ddec,#c3e3ef,#cde9f2,#d6eef4,#dcf0f5,#e2f3f6,#e8f5f7,#eff7f8,#f3f9f8,#f7faf8,#fbfcf8,#fcfcf7,#fbfcf8,#f9fbf8,#f7faf8,#f1f8f8,#e6f4f7,#dcf0f5,#d1ebf3,#c3e3ef,#b3d9ea,#9fcce3,#8ab9d9,#74a5cf,#5e8fc3,#5282bb,#4d7db9,#4979b6,#4575b4,#4575b4,#4575b4,#4575b4,#4575b4,#4575b4,#4575b4,#4575b4,#4575b4,#4575b4,#4575b4,#4575b4)"></i>
<i style="height:5px;background:linear-gradient(90deg,#a7d2e6,#b2d9e9,#bcdfed,#c7e5f0,#d0ebf3,#d8eff5,#dff1f6,#e5f3f7,#e9f5f7,#edf6f8,#f0f8f8,#f4f9f8,#f5f9f8,#f3f9f8,#f1f8f8,#eef7f8,#e9f5f7,#e0f2f6,#d6eef4,#c9e7f1,#badeec,#aad4e7,#97c5df,#83b3d6,#6d9ecb,#5989bf,#5181bb,#4d7db8,#4979b6,#4575b4,#4575b4,#4575b4,#4575b4,#4575b4,#4575b4,#4575b4,#4575b4,#4575b4,#4575b4,#4575b4,#4575b4)"></i>
<i style="height:5px;background:linear-gradient(90deg,#9fcde3,#aad4e7,#b5dbeb,#c0e1ee,#cae7f1,#d4edf4,#dbf0f5,#e1f2f6,#e5f3f7,#e8f5f7,#ebf6f8,#eef7f8,#eff7f8,#edf7f8,#ebf6f7,#e8f5f7,#e3f3f6,#dbf0f5,#d0ebf3,#c1e2ee,#b1d8e9,#a0cde4,#8fbedc,#7cacd3,#6797c7,#5586bd,#5081bb,#4c7cb8,#4878b6,#4575b4,#4575b4,#4575b4,#4575b4,#4575b4,#4575b4,#4575b4,#4575b4,#4575b4,#4575b4,#4575b4,#4575b4)"></i>
<i style="height:5px;background:linear-gradient(90deg,#98c6e0,#a3d0e5,#aed7e8,#b9ddec,#c3e3ef,#cee9f2,#d7eef4,#ddf0f5,#e1f2f6,#e4f3f6,#e7f4f7,#eaf5f7,#ebf6f7,#e9f5f7,#e7f4f7,#e3f3f6,#def1f6,#d6eef4,#c9e6f1,#b8ddeb,#a7d2e6,#96c4df,#86b5d7,#73a4cf,#6090c3,#5485bd,#5080ba,#4c7cb8,#4777b5,#4575b4,#4575b4,#4575b4,#4575b4,#4575b4,#4575b4,#4575b4,#4575b4,#4575b4,#4575b4,#4575b4,#4575b4)"></i>
<i style="height:5px;background:linear-gradient(90deg,#93c1dd,#9ccae2,#a7d2e6,#b2d9ea,#bddfed,#c7e5f0,#d1ebf3,#d8eff5,#dcf0f5,#e0f2f6,#e4f3f6,#e7f4f7,#e8f5f7,#e6f4f7,#e3f3f6,#dff1f6,#daeff5,#d1ebf3,#c1e2ee,#afd7e9,#9dcbe2,#8cbbda,#7cacd3,#6b9cca,#5a8ac0,#5484bc,#4f80ba,#4b7bb7,#4777b5,#4575b4,#4575b4,#4575b4,#4575b4,#4575b4,#4575b4,#4575b4,#4575b4,#4575b4,#4575b4,#4575b4,#4575b4)"></i>
<i style="height:5px;background:linear-gradient(90deg,#90bfdc,#95c3df,#a0cde3,#abd5e7,#b6dbeb,#c1e2ee,#cbe8f1,#d3ecf4,#d7eef5,#dcf0f5,#e0f2f6,#e3f3f6,#e5f3f7,#e3f3f6,#e0f2f6,#dbf0f5,#d4edf4,#c9e7f1,#b9ddec,#a6d2e6,#93c2de,#82b2d6,#72a3ce,#6293c5,#5888bf,#5384bc,#4f7fba,#4b7bb7,#4676b5,#4575b4,#4575b4,#4575b4,#4575b4,#4575b4,#4575b4,#4575b4,#4575b4,#4575b4,#4575b4,#4575b4,#4575b4)"></i>
<i style="height:5px;background:linear-gradient(90deg,#8fbedc,#92c0dd,#99c6e0,#a4d0e5,#afd7e9,#badeec,#c4e4ef,#cce8f1,#d2ecf3,#d7eef4,#dcf0f5,#e0f2f6,#e1f2f6,#e0f2f6,#dcf0f5,#d6eef4,#cde9f2,#c1e2ee,#b1d8e9,#9dcbe2,#8ab9d9,#79a9d1,#6999c8,#5c8cc1,#5787be,#5383bc,#4e7fb9,#4a7ab7,#4676b5,#4575b4,#4575b4,#4575b4,#4575b4,#4575b4,#4575b4,#4575b4,#4575b4,#4575b4,#4575b4,#4575b4,#4575b4)"></i>
<i style="height:5px;background:linear-gradient(90deg,#8dbcdb,#90bfdc,#94c2de,#9dcae2,#a8d3e7,#b4daea,#bde0ed,#c5e4ef,#cbe8f1,#d2ecf3,#d8eef5,#dcf0f5,#ddf0f5,#dbf0f5,#d7eef4,#cfeaf3,#c5e4f0,#b9ddec,#a8d3e7,#95c3de,#82b1d5,#70a1cd,#6191c4,#5a8ac0,#5686be,#5282bc,#4e7eb9,#4a7ab7,#4575b4,#4575b4,#4575b4,#4575b4,#4575b4,#4575b4,#4575b4,#4575b4,#4575b4,#4575b4,#4575b4,#4575b4,#4575b4)"></i>
<i style="height:5px;background:linear-gradient(90deg,#8cbbda,#8fbedc,#92c1dd,#97c5df,#a1cee4,#add6e8,#b6dbeb,#bee0ed,#c5e4ef,#cce8f1,#d2ecf4,#d7eef4,#d8eff5,#d6eef4,#d1ebf3,#c8e6f0,#bde0ed,#b0d8e9,#a0cde4,#8dbcdb,#7aaad2,#6898c8,#5e8ec2,#598ac0,#5586bd,#5182bb,#4d7db9,#4979b6,#4575b4,#4575b4,#4575b4,#4575b4,#4575b4,#4575b4,#4575b4,#4575b4,#4575b4,#4575b4,#4575b4,#4575b4,#4575b4)"></i>
<i style="height:5px;background:linear-gradient(90deg,#8bbada,#8ebcdb,#91bfdd,#95c3de,#9bc9e1,#a5d1e6,#afd7e9,#b6dceb,#bee0ed,#c5e4ef,#cce8f2,#d1ebf3,#d2ecf3,#cfeaf3,#c9e6f1,#c0e1ee,#b5dbea,#a8d3e6,#98c6e0,#85b5d7,#72a3ce,#6495c6,#5e8ec2,#598ac0,#5585bd,#5181bb,#4d7db8,#4979b6,#4575b4,#4575b4,#4575b4,#4575b4,#4575b4,#4575b4,#4575b4,#4575b4,#4575b4,#4575b4,#4575b4,#4575b4,#4575b4)"></i>
<i style="height:5px;background:linear-gradient(90deg,#8ab9d9,#8cbbda,#90bedc,#94c2de,#98c6e0,#9fcce3,#a7d3e6,#afd7e9,#b7dceb,#bee0ed,#c5e4ef,#c9e7f1,#cae7f1,#c7e5f0,#c1e2ee,#b7dceb,#acd5e8,#9fcce3,#8fbedc,#7eaed4,#6d9ecb,#6495c6,#5e8fc2,#5989bf,#5585bd,#5081bb,#4c7cb8,#4878b6,#4575b4,#4575b4,#4575b4,#4575b4,#4575b4,#4575b4,#4575b4,#4575b4,#4575b4,#4575b4,#4575b4,#4575b4,#4575b4)"></i>
<i style="height:5px;background:linear-gradient(90deg,#89b8d9,#8cbbda,#8fbedc,#93c1dd,#97c5df,#9bc9e1,#a1cee4,#a8d3e6,#afd7e9,#b7dceb,#bde0ed,#c2e2ee,#c2e2ef,#bfe0ed,#b8dceb,#afd7e9,#a3d0e5,#96c4df,#87b7d8,#78a8d1,#6d9ecb,#6596c6,#5e8fc3,#5989bf,#5485bd,#5080ba,#4c7cb8,#4778b5,#4575b4,#4575b4,#4575b4,#4575b4,#4575b4,#4575b4,#4575b4,#4575b4,#4575b4,#4575b4,#4575b4,#4575b4,#4575b4)"></i>
</div></div>
<div class="hm" style="left:1550.10px;top:533.00px;width:329.00px;height:394.50px">
<div class="hi" style="left:-10px;top:-10px;width:349.00px;filter:blur(2.5px)">
<i style="height:5px;background:linear-gradient(90deg,#b6d3ea,#b1d0e8,#abcde7,#a6cae5,#a1c7e4,#9cc5e2,#97c2e1,#92bfdf,#8ebcde,#8abadd,#88b8dc,#85b7dc,#84b6db,#82b5db,#81b5db,#81b4da,#80b4da,#80b4da,#7fb3da,#7fb3da,#7fb3da,#7fb3da,#7fb3da,#7fb3da,#7fb3da,#80b4da,#81b4da,#82b5db,#84b6db,#85b7dc,#87b8dc,#8abadd,#8cbbde,#8ebdde,#91bedf,#94c0e0,#96c2e1,#99c3e2,#9cc5e2,#9fc7e3,#a3c9e4)"></i>
<i style="height:5px;background:linear-gradient(90deg,#b6d3ea,#b1d0e8,#accde7,#a6cae5,#a1c7e4,#9bc4e2,#96c1e1,#91bedf,#8dbcde,#89badd,#86b8dc,#84b6db,#83b5db,#81b5db,#80b4da,#80b4da,#7fb3da,#7fb3da,#7fb3da,#7fb3da,#7fb3da,#7fb3da,#7fb3da,#7fb3da,#7fb3da,#80b4da,#81b5db,#83b5db,#84b6db,#86b8dc,#88b9dd,#8abadd,#8dbcde,#90bddf,#92bfe0,#95c1e0,#98c3e1,#9bc4e2,#9ec6e3,#a1c8e4,#a5cae5)"></i>
<i style="height:5px;background:linear-gradient(90deg,#b7d4ea,#b1d1e8,#accee7,#a6cae5,#a0c7e4,#9bc4e2,#95c1e1,#90bedf,#8cbbde,#88b9dd,#85b7dc,#83b6db,#81b5db,#80b4da,#7fb3da,#7fb3da,#7fb3da,#7eb3da,#7eb3da,#7eb3da,#7eb3da,#7eb3da,#7fb3da,#7fb3da,#80b4da,#80b4da,#82b5db,#83b6db,#85b7dc,#87b8dc,#89b9dd,#8bbbde,#8ebdde,#91bedf,#94c0e0,#97c2e1,#9ac4e2,#9dc5e3,#a1c7e4,#a4c9e5,#a8cbe6)"></i>
<i style="height:5px;background:linear-gradient(90deg,#b7d4ea,#b2d1e8,#accee7,#a6cae5,#a0c7e4,#9ac4e2,#95c1e0,#90bddf,#8bbbdd,#87b8dc,#84b6db,#82b5db,#80b4da,#7fb3da,#7eb3da,#7eb2d9,#7eb2d9,#7db2d9,#7eb2d9,#7eb2d9,#7eb3da,#7eb3da,#7fb3da,#7fb3da,#80b4da,#81b4da,#82b5db,#84b6db,#85b7dc,#88b8dc,#8abadd,#8cbbde,#8fbddf,#92bfe0,#95c1e1,#99c3e1,#9cc5e2,#a0c7e3,#a3c9e4,#a7cbe5,#abcde6)"></i>
<i style="height:5px;background:linear-gradient(90deg,#b8d4ea,#b2d1e9,#accee7,#a6cae5,#a0c7e3,#9ac4e2,#94c0e0,#8fbddf,#8abadd,#86b8dc,#83b6db,#80b4da,#7fb3da,#7eb2d9,#7db2d9,#7db2d9,#7cb2d9,#7db2d9,#7db2d9,#7db2d9,#7eb2d9,#7eb3da,#7fb3da,#80b4da,#80b4da,#81b5db,#83b5db,#84b6db,#86b8dc,#88b9dd,#8bbadd,#8dbcde,#90bedf,#94c0e0,#97c2e1,#9bc4e2,#9ec6e3,#a2c8e4,#a6cae5,#aacce6,#aecfe7)"></i>
<i style="height:5px;background:linear-gradient(90deg,#b8d4ea,#b2d1e9,#accee7,#a6cae5,#a0c7e3,#99c3e2,#93c0e0,#8ebcde,#89b9dd,#85b7dc,#81b5db,#7fb3da,#7db2d9,#7cb1d9,#7bb1d9,#7bb1d9,#7bb1d9,#7cb1d9,#7cb1d9,#7db2d9,#7db2d9,#7eb3da,#7fb3da,#80b4da,#81b4da,#82b5db,#83b6db,#85b7dc,#87b8dc,#89b9dd,#8bbbde,#8ebdde,#91bfdf,#95c1e0,#99c3e1,#9dc5e3,#a1c7e4,#a5cae5,#a9cce6,#adcee7,#b1d0e8)"></i>
<i style="height:5px;background:linear-gradient(90deg,#b9d5ea,#b3d1e9,#adcee7,#a6cae5,#9fc7e3,#99c3e1,#92bfe0,#8dbcde,#88b8dc,#83b6db,#80b4da,#7db2d9,#7cb1d9,#7ab0d8,#7ab0d8,#7ab0d8,#7ab0d8,#7ab0d8,#7bb1d9,#7cb1d9,#7db2d9,#7eb3da,#7fb3da,#80b4da,#81b4da,#82b5db,#83b6db,#85b7dc,#87b8dc,#89badd,#8cbbde,#8fbddf,#93bfe0,#96c2e1,#9ac4e2,#9ec6e3,#a3c8e4,#a7cbe5,#accde7,#b0d0e8,#b4d2e9)"></i>
<i style="height:5px;background:linear-gradient(90deg,#b9d5ea,#b3d2e9,#adcee7,#a6cae5,#9fc6e3,#98c3e1,#91bfdf,#8bbbde,#86b8dc,#82b5db,#7eb3da,#7cb1d9,#7ab0d8,#79afd8,#78afd8,#78afd8,#78afd8,#79afd8,#7ab0d8,#7bb1d9,#7cb2d9,#7eb2d9,#7fb3da,#80b4da,#81b4da,#82b5db,#84b6db,#85b7dc,#87b8dc,#8abadd,#8dbcde,#90bedf,#93c0e0,#97c2e1,#9cc5e2,#a0c7e4,#a5cae5,#aacce6,#aecfe7,#b3d2e9,#b7d4ea)"></i>
<i style="height:5px;background:linear-gradient(90deg,#b9d5ea,#b3d2e9,#adcee7,#a6cae5,#9ec6e3,#97c2e1,#90bedf,#8abadd,#84b7db,#80b4da,#7cb2d9,#7ab0d8,#78afd8,#77aed7,#76aed7,#76aed7,#77aed7,#78afd8,#79afd8,#7ab0d8,#7cb1d9,#7db2d9,#7fb3da,#80b4da,#81b5da,#82b5db,#84b6db,#85b7dc,#88b8dc,#8abadd,#8dbcde,#91bedf,#94c0e0,#99c3e1,#9dc5e3,#a2c8e4,#a7cbe5,#accee7,#b1d0e8,#b6d3ea,#bad5eb)"></i>
<i style="height:5px;background:linear-gradient(90deg,#b9d5eb,#b3d2e9,#adcee7,#a5cae5,#9ec6e3,#96c1e1,#8fbddf,#88b9dd,#83b5db,#7eb3da,#7ab0d8,#77afd8,#76add7,#75add7,#74acd7,#74add7,#75add7,#76aed7,#77aed8,#79afd8,#7bb1d9,#7db2d9,#7eb3da,#80b4da,#81b4da,#82b5db,#84b6db,#85b7dc,#88b9dc,#8abadd,#8dbcde,#91bedf,#95c1e0,#9ac3e2,#9ec6e3,#a3c9e4,#a9cce6,#aecfe7,#b3d2e9,#b9d5ea,#bdd7eb)"></i>
<i style="height:5px;background:linear-gradient(90deg,#bad5eb,#b3d2e9,#accee7,#a5cae5,#9dc5e3,#95c1e0,#8dbcde,#87b8dc,#81b4da,#7cb1d9,#78afd8,#75add7,#73acd6,#72abd6,#72abd6,#72abd6,#73acd6,#74acd7,#76add7,#78afd8,#7ab0d8,#7cb1d9,#7eb3da,#80b4da,#81b4da,#82b5db,#84b6db,#85b7dc,#88b8dc,#8abadd,#8ebcde,#92bfdf,#96c1e1,#9bc4e2,#a0c7e3,#a5cae5,#aacde6,#b0d0e8,#b5d3e9,#bbd6eb,#bfd8ec)"></i>
<i style="height:5px;background:linear-gradient(90deg,#b9d5eb,#b3d2e9,#accee7,#a4c9e5,#9cc5e2,#93c0e0,#8cbbde,#85b7dc,#7eb3da,#79b0d8,#75add7,#73acd6,#71aad6,#70aad5,#6faad5,#70aad5,#71aad6,#72abd6,#74acd6,#76aed7,#79afd8,#7bb1d9,#7db2d9,#7fb3da,#80b4da,#82b5db,#83b6db,#85b7dc,#87b8dc,#8abadd,#8ebcde,#92bfdf,#96c2e1,#9bc4e2,#a1c7e4,#a6cae5,#accee7,#b2d1e8,#b7d4ea,#bcd7eb,#c1d9ed)"></i>
<i style="height:5px;background:linear-gradient(90deg,#b9d5ea,#b3d1e9,#abcde7,#a3c9e4,#9ac4e2,#92bfdf,#8abadd,#82b5db,#7cb1d9,#77aed7,#73acd6,#70aad5,#6ea9d5,#6da8d5,#6da8d4,#6da8d5,#6ea9d5,#6faad5,#72abd6,#74acd7,#77aed7,#7ab0d8,#7db2d9,#7eb3da,#80b4da,#81b4da,#83b5db,#84b7db,#87b8dc,#8abadd,#8ebcde,#92bfe0,#97c2e1,#9cc5e2,#a2c8e4,#a7cbe6,#adcee7,#b3d2e9,#b9d5ea,#bed8ec,#c3daed)"></i>
<i style="height:5px;background:linear-gradient(90deg,#b8d4ea,#b2d1e8,#aacde6,#a2c8e4,#99c3e1,#90bedf,#88b8dc,#80b4da,#79b0d8,#74acd7,#70aad5,#6da8d4,#6ba7d4,#6aa6d4,#6aa6d4,#6aa7d4,#6ba7d4,#6da8d4,#6fa9d5,#72abd6,#75add7,#79afd8,#7cb1d9,#7eb2d9,#7fb3da,#80b4da,#82b5db,#84b6db,#86b8dc,#89badd,#8dbcde,#92bfe0,#97c2e1,#9dc5e3,#a2c8e4,#a8cce6,#aecfe7,#b4d2e9,#bad5eb,#bfd8ec,#c4dbee)"></i>
<i style="height:5px;background:linear-gradient(90deg,#b7d4ea,#b1d0e8,#a9cce6,#a0c7e4,#97c2e1,#8ebcde,#85b7dc,#7db2d9,#77aed7,#71abd6,#6da8d4,#6aa6d4,#68a5d3,#67a5d3,#67a5d3,#68a5d3,#68a5d3,#6aa6d4,#6ca8d4,#70aad5,#73acd6,#77aed7,#7ab0d8,#7cb2d9,#7eb2da,#7fb3da,#80b4da,#83b5db,#85b7dc,#89b9dd,#8dbcde,#92bfe0,#97c2e1,#9dc5e3,#a3c9e4,#a9cce6,#b0d0e8,#b6d3e9,#bbd6eb,#c1d9ed,#c6dcee)"></i>
<i style="height:5px;background:linear-gradient(90deg,#b6d3ea,#afcfe8,#a7cbe6,#9ec6e3,#95c1e0,#8cbbde,#83b6db,#7bb1d9,#74acd6,#6ea9d5,#6aa6d3,#67a4d3,#65a3d2,#64a3d2,#64a3d2,#65a3d2,#65a3d2,#67a4d3,#69a6d3,#6da8d4,#71aad6,#75add7,#79afd8,#7bb1d9,#7cb2d9,#7db2d9,#7fb3da,#81b5db,#84b6db,#88b9dd,#8dbcde,#92bfdf,#98c2e1,#9ec6e3,#a4c9e5,#aacde6,#b1d0e8,#b7d4ea,#bdd7eb,#c2daed,#c7ddee)"></i>
<i style="height:5px;background:linear-gradient(90deg,#b5d2e9,#aecee7,#a5cae5,#9cc5e2,#93bfe0,#89badd,#80b4da,#78afd8,#71aad6,#6ba7d4,#66a4d3,#64a2d2,#62a1d1,#61a1d1,#61a1d1,#61a1d1,#62a1d1,#64a2d2,#66a4d2,#69a6d3,#6ea9d5,#73acd6,#77aed7,#79afd8,#7ab0d8,#7bb1d9,#7db2d9,#80b4da,#83b6db,#87b8dc,#8cbbde,#92bfdf,#98c2e1,#9ec6e3,#a5cae5,#abcde7,#b2d1e8,#b8d4ea,#bed7ec,#c3daed,#c8ddef)"></i>
<i style="height:5px;background:linear-gradient(90deg,#b3d2e9,#accde7,#a3c9e4,#9ac4e2,#91bedf,#87b8dc,#7eb2d9,#75add7,#6ea9d5,#68a5d3,#63a2d2,#60a0d1,#5f9fd0,#5e9fd0,#5e9fd0,#5e9fd0,#5f9fd0,#60a0d1,#62a2d1,#66a4d2,#6aa6d4,#6faad5,#74acd7,#76aed7,#78afd8,#79b0d8,#7bb1d9,#7eb2d9,#81b5db,#86b7dc,#8bbbdd,#91bedf,#98c2e1,#9ec6e3,#a5cae5,#accee7,#b3d1e9,#b9d5ea,#bfd8ec,#c5dbee,#c9deef)"></i>
<i style="height:5px;background:linear-gradient(90deg,#b2d1e8,#aacce6,#a1c8e4,#98c3e1,#8fbdde,#85b7dc,#7bb1d9,#72abd6,#6ba7d4,#65a3d2,#60a0d1,#5d9ed0,#5b9dcf,#5b9dcf,#5a9dcf,#5b9dcf,#5b9dcf,#5d9ed0,#5f9fd0,#62a1d1,#66a4d3,#6ca7d4,#70aad5,#73acd6,#75add7,#76aed7,#79afd8,#7cb1d9,#80b4da,#85b7dc,#8abadd,#91bedf,#98c2e1,#9fc6e3,#a6cae5,#adcee7,#b4d2e9,#bad6eb,#c1d9ec,#c6dcee,#cadfef)"></i>
<i style="height:5px;background:linear-gradient(90deg,#b0d0e8,#a8cce6,#9fc7e3,#96c2e1,#8dbcde,#83b5db,#79afd8,#70aad5,#68a5d3,#62a1d1,#5d9ed0,#5a9ccf,#589bce,#579bce,#579bce,#579bce,#589bce,#599ccf,#5b9dcf,#5e9fd0,#62a1d1,#67a4d3,#6ca7d4,#6fa9d5,#71abd6,#74acd6,#76aed7,#7ab0d8,#7eb3da,#84b6db,#8abadd,#90bedf,#98c2e1,#9fc6e3,#a7cbe5,#aecfe7,#b5d3e9,#bcd6eb,#c2daed,#c7ddee,#ccdff0)"></i>
<i style="height:5px;background:linear-gradient(90deg,#afcfe8,#a7cbe5,#9ec6e3,#94c0e0,#8bbadd,#81b4da,#77aed7,#6da8d5,#65a3d2,#5f9fd0,#5a9ccf,#579bce,#5599ce,#5599cd,#5499cd,#5499cd,#5599cd,#569ace,#579bce,#5a9ccf,#5e9fd0,#63a2d1,#67a5d3,#6ba7d4,#6ea9d5,#71aad6,#74acd6,#78afd8,#7cb2d9,#82b5db,#89b9dd,#90bedf,#98c2e1,#9fc7e3,#a7cbe5,#afcfe8,#b6d3ea,#bdd7ec,#c4dbed,#c9deef,#cde0f0)"></i>
<i style="height:5px;background:linear-gradient(90deg,#aecfe7,#a5cae5,#9cc5e2,#93c0e0,#89badd,#7fb3da,#75add7,#6ca7d4,#63a2d2,#5c9ed0,#589bce,#5599cd,#5398cd,#5297cd,#5297cd,#5197cc,#5297cd,#5298cd,#5498cd,#569ace,#5a9ccf,#5f9fd0,#63a2d2,#67a4d3,#6aa6d4,#6ea8d5,#71abd6,#76add7,#7bb1d9,#81b5db,#88b9dd,#90bedf,#98c3e1,#a0c7e3,#a8cbe6,#b0d0e8,#b7d4ea,#bfd8ec,#c5dcee,#cadeef,#cee1f0)"></i>
<i style="height:5px;background:linear-gradient(90deg,#adcee7,#a4c9e5,#9bc4e2,#92bfdf,#88b9dd,#7eb3da,#74acd7,#6aa6d4,#61a1d1,#5a9dcf,#569ace,#5398cd,#5197cc,#5096cc,#4f96cc,#4f96cc,#4f96cc,#5096cc,#5197cc,#5398cd,#569ace,#5b9dcf,#60a0d1,#64a2d2,#67a5d3,#6ba7d4,#6fa9d5,#74acd6,#7ab0d8,#80b4da,#88b9dd,#90bedf,#98c3e1,#a1c7e4,#a9cce6,#b1d0e8,#b8d4ea,#c0d9ec,#c7dcee,#cbdfef,#d0e2f1)"></i>
<i style="height:5px;background:linear-gradient(90deg,#accee7,#a3c9e4,#9ac4e2,#91bedf,#88b8dc,#7eb2d9,#74acd6,#69a6d3,#60a0d1,#599ccf,#5499cd,#5197cc,#4f95cc,#4e95cb,#4d94cb,#4d94cb,#4d94cb,#4e95cb,#4f95cc,#5096cc,#5398cd,#589bce,#5d9ed0,#61a1d1,#65a3d2,#69a5d3,#6da8d4,#72abd6,#78afd8,#80b4da,#88b9dc,#90bedf,#99c3e1,#a1c8e4,#aacce6,#b2d1e8,#b9d5eb,#c1d9ed,#c8ddee,#cde0f0,#d1e2f1)"></i>
<i style="height:5px;background:linear-gradient(90deg,#abcde7,#a3c8e4,#9ac4e2,#91bedf,#87b8dc,#7eb2d9,#74acd6,#69a6d3,#60a0d1,#589bce,#5398cd,#5096cc,#4e95cb,#4d94cb,#4c94cb,#4c93cb,#4c94cb,#4c94cb,#4d94cb,#4f95cc,#5297cd,#569ace,#5b9dcf,#5fa0d0,#63a2d2,#67a4d3,#6ca7d4,#71abd6,#78afd8,#80b4da,#88b9dd,#91bedf,#99c3e2,#a2c8e4,#aacde6,#b3d1e9,#bad6eb,#c2daed,#c8ddef,#cde0f0,#d2e3f1)"></i>
<i style="height:5px;background:linear-gradient(90deg,#abcde7,#a3c8e4,#9ac3e2,#91bedf,#87b8dc,#7eb3da,#74acd7,#6aa6d3,#60a0d1,#599bcf,#5398cd,#4f96cc,#4d94cb,#4c93cb,#4b93cb,#4b93cb,#4b93cb,#4c94cb,#4d94cb,#4f95cc,#5297cd,#569ace,#5a9ccf,#5f9fd0,#62a2d1,#66a4d3,#6ba7d4,#71aad6,#78afd8,#80b4da,#89b9dd,#92bfdf,#9ac4e2,#a3c9e4,#abcde7,#b3d2e9,#bbd6eb,#c3daed,#c9deef,#cee1f0,#d2e3f1)"></i>
<i style="height:5px;background:linear-gradient(90deg,#accde7,#a3c9e4,#9ac4e2,#91bedf,#88b9dd,#7fb3da,#75add7,#6ba7d4,#61a1d1,#5a9ccf,#5498cd,#5096cc,#4d94cb,#4c93cb,#4b93cb,#4b93cb,#4b93cb,#4c94cb,#4d95cb,#4f96cc,#5298cd,#569ace,#5b9dcf,#5f9fd0,#63a2d1,#67a4d3,#6ba7d4,#71aad6,#78afd8,#81b4da,#8abadd,#93c0e0,#9cc5e2,#a4c9e5,#accee7,#b4d2e9,#bcd6eb,#c3daed,#c9deef,#cee1f0,#d2e3f1)"></i>
<i style="height:5px;background:linear-gradient(90deg,#accee7,#a4c9e4,#9bc4e2,#92bfe0,#89badd,#80b4da,#76aed7,#6ca8d4,#63a2d2,#5b9dcf,#5599cd,#5196cc,#4e95cb,#4c94cb,#4c93cb,#4c93cb,#4c94cb,#4e95cb,#4f95cc,#5197cc,#5499cd,#589bce,#5c9ed0,#60a0d1,#64a3d2,#68a5d3,#6da8d4,#72abd6,#7ab0d8,#83b5db,#8cbbde,#95c1e0,#9dc6e3,#a6cae5,#aecee7,#b5d3e9,#bcd7eb,#c3dbed,#c9deef,#cee1f0,#d2e3f1)"></i>
<i style="height:5px;background:linear-gradient(90deg,#aecee7,#a5cae5,#9cc5e2,#94c0e0,#8bbbdd,#82b5db,#78afd8,#6ea9d5,#65a3d2,#5d9ed0,#579ace,#5297cd,#4f95cc,#4d94cb,#4d94cb,#4d94cb,#4e95cc,#5096cc,#5297cd,#5498cd,#579ace,#5b9dcf,#5f9fd0,#63a2d1,#67a4d3,#6ba7d4,#6faad5,#75add7,#7db2d9,#85b7dc,#8ebdde,#97c2e1,#9fc7e3,#a7cbe5,#afcfe8,#b6d3ea,#bdd7eb,#c3dbed,#c9deef,#cde0f0,#d1e3f1)"></i>
<i style="height:5px;background:linear-gradient(90deg,#afcfe8,#a7cbe5,#9ec6e3,#96c1e1,#8dbcde,#84b7db,#7bb1d9,#71abd6,#68a5d3,#60a0d1,#599ccf,#5499cd,#5197cc,#5096cc,#4f96cc,#5096cc,#5197cc,#5398cd,#5599ce,#579bce,#5b9dcf,#5e9fd0,#62a1d1,#66a4d3,#6aa7d4,#6fa9d5,#73acd6,#79afd8,#80b4da,#89b9dd,#91bfdf,#9ac3e2,#a2c8e4,#a9cce6,#b0d0e8,#b7d4ea,#bdd7ec,#c3dbed,#c8ddef,#cde0f0,#d1e2f1)"></i>
<i style="height:5px;background:linear-gradient(90deg,#b2d1e8,#a9cce6,#a1c7e4,#99c3e2,#90bedf,#88b9dc,#7eb3da,#75add7,#6ba7d4,#63a2d2,#5c9ed0,#579bce,#5499cd,#5398cd,#5298cd,#5398cd,#5599ce,#579ace,#599ccf,#5c9dd0,#5f9fd0,#63a2d1,#67a4d3,#6ba7d4,#6fa9d5,#73acd6,#78afd8,#7eb3da,#85b7dc,#8dbcde,#95c1e0,#9dc5e3,#a4c9e5,#abcde7,#b1d1e8,#b8d4ea,#bdd7ec,#c3daed,#c8ddef,#cce0f0,#d0e2f1)"></i>
<i style="height:5px;background:linear-gradient(90deg,#b4d2e9,#accee7,#a4c9e5,#9cc5e2,#94c0e0,#8cbbde,#82b5db,#79afd8,#70aad5,#67a4d3,#60a0d1,#5b9dcf,#589bce,#579ace,#579ace,#589bce,#5a9ccf,#5c9ed0,#5f9fd0,#61a1d1,#64a3d2,#68a5d3,#6ca8d4,#70aad5,#75add7,#79b0d8,#7eb3da,#84b6db,#8abadd,#92bfdf,#99c3e2,#a0c7e4,#a7cbe5,#adcee7,#b3d1e9,#b8d4ea,#bed7ec,#c3daed,#c7ddee,#cbdfef,#cfe1f0)"></i>
<i style="height:5px;background:linear-gradient(90deg,#b8d4ea,#b0d0e8,#a8cce6,#a1c7e4,#99c3e1,#90bedf,#87b8dc,#7eb2d9,#75add7,#6ca7d4,#65a3d2,#60a0d1,#5d9ed0,#5c9dcf,#5c9dcf,#5d9ed0,#60a0d1,#62a2d1,#65a3d2,#67a5d3,#6aa7d4,#6ea9d5,#72abd6,#77aed7,#7bb1d9,#7fb3da,#84b6db,#8abadd,#90bedf,#97c2e1,#9ec6e3,#a4c9e5,#aacce6,#afcfe8,#b4d2e9,#b9d5ea,#bed7ec,#c2daed,#c7dcee,#cadeef,#cee1f0)"></i>
<i style="height:5px;background:linear-gradient(90deg,#bbd6eb,#b4d2e9,#adcee7,#a5cae5,#9ec6e3,#95c1e0,#8dbcde,#83b6db,#7ab0d8,#72abd6,#6aa7d4,#65a3d2,#63a2d2,#62a1d1,#62a1d1,#64a3d2,#67a4d3,#6aa6d4,#6ca8d4,#6fa9d5,#72abd6,#75add7,#79b0d8,#7db2d9,#81b5db,#86b7dc,#8bbadd,#90bedf,#96c1e1,#9cc5e2,#a2c8e4,#a8cbe6,#adcee7,#b1d1e8,#b6d3ea,#bad5eb,#bed8ec,#c2daed,#c6dcee,#c9deef,#cde0f0)"></i>
<i style="height:5px;background:linear-gradient(90deg,#bfd8ec,#b9d5ea,#b2d1e8,#aacde6,#a3c9e4,#9bc4e2,#93bfe0,#8abadd,#81b4da,#79afd8,#71abd6,#6ca8d4,#6aa6d4,#6aa6d3,#6aa6d4,#6da8d4,#6faad5,#72abd6,#75add7,#77aed7,#79b0d8,#7db2d9,#81b4da,#85b7dc,#88b9dd,#8dbcde,#91bedf,#96c2e1,#9cc5e2,#a2c8e4,#a7cbe5,#accde7,#b0d0e8,#b4d2e9,#b7d4ea,#bbd6eb,#bed8ec,#c2daed,#c5dcee,#c9ddef,#cce0f0)"></i>
<i style="height:5px;background:linear-gradient(90deg,#c4dbed,#bdd7ec,#b7d4ea,#b0d0e8,#a9cce6,#a1c8e4,#99c3e2,#91bedf,#88b9dd,#80b4da,#79b0d8,#75add7,#73acd6,#73acd6,#74acd7,#76aed7,#79afd8,#7bb1d9,#7eb2da,#80b4da,#82b5db,#85b7dc,#89b9dd,#8cbbde,#8fbddf,#93c0e0,#98c2e1,#9dc5e3,#a2c8e4,#a7cbe5,#abcde7,#afcfe8,#b3d1e9,#b6d3e9,#b8d5ea,#bbd6eb,#bed8ec,#c1d9ed,#c5dbee,#c8ddee,#cbdfef)"></i>
<i style="height:5px;background:linear-gradient(90deg,#c8ddee,#c2daed,#bcd7eb,#b6d3ea,#afcfe8,#a8cbe6,#a0c7e4,#98c3e1,#90bedf,#89b9dd,#82b5db,#7eb3da,#7db2d9,#7db2d9,#7eb3da,#80b4da,#83b6db,#85b7dc,#88b9dc,#8abadd,#8cbbde,#8ebdde,#91bedf,#93c0e0,#96c2e1,#9ac4e2,#9ec6e3,#a3c8e4,#a8cbe6,#accee7,#b0d0e8,#b3d1e9,#b5d3e9,#b7d4ea,#bad5eb,#bcd6eb,#bed8ec,#c1d9ed,#c4dbed,#c7ddee,#cbdfef)"></i>
<i style="height:5px;background:linear-gradient(90deg,#cbdfef,#c7ddee,#c2daed,#bcd6eb,#b5d3e9,#afcfe8,#a7cbe6,#a0c7e4,#99c3e1,#92bfdf,#8cbbde,#89b9dd,#88b9dc,#88b9dc,#89b9dd,#8bbbdd,#8dbcde,#90bedf,#92bfdf,#94c0e0,#95c1e1,#97c2e1,#99c3e2,#9bc4e2,#9dc5e3,#a0c7e3,#a4c9e4,#a8cbe6,#adcee7,#b1d0e8,#b4d2e9,#b6d3e9,#b7d4ea,#b9d5ea,#bad6eb,#bcd7eb,#bed8ec,#c0d9ec,#c3dbed,#c7dcee,#cadeef)"></i>
<i style="height:5px;background:linear-gradient(90deg,#cee1f0,#cbdfef,#c7dcee,#c2daed,#bcd6eb,#b6d3e9,#afcfe8,#a8cbe6,#a1c8e4,#9bc4e2,#97c2e1,#94c0e0,#93bfe0,#93c0e0,#94c0e0,#96c1e1,#98c2e1,#9ac4e2,#9cc5e2,#9ec6e3,#9fc7e3,#a0c7e3,#a1c7e4,#a1c8e4,#a3c8e4,#a5cae5,#a8cce6,#adcee7,#b1d0e8,#b5d2e9,#b7d4ea,#b8d4ea,#b9d5ea,#bad5eb,#bbd6eb,#bcd7eb,#bed8ec,#c0d9ec,#c3daed,#c6dcee,#cadeef)"></i>
<i style="height:5px;background:linear-gradient(90deg,#d2e3f1,#cfe1f0,#cbdfef,#c7ddee,#c2daed,#bdd7eb,#b6d3ea,#b0d0e8,#aacde6,#a5cae5,#a1c7e4,#9ec6e3,#9ec6e3,#9ec6e3,#9fc6e3,#a0c7e4,#a2c8e4,#a4c9e5,#a6cae5,#a8cbe6,#a8cce6,#a8cce6,#a7cbe6,#a7cbe5,#a8cbe6,#a9cce6,#accee7,#b0d0e8,#b4d2e9,#b8d4ea,#b9d5ea,#bad5eb,#bad5eb,#bad5eb,#bbd6eb,#bcd6eb,#bed7ec,#c0d8ec,#c2daed,#c6dcee,#c9deef)"></i>
<i style="height:5px;background:linear-gradient(90deg,#d5e5f2,#d2e3f1,#cfe1f0,#ccdff0,#c8ddef,#c3dbed,#bed7ec,#b8d4ea,#b3d1e9,#aecfe7,#aacde6,#a9cce6,#a8cce6,#a9cce6,#a9cce6,#aacde6,#abcde7,#adcee7,#afcfe8,#b1d0e8,#b1d0e8,#afd0e8,#adcee7,#accee7,#abcde7,#accee7,#afcfe8,#b2d1e9,#b7d3ea,#bad5eb,#bad6eb,#bad5eb,#bad5eb,#bad5eb,#bad6eb,#bbd6eb,#bdd7eb,#bfd8ec,#c2daed,#c5dcee,#c9deef)"></i>
<i style="height:5px;background:linear-gradient(90deg,#d8e7f3,#d6e5f2,#d3e4f1,#d0e2f1,#cde0f0,#c9deef,#c5dbee,#c0d8ec,#bad6eb,#b6d3ea,#b3d2e9,#b2d1e9,#b2d1e9,#b3d1e9,#b3d1e9,#b3d2e9,#b4d2e9,#b5d3e9,#b7d4ea,#b8d4ea,#b8d4ea,#b5d3e9,#b2d1e8,#afcfe8,#aecfe7,#aecfe7,#b0d0e8,#b3d2e9,#b7d4ea,#bad5eb,#bad5eb,#b9d5eb,#b9d5ea,#b9d5ea,#b9d5ea,#bad6eb,#bcd7eb,#bed8ec,#c1d9ed,#c5dcee,#c9deef)"></i>
<i style="height:5px;background:linear-gradient(90deg,#dbe8f4,#d9e7f3,#d6e6f2,#d4e4f2,#d1e2f1,#cee1f0,#cadeef,#c6dcee,#c2daed,#bed7ec,#bbd6eb,#bbd6eb,#bbd6eb,#bcd6eb,#bbd6eb,#bbd6eb,#bbd6eb,#bbd6eb,#bdd7eb,#bed8ec,#bdd7ec,#b9d5eb,#b5d3e9,#b1d0e8,#afcfe8,#aecfe7,#b0d0e8,#b2d1e9,#b6d3e9,#b8d4ea,#b8d4ea,#b8d4ea,#b7d4ea,#b7d4ea,#b7d4ea,#b9d5ea,#bbd6eb,#bed7ec,#c1d9ed,#c5dcee,#c9deef)"></i>
<i style="height:5px;background:linear-gradient(90deg,#ddeaf4,#dbe9f4,#d9e8f3,#d7e6f3,#d5e5f2,#d2e3f1,#cfe1f0,#cbdfef,#c7ddee,#c4dbed,#c2daed,#c2daed,#c3daed,#c3daed,#c2daed,#c1d9ed,#c0d9ec,#c0d9ec,#c1d9ed,#c1d9ed,#c0d9ec,#bbd6eb,#b6d3ea,#b1d1e8,#aecfe7,#adcee7,#aecee7,#b0d0e8,#b2d1e9,#b4d2e9,#b5d2e9,#b4d2e9,#b4d2e9,#b4d2e9,#b5d3e9,#b7d4ea,#b9d5eb,#bdd7eb,#c1d9ec,#c5dbee,#c9deef)"></i>
<i style="height:5px;background:linear-gradient(90deg,#dfebf5,#deeaf4,#dce9f4,#dae8f3,#d8e7f3,#d6e5f2,#d3e3f1,#cfe1f0,#cbdfef,#c8ddef,#c7ddee,#c7dcee,#c8ddee,#c8ddef,#c7dcee,#c5dbee,#c3daed,#c2daed,#c2daed,#c2daed,#c0d9ec,#bbd6eb,#b5d3e9,#b0d0e8,#accee7,#aacde6,#aacde6,#abcde7,#aecfe7,#afcfe8,#b0d0e8,#b0d0e8,#b0d0e8,#b1d0e8,#b2d1e9,#b4d2e9,#b8d4ea,#bbd6eb,#c0d9ec,#c5dbee,#c9deef)"></i>
<i style="height:5px;background:linear-gradient(90deg,#e1ecf5,#e0ebf5,#deeaf5,#dce9f4,#dbe8f4,#d8e7f3,#d6e5f2,#d2e3f1,#cee1f0,#cbdfef,#c9deef,#c9deef,#cadeef,#cadeef,#c9deef,#c7dcee,#c5dbee,#c3daed,#c2daed,#c1d9ed,#bed7ec,#b8d4ea,#b2d1e8,#accee7,#a8cce6,#a6cae5,#a5cae5,#a6cae5,#a8cbe6,#a9cce6,#aacde6,#abcde6,#abcde7,#adcee7,#afcfe8,#b2d1e8,#b5d3e9,#bad5eb,#bfd8ec,#c4dbee,#c9deef)"></i>
<i style="height:5px;background:linear-gradient(90deg,#e2edf6,#e1ecf5,#e0ebf5,#deeaf4,#dce9f4,#dae8f3,#d8e6f3,#d4e4f2,#d0e2f1,#cce0f0,#cbdfef,#cadfef,#cbdfef,#cadfef,#c9deef,#c7dcee,#c4dbed,#c2daed,#c0d9ec,#bdd7ec,#b9d5eb,#b4d2e9,#aecee7,#a8cbe6,#a3c9e4,#a0c7e4,#9fc6e3,#9fc7e3,#a1c7e4,#a2c8e4,#a3c9e4,#a5cae5,#a6cae5,#a8cbe6,#abcde6,#aecfe7,#b3d1e9,#b8d4ea,#bed7ec,#c4dbed,#c9deef)"></i>
<i style="height:5px;background:linear-gradient(90deg,#e3edf6,#e2edf6,#e1ecf5,#dfebf5,#ddeaf4,#dbe8f4,#d8e7f3,#d4e4f2,#d0e2f1,#cde0f0,#cbdfef,#cadeef,#cadeef,#c9deef,#c7ddee,#c5dbee,#c2daed,#bfd8ec,#bcd6eb,#b8d5ea,#b4d2e9,#aecfe7,#a8cbe6,#a1c8e4,#9dc5e3,#99c3e2,#98c2e1,#98c2e1,#99c3e2,#9bc4e2,#9cc5e2,#9ec6e3,#a0c7e3,#a2c8e4,#a6cae5,#aacde6,#afcfe8,#b5d3e9,#bcd6eb,#c3daed,#c8ddef)"></i>
<i style="height:5px;background:linear-gradient(90deg,#e4eef6,#e2edf6,#e1ecf5,#dfebf5,#ddeaf4,#dbe8f4,#d7e6f3,#d3e4f2,#cfe1f0,#cbdfef,#c9deef,#c8ddef,#c8ddee,#c7dcee,#c5dbee,#c1d9ed,#bed7ec,#bad5eb,#b7d3ea,#b2d1e9,#adcee7,#a7cbe5,#a1c7e4,#9ac4e2,#95c1e0,#91bedf,#90bddf,#8fbddf,#91bedf,#92bfe0,#94c0e0,#97c2e1,#99c3e2,#9dc5e3,#a1c7e4,#a6cae5,#accde7,#b3d1e9,#bad5eb,#c1d9ed,#c7ddee)"></i>
<i style="height:5px;background:linear-gradient(90deg,#e3eef6,#e2edf6,#e0ecf5,#deeaf5,#dce9f4,#d9e7f3,#d6e5f2,#d1e3f1,#cde0f0,#c9deef,#c7ddee,#c6dcee,#c5dbee,#c3daed,#c0d9ec,#bdd7eb,#b9d5ea,#b4d2e9,#b0d0e8,#abcde7,#a6cae5,#9fc7e3,#99c3e1,#92bfe0,#8dbcde,#89b9dd,#87b8dc,#87b8dc,#88b9dc,#8abadd,#8cbbde,#8fbddf,#92bfe0,#96c2e1,#9bc4e2,#a1c8e4,#a8cbe6,#afcfe8,#b7d4ea,#bfd8ec,#c6dcee)"></i>
<i style="height:5px;background:linear-gradient(90deg,#e3edf6,#e1ecf5,#dfebf5,#ddeaf4,#dae8f4,#d7e6f3,#d3e4f2,#cee1f0,#cadeef,#c6dcee,#c3dbed,#c2daed,#c0d9ec,#bed7ec,#bbd6eb,#b7d4ea,#b2d1e9,#aecfe7,#a9cce6,#a3c9e4,#9dc6e3,#97c2e1,#90bedf,#89badd,#84b6db,#80b4da,#7db2d9,#7db2d9,#7fb3da,#81b4da,#84b6db,#87b8dc,#8bbbdd,#90bedf,#95c1e1,#9cc5e2,#a3c9e4,#accde7,#b4d2e9,#bdd7eb,#c4dbee)"></i>
<i style="height:5px;background:linear-gradient(90deg,#e2edf6,#e0ecf5,#deeaf4,#dbe9f4,#d8e7f3,#d5e5f2,#d0e2f1,#cbdfef,#c6dcee,#c2daed,#bfd8ec,#bdd7eb,#bbd6eb,#b8d4ea,#b5d2e9,#b0d0e8,#abcde7,#a6cae5,#a1c7e4,#9bc4e2,#95c1e0,#8ebcde,#87b8dc,#80b4da,#7bb0d9,#76aed7,#74acd7,#74add7,#76add7,#78afd8,#7bb1d9,#7fb3da,#84b6db,#89b9dd,#8fbddf,#97c2e1,#9fc6e3,#a8cbe6,#b1d0e8,#bad5eb,#c2daed)"></i>
<i style="height:5px;background:linear-gradient(90deg,#e1ecf5,#dfebf5,#dce9f4,#d9e8f3,#d6e6f2,#d2e3f1,#cde0f0,#c8ddef,#c2daed,#bdd7ec,#bad5eb,#b8d4ea,#b5d3e9,#b2d1e8,#aecfe7,#a9cce6,#a4c9e5,#9ec6e3,#98c3e1,#92bfe0,#8cbbde,#85b7dc,#7eb3da,#77aed8,#71abd6,#6da8d4,#6ba7d4,#6ba7d4,#6da8d4,#70aad5,#73acd6,#77afd8,#7cb2d9,#82b5db,#89b9dd,#91bedf,#9ac4e2,#a3c9e4,#adcee7,#b7d3ea,#bfd8ec)"></i>
<i style="height:5px;background:linear-gradient(90deg,#e0ebf5,#ddeaf4,#dae8f4,#d7e6f3,#d4e4f2,#cfe2f1,#cadfef,#c4dbee,#bdd7ec,#b8d4ea,#b5d3e9,#b2d1e9,#afcfe8,#accde7,#a7cbe5,#a2c8e4,#9cc5e2,#96c1e1,#90bedf,#89badd,#83b6db,#7cb1d9,#75add7,#6ea9d5,#69a5d3,#64a3d2,#62a2d1,#63a2d1,#65a3d2,#67a5d3,#6ba7d4,#70aad5,#75add7,#7cb1d9,#83b6db,#8cbbde,#95c1e0,#9fc6e3,#a9cce6,#b3d2e9,#bdd7eb)"></i>
<i style="height:5px;background:linear-gradient(90deg,#deeaf5,#dce9f4,#d9e7f3,#d5e5f2,#d1e3f1,#cde0f0,#c8ddee,#c1d9ed,#b9d5eb,#b4d2e9,#b1d0e8,#adcee7,#aacce6,#a5cae5,#a0c7e4,#9bc4e2,#94c0e0,#8ebcde,#87b8dc,#81b4da,#7ab0d8,#73acd6,#6ca8d4,#66a4d2,#61a0d1,#5d9ed0,#5b9dcf,#5b9dcf,#5d9ed0,#60a0d1,#64a3d2,#69a5d3,#6ea9d5,#75add7,#7db2d9,#86b8dc,#90bedf,#9bc4e2,#a6cae5,#b0d0e8,#bad6eb)"></i>
<i style="height:5px;background:linear-gradient(90deg,#ddeaf4,#dae8f3,#d7e6f2,#d3e4f2,#cfe1f0,#cadfef,#c5dbee,#bdd7ec,#b6d3ea,#b1d0e8,#accee7,#a8cce6,#a4c9e5,#9fc7e3,#9ac3e2,#93c0e0,#8cbcde,#86b7dc,#7fb3da,#78afd8,#71abd6,#6ba7d4,#64a3d2,#5e9fd0,#599ccf,#5599ce,#5498cd,#5499cd,#569ace,#599ccf,#5d9ed0,#62a1d1,#68a5d3,#6fa9d5,#77afd8,#81b4da,#8cbbde,#97c2e1,#a2c8e4,#adcee7,#b8d4ea)"></i>
<i style="height:5px;background:linear-gradient(90deg,#dce9f4,#d8e7f3,#d5e5f2,#d1e3f1,#cde0f0,#c8ddef,#c2daed,#bbd6eb,#b4d2e9,#aecfe7,#a9cce6,#a4c9e5,#9fc6e3,#99c3e2,#93c0e0,#8cbbde,#85b7dc,#7eb2d9,#77aed7,#70aad5,#6aa6d3,#63a2d2,#5d9ed0,#579bce,#5298cd,#4f95cc,#4d94cb,#4e95cb,#5096cc,#5398cd,#579bce,#5c9ed0,#62a1d1,#69a6d3,#72abd6,#7cb1d9,#87b8dc,#93c0e0,#9fc6e3,#abcde6,#b6d3e9)"></i>
<i style="height:5px;background:linear-gradient(90deg,#dae8f3,#d7e6f3,#d3e4f2,#d0e2f1,#cbdfef,#c7dcee,#c0d9ec,#b8d5ea,#b1d1e8,#abcde7,#a5cae5,#a0c7e3,#9ac4e2,#94c0e0,#8dbcde,#86b7dc,#7eb2d9,#76aed7,#6fa9d5,#68a5d3,#63a2d1,#5d9ed0,#579ace,#5197cc,#4c94cb,#4992ca,#4791ca,#4891ca,#4b93cb,#4e95cc,#5298cd,#579bce,#5d9ed0,#64a3d2,#6da8d5,#78afd8,#84b6db,#90bedf,#9cc5e2,#a8cce6,#b4d2e9)"></i>
<i style="height:5px;background:linear-gradient(90deg,#d9e7f3,#d6e5f2,#d2e3f1,#cee1f0,#cadeef,#c5dbee,#bed7ec,#b7d3ea,#afcfe8,#a9cce6,#a2c8e4,#9cc5e3,#96c1e1,#8fbddf,#88b9dc,#80b4da,#77aed8,#6fa9d5,#68a5d3,#62a1d1,#5c9ed0,#579ace,#5197cc,#4c94cb,#4791ca,#448fc9,#438ec8,#448ec8,#4690c9,#4a92ca,#4e95cc,#5398cd,#599ccf,#60a0d1,#69a6d3,#74acd7,#80b4da,#8dbcde,#9ac4e2,#a6cae5,#b2d1e9)"></i>
<i style="height:5px;background:linear-gradient(90deg,#d8e7f3,#d5e5f2,#d1e3f1,#cde0f0,#c9deef,#c3daed,#bcd7eb,#b5d3e9,#aecee7,#a7cbe5,#a0c7e3,#99c3e2,#92bfe0,#8bbbdd,#83b6db,#7ab0d8,#72abd6,#69a6d3,#62a1d1,#5c9ed0,#579bce,#5297cd,#4d94cb,#4891ca,#438ec8,#408cc7,#3f8bc7,#408cc8,#438ec8,#4790c9,#4b93cb,#5096cc,#569ace,#5d9ed0,#66a4d2,#71abd6,#7eb2da,#8bbbdd,#98c3e1,#a5cae5,#b1d0e8)"></i>
<i style="height:5px;background:linear-gradient(90deg,#d8e6f3,#d4e4f2,#d0e2f1,#cce0f0,#c8ddee,#c2daed,#bbd6eb,#b3d2e9,#accee7,#a5cae5,#9ec6e3,#97c2e1,#8fbddf,#87b8dc,#7fb3da,#76aed7,#6da8d4,#64a3d2,#5d9ed0,#589bce,#5398cd,#4f95cc,#4a92ca,#458fc9,#418dc8,#3d8bc7,#3d8ac6,#3e8bc7,#418dc8,#458fc9,#4992ca,#4e95cb,#5398cd,#5a9ccf,#63a2d2,#6fa9d5,#7cb1d9,#8abadd,#97c2e1,#a4c9e5,#b0d0e8)"></i>
<i style="height:5px;background:linear-gradient(90deg,#d7e6f3,#d3e4f2,#d0e2f1,#ccdfef,#c7ddee,#c1d9ed,#bad5eb,#b2d1e9,#abcde6,#a3c9e4,#9cc5e2,#94c0e0,#8dbcde,#84b7db,#7cb1d9,#72abd6,#69a6d3,#61a0d1,#5a9ccf,#5599cd,#5096cc,#4c94cb,#4891ca,#448ec8,#408cc7,#3c8ac6,#3c89c6,#3e8bc7,#408cc8,#448fc9,#4891ca,#4d94cb,#5298cd,#599ccf,#62a2d1,#6ea9d5,#7bb1d9,#89b9dd,#96c2e1,#a4c9e4,#b0d0e8)"></i>
<i style="height:5px;background:linear-gradient(90deg,#d6e6f2,#d3e4f1,#cfe1f0,#cbdfef,#c6dcee,#c0d9ec,#b9d5ea,#b1d0e8,#a9cce6,#a2c8e4,#9ac4e2,#93bfe0,#8bbadd,#82b5db,#79b0d8,#70aad5,#67a4d3,#5e9fd0,#589bce,#5398cd,#4f95cc,#4b93cb,#4790c9,#438ec8,#408cc7,#3d8ac7,#3d8ac6,#3e8bc7,#418dc8,#458fc9,#4991ca,#4d94cb,#5398cd,#5a9ccf,#63a2d1,#6ea9d5,#7cb1d9,#89b9dd,#97c2e1,#a4c9e5,#b1d0e8)"></i>
<i style="height:5px;background:linear-gradient(90deg,#d6e5f2,#d2e3f1,#cee1f0,#cadfef,#c6dcee,#bfd8ec,#b8d4ea,#b0d0e8,#a8cce6,#a1c7e4,#99c3e2,#91bedf,#89b9dd,#81b4da,#78afd8,#6ea9d5,#65a3d2,#5d9ed0,#579ace,#5297cd,#4e95cc,#4b93cb,#4791ca,#448fc9,#418dc8,#3f8cc7,#3f8cc7,#418cc8,#438ec8,#4690c9,#4a92ca,#4f95cc,#5499cd,#5b9dcf,#64a3d2,#70aad5,#7db2d9,#8abadd,#98c2e1,#a5cae5,#b1d1e8)"></i>
<i style="height:5px;background:linear-gradient(90deg,#d5e5f2,#d1e3f1,#cee1f0,#cadeef,#c5dcee,#bed8ec,#b7d4ea,#afcfe8,#a8cbe6,#a0c7e3,#98c3e1,#90bedf,#88b9dd,#7fb3da,#76aed7,#6da8d5,#65a3d2,#5d9ed0,#579ace,#5298cd,#4f95cc,#4c93cb,#4992ca,#4690c9,#448fc9,#438ec8,#438ec8,#448fc9,#4690c9,#4992ca,#4d94cb,#5197cc,#579ace,#5e9fd0,#67a4d3,#72abd6,#7fb3da,#8cbbde,#99c3e2,#a6cae5,#b3d1e9)"></i>
<i style="height:5px;background:linear-gradient(90deg,#d4e4f2,#d1e2f1,#cde0f0,#c9deef,#c4dbee,#bed7ec,#b6d3ea,#afcfe8,#a7cbe5,#9fc6e3,#97c2e1,#8fbddf,#87b8dc,#7fb3da,#76aed7,#6da8d5,#65a3d2,#5e9fd0,#589bce,#5498cd,#5096cc,#4e95cb,#4b93cb,#4992ca,#4891ca,#4791ca,#4791ca,#4891ca,#4a92ca,#4c94cb,#5096cc,#5499cd,#5a9ccf,#61a1d1,#6aa6d4,#75add7,#81b5db,#8ebdde,#9bc4e2,#a8cce6,#b5d2e9)"></i>
<i style="height:5px;background:linear-gradient(90deg,#d4e4f2,#d0e2f1,#cde0f0,#c9deef,#c4dbed,#bdd7eb,#b5d3e9,#aecfe7,#a6cae5,#9ec6e3,#97c2e1,#8fbddf,#87b8dc,#7fb3da,#76aed7,#6ea8d5,#66a4d2,#5fa0d0,#5a9ccf,#569ace,#5298cd,#5096cc,#4e95cc,#4d94cb,#4d94cb,#4c94cb,#4d94cb,#4d94cb,#4f95cc,#5197cc,#5498cd,#589bce,#5e9fd0,#65a3d2,#6ea9d5,#79afd8,#85b7dc,#91bedf,#9ec6e3,#abcde6,#b7d4ea)"></i>
<i style="height:5px;background:linear-gradient(90deg,#d3e4f1,#cfe2f1,#ccdff0,#c8ddee,#c2daed,#bcd6eb,#b5d2e9,#adcee7,#a6cae5,#9ec6e3,#96c2e1,#8fbdde,#87b8dc,#7fb3da,#77aed7,#6fa9d5,#67a4d3,#61a1d1,#5c9dd0,#589bce,#5599ce,#5398cd,#5297cd,#5297cd,#5297cd,#5297cd,#5297cd,#5398cd,#5498cd,#569ace,#589bce,#5d9ed0,#62a1d1,#69a6d3,#72abd6,#7db2d9,#88b9dd,#95c1e0,#a1c8e4,#aecfe7,#bad5eb)"></i>
<i style="height:5px;background:linear-gradient(90deg,#d2e3f1,#cfe1f0,#cbdfef,#c7dcee,#c1d9ed,#bbd6eb,#b4d2e9,#accee7,#a5cae5,#9ec6e3,#96c1e1,#8fbdde,#87b8dc,#7fb3da,#77aed8,#70aad5,#69a6d3,#63a2d2,#5e9fd0,#5b9dcf,#589bcf,#579ace,#569ace,#569ace,#579ace,#589bce,#589bce,#589bcf,#599ccf,#5b9dcf,#5d9ed0,#61a1d1,#67a4d3,#6ea9d5,#77aed7,#81b5da,#8dbcde,#99c3e1,#a5cae5,#b1d0e8,#bdd7eb)"></i>
<i style="height:5px;background:linear-gradient(90deg,#d1e3f1,#cee1f0,#cadeef,#c6dcee,#c0d9ec,#bad5eb,#b3d1e9,#accde7,#a5c9e5,#9dc5e3,#96c1e1,#8fbddf,#87b8dc,#80b4da,#78afd8,#71abd6,#6ba7d4,#66a4d2,#61a1d1,#5e9fd0,#5c9ed0,#5b9dcf,#5b9dcf,#5b9dcf,#5c9ed0,#5e9fd0,#5e9fd0,#5e9fd0,#5f9fd0,#60a0d1,#63a2d1,#66a4d3,#6ca7d4,#73acd6,#7cb1d9,#86b7dc,#91bedf,#9dc5e3,#a9cce6,#b5d2e9,#c0d9ec)"></i>
<i style="height:5px;background:linear-gradient(90deg,#d0e2f1,#cde0f0,#c9deef,#c5dbee,#bfd8ec,#b9d5ea,#b2d1e8,#abcde7,#a4c9e5,#9dc5e3,#96c1e1,#8fbddf,#88b9dd,#81b4da,#7ab0d8,#73acd6,#6da8d5,#68a5d3,#65a3d2,#62a1d1,#60a0d1,#5f9fd0,#5f9fd0,#60a0d1,#61a1d1,#63a2d2,#64a2d2,#64a2d2,#64a3d2,#65a3d2,#68a5d3,#6ca7d4,#71abd6,#79afd8,#81b5da,#8bbbdd,#96c1e1,#a1c8e4,#adcee7,#b9d5ea,#c4dbed)"></i>
<i style="height:5px;background:linear-gradient(90deg,#d0e2f1,#cce0f0,#c8ddef,#c3dbed,#bed7ec,#b8d4ea,#b1d0e8,#aacde6,#a4c9e5,#9dc5e3,#96c2e1,#90bddf,#89b9dd,#82b5db,#7cb1d9,#75add7,#70aad5,#6ca7d4,#68a5d3,#65a3d2,#64a2d2,#63a2d2,#64a2d2,#65a3d2,#66a4d2,#68a5d3,#69a6d3,#69a6d3,#69a6d3,#6ba7d4,#6da8d5,#71abd6,#77aed7,#7eb3da,#86b8dc,#90bedf,#9bc4e2,#a6cae5,#b1d1e8,#bdd7eb,#c7ddee)"></i>
<i style="height:5px;background:linear-gradient(90deg,#cfe1f0,#cbdfef,#c7ddee,#c2daed,#bdd7eb,#b7d3ea,#b0d0e8,#aacce6,#a3c9e4,#9dc5e3,#97c2e1,#90bedf,#8abadd,#83b6db,#7db2d9,#78afd8,#73acd6,#6fa9d5,#6ca7d4,#69a6d3,#68a5d3,#68a5d3,#68a5d3,#69a6d3,#6ba7d4,#6da8d4,#6ea8d5,#6ea9d5,#6ea9d5,#70aad5,#73acd6,#77aed7,#7cb2d9,#84b6db,#8cbbde,#95c1e1,#a0c7e3,#abcde6,#b6d3ea,#c1d9ed,#cadeef)"></i>
<i style="height:5px;background:linear-gradient(90deg,#cee1f0,#cadfef,#c6dcee,#c1d9ed,#bcd6eb,#b6d3e9,#b0d0e8,#a9cce6,#a3c9e4,#9dc5e3,#97c2e1,#91bedf,#8bbadd,#85b7dc,#7fb3da,#7ab0d8,#76aed7,#72abd6,#6fa9d5,#6da8d5,#6ca8d4,#6ca7d4,#6da8d4,#6ea9d5,#6faad5,#71aad6,#72abd6,#73acd6,#73acd6,#75add7,#78afd8,#7cb2d9,#82b5db,#89b9dd,#91bedf,#9bc4e2,#a5cae5,#afcfe8,#bad5eb,#c5dbee,#cde0f0)"></i>
<i style="height:5px;background:linear-gradient(90deg,#cde0f0,#cadeef,#c6dcee,#c0d9ec,#bbd6eb,#b5d3e9,#afcfe8,#a9cce6,#a3c9e4,#9dc5e3,#97c2e1,#91bfdf,#8cbbde,#86b8dc,#81b5db,#7db2d9,#79afd8,#76add7,#73acd6,#71abd6,#71aad6,#70aad6,#71abd6,#72abd6,#74acd6,#75add7,#76aed7,#77aed7,#78afd8,#7ab0d8,#7db2d9,#82b5db,#87b8dc,#8ebdde,#97c2e1,#a0c7e3,#aacce6,#b4d2e9,#bed8ec,#c8ddef,#d0e2f1)"></i>
<i style="height:5px;background:linear-gradient(90deg,#cde0f0,#c9deef,#c5dbee,#bfd8ec,#bad5eb,#b4d2e9,#aecfe7,#a9cce6,#a3c8e4,#9dc5e3,#98c2e1,#92bfe0,#8dbcde,#88b9dd,#83b6db,#7fb3da,#7cb1d9,#79afd8,#77aed7,#75add7,#75add7,#75add7,#75add7,#76aed7,#78afd8,#79afd8,#7ab0d8,#7bb1d9,#7db2d9,#7fb3da,#82b5db,#87b8dc,#8dbcde,#94c0e0,#9cc5e2,#a5cae5,#afcfe8,#b9d5ea,#c3daed,#cbdfef,#d2e3f1)"></i>
<i style="height:5px;background:linear-gradient(90deg,#cce0f0,#c8ddef,#c4dbed,#bfd8ec,#b9d5ea,#b4d2e9,#aecfe7,#a8cce6,#a3c8e4,#9dc5e3,#98c3e1,#93c0e0,#8ebdde,#8abadd,#86b7dc,#82b5db,#7fb3da,#7cb2d9,#7bb0d9,#7ab0d8,#79afd8,#79b0d8,#7ab0d8,#7bb0d9,#7cb1d9,#7db2d9,#7eb3da,#7fb3da,#81b4da,#84b6db,#87b8dc,#8cbbde,#92bfdf,#99c3e2,#a1c8e4,#aacde6,#b3d2e9,#bdd7ec,#c7dcee,#cee1f0,#d5e5f2)"></i>
<i style="height:5px;background:linear-gradient(90deg,#ccdff0,#c8ddee,#c3daed,#bed8ec,#b9d5ea,#b3d2e9,#aecfe7,#a8cce6,#a3c9e4,#9ec6e3,#99c3e1,#94c0e0,#90bedf,#8cbbde,#88b9dd,#85b7dc,#82b5db,#80b4da,#7eb3da,#7eb2d9,#7db2d9,#7db2d9,#7eb2d9,#7fb3da,#80b4da,#81b4da,#82b5db,#83b6db,#85b7dc,#88b9dd,#8cbbde,#91bedf,#97c2e1,#9ec6e3,#a6cae5,#afcfe8,#b8d4ea,#c2daed,#cadeef,#d1e3f1,#d8e7f3)"></i>
<i style="height:5px;background:linear-gradient(90deg,#cbdfef,#c7ddee,#c3daed,#bed7ec,#b8d4ea,#b3d2e9,#aecfe7,#a8cce6,#a3c9e4,#9ec6e3,#9ac3e2,#95c1e0,#91bedf,#8ebcde,#8abadd,#87b8dc,#85b7dc,#83b6db,#82b5db,#81b5db,#81b5db,#81b5db,#82b5db,#83b5db,#84b6db,#85b7dc,#86b7dc,#87b8dc,#89badd,#8cbbde,#90bedf,#96c1e1,#9cc5e2,#a3c9e4,#abcde7,#b4d2e9,#bdd7eb,#c6dcee,#cde0f0,#d4e4f2,#dbe8f4)"></i>
<i style="height:5px;background:linear-gradient(90deg,#cbdfef,#c7ddee,#c2daed,#bdd7ec,#b8d4ea,#b3d1e9,#aecfe7,#a8cce6,#a3c9e4,#9fc6e3,#9ac4e2,#97c2e1,#93bfe0,#90bddf,#8dbcde,#8abadd,#88b9dd,#87b8dc,#86b7dc,#85b7dc,#85b7dc,#85b7dc,#86b7dc,#86b8dc,#87b8dc,#88b9dd,#8abadd,#8bbbde,#8ebcde,#91bedf,#95c1e0,#9ac4e2,#a1c7e4,#a8cbe6,#b0d0e8,#b8d4ea,#c1d9ed,#c9deef,#d0e2f1,#d7e6f3,#ddeaf4)"></i>
<i style="height:5px;background:linear-gradient(90deg,#cbdfef,#c7ddee,#c2daed,#bdd7ec,#b8d4ea,#b3d2e9,#aecfe7,#a9cce6,#a4c9e5,#a0c7e3,#9cc5e2,#98c3e1,#95c1e0,#92bfdf,#8fbddf,#8dbcde,#8bbbdd,#8abadd,#89badd,#89b9dd,#89b9dd,#89b9dd,#8abadd,#8abadd,#8bbbdd,#8cbbde,#8ebcde,#8fbddf,#92bfdf,#95c1e0,#99c3e2,#9fc6e3,#a5cae5,#accee7,#b4d2e9,#bdd7eb,#c5dcee,#cce0f0,#d3e4f1,#d9e8f3,#e0ebf5)"></i>
<i style="height:5px;background:linear-gradient(90deg,#cbdfef,#c7ddee,#c2daed,#bdd7ec,#b8d4ea,#b3d2e9,#aecfe7,#a9cce6,#a5cae5,#a1c7e4,#9dc5e3,#9ac3e2,#96c2e1,#94c0e0,#91bfdf,#90bddf,#8ebdde,#8dbcde,#8dbcde,#8dbcde,#8dbcde,#8dbcde,#8dbcde,#8ebcde,#8fbddf,#90bedf,#92bfdf,#93c0e0,#96c1e1,#99c3e2,#9ec6e3,#a3c9e4,#aacce6,#b1d0e8,#b9d5ea,#c1d9ed,#c9deef,#cfe2f1,#d6e5f2,#dce9f4,#e2edf6)"></i>
<i style="height:5px;background:linear-gradient(90deg,#cbdfef,#c7ddee,#c2daed,#bdd7ec,#b9d5ea,#b4d2e9,#afcfe8,#aacde6,#a6cae5,#a2c8e4,#9ec6e3,#9bc4e2,#98c3e1,#96c1e1,#94c0e0,#92bfe0,#91bedf,#90bedf,#90bedf,#90bedf,#90bedf,#90bedf,#91bedf,#92bfdf,#93bfe0,#94c0e0,#96c1e1,#98c2e1,#9ac4e2,#9ec6e3,#a2c8e4,#a8cbe6,#aecfe7,#b5d3e9,#bdd7ec,#c5dcee,#ccdff0,#d2e3f1,#d8e7f3,#deebf5,#e4eef6)"></i>
</div></div>
<div class="hm" style="left:810.30px;top:106.70px;width:99.10px;height:124.10px;background:#f6f9f9"></div>
<div class="hm" style="left:1284.20px;top:106.90px;width:98.50px;height:123.50px;background:#fef9f2"></div>
<div class="hm" style="left:1728.00px;top:106.40px;width:98.10px;height:124.40px">
<div class="hi" style="left:-6px;top:-6px;width:110.10px;filter:blur(1.5px)">
<i style="height:3px;background:linear-gradient(90deg,#e2ecf6,#e2ecf6,#e2ecf6,#e2ecf6,#e2ecf6,#e2ecf6,#e2ecf6,#e2ecf6,#e2ecf6,#e2ecf6,#e2ecf6,#e2ecf6,#e2ecf6,#e2ecf6,#e2ecf6,#e2ecf6,#e2ecf6,#e2ecf6,#e2ecf6,#e2ecf6,#e2ecf6,#e2ecf6,#e2ecf6,#e2ecf6,#e2ecf6)"></i>
<i style="height:3px;background:linear-gradient(90deg,#e2ecf6,#e2ecf6,#e2ecf6,#e2ecf6,#e2ecf6,#e2ecf6,#e2ecf6,#e2ecf6,#e2ecf6,#e2ecf6,#e2ecf6,#e2ecf6,#e2ecf6,#e2ecf6,#e2ecf6,#e2ecf6,#e2ecf6,#e2ecf6,#e2ecf6,#e2ecf6,#e2ecf6,#e2ecf6,#e2ecf6,#e2ecf6,#e2ecf6)"></i>
<i style="height:3px;background:linear-gradient(90deg,#e2ecf6,#e2ecf6,#e2ecf6,#e2ecf6,#e2ecf6,#e2ecf6,#e2ecf6,#e2ecf6,#e2ecf6,#e2ecf6,#e2ecf6,#e2ecf6,#e2ecf6,#e2ecf6,#e2ecf6,#e2ecf6,#e2ecf6,#e2ecf6,#e2ecf6,#e2ecf6,#e2ecf6,#e2ecf6,#e2ecf6,#e2ecf6,#e2ecf6)"></i>
<i style="height:3px;background:linear-gradient(90deg,#e2ecf6,#e2ecf6,#e2ecf6,#e2ecf6,#e2ecf6,#e2ecf6,#e2ecf6,#e2ecf6,#e2ecf6,#e2ecf6,#e2ecf6,#e2ecf6,#e2ecf6,#e2ecf6,#e2ecf6,#e2ecf6,#e2ecf6,#e0ecf5,#d9e7f3,#dbe8f4,#dce9f4,#e0ecf5,#e2ecf6,#e2ecf6,#e2ecf6)"></i>
<i style="height:3px;background:linear-gradient(90deg,#e2ecf6,#e2ecf6,#e2ecf6,#e2ecf6,#e2ecf6,#e2ecf6,#e2ecf6,#e2ecf6,#e2ecf6,#e2ecf6,#e2ecf6,#e2ecf6,#e2ecf6,#e2ecf6,#e2ecf6,#e1ecf5,#d8e7f3,#c4dbee,#adcee7,#b2d1e8,#b6d3ea,#c4dbed,#d6e5f2,#deeaf4,#deeaf4)"></i>
<i style="height:3px;background:linear-gradient(90deg,#e2ecf6,#e2ecf6,#e2ecf6,#e2ecf6,#e2ecf6,#e2ecf6,#e2ecf6,#e2ecf6,#e2ecf6,#e2ecf6,#e2ecf6,#e2ecf6,#e2ecf6,#e2ecf6,#e1ecf5,#c9deef,#abcde7,#88b9dd,#6da8d5,#72abd6,#77aed7,#88b9dd,#a7cbe5,#bad6eb,#bad6eb)"></i>
<i style="height:3px;background:linear-gradient(90deg,#e2ecf6,#e2ecf6,#e2ecf6,#e2ecf6,#e2ecf6,#e2ecf6,#e2ecf6,#e2ecf6,#e2ecf6,#e2ecf6,#e2ecf6,#e2ecf6,#e2ecf6,#e1ecf5,#c6dcee,#8fbddf,#6ba7d4,#4c94cb,#3b89c6,#3d8bc7,#408cc7,#4b93cb,#66a4d2,#7cb1d9,#7cb1d9)"></i>
<i style="height:3px;background:linear-gradient(90deg,#e2ecf6,#e2ecf6,#e2ecf6,#e2ecf6,#e2ecf6,#e2ecf6,#e2ecf6,#e2ecf6,#e2ecf6,#e2ecf6,#e2ecf6,#e2ecf6,#e1ecf5,#c7ddee,#8abadd,#5197cc,#3a88c6,#3183c3,#2f82c3,#2f82c3,#2f82c3,#3183c3,#3787c5,#438ec8,#438ec8)"></i>
<i style="height:3px;background:linear-gradient(90deg,#e2ecf6,#e2ecf6,#e2ecf6,#e2ecf6,#e2ecf6,#e2ecf6,#e2ecf6,#e2ecf6,#e2ecf6,#e2ecf6,#e2ecf6,#e1ecf5,#c8ddef,#8cbbde,#4d94cb,#3283c4,#2f82c3,#2c80c2,#2a7ec1,#2a7ec1,#2a7fc1,#2b7fc2,#2d81c2,#2f82c3,#2f82c3)"></i>
<i style="height:3px;background:linear-gradient(90deg,#e2ecf6,#e2ecf6,#e2ecf6,#e2ecf6,#e2ecf6,#e2ecf6,#e2ecf6,#e2ecf6,#e2ecf6,#e2ecf6,#e0ebf5,#c8ddef,#8ebcde,#4f95cc,#3183c3,#2c80c2,#297ec1,#277dc1,#257bc0,#257cc0,#257cc0,#267cc0,#287dc1,#297ec1,#297ec1)"></i>
<i style="height:3px;background:linear-gradient(90deg,#e2ecf6,#e2ecf6,#e2ecf6,#e2ecf6,#e2ecf6,#e2ecf6,#e2ecf6,#e2ecf6,#e2ecf6,#deeaf5,#c2daed,#8ebdde,#5096cc,#3183c3,#2c80c2,#277dc1,#257bc0,#227abf,#2179bf,#2179bf,#2179bf,#227abf,#237ac0,#247bc0,#247bc0)"></i>
<i style="height:3px;background:linear-gradient(90deg,#e2ecf6,#e2ecf6,#e2ecf6,#e2ecf6,#e2ecf6,#e2ecf6,#e2ecf6,#e2ecf6,#dce9f4,#bbd6eb,#86b7dc,#5096cc,#3183c3,#2c80c2,#277dc1,#237ac0,#2179bf,#1f78be,#1d77be,#1e77be,#1e77be,#1e77be,#1f78bf,#2078bf,#2078bf)"></i>
<i style="height:3px;background:linear-gradient(90deg,#e2ecf6,#e2ecf6,#e2ecf6,#e2ecf6,#e2ecf6,#e2ecf5,#dfebf5,#d8e7f3,#b4d2e9,#7db2d9,#4a92ca,#3183c3,#2c80c2,#277dc1,#227abf,#1f78bf,#1d77be,#1c76be,#1b75bd,#1b75bd,#1b75bd,#1b76bd,#1c76be,#1c76be,#1c76be)"></i>
<i style="height:3px;background:linear-gradient(90deg,#d7e6f3,#d7e6f3,#d6e5f2,#d4e4f2,#d2e3f1,#cce0f0,#c0d9ec,#adcee7,#75add7,#448fc9,#3183c3,#2c80c2,#277dc1,#227abf,#1f78be,#1c76be,#1b75bd,#1a75bd,#1974bd,#1974bd,#1974bd,#1974bd,#1975bd,#1a75bd,#1974bd)"></i>
<i style="height:3px;background:linear-gradient(90deg,#a9cce6,#a9cce6,#a7cbe5,#a3c8e4,#9fc6e3,#95c1e0,#83b6db,#6ca8d4,#3f8bc7,#3082c3,#2b7fc2,#277dc1,#227abf,#1e77be,#1b76be,#1a75bd,#1974bd,#1874bd,#1874bd,#1874bd,#1874bd,#1874bd,#1874bd,#1873bd,#1773bc)"></i>
<i style="height:3px;background:linear-gradient(90deg,#69a5d3,#69a5d3,#66a4d2,#62a1d1,#5f9fd0,#569ace,#4891ca,#3a89c6,#2f82c3,#2a7fc2,#267cc0,#227abf,#1e77be,#1b76bd,#1974bd,#1874bd,#1873bd,#1874bd,#1874bd,#1974bd,#1974bd,#1874bd,#1773bc,#1773bc,#1672bc)"></i>
<i style="height:3px;background:linear-gradient(90deg,#3887c5,#3887c5,#3787c5,#3686c5,#3585c4,#3284c4,#3082c3,#2e81c3,#297ec1,#257cc0,#2179bf,#1e77be,#1b75bd,#1874bd,#1773bc,#1773bc,#1773bc,#1874bd,#1974bd,#1a75bd,#1a75bd,#1974bd,#1874bd,#1773bc,#1572bc)"></i>
<i style="height:3px;background:linear-gradient(90deg,#2d81c2,#2d81c2,#2d81c2,#2d80c2,#2d80c2,#2c80c2,#2b7fc2,#297ec1,#257bc0,#2179bf,#1e77be,#1b75bd,#1874bd,#1673bc,#1672bc,#1673bc,#1873bd,#1974bd,#1b75bd,#1c76be,#1c76be,#1b75bd,#1974bd,#1773bc,#1572bc)"></i>
<i style="height:3px;background:linear-gradient(90deg,#287dc1,#287dc1,#287dc1,#287dc1,#287dc1,#277dc1,#267cc0,#247bc0,#2079bf,#1d77be,#1a75bd,#1874bd,#1672bc,#1572bc,#1572bc,#1673bc,#1974bd,#1b76bd,#1e77be,#1f78be,#1f78be,#1e77be,#1b76bd,#1974bd,#1673bc)"></i>
<i style="height:3px;background:linear-gradient(90deg,#237abf,#237abf,#237abf,#237ac0,#237ac0,#227abf,#2179bf,#1f78bf,#1c76be,#1a75bd,#1773bc,#1672bc,#1471bc,#1471bc,#1572bc,#1773bc,#1a75bd,#1e77be,#2179bf,#227abf,#227abf,#2179bf,#1e77be,#1b75bd,#1874bd)"></i>
<i style="height:3px;background:linear-gradient(90deg,#1e78be,#1e78be,#1e78be,#1f78be,#1f78be,#1e78be,#1d77be,#1c76be,#1974bd,#1773bc,#1572bc,#1471bc,#1371bb,#1471bc,#1672bc,#1874bd,#1c76be,#2079bf,#247bc0,#267cc0,#267cc0,#247bc0,#2179bf,#1d77be,#1a75bd)"></i>
<i style="height:3px;background:linear-gradient(90deg,#1b75bd,#1b75bd,#1b75bd,#1b75bd,#1b76bd,#1b75bd,#1a75bd,#1974bd,#1773bc,#1572bc,#1471bb,#1371bb,#1371bb,#1471bc,#1673bc,#1a75bd,#1e77be,#237ac0,#277dc1,#297ec1,#2a7ec1,#287dc1,#247bc0,#2079bf,#1d76be)"></i>
<i style="height:3px;background:linear-gradient(90deg,#1873bd,#1873bd,#1874bd,#1874bd,#1874bd,#1874bd,#1773bc,#1673bc,#1572bc,#1371bb,#1370bb,#1270bb,#1371bb,#1572bc,#1873bc,#1c76be,#2079bf,#267cc0,#2a7fc2,#2d80c2,#2d80c2,#2b7fc2,#277dc1,#237ac0,#1f78bf)"></i>
<i style="height:3px;background:linear-gradient(90deg,#1572bc,#1572bc,#1572bc,#1672bc,#1672bc,#1672bc,#1572bc,#1471bc,#1371bb,#1270bb,#1270bb,#1270bb,#1471bb,#1672bc,#1974bd,#1d77be,#227abf,#287dc1,#2d80c2,#2f82c3,#3082c3,#2e81c2,#2a7fc1,#267cc0,#237abf)"></i>
<i style="height:3px;background:linear-gradient(90deg,#1471bb,#1471bb,#1471bb,#1471bb,#1471bc,#1471bc,#1371bb,#1371bb,#1270bb,#1270bb,#1270bb,#1371bb,#1572bc,#1773bc,#1b76bd,#2078bf,#257bc0,#2a7fc2,#2f82c3,#3283c3,#3284c4,#3082c3,#2d81c2,#297ec1,#267cc0)"></i>
<i style="height:3px;background:linear-gradient(90deg,#1270bb,#1270bb,#1370bb,#1370bb,#1370bb,#1370bb,#1270bb,#1270bb,#1270bb,#1270bb,#1371bb,#1471bc,#1673bc,#1a75bd,#1d77be,#227abf,#277dc1,#2d80c2,#3183c3,#3484c4,#3485c4,#3384c4,#3082c3,#2d80c2,#2a7fc1)"></i>
<i style="height:3px;background:linear-gradient(90deg,#1270bb,#1270bb,#1270bb,#1270bb,#1270bb,#1270bb,#1270bb,#1270bb,#1270bb,#1371bb,#1471bc,#1672bc,#1974bd,#1c76be,#2079bf,#257bc0,#2a7ec1,#2f82c3,#3484c4,#3686c5,#3686c5,#3586c4,#3384c4,#3183c3,#2e81c3)"></i>
<i style="height:3px;background:linear-gradient(90deg,#1270bb,#1270bb,#1270bb,#1270bb,#1270bb,#1270bb,#1270bb,#1270bb,#1371bb,#1471bc,#1672bc,#1874bd,#1b76be,#1f78bf,#247bc0,#287dc1,#2d80c2,#3283c4,#3686c5,#3887c5,#3988c5,#3887c5,#3787c5,#3585c4,#3384c4)"></i>
<i style="height:3px;background:linear-gradient(90deg,#1371bb,#1371bb,#1371bb,#1370bb,#1370bb,#1370bb,#1371bb,#1471bb,#1572bc,#1673bc,#1874bd,#1b76bd,#1f78be,#237ac0,#277dc1,#2c80c2,#3082c3,#3585c4,#3988c6,#3c8ac6,#3f8cc7,#438ec8,#4791ca,#4a93ca,#4992ca)"></i>
<i style="height:3px;background:linear-gradient(90deg,#1572bc,#1572bc,#1471bc,#1471bc,#1471bb,#1471bb,#1471bc,#1572bc,#1773bc,#1974bd,#1b76be,#1f78be,#237abf,#277dc1,#2c80c2,#3082c3,#3585c4,#408cc8,#569ace,#5fa0d0,#69a5d3,#72abd6,#7cb1d9,#83b6db,#82b5db)"></i>
<i style="height:3px;background:linear-gradient(90deg,#1773bc,#1773bc,#1673bc,#1672bc,#1572bc,#1572bc,#1673bc,#1773bc,#1975bd,#1c76be,#1f78be,#237abf,#277dc1,#2c80c2,#3183c3,#3887c5,#4f96cc,#71aad6,#91bedf,#9cc5e2,#a6cae5,#afd0e8,#b9d5ea,#bfd8ec,#bfd8ec)"></i>
<i style="height:3px;background:linear-gradient(90deg,#1a75bd,#1a75bd,#1974bd,#1874bd,#1874bd,#1773bc,#1974bd,#1a75bd,#1d76be,#1f78bf,#237ac0,#277dc1,#2c80c2,#3283c4,#4690c9,#65a3d2,#8bbbdd,#afcfe8,#c9deef,#cfe1f0,#d5e5f2,#d9e7f3,#ddeaf4,#dfebf5,#dfebf5)"></i>
<i style="height:3px;background:linear-gradient(90deg,#1d77be,#1d77be,#1c76be,#1b76be,#1b75bd,#1a75bd,#1c76be,#1e77be,#2079bf,#237bc0,#287dc1,#2d80c2,#3284c4,#5297cd,#7fb3da,#a5cae5,#c6dcee,#d9e7f3,#e1ecf5,#e2ecf6,#e2ecf6,#e2ecf6,#e2ecf6,#e2ecf6,#e2ecf6)"></i>
<i style="height:3px;background:linear-gradient(90deg,#2179bf,#2179bf,#2079bf,#1f78be,#1e77be,#1e77be,#1f78bf,#227abf,#257bc0,#287ec1,#2d80c2,#3384c4,#5599ce,#90bddf,#bdd7eb,#d5e5f2,#e1ecf5,#e2ecf6,#e2ecf6,#e2ecf6,#e2ecf6,#e2ecf6,#e2ecf6,#e2ecf6,#e2ecf6)"></i>
<i style="height:3px;background:linear-gradient(90deg,#267cc0,#267cc0,#257bc0,#237bc0,#227abf,#2279bf,#247bc0,#267cc0,#2a7fc1,#2d81c2,#3585c4,#5a9ccf,#95c1e0,#c9deef,#dfebf5,#e2ecf6,#e2ecf6,#e2ecf6,#e2ecf6,#e2ecf6,#e2ecf6,#e2ecf6,#e2ecf6,#e2ecf6,#e2ecf6)"></i>
<i style="height:3px;background:linear-gradient(90deg,#2b7fc2,#2b7fc2,#2a7fc1,#287ec1,#277dc1,#267cc0,#287ec1,#2c80c2,#2f82c3,#3686c5,#5e9fd0,#99c3e2,#cce0f0,#e1ecf5,#e2ecf6,#e2ecf6,#e2ecf6,#e2ecf6,#e2ecf6,#e2ecf6,#e2ecf6,#e2ecf6,#e2ecf6,#e2ecf6,#e2ecf6)"></i>
<i style="height:3px;background:linear-gradient(90deg,#3183c3,#3183c3,#3082c3,#2e81c2,#2c80c2,#2b7fc2,#2e81c2,#3183c3,#418dc8,#63a2d1,#9ec6e3,#cfe1f0,#e2ecf5,#e2ecf6,#e2ecf6,#e2ecf6,#e2ecf6,#e2ecf6,#e2ecf6,#e2ecf6,#e2ecf6,#e2ecf6,#e2ecf6,#e2ecf6,#e2ecf6)"></i>
<i style="height:3px;background:linear-gradient(90deg,#5599cd,#5599cd,#4791ca,#3987c5,#3284c4,#3183c3,#3887c5,#5297cd,#79b0d8,#a3c9e4,#d1e3f1,#e2ecf6,#e2ecf6,#e2ecf6,#e2ecf6,#e2ecf6,#e2ecf6,#e2ecf6,#e2ecf6,#e2ecf6,#e2ecf6,#e2ecf6,#e2ecf6,#e2ecf6,#e2ecf6)"></i>
<i style="height:3px;background:linear-gradient(90deg,#94c0e0,#94c0e0,#82b5db,#69a5d3,#579ace,#4a93ca,#66a4d2,#91bedf,#b8d4ea,#d4e4f2,#e2ecf6,#e2ecf6,#e2ecf6,#e2ecf6,#e2ecf6,#e2ecf6,#e2ecf6,#e2ecf6,#e2ecf6,#e2ecf6,#e2ecf6,#e2ecf6,#e2ecf6,#e2ecf6,#e2ecf6)"></i>
<i style="height:3px;background:linear-gradient(90deg,#ccdff0,#ccdff0,#bfd8ec,#a9cce6,#96c2e1,#86b8dc,#a7cbe5,#cadeef,#ddeaf4,#e2ecf6,#e2ecf6,#e2ecf6,#e2ecf6,#e2ecf6,#e2ecf6,#e2ecf6,#e2ecf6,#e2ecf6,#e2ecf6,#e2ecf6,#e2ecf6,#e2ecf6,#e2ecf6,#e2ecf6,#e2ecf6)"></i>
<i style="height:3px;background:linear-gradient(90deg,#e2ecf5,#e2ecf5,#dfebf5,#d7e6f3,#cde0f0,#c3daed,#d6e5f2,#e1ecf5,#e2ecf6,#e2ecf6,#e2ecf6,#e2ecf6,#e2ecf6,#e2ecf6,#e2ecf6,#e2ecf6,#e2ecf6,#e2ecf6,#e2ecf6,#e2ecf6,#e2ecf6,#e2ecf6,#e2ecf6,#e2ecf6,#e2ecf6)"></i>
<i style="height:3px;background:linear-gradient(90deg,#e2ecf6,#e2ecf6,#e2ecf6,#e2ecf6,#e2ecf5,#e0ecf5,#e2ecf6,#e2ecf6,#e2ecf6,#e2ecf6,#e2ecf6,#e2ecf6,#e2ecf6,#e2ecf6,#e2ecf6,#e2ecf6,#e2ecf6,#e2ecf6,#e2ecf6,#e2ecf6,#e2ecf6,#e2ecf6,#e2ecf6,#e2ecf6,#e2ecf6)"></i>
<i style="height:3px;background:linear-gradient(90deg,#e2ecf6,#e2ecf6,#e2ecf6,#e2ecf6,#e2ecf6,#e2ecf6,#e2ecf6,#e2ecf6,#e2ecf6,#e2ecf6,#e2ecf6,#e2ecf6,#e2ecf6,#e2ecf6,#e2ecf6,#e2ecf6,#e2ecf6,#e2ecf6,#e2ecf6,#e2ecf6,#e2ecf6,#e2ecf6,#e2ecf6,#e2ecf6,#e2ecf6)"></i>
<i style="height:3px;background:linear-gradient(90deg,#e2ecf6,#e2ecf6,#e2ecf6,#e2ecf6,#e2ecf6,#e2ecf6,#e2ecf6,#e2ecf6,#e2ecf6,#e2ecf6,#e2ecf6,#e2ecf6,#e2ecf6,#e2ecf6,#e2ecf6,#e2ecf6,#e2ecf6,#e2ecf6,#e2ecf6,#e2ecf6,#e2ecf6,#e2ecf6,#e2ecf6,#e2ecf6,#e2ecf6)"></i>
<i style="height:3px;background:linear-gradient(90deg,#e2ecf6,#e2ecf6,#e2ecf6,#e2ecf6,#e2ecf6,#e2ecf6,#e2ecf6,#e2ecf6,#e2ecf6,#e2ecf6,#e2ecf6,#e2ecf6,#e2ecf6,#e2ecf6,#e2ecf6,#e2ecf6,#e2ecf6,#e2ecf6,#e2ecf6,#e2ecf6,#e2ecf6,#e2ecf6,#e2ecf6,#e2ecf6,#e2ecf6)"></i>
<i style="height:3px;background:linear-gradient(90deg,#e2ecf6,#e2ecf6,#e2ecf6,#e2ecf6,#e2ecf6,#e2ecf6,#e2ecf6,#e2ecf6,#e2ecf6,#e2ecf6,#e2ecf6,#e2ecf6,#e2ecf6,#e2ecf6,#e2ecf6,#e2ecf6,#e2ecf6,#e2ecf6,#e2ecf6,#e2ecf6,#e2ecf6,#e2ecf6,#e2ecf6,#e2ecf6,#e2ecf6)"></i>
</div></div>
<div class="hm" style="left:822.40px;top:587.60px;width:98.00px;height:122.60px">
<div class="hi" style="left:-6px;top:-6px;width:110.00px;filter:blur(1.5px)">
<i style="height:3px;background:linear-gradient(90deg,#fef7e3,#fef7e3,#fef7e3,#fef7e3,#fef7e3,#fef7e3,#fef7e3,#fef7e3,#fef7e4,#fef7e4,#fef7e4,#fef7e4,#fef7e4,#fef7e4,#fef7e4,#fef7e4,#fef7e4,#fef7e4,#fef7e4,#fef7e4,#fef7e4,#fef7e4,#fef7e4,#fef7e4,#fef7e4)"></i>
<i style="height:3px;background:linear-gradient(90deg,#fef7e3,#fff7e2,#fff7e2,#fff7e2,#fff7e2,#fff7e2,#fff7e2,#fef7e3,#fef7e3,#fef7e3,#fef7e4,#fef7e4,#fef7e4,#fef7e4,#fef7e4,#fef7e4,#fef7e4,#fef7e4,#fef7e4,#fef7e4,#fef7e4,#fef7e4,#fef7e4,#fef7e4,#fef7e4)"></i>
<i style="height:3px;background:linear-gradient(90deg,#fff7e1,#fff7e1,#fff7e0,#fff6e0,#fff6e0,#fff7e0,#fff7e1,#fff7e1,#fff7e2,#fef7e3,#fef7e3,#fef7e4,#fef7e4,#fef7e4,#fef7e4,#fef7e4,#fef7e4,#fef7e4,#fef7e4,#fef7e4,#fef7e4,#fef7e4,#fef7e4,#fef7e4,#fef7e4)"></i>
<i style="height:3px;background:linear-gradient(90deg,#fff6df,#fff6de,#fff6de,#fff6dd,#fff6dd,#fff6de,#fff6de,#fff6df,#fff7e0,#fff7e1,#fff7e2,#fef7e3,#fef7e4,#fef7e4,#fef7e4,#fef7e4,#fef7e4,#fef7e4,#fef7e4,#fef7e4,#fef7e4,#fef7e4,#fef7e4,#fef7e4,#fef7e4)"></i>
<i style="height:3px;background:linear-gradient(90deg,#fff5dd,#fff5db,#fff4db,#fff4da,#fff4da,#fff4db,#fff5dc,#fff6dd,#fff6de,#fff6e0,#fff7e1,#fff7e2,#fef7e3,#fef7e4,#fef7e4,#fef7e4,#fef7e4,#fef7e4,#fef7e4,#fef7e4,#fef7e4,#fef7e4,#fef7e4,#fef7e4,#fef7e4)"></i>
<i style="height:3px;background:linear-gradient(90deg,#fff4da,#fff3d8,#fff3d6,#fff2d6,#fff2d6,#fff3d7,#fff3d8,#fff4da,#fff5dc,#fff6de,#fff6e0,#fff7e1,#fef7e2,#fef7e3,#fef7e4,#fef7e4,#fef7e4,#fef7e4,#fef7e4,#fef7e4,#fef7e4,#fef7e4,#fef7e4,#fef7e4,#fef7e4)"></i>
<i style="height:3px;background:linear-gradient(90deg,#fff2d6,#fff1d3,#fff1d2,#fff0d1,#fff0d1,#fff1d2,#fff1d4,#fff3d6,#fff4d9,#fff5dc,#fff6de,#fff6e0,#fff7e2,#fef7e3,#fef7e4,#fef7e4,#fef7e4,#fef7e4,#fef7e4,#fef7e4,#fef7e4,#fef7e4,#fef7e4,#fef7e4,#fef7e4)"></i>
<i style="height:3px;background:linear-gradient(90deg,#fff1d2,#ffefcf,#ffeecc,#ffeecb,#ffeecb,#ffeecc,#ffefcf,#fff1d2,#fff2d6,#fff4d9,#fff5dc,#fff6df,#fff7e1,#fff7e2,#fef7e3,#fef7e4,#fef7e4,#fef7e4,#fef7e4,#fef7e4,#fef7e4,#fef7e4,#fef7e4,#fef7e4,#fef7e4)"></i>
<i style="height:3px;background:linear-gradient(90deg,#ffefce,#ffedca,#ffecc7,#ffebc5,#ffebc5,#ffecc7,#ffedca,#ffefce,#fff1d3,#fff3d7,#fff5db,#fff6de,#fff6e0,#fff7e2,#fef7e3,#fef7e4,#fef7e4,#fef7e4,#fef7e4,#fef7e4,#fef7e4,#fef7e4,#fef7e4,#fef7e4,#fef7e4)"></i>
<i style="height:3px;background:linear-gradient(90deg,#ffedca,#ffebc6,#feeac2,#fee9c0,#fee9c0,#feeac2,#ffebc6,#ffeecb,#fff0d0,#fff2d5,#fff4d9,#fff5dd,#fff6df,#fff7e1,#fef7e3,#fef7e4,#fef7e4,#fef7e4,#fef7e4,#fef7e4,#fef7e4,#fef7e4,#fef7e4,#fef7e4,#fef7e4)"></i>
<i style="height:3px;background:linear-gradient(90deg,#ffecc8,#feeac3,#fee8bf,#fee7bd,#fee7bd,#fee8bf,#feeac3,#ffecc8,#ffefce,#fff1d3,#fff3d8,#fff5dc,#fff6df,#fff7e1,#fef7e3,#fef7e3,#fef7e4,#fef7e4,#fef7e4,#fef7e4,#fef7e4,#fef7e4,#fef7e4,#fef7e4,#fef7e4)"></i>
<i style="height:3px;background:linear-gradient(90deg,#ffecc6,#fee9c1,#fee8bd,#fee7bb,#fee7bb,#fee8bd,#feeac2,#ffecc7,#ffeecd,#fff1d3,#fff3d7,#fff5dc,#fff6df,#fff7e1,#fef7e2,#fef7e3,#fef7e4,#fef7e4,#fef7e4,#fef7e4,#fef7e4,#fef7e4,#fef7e4,#fef7e4,#fef7e4)"></i>
<i style="height:3px;background:linear-gradient(90deg,#ffecc7,#fee9c1,#fee8be,#fee7bb,#fee7bc,#fee8be,#feeac2,#ffecc7,#ffefcd,#fff1d3,#fff3d8,#fff5dc,#fff6df,#fff7e1,#fef7e2,#fef7e3,#fef7e4,#fef7e4,#fef7e4,#fef7e4,#fef7e4,#fef7e4,#fef7e4,#fef7e4,#fef7e4)"></i>
<i style="height:3px;background:linear-gradient(90deg,#ffedc8,#feeac4,#fee9c0,#fee8be,#fee8be,#fee9c0,#feebc4,#ffedc9,#ffefce,#fff1d4,#fff4d8,#fff5dc,#fff6df,#fff7e1,#fef7e3,#fef7e3,#fef7e4,#fef7e4,#fef7e4,#fef7e4,#fef7e4,#fef7e4,#fef7e4,#fef7e4,#fef7e4)"></i>
<i style="height:3px;background:linear-gradient(90deg,#ffeecc,#ffecc7,#feeac4,#feeac2,#feeac2,#feebc4,#ffecc8,#ffeecc,#fff0d1,#fff2d6,#fff4da,#fff6dd,#fff6e0,#fff7e2,#fef7e3,#fef7e4,#fef7e4,#fef7e4,#fef7e4,#fef7e4,#fef7e4,#fef7e4,#fef7e4,#fef7e4,#fef7e4)"></i>
<i style="height:3px;background:linear-gradient(90deg,#fff0cf,#ffeecc,#ffedc9,#ffecc7,#ffecc7,#ffedc9,#ffeecc,#fff0d0,#fff2d4,#fff3d8,#fff5db,#fff6de,#fff7e0,#fff7e2,#fef7e3,#fef7e4,#fef7e4,#fef7e4,#fef7e4,#fef7e4,#fef7e4,#fef7e4,#fef7e4,#fef7e4,#fef7e4)"></i>
<i style="height:3px;background:linear-gradient(90deg,#fff1d3,#fff0d0,#ffefce,#ffefcd,#ffefcd,#ffefce,#fff0d1,#fff1d4,#fff3d7,#fff4da,#fff6dd,#fff6df,#fff7e1,#fef7e2,#fef7e3,#fef7e4,#fef7e4,#fef7e4,#fef7e4,#fef7e4,#fef7e4,#fef7e4,#fef7e4,#fef7e4,#fef7e4)"></i>
<i style="height:3px;background:linear-gradient(90deg,#fff3d7,#fff2d5,#fff1d3,#fff1d3,#fff1d3,#fff1d4,#fff2d5,#fff3d8,#fff4da,#fff5dd,#fff6df,#fff7e1,#fff7e2,#fef7e3,#fef7e4,#fef7e4,#fef7e4,#fef7e4,#fef7e4,#fef7e4,#fef7e4,#fef7e4,#fef7e4,#fef7e4,#fef7e4)"></i>
<i style="height:3px;background:linear-gradient(90deg,#fff5db,#fff4d9,#fff3d8,#fff3d7,#fff3d7,#fff3d8,#fff4d9,#fff5db,#fff6dd,#fff6df,#fff7e0,#fff7e2,#fef7e3,#fef7e3,#fef7e4,#fef7e4,#fef7e4,#fef7e4,#fef7e4,#fef7e4,#fef7e4,#fef7e4,#fef7e4,#fef7e4,#fef7e4)"></i>
<i style="height:3px;background:linear-gradient(90deg,#fff6de,#fff5dd,#fff5dc,#fff5db,#fff5db,#fff5dc,#fff5dd,#fff6de,#fff6df,#fff7e1,#fff7e2,#fef7e3,#fef7e3,#fef7e4,#fef7e4,#fef7e4,#fef7e4,#fef7e4,#fef7e3,#fef7e3,#fef7e3,#fef7e3,#fef7e3,#fef7e3,#fef7e4)"></i>
<i style="height:3px;background:linear-gradient(90deg,#fff7e1,#fff6e0,#fff6df,#fff6df,#fff6df,#fff6df,#fff6e0,#fff7e1,#fff7e2,#fef7e2,#fef7e3,#fef7e4,#fef7e4,#fef7e4,#fef7e4,#fef7e4,#fef7e4,#fef7e3,#fef7e3,#fef7e3,#fef7e3,#fef7e3,#fef7e3,#fef7e3,#fef7e3)"></i>
<i style="height:3px;background:linear-gradient(90deg,#fdfaf1,#fdfaf1,#fdfaf0,#fdfaf0,#fdfaf0,#fdfaf0,#fdfaf1,#fdfaf1,#fdfbf2,#fdfbf2,#fdfbf3,#fdfbf3,#fdfbf3,#fdfbf3,#fdfbf3,#fdfbf3,#fdfbf2,#fdfbf2,#fdfaf1,#fdfaf1,#fdfaf0,#fdfaf0,#fdfaf1,#fdfaf1,#fdfbf2)"></i>
<i style="height:3px;background:linear-gradient(90deg,#eff7f8,#eff7f8,#eff7f8,#eff7f8,#eff7f8,#eff7f8,#eff7f8,#eff7f8,#eff7f8,#eff7f8,#eff7f8,#eef7f8,#eff7f8,#eff7f8,#eff7f8,#eff7f8,#f0f8f8,#f0f8f8,#f1f8f8,#f1f8f8,#f1f8f8,#f1f8f8,#f1f8f8,#f1f8f8,#f0f8f8)"></i>
<i style="height:3px;background:linear-gradient(90deg,#fdfaef,#fdfaef,#fdfaef,#fdfaee,#fdfaee,#fdfaef,#fdfaef,#fdfaef,#fdfaef,#fdfaef,#fdfaef,#fdfaef,#fdfaef,#fdfaee,#fdfaee,#fdf9ed,#fdf9eb,#fef9ea,#fef8e9,#fef8e8,#fef8e7,#fef8e7,#fef8e8,#fef8e9,#fef9ea)"></i>
<i style="height:3px;background:linear-gradient(90deg,#fef7e4,#fef7e4,#fef7e4,#fef7e4,#fef7e4,#fef7e4,#fef7e4,#fef7e4,#fef7e4,#fef7e4,#fef7e4,#fef7e4,#fef7e4,#fef7e3,#fff7e2,#fff7e1,#fff6df,#fff6dd,#fff5db,#fff4da,#fff4d9,#fff4d9,#fff4da,#fff5db,#fff5dd)"></i>
<i style="height:3px;background:linear-gradient(90deg,#fef7e4,#fef7e4,#fef7e4,#fef7e4,#fef7e4,#fef7e4,#fef7e4,#fef7e4,#fef7e4,#fef7e4,#fef7e4,#fef7e4,#fef7e3,#fff7e2,#fff7e1,#fff6df,#fff5dc,#fff4da,#fff3d8,#fff2d6,#fff2d5,#fff2d5,#fff2d6,#fff3d7,#fff4da)"></i>
<i style="height:3px;background:linear-gradient(90deg,#fef7e4,#fef7e4,#fef7e4,#fef7e4,#fef7e4,#fef7e4,#fef7e4,#fef7e4,#fef7e4,#fef7e4,#fef7e4,#fef7e4,#fef7e3,#fff7e1,#fff6e0,#fff6dd,#fff4da,#fff3d7,#fff2d4,#fff0d1,#fff0d0,#fff0d0,#fff0d1,#fff1d4,#fff3d7)"></i>
<i style="height:3px;background:linear-gradient(90deg,#fef7e4,#fef7e4,#fef7e4,#fef7e4,#fef7e4,#fef7e4,#fef7e4,#fef7e4,#fef7e4,#fef7e4,#fef7e4,#fef7e3,#fff7e2,#fff7e1,#fff6de,#fff5db,#fff3d8,#fff1d4,#fff0d0,#ffeecc,#ffeecb,#ffedcb,#ffeecc,#fff0cf,#fff1d3)"></i>
<i style="height:3px;background:linear-gradient(90deg,#fef7e4,#fef7e4,#fef7e4,#fef7e4,#fef7e4,#fef7e4,#fef7e4,#fef7e4,#fef7e4,#fef7e4,#fef7e4,#fef7e3,#fff7e2,#fff6e0,#fff6dd,#fff4d9,#fff2d5,#fff0d0,#ffeecb,#ffecc8,#ffebc5,#ffebc5,#ffecc7,#ffeecb,#fff0d0)"></i>
<i style="height:3px;background:linear-gradient(90deg,#fef7e4,#fef7e4,#fef7e4,#fef7e4,#fef7e4,#fef7e4,#fef7e4,#fef7e4,#fef7e4,#fef7e4,#fef7e4,#fef7e3,#fff7e1,#fff6df,#fff5dc,#fff3d8,#fff1d2,#ffeecd,#ffecc7,#feeac3,#fee9c0,#fee9c0,#feeac3,#ffecc7,#ffeecc)"></i>
<i style="height:3px;background:linear-gradient(90deg,#fef7e4,#fef7e4,#fef7e4,#fef7e4,#fef7e4,#fef7e4,#fef7e4,#fef7e4,#fef7e4,#fef7e4,#fef7e4,#fef7e3,#fff7e1,#fff6de,#fff5db,#fff3d6,#fff0d0,#ffedca,#feebc4,#fee8bf,#fee7bc,#fee7bc,#fee8bf,#feeac3,#ffedc9)"></i>
<i style="height:3px;background:linear-gradient(90deg,#fef7e4,#fef7e4,#fef7e4,#fef7e4,#fef7e4,#fef7e4,#fef7e4,#fef7e4,#fef7e4,#fef7e4,#fef7e4,#fef7e3,#fff7e1,#fff6de,#fff4da,#fff2d5,#ffefcf,#ffecc8,#feeac2,#fee7bc,#fee6b9,#fee6b9,#fee7bc,#fee9c1,#ffecc8)"></i>
<i style="height:3px;background:linear-gradient(90deg,#fef7e4,#fef7e4,#fef7e4,#fef7e4,#fef7e4,#fef7e4,#fef7e4,#fef7e4,#fef7e4,#fef7e4,#fef7e4,#fef7e3,#fff7e1,#fff6de,#fff4da,#fff2d5,#ffefcf,#ffecc8,#fee9c1,#fee7bb,#fee5b8,#fee5b8,#fee7bb,#fee9c0,#ffecc7)"></i>
<i style="height:3px;background:linear-gradient(90deg,#fef7e4,#fef7e4,#fef7e4,#fef7e4,#fef7e4,#fef7e4,#fef7e4,#fef7e4,#fef7e4,#fef7e4,#fef7e4,#fef7e3,#fff7e1,#fff6de,#fff4da,#fff2d5,#ffefcf,#ffecc8,#fee9c1,#fee7bc,#fee6b9,#fee6b9,#fee7bb,#fee9c1,#ffecc7)"></i>
<i style="height:3px;background:linear-gradient(90deg,#fef7e4,#fef7e4,#fef7e4,#fef7e4,#fef7e4,#fef7e4,#fef7e4,#fef7e4,#fef7e4,#fef7e4,#fef7e4,#fef7e3,#fff7e1,#fff6de,#fff5db,#fff2d6,#fff0d0,#ffedc9,#feeac3,#fee8be,#fee7bb,#fee7bb,#fee8be,#feeac3,#ffedc9)"></i>
<i style="height:3px;background:linear-gradient(90deg,#fef7e4,#fef7e4,#fef7e4,#fef7e4,#fef7e4,#fef7e4,#fef7e4,#fef7e4,#fef7e4,#fef7e4,#fef7e4,#fef7e3,#fff7e1,#fff6df,#fff5dc,#fff3d7,#fff1d2,#ffeecc,#ffecc6,#feeac2,#fee8bf,#fee8bf,#fee9c1,#ffebc6,#ffeecb)"></i>
<i style="height:3px;background:linear-gradient(90deg,#fef7e4,#fef7e4,#fef7e4,#fef7e4,#fef7e4,#fef7e4,#fef7e4,#fef7e4,#fef7e4,#fef7e4,#fef7e4,#fef7e3,#fff7e2,#fff6e0,#fff5dd,#fff4d9,#fff2d4,#ffefcf,#ffedca,#ffebc6,#feeac4,#feeac4,#ffebc6,#ffedca,#ffefce)"></i>
<i style="height:3px;background:linear-gradient(90deg,#fef7e4,#fef7e4,#fef7e4,#fef7e4,#fef7e4,#fef7e4,#fef7e4,#fef7e4,#fef7e4,#fef7e4,#fef7e4,#fef7e3,#fff7e2,#fff7e0,#fff6de,#fff5db,#fff3d7,#fff1d2,#ffefce,#ffeecb,#ffedc9,#ffedc9,#ffeecb,#ffefce,#fff1d2)"></i>
<i style="height:3px;background:linear-gradient(90deg,#fef7e4,#fef7e4,#fef7e4,#fef7e4,#fef7e4,#fef7e4,#fef7e4,#fef7e4,#fef7e4,#fef7e4,#fef7e4,#fef7e4,#fef7e3,#fff7e1,#fff6df,#fff5dd,#fff4d9,#fff2d6,#fff1d3,#fff0d0,#ffefce,#ffefce,#fff0d0,#fff1d2,#fff2d6)"></i>
<i style="height:3px;background:linear-gradient(90deg,#fef7e4,#fef7e4,#fef7e4,#fef7e4,#fef7e4,#fef7e4,#fef7e4,#fef7e4,#fef7e4,#fef7e4,#fef7e4,#fef7e4,#fef7e3,#fff7e2,#fff7e0,#fff6de,#fff5dc,#fff4d9,#fff3d7,#fff2d5,#fff1d3,#fff1d3,#fff2d4,#fff3d6,#fff4d9)"></i>
<i style="height:3px;background:linear-gradient(90deg,#fef7e4,#fef7e4,#fef7e4,#fef7e4,#fef7e4,#fef7e4,#fef7e4,#fef7e4,#fef7e4,#fef7e4,#fef7e4,#fef7e4,#fef7e3,#fef7e3,#fff7e1,#fff6e0,#fff6de,#fff5dc,#fff4da,#fff4d9,#fff3d8,#fff3d8,#fff4d8,#fff4da,#fff5dc)"></i>
<i style="height:3px;background:linear-gradient(90deg,#fef7e4,#fef7e4,#fef7e4,#fef7e4,#fef7e4,#fef7e4,#fef7e4,#fef7e4,#fef7e4,#fef7e4,#fef7e4,#fef7e4,#fef7e4,#fef7e3,#fef7e2,#fff7e1,#fff6e0,#fff6de,#fff6dd,#fff5dc,#fff5db,#fff5db,#fff5dc,#fff5dd,#fff6de)"></i>
<i style="height:3px;background:linear-gradient(90deg,#fef7e4,#fef7e4,#fef7e4,#fef7e4,#fef7e4,#fef7e4,#fef7e4,#fef7e4,#fef7e4,#fef7e4,#fef7e4,#fef7e4,#fef7e4,#fef7e4,#fef7e3,#fff7e2,#fff7e1,#fff7e0,#fff6df,#fff6de,#fff6de,#fff6de,#fff6de,#fff6df,#fff7e0)"></i>
<i style="height:3px;background:linear-gradient(90deg,#fef7e4,#fef7e4,#fef7e4,#fef7e4,#fef7e4,#fef7e4,#fef7e4,#fef7e4,#fef7e4,#fef7e4,#fef7e4,#fef7e4,#fef7e4,#fef7e4,#fef7e4,#fef7e3,#fef7e2,#fff7e2,#fff7e1,#fff7e1,#fff7e0,#fff7e0,#fff7e1,#fff7e1,#fff7e2)"></i>
<i style="height:3px;background:linear-gradient(90deg,#fef7e4,#fef7e4,#fef7e4,#fef7e4,#fef7e4,#fef7e4,#fef7e4,#fef7e4,#fef7e4,#fef7e4,#fef7e4,#fef7e4,#fef7e4,#fef7e4,#fef7e4,#fef7e4,#fef7e3,#fef7e3,#fef7e2,#fff7e2,#fff7e2,#fff7e2,#fff7e2,#fef7e2,#fef7e3)"></i>
</div></div>
<div class="hm" style="left:1291.60px;top:587.30px;width:98.00px;height:122.90px;background:#fde3bf"></div>
<div class="hm" style="left:1731.40px;top:587.40px;width:97.20px;height:122.80px">
<div class="hi" style="left:-6px;top:-6px;width:109.20px;filter:blur(1.5px)">
<i style="height:3px;background:linear-gradient(90deg,#eaf2f8,#ebf2f8,#eaf2f8,#eaf2f8,#ebf2f8,#ebf2f8,#ebf2f8,#ebf2f8,#ebf2f8,#eaf2f8,#c5dbee,#79afd8,#428ec8,#2d80c2,#267cc0,#247bc0,#237ac0,#227abf,#227abf,#227abf,#237bc0,#257cc0,#277dc1,#297ec1,#2a7fc1)"></i>
<i style="height:3px;background:linear-gradient(90deg,#e8f0f7,#e8f0f7,#e8f0f7,#e8f0f7,#e8f0f7,#e8f0f7,#ebf2f8,#ebf2f8,#ebf2f8,#ebf2f8,#c8ddef,#69a6d3,#3283c4,#227abf,#2079bf,#2179bf,#2179bf,#2078bf,#2078bf,#2079bf,#227abf,#247bc0,#267cc0,#287ec1,#2a7ec1)"></i>
<i style="height:3px;background:linear-gradient(90deg,#e6eff7,#e6eff7,#e6eff7,#e5eff6,#e5eef6,#e5eef6,#e7eff7,#ebf2f8,#ebf2f8,#ebf2f8,#c5dcee,#5d9ed0,#277dc1,#1b76be,#1d77be,#1f78bf,#1f78be,#1e77be,#1e77be,#1f78be,#2079bf,#237ac0,#267cc0,#287dc1,#297ec1)"></i>
<i style="height:3px;background:linear-gradient(90deg,#e5eef6,#e5eef6,#e5eef6,#e4eef6,#e3edf6,#e2edf6,#e3edf6,#e6eff7,#ebf2f8,#ebf2f8,#bfd8ec,#5d9ed0,#247bc0,#1773bc,#1c76be,#1e78be,#1e77be,#1d77be,#1d76be,#1d77be,#1f78bf,#227abf,#257cc0,#277dc1,#297ec1)"></i>
<i style="height:3px;background:linear-gradient(90deg,#e3edf6,#e4eef6,#e4eef6,#e3edf6,#e2ecf5,#e1ecf5,#e2edf6,#e5eef6,#ebf2f8,#ebf2f8,#bbd6eb,#589bce,#2179bf,#1471bc,#1974bd,#1c76be,#1c76be,#1c76be,#1c76be,#1d77be,#1f78be,#2179bf,#247bc0,#277dc1,#287ec1)"></i>
<i style="height:3px;background:linear-gradient(90deg,#e2edf6,#e3edf6,#e4eef6,#e3eef6,#e2edf6,#e1ecf5,#e3edf6,#e8f0f7,#ebf2f8,#e9f1f8,#b3d1e9,#4c94cb,#1c76be,#1270bb,#1371bb,#1874bd,#1a75bd,#1b76bd,#1c76be,#1d77be,#1e77be,#2079bf,#237ac0,#257cc0,#277dc1)"></i>
<i style="height:3px;background:linear-gradient(90deg,#e2edf6,#e4eef6,#e5eff6,#e5eff7,#e3edf6,#e2edf6,#e4eef6,#eaf2f8,#ebf2f8,#e2edf6,#a0c7e4,#448fc9,#1773bc,#1270bb,#1270bb,#1471bc,#1974bd,#1b76bd,#1c76be,#1d77be,#1e78be,#2079bf,#227abf,#247bc0,#277dc1)"></i>
<i style="height:3px;background:linear-gradient(90deg,#e2edf6,#e5eef6,#e8f0f7,#e9f1f8,#e6eff7,#e5eef6,#e5eff6,#ebf2f8,#ebf2f8,#d8e6f3,#8cbbde,#3a89c6,#1371bb,#1270bb,#1270bb,#1270bb,#1874bd,#1c76be,#1d77be,#1e78be,#1f78bf,#2079bf,#227abf,#247bc0,#277dc1)"></i>
<i style="height:3px;background:linear-gradient(90deg,#e2edf6,#e8f0f7,#ebf2f8,#ebf2f8,#ebf2f8,#e9f1f8,#e9f1f7,#ebf2f8,#e8f0f7,#c4dbed,#6fa9d5,#2d81c2,#1270bb,#1270bb,#1270bb,#1270bb,#1974bd,#1d77be,#1f78bf,#2079bf,#2179bf,#2179bf,#227abf,#247bc0,#277dc1)"></i>
<i style="height:3px;background:linear-gradient(90deg,#e1ecf5,#ebf2f8,#ebf2f8,#ebf2f8,#ebf2f8,#ebf2f8,#ebf2f8,#e7eff7,#d9e7f3,#a2c8e4,#5297cd,#2179bf,#1270bb,#1270bb,#1270bb,#1270bb,#1b75bd,#2079bf,#227abf,#237bc0,#237bc0,#237bc0,#247bc0,#257cc0,#297ec1)"></i>
<i style="height:3px;background:linear-gradient(90deg,#dce9f4,#ebf2f8,#ebf2f8,#ebf2f8,#ebf2f8,#eaf1f8,#e5eff6,#d5e5f2,#bad5eb,#7cb1d9,#3e8bc7,#1974bd,#1270bb,#1270bb,#1270bb,#1572bc,#1e77be,#247bc0,#267cc0,#277dc1,#277dc1,#277dc1,#277dc1,#297ec1,#2c80c2)"></i>
<i style="height:3px;background:linear-gradient(90deg,#cfe2f1,#e0ebf5,#e6eff7,#e5eef6,#dfebf5,#d8e6f3,#cee1f0,#b2d1e8,#88b9dd,#5498cd,#2c80c2,#1572bc,#1270bb,#1270bb,#1270bb,#1a75bd,#227abf,#297ec1,#2c80c2,#2d80c2,#2d80c2,#2c80c2,#2c80c2,#2e81c2,#3183c3)"></i>
<i style="height:3px;background:linear-gradient(90deg,#b6d3e9,#c5dcee,#c9deef,#c9deef,#c2daed,#b2d1e9,#a0c7e3,#80b4da,#5a9dcf,#3585c4,#1f78bf,#1370bb,#1270bb,#1270bb,#1773bc,#2078bf,#287ec1,#2f82c3,#3384c4,#3485c4,#3384c4,#3384c4,#3384c4,#3485c4,#3787c5)"></i>
<i style="height:3px;background:linear-gradient(90deg,#91bedf,#93c0e0,#94c0e0,#95c1e0,#8ebdde,#7fb3da,#66a4d3,#5297cd,#3b89c6,#257cc0,#1874bd,#1371bb,#1471bc,#1873bd,#1e77be,#277dc1,#3082c3,#3787c5,#3c89c6,#3d8ac7,#3c8ac6,#3b89c6,#3b89c6,#3c8ac6,#3f8bc7)"></i>
<i style="height:3px;background:linear-gradient(90deg,#6ca7d4,#5d9ed0,#5d9ed0,#5d9ed0,#5a9ccf,#5599ce,#428ec8,#3686c5,#2b7fc2,#1e77be,#1672bc,#1572bc,#1974bd,#1e77be,#257cc0,#2f82c3,#3988c5,#428dc8,#4790c9,#4891ca,#4891ca,#4690c9,#4690c9,#4690c9,#4891ca)"></i>
<i style="height:3px;background:linear-gradient(90deg,#5297cd,#3f8cc7,#3c89c6,#3c8ac6,#3d8ac7,#3e8bc7,#3585c4,#2e81c2,#267cc0,#1d77be,#1773bc,#1773bc,#1b76be,#227abf,#2c80c2,#3887c5,#448fc9,#4e95cb,#5499cd,#569ace,#5499cd,#5298cd,#5197cc,#5197cc,#5197cc)"></i>
<i style="height:3px;background:linear-gradient(90deg,#448fc9,#3686c5,#3283c4,#3384c4,#3786c5,#3988c5,#3686c5,#3183c3,#2a7fc2,#2179bf,#1a75bd,#1974bd,#1d77be,#267cc0,#3284c4,#418dc8,#5096cc,#5c9ed0,#63a2d1,#64a3d2,#62a1d1,#60a0d1,#5d9ed0,#5c9ed0,#5c9dcf)"></i>
<i style="height:3px;background:linear-gradient(90deg,#428dc8,#3887c5,#3686c5,#3988c6,#3f8bc7,#418dc8,#408cc7,#3c89c6,#3485c4,#287ec1,#1f78be,#1b75bd,#1e78be,#297ec1,#3887c5,#4b93cb,#5d9ed0,#6ba7d4,#73acd6,#74add7,#71abd6,#6ea8d5,#6aa6d4,#68a5d3,#67a4d3)"></i>
<i style="height:3px;background:linear-gradient(90deg,#4690c9,#418dc8,#438ec8,#4992ca,#5096cc,#5297cd,#4f96cc,#4a93ca,#408cc8,#3082c3,#237abf,#1c76be,#1f78be,#2b7fc2,#3e8bc7,#5699ce,#6ba7d4,#7db2d9,#85b7dc,#85b7dc,#81b4da,#7cb1d9,#78afd8,#75add7,#72abd6)"></i>
<i style="height:3px;background:linear-gradient(90deg,#4e95cb,#4f95cc,#5498cd,#5d9ed0,#65a3d2,#65a3d2,#5f9fd0,#579bce,#4b93cb,#3686c5,#257cc0,#1c76be,#1f78be,#2d80c2,#448fc9,#60a0d1,#7ab0d8,#8ebdde,#97c2e1,#96c1e1,#8fbddf,#8abadd,#86b7dc,#82b5db,#7db2d9)"></i>
<i style="height:3px;background:linear-gradient(90deg,#579bce,#5c9ed0,#65a3d2,#70aad5,#7ab0d8,#76add7,#6ba7d4,#5fa0d0,#4f95cc,#3988c5,#267cc0,#1b76be,#1d77be,#2e81c3,#4a92ca,#6aa6d4,#89b9dd,#9fc7e3,#a9cce6,#a7cbe5,#9ec6e3,#98c2e1,#93bfe0,#8ebcde,#87b8dc)"></i>
<i style="height:3px;background:linear-gradient(90deg,#60a0d1,#68a5d3,#72abd6,#7db2d9,#85b7dc,#7fb3da,#72abd6,#62a2d1,#4f96cc,#3988c5,#267cc0,#1a75bd,#1c76be,#3083c3,#5197cc,#74add7,#95c1e1,#aecfe7,#b9d5ea,#b6d3ea,#accee7,#a3c9e4,#9dc5e3,#97c2e1,#8fbddf)"></i>
<i style="height:3px;background:linear-gradient(90deg,#66a4d2,#70aad5,#7ab0d8,#83b6db,#87b8dc,#81b4da,#73acd6,#62a1d1,#4e95cb,#3887c5,#267cc0,#1b75bd,#1c76be,#3585c4,#589bce,#7eb2d9,#a0c7e3,#bad5eb,#c5dcee,#c2daed,#b6d3e9,#a9cce6,#a3c8e4,#9cc5e3,#93bfe0)"></i>
<i style="height:3px;background:linear-gradient(90deg,#68a5d3,#72abd6,#7bb1d9,#82b5db,#83b6db,#7cb1d9,#6fa9d5,#5e9fd0,#4a92ca,#3686c5,#277dc1,#1e77be,#237bc0,#3c89c6,#60a0d1,#85b7dc,#a7cbe5,#c1d9ed,#cbdfef,#c8ddee,#b7d4ea,#a6cae5,#a0c7e3,#9cc5e2,#91bedf)"></i>
<i style="height:3px;background:linear-gradient(90deg,#67a4d3,#6fa9d5,#76aed7,#7bb1d9,#7ab0d9,#73acd6,#67a4d3,#579bce,#4590c9,#3485c4,#277dc1,#237abf,#2b7fc2,#448fc9,#68a5d3,#8bbadd,#a8cce6,#c1d9ed,#cadeef,#c5dbee,#aecfe7,#97c2e1,#91bedf,#90bedf,#88b9dd)"></i>
<i style="height:3px;background:linear-gradient(90deg,#62a1d1,#68a5d3,#6da8d4,#70aad5,#6ea9d5,#68a5d3,#5d9ed0,#5096cc,#408cc7,#3283c3,#287dc1,#267cc0,#3183c3,#4a93ca,#6da8d4,#8bbadd,#a1c7e4,#b7d4ea,#bdd7ec,#b3d2e9,#97c2e1,#7cb1d9,#74acd6,#75add7,#7ab0d8)"></i>
<i style="height:3px;background:linear-gradient(90deg,#5c9ed0,#5fa0d1,#61a1d1,#61a1d1,#5fa0d0,#5a9ccf,#5297cd,#4790c9,#3a88c6,#2f81c3,#277dc1,#287dc1,#3384c4,#4b93cb,#6da8d4,#84b6db,#8cbbde,#9ec6e3,#a1c8e4,#8ebdde,#6fa9d5,#60a0d1,#589bce,#5b9dcf,#6fa9d5)"></i>
<i style="height:3px;background:linear-gradient(90deg,#5599ce,#569ace,#5599cd,#5297cd,#4f95cc,#4c94cb,#4791c9,#3f8bc7,#3585c4,#2c80c2,#267cc0,#277dc1,#3183c3,#4690c9,#63a2d2,#73acd6,#6ea9d5,#70aad5,#7eb2da,#70aad5,#5197cc,#599ccf,#5398cd,#5499cd,#73acd6)"></i>
<i style="height:3px;background:linear-gradient(90deg,#4d94cb,#4c94cb,#4991ca,#438ec8,#408cc8,#408cc7,#3d8ac7,#3787c5,#3082c3,#287ec1,#247bc0,#247bc0,#2b7fc2,#3a88c6,#4f95cc,#5b9dcf,#5a9ccf,#5197cc,#73acd6,#7bb1d9,#70aad5,#76add7,#74acd7,#77aed8,#8abadd)"></i>
<i style="height:3px;background:linear-gradient(90deg,#4690c9,#438ec8,#3f8bc7,#3988c5,#3786c5,#3786c5,#3585c4,#3183c3,#2b7fc2,#257cc0,#2179bf,#2179bf,#257bc0,#2f82c3,#3d8ac7,#4d94cb,#62a1d1,#73acd6,#94c0e0,#a7cbe5,#b2d1e9,#aacce6,#accee7,#b1d0e8,#adcee7)"></i>
<i style="height:3px;background:linear-gradient(90deg,#3f8cc7,#3c8ac6,#3787c5,#3284c4,#3082c3,#3082c3,#2f82c3,#2c80c2,#287dc1,#227abf,#1e77be,#1d77be,#1f78be,#297ec1,#3a88c6,#5499cd,#86b8dc,#afcfe8,#c6dcee,#d1e2f1,#d9e7f3,#d4e4f2,#d6e5f2,#d7e6f3,#cce0f0)"></i>
<i style="height:3px;background:linear-gradient(90deg,#3988c6,#3686c5,#3283c3,#2e81c2,#2b80c2,#2b7fc2,#2b7fc2,#297ec1,#257bc0,#1f78bf,#1b75bd,#1874bd,#1a75bd,#287ec1,#4891ca,#7fb3da,#b7d4ea,#d5e5f2,#e2edf6,#e8f0f7,#ebf2f8,#e8f0f7,#eaf1f8,#e9f1f7,#deeaf4)"></i>
<i style="height:3px;background:linear-gradient(90deg,#3585c4,#3183c3,#2d81c2,#2a7fc1,#287dc1,#287dc1,#287dc1,#267cc0,#237ac0,#1e77be,#1874bd,#1572bc,#1974bd,#2d80c2,#5fa0d0,#a9cce6,#d9e7f3,#ebf2f8,#ebf2f8,#ebf2f8,#ebf2f8,#ebf2f8,#ebf2f8,#ebf2f8,#e6eff7)"></i>
<i style="height:3px;background:linear-gradient(90deg,#3183c3,#2d81c2,#2a7ec1,#277dc1,#257cc0,#257bc0,#257cc0,#257cc0,#227abf,#1d76be,#1773bc,#1572bc,#1c76be,#3585c4,#7ab0d8,#c8ddee,#ebf2f8,#ebf2f8,#ebf2f8,#ebf2f8,#ebf2f8,#eaf1f8,#ebf2f8,#ebf2f8,#e9f1f7)"></i>
<i style="height:3px;background:linear-gradient(90deg,#2d81c2,#2a7fc1,#277dc1,#247bc0,#237abf,#227abf,#237ac0,#247bc0,#227abf,#1c76be,#1873bd,#1874bd,#247bc0,#4891ca,#9ac4e2,#dce9f4,#ebf2f8,#ebf2f8,#ebf2f8,#ebf2f8,#e8f0f7,#e5eff6,#e8f0f7,#e9f1f7,#e8f0f7)"></i>
<i style="height:3px;background:linear-gradient(90deg,#2b7fc2,#287dc1,#257bc0,#227abf,#2179bf,#2079bf,#2179bf,#2179bf,#2078bf,#1c76be,#1975bd,#1c76be,#2e81c2,#5fa0d0,#b3d2e9,#e9f1f7,#ebf2f8,#ebf2f8,#ebf2f8,#eaf1f8,#e5eef6,#e2edf6,#e4eef6,#e6eff7,#e7eff7)"></i>
<i style="height:3px;background:linear-gradient(90deg,#297ec1,#267cc0,#237ac0,#2179bf,#1f78be,#1e78be,#1f78be,#1f78be,#1e77be,#1b76be,#1c76be,#2179bf,#3585c4,#70aad5,#c2daed,#ebf2f8,#ebf2f8,#ebf2f8,#e7f0f7,#e4eef6,#e1ecf5,#e0ecf5,#e2ecf5,#e4eef6,#e5eff6)"></i>
<i style="height:3px;background:linear-gradient(90deg,#287dc1,#257bc0,#227abf,#2078bf,#1e77be,#1d77be,#1d77be,#1c76be,#1b76bd,#1a75bd,#1d77be,#267cc0,#3787c5,#7bb1d9,#cee1f0,#ebf2f8,#ebf2f8,#e6eff7,#e1ecf5,#e0ecf5,#dfebf5,#dfebf5,#e1ecf5,#e3edf6,#e5eef6)"></i>
<i style="height:3px;background:linear-gradient(90deg,#277dc1,#247bc0,#2179bf,#1f78bf,#1d77be,#1c76be,#1b76be,#1b75bd,#1975bd,#1974bd,#1d77be,#277dc1,#3a89c6,#8abadd,#dae8f3,#ebf2f8,#ebf2f8,#e3edf6,#dfebf5,#deeaf5,#deeaf5,#dfebf5,#e0ecf5,#e3edf6,#e5eef6)"></i>
<i style="height:3px;background:linear-gradient(90deg,#267cc0,#247bc0,#2279bf,#1f78bf,#1d77be,#1c76be,#1b76bd,#1a75bd,#1974bd,#1873bd,#1a75bd,#257cc0,#458fc9,#99c3e2,#e2edf6,#ebf2f8,#eaf1f8,#e2edf6,#dfebf5,#deebf5,#dfebf5,#dfebf5,#e1ecf5,#e3edf6,#e5eef6)"></i>
<i style="height:3px;background:linear-gradient(90deg,#267cc0,#247bc0,#227abf,#2079bf,#1e78be,#1d77be,#1c76be,#1b75bd,#1974bd,#1773bc,#1974bd,#247bc0,#4c94cb,#a1c7e4,#e1ecf5,#ebf2f8,#eaf1f8,#e3edf6,#e0ecf5,#e0ebf5,#e0ecf5,#e1ecf5,#e2edf6,#e4eef6,#e6eff7)"></i>
<i style="height:3px;background:linear-gradient(90deg,#277dc1,#257cc0,#237ac0,#2179bf,#2078bf,#1f78be,#1e77be,#1d77be,#1c76be,#1a75bd,#1b75bd,#247bc0,#4e95cb,#a8cce6,#e3edf6,#ebf2f8,#e8f0f7,#e4eef6,#e3edf6,#e3edf6,#e3edf6,#e3edf6,#e4eef6,#e5eef6,#e7f0f7)"></i>
<i style="height:3px;background:linear-gradient(90deg,#287dc1,#267cc0,#257bc0,#237ac0,#227abf,#2179bf,#2179bf,#2179bf,#2078bf,#1f78be,#2179bf,#2a7ec1,#4f96cc,#b6d3e9,#e8f0f7,#eaf1f8,#e6eff7,#e6eff7,#e6eff7,#e6eff7,#e5eff6,#e5eff6,#e6eff7,#e7f0f7,#e8f0f7)"></i>
<i style="height:3px;background:linear-gradient(90deg,#297ec1,#287dc1,#277dc1,#257cc0,#257bc0,#247bc0,#247bc0,#257cc0,#257cc0,#267cc0,#2a7fc2,#3787c5,#64a3d2,#c0d9ec,#ebf2f8,#eaf1f8,#e7f0f7,#e8f0f7,#e9f1f7,#e9f1f7,#e8f0f7,#e8f0f7,#e8f0f7,#e9f1f7,#eaf2f8)"></i>
<i style="height:3px;background:linear-gradient(90deg,#2a7fc2,#2a7ec1,#297ec1,#287dc1,#287dc1,#287dc1,#297ec1,#2a7fc1,#2c80c2,#2f81c3,#3686c5,#4b93cb,#7ab0d8,#c1d9ed,#e6eff7,#ebf2f8,#eaf1f8,#eaf1f8,#ebf2f8,#ebf2f8,#ebf2f8,#ebf2f8,#ebf2f8,#ebf2f8,#ebf2f8)"></i>
</div></div>
<div class="hm" style="left:1442.30px;top:52.90px;width:18.40px;height:396.95px;background:linear-gradient(180deg,#d73027,#dc3c2d,#e14834,#e6543a,#eb6040,#ef6c47,#f1794e,#f38656,#f5935d,#f7a064,#f9ad6d,#fab87b,#fbc388,#fcce96,#fdd9a4,#fee2b2,#fee9c1,#fff0d0,#fff6df,#fdfaf0,#f8faf8,#eff7f8,#e7f4f7,#dff1f6,#d7eef4,#cee9f2,#c4e3ef,#baddec,#b0d7e9,#a6d1e6,#9cc9e2,#92c1dd,#88b8d9,#7fafd4,#75a6d0,#6c9cca,#6293c5,#5889bf,#4f7fba,#4575b4)"></div>
<div class="hm" style="left:1917.00px;top:52.90px;width:17.40px;height:396.95px;background:linear-gradient(180deg,#ebf2f8,#e6eff7,#e2ecf5,#ddeaf4,#d8e7f3,#d3e4f2,#cfe1f0,#cadeef,#c5dbee,#bfd8ec,#b9d5ea,#b3d1e9,#adcee7,#a7cbe5,#a1c7e4,#9bc4e2,#95c1e0,#8fbdde,#89b9dd,#83b5db,#7cb2d9,#76aed7,#70aad6,#6aa6d4,#65a3d2,#5f9fd0,#599ccf,#5398cd,#4d94cb,#4891ca,#428dc8,#3c8ac6,#3786c5,#3283c3,#2c80c2,#277dc1,#227abf,#1d76be,#1773bc,#1270bb)"></div>
<div class="hm" style="left:1440.30px;top:533.00px;width:17.50px;height:394.50px;background:linear-gradient(180deg,#d73027,#dc3c2d,#e14834,#e6543a,#eb6040,#ef6c47,#f1794e,#f38656,#f5935d,#f7a064,#f9ad6d,#fab87b,#fbc388,#fcce96,#fdd9a4,#fee2b2,#fee9c1,#fff0d0,#fff6df,#fdfaf0,#f8faf8,#eff7f8,#e7f4f7,#dff1f6,#d7eef4,#cee9f2,#c4e3ef,#baddec,#b0d7e9,#a6d1e6,#9cc9e2,#92c1dd,#88b8d9,#7fafd4,#75a6d0,#6c9cca,#6293c5,#5889bf,#4f7fba,#4575b4)"></div>
<div class="hm" style="left:1913.60px;top:533.00px;width:18.10px;height:394.50px;background:linear-gradient(180deg,#ebf2f8,#e6eff7,#e2ecf5,#ddeaf4,#d8e7f3,#d3e4f2,#cfe1f0,#cadeef,#c5dbee,#bfd8ec,#b9d5ea,#b3d1e9,#adcee7,#a7cbe5,#a1c7e4,#9bc4e2,#95c1e0,#8fbdde,#89b9dd,#83b5db,#7cb2d9,#76aed7,#70aad6,#6aa6d4,#65a3d2,#5f9fd0,#599ccf,#5398cd,#4d94cb,#4891ca,#428dc8,#3c8ac6,#3786c5,#3283c3,#2c80c2,#277dc1,#227abf,#1d76be,#1773bc,#1270bb)"></div>
<div class="hm" style="left:1832.40px;top:106.40px;width:10.20px;height:124.30px;background:linear-gradient(180deg,#ebf2f8,#e6eff7,#e2ecf5,#ddeaf4,#d8e7f3,#d3e4f2,#cfe1f0,#cadeef,#c5dbee,#bfd8ec,#b9d5ea,#b3d1e9,#adcee7,#a7cbe5,#a1c7e4,#9bc4e2,#95c1e0,#8fbdde,#89b9dd,#83b5db,#7cb2d9,#76aed7,#70aad6,#6aa6d4,#65a3d2,#5f9fd0,#599ccf,#5398cd,#4d94cb,#4891ca,#428dc8,#3c8ac6,#3786c5,#3283c3,#2c80c2,#277dc1,#227abf,#1d76be,#1773bc,#1270bb)"></div>
<div class="hm" style="left:1834.40px;top:587.40px;width:10.20px;height:122.80px;background:linear-gradient(180deg,#ebf2f8,#e6eff7,#e2ecf5,#ddeaf4,#d8e7f3,#d3e4f2,#cfe1f0,#cadeef,#c5dbee,#bfd8ec,#b9d5ea,#b3d1e9,#adcee7,#a7cbe5,#a1c7e4,#9bc4e2,#95c1e0,#8fbdde,#89b9dd,#83b5db,#7cb2d9,#76aed7,#70aad6,#6aa6d4,#65a3d2,#5f9fd0,#599ccf,#5398cd,#4d94cb,#4891ca,#428dc8,#3c8ac6,#3786c5,#3283c3,#2c80c2,#277dc1,#227abf,#1d76be,#1773bc,#1270bb)"></div>
<svg width="1996" height="995" viewBox="0 0 1996 995">
<rect x="131.40" y="52.90" width="328.70" height="396.95" fill="none" stroke="#111" stroke-width="1.6"/>
<line x1="213.58" y1="52.90" x2="213.58" y2="61.60" stroke="#111" stroke-width="1.3"/>
<line x1="213.58" y1="449.85" x2="213.58" y2="441.15" stroke="#111" stroke-width="1.3"/>
<line x1="295.75" y1="52.90" x2="295.75" y2="61.60" stroke="#111" stroke-width="1.3"/>
<line x1="295.75" y1="449.85" x2="295.75" y2="441.15" stroke="#111" stroke-width="1.3"/>
<line x1="377.93" y1="52.90" x2="377.93" y2="61.60" stroke="#111" stroke-width="1.3"/>
<line x1="377.93" y1="449.85" x2="377.93" y2="441.15" stroke="#111" stroke-width="1.3"/>
<line x1="131.40" y1="119.06" x2="140.10" y2="119.06" stroke="#111" stroke-width="1.3"/>
<line x1="460.10" y1="119.06" x2="451.40" y2="119.06" stroke="#111" stroke-width="1.3"/>
<line x1="131.40" y1="185.22" x2="140.10" y2="185.22" stroke="#111" stroke-width="1.3"/>
<line x1="460.10" y1="185.22" x2="451.40" y2="185.22" stroke="#111" stroke-width="1.3"/>
<line x1="131.40" y1="251.38" x2="140.10" y2="251.38" stroke="#111" stroke-width="1.3"/>
<line x1="460.10" y1="251.38" x2="451.40" y2="251.38" stroke="#111" stroke-width="1.3"/>
<line x1="131.40" y1="317.53" x2="140.10" y2="317.53" stroke="#111" stroke-width="1.3"/>
<line x1="460.10" y1="317.53" x2="451.40" y2="317.53" stroke="#111" stroke-width="1.3"/>
<line x1="131.40" y1="383.69" x2="140.10" y2="383.69" stroke="#111" stroke-width="1.3"/>
<line x1="460.10" y1="383.69" x2="451.40" y2="383.69" stroke="#111" stroke-width="1.3"/>
<text x="131.4" y="481.9" font-size="27" text-anchor="middle" font-weight="normal" >-360</text>
<text x="213.6" y="481.9" font-size="27" text-anchor="middle" font-weight="normal" >-180</text>
<text x="295.8" y="481.9" font-size="27" text-anchor="middle" font-weight="normal" >0</text>
<text x="377.9" y="481.9" font-size="27" text-anchor="middle" font-weight="normal" >180</text>
<text x="460.1" y="481.9" font-size="27" text-anchor="middle" font-weight="normal" >360</text>
<text x="295.8" y="513.9" font-size="27.5" text-anchor="middle" font-weight="normal" letter-spacing="1">x (nm)</text>
<rect x="605.00" y="52.90" width="329.00" height="396.95" fill="none" stroke="#111" stroke-width="1.6"/>
<line x1="687.25" y1="52.90" x2="687.25" y2="61.60" stroke="#111" stroke-width="1.3"/>
<line x1="687.25" y1="449.85" x2="687.25" y2="441.15" stroke="#111" stroke-width="1.3"/>
<line x1="769.50" y1="52.90" x2="769.50" y2="61.60" stroke="#111" stroke-width="1.3"/>
<line x1="769.50" y1="449.85" x2="769.50" y2="441.15" stroke="#111" stroke-width="1.3"/>
<line x1="851.75" y1="52.90" x2="851.75" y2="61.60" stroke="#111" stroke-width="1.3"/>
<line x1="851.75" y1="449.85" x2="851.75" y2="441.15" stroke="#111" stroke-width="1.3"/>
<line x1="605.00" y1="119.06" x2="613.70" y2="119.06" stroke="#111" stroke-width="1.3"/>
<line x1="934.00" y1="119.06" x2="925.30" y2="119.06" stroke="#111" stroke-width="1.3"/>
<line x1="605.00" y1="185.22" x2="613.70" y2="185.22" stroke="#111" stroke-width="1.3"/>
<line x1="934.00" y1="185.22" x2="925.30" y2="185.22" stroke="#111" stroke-width="1.3"/>
<line x1="605.00" y1="251.38" x2="613.70" y2="251.38" stroke="#111" stroke-width="1.3"/>
<line x1="934.00" y1="251.38" x2="925.30" y2="251.38" stroke="#111" stroke-width="1.3"/>
<line x1="605.00" y1="317.53" x2="613.70" y2="317.53" stroke="#111" stroke-width="1.3"/>
<line x1="934.00" y1="317.53" x2="925.30" y2="317.53" stroke="#111" stroke-width="1.3"/>
<line x1="605.00" y1="383.69" x2="613.70" y2="383.69" stroke="#111" stroke-width="1.3"/>
<line x1="934.00" y1="383.69" x2="925.30" y2="383.69" stroke="#111" stroke-width="1.3"/>
<text x="605.0" y="481.9" font-size="27" text-anchor="middle" font-weight="normal" >-360</text>
<text x="687.2" y="481.9" font-size="27" text-anchor="middle" font-weight="normal" >-180</text>
<text x="769.5" y="481.9" font-size="27" text-anchor="middle" font-weight="normal" >0</text>
<text x="851.8" y="481.9" font-size="27" text-anchor="middle" font-weight="normal" >180</text>
<text x="934.0" y="481.9" font-size="27" text-anchor="middle" font-weight="normal" >360</text>
<text x="769.5" y="513.9" font-size="27.5" text-anchor="middle" font-weight="normal" letter-spacing="1">x (nm)</text>
<rect x="1080.00" y="52.90" width="327.90" height="396.95" fill="none" stroke="#111" stroke-width="1.6"/>
<line x1="1161.97" y1="52.90" x2="1161.97" y2="61.60" stroke="#111" stroke-width="1.3"/>
<line x1="1161.97" y1="449.85" x2="1161.97" y2="441.15" stroke="#111" stroke-width="1.3"/>
<line x1="1243.95" y1="52.90" x2="1243.95" y2="61.60" stroke="#111" stroke-width="1.3"/>
<line x1="1243.95" y1="449.85" x2="1243.95" y2="441.15" stroke="#111" stroke-width="1.3"/>
<line x1="1325.93" y1="52.90" x2="1325.93" y2="61.60" stroke="#111" stroke-width="1.3"/>
<line x1="1325.93" y1="449.85" x2="1325.93" y2="441.15" stroke="#111" stroke-width="1.3"/>
<line x1="1080.00" y1="119.06" x2="1088.70" y2="119.06" stroke="#111" stroke-width="1.3"/>
<line x1="1407.90" y1="119.06" x2="1399.20" y2="119.06" stroke="#111" stroke-width="1.3"/>
<line x1="1080.00" y1="185.22" x2="1088.70" y2="185.22" stroke="#111" stroke-width="1.3"/>
<line x1="1407.90" y1="185.22" x2="1399.20" y2="185.22" stroke="#111" stroke-width="1.3"/>
<line x1="1080.00" y1="251.38" x2="1088.70" y2="251.38" stroke="#111" stroke-width="1.3"/>
<line x1="1407.90" y1="251.38" x2="1399.20" y2="251.38" stroke="#111" stroke-width="1.3"/>
<line x1="1080.00" y1="317.53" x2="1088.70" y2="317.53" stroke="#111" stroke-width="1.3"/>
<line x1="1407.90" y1="317.53" x2="1399.20" y2="317.53" stroke="#111" stroke-width="1.3"/>
<line x1="1080.00" y1="383.69" x2="1088.70" y2="383.69" stroke="#111" stroke-width="1.3"/>
<line x1="1407.90" y1="383.69" x2="1399.20" y2="383.69" stroke="#111" stroke-width="1.3"/>
<text x="1080.0" y="481.9" font-size="27" text-anchor="middle" font-weight="normal" >-360</text>
<text x="1162.0" y="481.9" font-size="27" text-anchor="middle" font-weight="normal" >-180</text>
<text x="1244.0" y="481.9" font-size="27" text-anchor="middle" font-weight="normal" >0</text>
<text x="1325.9" y="481.9" font-size="27" text-anchor="middle" font-weight="normal" >180</text>
<text x="1407.9" y="481.9" font-size="27" text-anchor="middle" font-weight="normal" >360</text>
<text x="1244.0" y="513.9" font-size="27.5" text-anchor="middle" font-weight="normal" letter-spacing="1">x (nm)</text>
<rect x="1553.90" y="52.90" width="327.30" height="396.95" fill="none" stroke="#111" stroke-width="1.6"/>
<line x1="1635.73" y1="52.90" x2="1635.73" y2="61.60" stroke="#111" stroke-width="1.3"/>
<line x1="1635.73" y1="449.85" x2="1635.73" y2="441.15" stroke="#111" stroke-width="1.3"/>
<line x1="1717.55" y1="52.90" x2="1717.55" y2="61.60" stroke="#111" stroke-width="1.3"/>
<line x1="1717.55" y1="449.85" x2="1717.55" y2="441.15" stroke="#111" stroke-width="1.3"/>
<line x1="1799.38" y1="52.90" x2="1799.38" y2="61.60" stroke="#111" stroke-width="1.3"/>
<line x1="1799.38" y1="449.85" x2="1799.38" y2="441.15" stroke="#111" stroke-width="1.3"/>
<line x1="1553.90" y1="119.06" x2="1562.60" y2="119.06" stroke="#111" stroke-width="1.3"/>
<line x1="1881.20" y1="119.06" x2="1872.50" y2="119.06" stroke="#111" stroke-width="1.3"/>
<line x1="1553.90" y1="185.22" x2="1562.60" y2="185.22" stroke="#111" stroke-width="1.3"/>
<line x1="1881.20" y1="185.22" x2="1872.50" y2="185.22" stroke="#111" stroke-width="1.3"/>
<line x1="1553.90" y1="251.38" x2="1562.60" y2="251.38" stroke="#111" stroke-width="1.3"/>
<line x1="1881.20" y1="251.38" x2="1872.50" y2="251.38" stroke="#111" stroke-width="1.3"/>
<line x1="1553.90" y1="317.53" x2="1562.60" y2="317.53" stroke="#111" stroke-width="1.3"/>
<line x1="1881.20" y1="317.53" x2="1872.50" y2="317.53" stroke="#111" stroke-width="1.3"/>
<line x1="1553.90" y1="383.69" x2="1562.60" y2="383.69" stroke="#111" stroke-width="1.3"/>
<line x1="1881.20" y1="383.69" x2="1872.50" y2="383.69" stroke="#111" stroke-width="1.3"/>
<text x="1553.9" y="481.9" font-size="27" text-anchor="middle" font-weight="normal" >-360</text>
<text x="1635.7" y="481.9" font-size="27" text-anchor="middle" font-weight="normal" >-180</text>
<text x="1717.6" y="481.9" font-size="27" text-anchor="middle" font-weight="normal" >0</text>
<text x="1799.4" y="481.9" font-size="27" text-anchor="middle" font-weight="normal" >180</text>
<text x="1881.2" y="481.9" font-size="27" text-anchor="middle" font-weight="normal" >360</text>
<text x="1717.6" y="513.9" font-size="27.5" text-anchor="middle" font-weight="normal" letter-spacing="1">x (nm)</text>
<text x="121.5" y="61.7" font-size="27" text-anchor="end" font-weight="normal" >-30</text>
<text x="121.5" y="127.9" font-size="27" text-anchor="end" font-weight="normal" >-20</text>
<text x="121.5" y="194.0" font-size="27" text-anchor="end" font-weight="normal" >-10</text>
<text x="121.5" y="260.2" font-size="27" text-anchor="end" font-weight="normal" >0</text>
<text x="121.5" y="326.3" font-size="27" text-anchor="end" font-weight="normal" >10</text>
<text x="121.5" y="392.5" font-size="27" text-anchor="end" font-weight="normal" >20</text>
<text x="121.5" y="458.7" font-size="27" text-anchor="end" font-weight="normal" >30</text>
<rect x="130.80" y="533.00" width="330.10" height="394.50" fill="none" stroke="#111" stroke-width="1.6"/>
<line x1="213.32" y1="533.00" x2="213.32" y2="541.70" stroke="#111" stroke-width="1.3"/>
<line x1="213.32" y1="927.50" x2="213.32" y2="918.80" stroke="#111" stroke-width="1.3"/>
<line x1="295.85" y1="533.00" x2="295.85" y2="541.70" stroke="#111" stroke-width="1.3"/>
<line x1="295.85" y1="927.50" x2="295.85" y2="918.80" stroke="#111" stroke-width="1.3"/>
<line x1="378.38" y1="533.00" x2="378.38" y2="541.70" stroke="#111" stroke-width="1.3"/>
<line x1="378.38" y1="927.50" x2="378.38" y2="918.80" stroke="#111" stroke-width="1.3"/>
<line x1="130.80" y1="554.92" x2="139.50" y2="554.92" stroke="#111" stroke-width="1.3"/>
<line x1="460.90" y1="554.92" x2="452.20" y2="554.92" stroke="#111" stroke-width="1.3"/>
<line x1="130.80" y1="642.58" x2="139.50" y2="642.58" stroke="#111" stroke-width="1.3"/>
<line x1="460.90" y1="642.58" x2="452.20" y2="642.58" stroke="#111" stroke-width="1.3"/>
<line x1="130.80" y1="730.25" x2="139.50" y2="730.25" stroke="#111" stroke-width="1.3"/>
<line x1="460.90" y1="730.25" x2="452.20" y2="730.25" stroke="#111" stroke-width="1.3"/>
<line x1="130.80" y1="817.92" x2="139.50" y2="817.92" stroke="#111" stroke-width="1.3"/>
<line x1="460.90" y1="817.92" x2="452.20" y2="817.92" stroke="#111" stroke-width="1.3"/>
<line x1="130.80" y1="905.58" x2="139.50" y2="905.58" stroke="#111" stroke-width="1.3"/>
<line x1="460.90" y1="905.58" x2="452.20" y2="905.58" stroke="#111" stroke-width="1.3"/>
<text x="130.8" y="959.0" font-size="27" text-anchor="middle" font-weight="normal" >-300</text>
<text x="213.3" y="959.0" font-size="27" text-anchor="middle" font-weight="normal" >-150</text>
<text x="295.9" y="959.0" font-size="27" text-anchor="middle" font-weight="normal" >0</text>
<text x="378.4" y="959.0" font-size="27" text-anchor="middle" font-weight="normal" >150</text>
<text x="460.9" y="959.0" font-size="27" text-anchor="middle" font-weight="normal" >300</text>
<text x="295.9" y="989.9" font-size="27.5" text-anchor="middle" font-weight="normal" letter-spacing="1">x (nm)</text>
<rect x="604.30" y="533.00" width="329.10" height="394.50" fill="none" stroke="#111" stroke-width="1.6"/>
<line x1="686.57" y1="533.00" x2="686.57" y2="541.70" stroke="#111" stroke-width="1.3"/>
<line x1="686.57" y1="927.50" x2="686.57" y2="918.80" stroke="#111" stroke-width="1.3"/>
<line x1="768.85" y1="533.00" x2="768.85" y2="541.70" stroke="#111" stroke-width="1.3"/>
<line x1="768.85" y1="927.50" x2="768.85" y2="918.80" stroke="#111" stroke-width="1.3"/>
<line x1="851.12" y1="533.00" x2="851.12" y2="541.70" stroke="#111" stroke-width="1.3"/>
<line x1="851.12" y1="927.50" x2="851.12" y2="918.80" stroke="#111" stroke-width="1.3"/>
<line x1="604.30" y1="554.92" x2="613.00" y2="554.92" stroke="#111" stroke-width="1.3"/>
<line x1="933.40" y1="554.92" x2="924.70" y2="554.92" stroke="#111" stroke-width="1.3"/>
<line x1="604.30" y1="642.58" x2="613.00" y2="642.58" stroke="#111" stroke-width="1.3"/>
<line x1="933.40" y1="642.58" x2="924.70" y2="642.58" stroke="#111" stroke-width="1.3"/>
<line x1="604.30" y1="730.25" x2="613.00" y2="730.25" stroke="#111" stroke-width="1.3"/>
<line x1="933.40" y1="730.25" x2="924.70" y2="730.25" stroke="#111" stroke-width="1.3"/>
<line x1="604.30" y1="817.92" x2="613.00" y2="817.92" stroke="#111" stroke-width="1.3"/>
<line x1="933.40" y1="817.92" x2="924.70" y2="817.92" stroke="#111" stroke-width="1.3"/>
<line x1="604.30" y1="905.58" x2="613.00" y2="905.58" stroke="#111" stroke-width="1.3"/>
<line x1="933.40" y1="905.58" x2="924.70" y2="905.58" stroke="#111" stroke-width="1.3"/>
<text x="604.3" y="959.0" font-size="27" text-anchor="middle" font-weight="normal" >-300</text>
<text x="686.6" y="959.0" font-size="27" text-anchor="middle" font-weight="normal" >-150</text>
<text x="768.8" y="959.0" font-size="27" text-anchor="middle" font-weight="normal" >0</text>
<text x="851.1" y="959.0" font-size="27" text-anchor="middle" font-weight="normal" >150</text>
<text x="933.4" y="959.0" font-size="27" text-anchor="middle" font-weight="normal" >300</text>
<text x="768.8" y="989.9" font-size="27.5" text-anchor="middle" font-weight="normal" letter-spacing="1">x (nm)</text>
<rect x="1076.80" y="533.00" width="330.20" height="394.50" fill="none" stroke="#111" stroke-width="1.6"/>
<line x1="1159.35" y1="533.00" x2="1159.35" y2="541.70" stroke="#111" stroke-width="1.3"/>
<line x1="1159.35" y1="927.50" x2="1159.35" y2="918.80" stroke="#111" stroke-width="1.3"/>
<line x1="1241.90" y1="533.00" x2="1241.90" y2="541.70" stroke="#111" stroke-width="1.3"/>
<line x1="1241.90" y1="927.50" x2="1241.90" y2="918.80" stroke="#111" stroke-width="1.3"/>
<line x1="1324.45" y1="533.00" x2="1324.45" y2="541.70" stroke="#111" stroke-width="1.3"/>
<line x1="1324.45" y1="927.50" x2="1324.45" y2="918.80" stroke="#111" stroke-width="1.3"/>
<line x1="1076.80" y1="554.92" x2="1085.50" y2="554.92" stroke="#111" stroke-width="1.3"/>
<line x1="1407.00" y1="554.92" x2="1398.30" y2="554.92" stroke="#111" stroke-width="1.3"/>
<line x1="1076.80" y1="642.58" x2="1085.50" y2="642.58" stroke="#111" stroke-width="1.3"/>
<line x1="1407.00" y1="642.58" x2="1398.30" y2="642.58" stroke="#111" stroke-width="1.3"/>
<line x1="1076.80" y1="730.25" x2="1085.50" y2="730.25" stroke="#111" stroke-width="1.3"/>
<line x1="1407.00" y1="730.25" x2="1398.30" y2="730.25" stroke="#111" stroke-width="1.3"/>
<line x1="1076.80" y1="817.92" x2="1085.50" y2="817.92" stroke="#111" stroke-width="1.3"/>
<line x1="1407.00" y1="817.92" x2="1398.30" y2="817.92" stroke="#111" stroke-width="1.3"/>
<line x1="1076.80" y1="905.58" x2="1085.50" y2="905.58" stroke="#111" stroke-width="1.3"/>
<line x1="1407.00" y1="905.58" x2="1398.30" y2="905.58" stroke="#111" stroke-width="1.3"/>
<text x="1076.8" y="959.0" font-size="27" text-anchor="middle" font-weight="normal" >-300</text>
<text x="1159.3" y="959.0" font-size="27" text-anchor="middle" font-weight="normal" >-150</text>
<text x="1241.9" y="959.0" font-size="27" text-anchor="middle" font-weight="normal" >0</text>
<text x="1324.5" y="959.0" font-size="27" text-anchor="middle" font-weight="normal" >150</text>
<text x="1407.0" y="959.0" font-size="27" text-anchor="middle" font-weight="normal" >300</text>
<text x="1241.9" y="989.9" font-size="27.5" text-anchor="middle" font-weight="normal" letter-spacing="1">x (nm)</text>
<rect x="1550.10" y="533.00" width="329.00" height="394.50" fill="none" stroke="#111" stroke-width="1.6"/>
<line x1="1632.35" y1="533.00" x2="1632.35" y2="541.70" stroke="#111" stroke-width="1.3"/>
<line x1="1632.35" y1="927.50" x2="1632.35" y2="918.80" stroke="#111" stroke-width="1.3"/>
<line x1="1714.60" y1="533.00" x2="1714.60" y2="541.70" stroke="#111" stroke-width="1.3"/>
<line x1="1714.60" y1="927.50" x2="1714.60" y2="918.80" stroke="#111" stroke-width="1.3"/>
<line x1="1796.85" y1="533.00" x2="1796.85" y2="541.70" stroke="#111" stroke-width="1.3"/>
<line x1="1796.85" y1="927.50" x2="1796.85" y2="918.80" stroke="#111" stroke-width="1.3"/>
<line x1="1550.10" y1="554.92" x2="1558.80" y2="554.92" stroke="#111" stroke-width="1.3"/>
<line x1="1879.10" y1="554.92" x2="1870.40" y2="554.92" stroke="#111" stroke-width="1.3"/>
<line x1="1550.10" y1="642.58" x2="1558.80" y2="642.58" stroke="#111" stroke-width="1.3"/>
<line x1="1879.10" y1="642.58" x2="1870.40" y2="642.58" stroke="#111" stroke-width="1.3"/>
<line x1="1550.10" y1="730.25" x2="1558.80" y2="730.25" stroke="#111" stroke-width="1.3"/>
<line x1="1879.10" y1="730.25" x2="1870.40" y2="730.25" stroke="#111" stroke-width="1.3"/>
<line x1="1550.10" y1="817.92" x2="1558.80" y2="817.92" stroke="#111" stroke-width="1.3"/>
<line x1="1879.10" y1="817.92" x2="1870.40" y2="817.92" stroke="#111" stroke-width="1.3"/>
<line x1="1550.10" y1="905.58" x2="1558.80" y2="905.58" stroke="#111" stroke-width="1.3"/>
<line x1="1879.10" y1="905.58" x2="1870.40" y2="905.58" stroke="#111" stroke-width="1.3"/>
<text x="1550.1" y="959.0" font-size="27" text-anchor="middle" font-weight="normal" >-300</text>
<text x="1632.3" y="959.0" font-size="27" text-anchor="middle" font-weight="normal" >-150</text>
<text x="1714.6" y="959.0" font-size="27" text-anchor="middle" font-weight="normal" >0</text>
<text x="1796.8" y="959.0" font-size="27" text-anchor="middle" font-weight="normal" >150</text>
<text x="1879.1" y="959.0" font-size="27" text-anchor="middle" font-weight="normal" >300</text>
<text x="1714.6" y="989.9" font-size="27.5" text-anchor="middle" font-weight="normal" letter-spacing="1">x (nm)</text>
<text x="121.5" y="563.4" font-size="27" text-anchor="end" font-weight="normal" >-40</text>
<text x="121.5" y="651.1" font-size="27" text-anchor="end" font-weight="normal" >-20</text>
<text x="121.5" y="738.8" font-size="27" text-anchor="end" font-weight="normal" >0</text>
<text x="121.5" y="826.4" font-size="27" text-anchor="end" font-weight="normal" >20</text>
<text x="121.5" y="914.1" font-size="27" text-anchor="end" font-weight="normal" >40</text>
<rect x="1442.30" y="52.90" width="18.40" height="396.95" fill="none" stroke="#444" stroke-width="1.1"/>
<rect x="1917.00" y="52.90" width="17.40" height="396.95" fill="none" stroke="#444" stroke-width="1.1"/>
<rect x="1440.30" y="533.00" width="17.50" height="394.50" fill="none" stroke="#444" stroke-width="1.1"/>
<rect x="1913.60" y="533.00" width="18.10" height="394.50" fill="none" stroke="#444" stroke-width="1.1"/>
<text x="1469.5" y="61.6" font-size="27" text-anchor="start" font-weight="normal" >1</text>
<line x1="1460.70" y1="152.14" x2="1456.70" y2="152.14" stroke="#111" stroke-width="1.1"/>
<text x="1469.5" y="160.8" font-size="27" text-anchor="start" font-weight="normal" >0.5</text>
<line x1="1460.70" y1="251.38" x2="1456.70" y2="251.38" stroke="#111" stroke-width="1.1"/>
<text x="1469.5" y="260.1" font-size="27" text-anchor="start" font-weight="normal" >0</text>
<line x1="1460.70" y1="350.61" x2="1456.70" y2="350.61" stroke="#111" stroke-width="1.1"/>
<text x="1469.5" y="359.3" font-size="27" text-anchor="start" font-weight="normal" >-0.5</text>
<text x="1469.5" y="458.6" font-size="27" text-anchor="start" font-weight="normal" >-1</text>
<text x="1943.0" y="61.6" font-size="27" text-anchor="start" font-weight="normal" >0</text>
<line x1="1934.40" y1="132.29" x2="1930.40" y2="132.29" stroke="#111" stroke-width="1.1"/>
<text x="1943.0" y="141.0" font-size="27" text-anchor="start" font-weight="normal" >-20</text>
<line x1="1934.40" y1="211.68" x2="1930.40" y2="211.68" stroke="#111" stroke-width="1.1"/>
<text x="1943.0" y="220.4" font-size="27" text-anchor="start" font-weight="normal" >-40</text>
<line x1="1934.40" y1="291.07" x2="1930.40" y2="291.07" stroke="#111" stroke-width="1.1"/>
<text x="1943.0" y="299.8" font-size="27" text-anchor="start" font-weight="normal" >-60</text>
<line x1="1934.40" y1="370.46" x2="1930.40" y2="370.46" stroke="#111" stroke-width="1.1"/>
<text x="1943.0" y="379.2" font-size="27" text-anchor="start" font-weight="normal" >-80</text>
<text x="1943.0" y="458.6" font-size="27" text-anchor="start" font-weight="normal" >-100</text>
<text x="1467.0" y="541.7" font-size="27" text-anchor="start" font-weight="normal" >0.5</text>
<line x1="1457.80" y1="730.25" x2="1453.80" y2="730.25" stroke="#111" stroke-width="1.1"/>
<text x="1467.0" y="739.0" font-size="27" text-anchor="start" font-weight="normal" >0</text>
<text x="1467.0" y="936.2" font-size="27" text-anchor="start" font-weight="normal" >-0.5</text>
<text x="1940.0" y="541.7" font-size="27" text-anchor="start" font-weight="normal" >0</text>
<line x1="1931.70" y1="611.90" x2="1927.70" y2="611.90" stroke="#111" stroke-width="1.1"/>
<text x="1940.0" y="620.6" font-size="27" text-anchor="start" font-weight="normal" >-10</text>
<line x1="1931.70" y1="690.80" x2="1927.70" y2="690.80" stroke="#111" stroke-width="1.1"/>
<text x="1940.0" y="699.5" font-size="27" text-anchor="start" font-weight="normal" >-20</text>
<line x1="1931.70" y1="769.70" x2="1927.70" y2="769.70" stroke="#111" stroke-width="1.1"/>
<text x="1940.0" y="778.4" font-size="27" text-anchor="start" font-weight="normal" >-30</text>
<line x1="1931.70" y1="848.60" x2="1927.70" y2="848.60" stroke="#111" stroke-width="1.1"/>
<text x="1940.0" y="857.3" font-size="27" text-anchor="start" font-weight="normal" >-40</text>
<text x="1940.0" y="936.2" font-size="27" text-anchor="start" font-weight="normal" >-50</text>
<rect x="810.30" y="106.70" width="99.10" height="124.10" fill="none" stroke="#111" stroke-width="1.6"/>
<line x1="835.07" y1="106.70" x2="835.07" y2="110.20" stroke="#111" stroke-width="1.2"/>
<line x1="835.07" y1="230.80" x2="835.07" y2="227.30" stroke="#111" stroke-width="1.2"/>
<line x1="859.85" y1="106.70" x2="859.85" y2="110.20" stroke="#111" stroke-width="1.2"/>
<line x1="859.85" y1="230.80" x2="859.85" y2="227.30" stroke="#111" stroke-width="1.2"/>
<line x1="884.62" y1="106.70" x2="884.62" y2="110.20" stroke="#111" stroke-width="1.2"/>
<line x1="884.62" y1="230.80" x2="884.62" y2="227.30" stroke="#111" stroke-width="1.2"/>
<line x1="810.30" y1="127.38" x2="813.80" y2="127.38" stroke="#111" stroke-width="1.2"/>
<line x1="909.40" y1="127.38" x2="905.90" y2="127.38" stroke="#111" stroke-width="1.2"/>
<line x1="810.30" y1="148.07" x2="813.80" y2="148.07" stroke="#111" stroke-width="1.2"/>
<line x1="909.40" y1="148.07" x2="905.90" y2="148.07" stroke="#111" stroke-width="1.2"/>
<line x1="810.30" y1="168.75" x2="813.80" y2="168.75" stroke="#111" stroke-width="1.2"/>
<line x1="909.40" y1="168.75" x2="905.90" y2="168.75" stroke="#111" stroke-width="1.2"/>
<line x1="810.30" y1="189.43" x2="813.80" y2="189.43" stroke="#111" stroke-width="1.2"/>
<line x1="909.40" y1="189.43" x2="905.90" y2="189.43" stroke="#111" stroke-width="1.2"/>
<line x1="810.30" y1="210.12" x2="813.80" y2="210.12" stroke="#111" stroke-width="1.2"/>
<line x1="909.40" y1="210.12" x2="905.90" y2="210.12" stroke="#111" stroke-width="1.2"/>
<rect x="1284.20" y="106.90" width="98.50" height="123.50" fill="none" stroke="#111" stroke-width="1.6"/>
<line x1="1308.83" y1="106.90" x2="1308.83" y2="110.40" stroke="#111" stroke-width="1.2"/>
<line x1="1308.83" y1="230.40" x2="1308.83" y2="226.90" stroke="#111" stroke-width="1.2"/>
<line x1="1333.45" y1="106.90" x2="1333.45" y2="110.40" stroke="#111" stroke-width="1.2"/>
<line x1="1333.45" y1="230.40" x2="1333.45" y2="226.90" stroke="#111" stroke-width="1.2"/>
<line x1="1358.08" y1="106.90" x2="1358.08" y2="110.40" stroke="#111" stroke-width="1.2"/>
<line x1="1358.08" y1="230.40" x2="1358.08" y2="226.90" stroke="#111" stroke-width="1.2"/>
<line x1="1284.20" y1="127.48" x2="1287.70" y2="127.48" stroke="#111" stroke-width="1.2"/>
<line x1="1382.70" y1="127.48" x2="1379.20" y2="127.48" stroke="#111" stroke-width="1.2"/>
<line x1="1284.20" y1="148.07" x2="1287.70" y2="148.07" stroke="#111" stroke-width="1.2"/>
<line x1="1382.70" y1="148.07" x2="1379.20" y2="148.07" stroke="#111" stroke-width="1.2"/>
<line x1="1284.20" y1="168.65" x2="1287.70" y2="168.65" stroke="#111" stroke-width="1.2"/>
<line x1="1382.70" y1="168.65" x2="1379.20" y2="168.65" stroke="#111" stroke-width="1.2"/>
<line x1="1284.20" y1="189.23" x2="1287.70" y2="189.23" stroke="#111" stroke-width="1.2"/>
<line x1="1382.70" y1="189.23" x2="1379.20" y2="189.23" stroke="#111" stroke-width="1.2"/>
<line x1="1284.20" y1="209.82" x2="1287.70" y2="209.82" stroke="#111" stroke-width="1.2"/>
<line x1="1382.70" y1="209.82" x2="1379.20" y2="209.82" stroke="#111" stroke-width="1.2"/>
<rect x="1728.00" y="106.40" width="98.10" height="124.40" fill="none" stroke="#111" stroke-width="1.6"/>
<line x1="1752.53" y1="106.40" x2="1752.53" y2="109.90" stroke="#111" stroke-width="1.2"/>
<line x1="1752.53" y1="230.80" x2="1752.53" y2="227.30" stroke="#111" stroke-width="1.2"/>
<line x1="1777.05" y1="106.40" x2="1777.05" y2="109.90" stroke="#111" stroke-width="1.2"/>
<line x1="1777.05" y1="230.80" x2="1777.05" y2="227.30" stroke="#111" stroke-width="1.2"/>
<line x1="1801.57" y1="106.40" x2="1801.57" y2="109.90" stroke="#111" stroke-width="1.2"/>
<line x1="1801.57" y1="230.80" x2="1801.57" y2="227.30" stroke="#111" stroke-width="1.2"/>
<line x1="1728.00" y1="127.13" x2="1731.50" y2="127.13" stroke="#111" stroke-width="1.2"/>
<line x1="1826.10" y1="127.13" x2="1822.60" y2="127.13" stroke="#111" stroke-width="1.2"/>
<line x1="1728.00" y1="147.87" x2="1731.50" y2="147.87" stroke="#111" stroke-width="1.2"/>
<line x1="1826.10" y1="147.87" x2="1822.60" y2="147.87" stroke="#111" stroke-width="1.2"/>
<line x1="1728.00" y1="168.60" x2="1731.50" y2="168.60" stroke="#111" stroke-width="1.2"/>
<line x1="1826.10" y1="168.60" x2="1822.60" y2="168.60" stroke="#111" stroke-width="1.2"/>
<line x1="1728.00" y1="189.33" x2="1731.50" y2="189.33" stroke="#111" stroke-width="1.2"/>
<line x1="1826.10" y1="189.33" x2="1822.60" y2="189.33" stroke="#111" stroke-width="1.2"/>
<line x1="1728.00" y1="210.07" x2="1731.50" y2="210.07" stroke="#111" stroke-width="1.2"/>
<line x1="1826.10" y1="210.07" x2="1822.60" y2="210.07" stroke="#111" stroke-width="1.2"/>
<rect x="822.40" y="587.60" width="98.00" height="122.60" fill="none" stroke="#111" stroke-width="1.6"/>
<line x1="846.90" y1="587.60" x2="846.90" y2="591.10" stroke="#111" stroke-width="1.2"/>
<line x1="846.90" y1="710.20" x2="846.90" y2="706.70" stroke="#111" stroke-width="1.2"/>
<line x1="871.40" y1="587.60" x2="871.40" y2="591.10" stroke="#111" stroke-width="1.2"/>
<line x1="871.40" y1="710.20" x2="871.40" y2="706.70" stroke="#111" stroke-width="1.2"/>
<line x1="895.90" y1="587.60" x2="895.90" y2="591.10" stroke="#111" stroke-width="1.2"/>
<line x1="895.90" y1="710.20" x2="895.90" y2="706.70" stroke="#111" stroke-width="1.2"/>
<line x1="822.40" y1="608.03" x2="825.90" y2="608.03" stroke="#111" stroke-width="1.2"/>
<line x1="920.40" y1="608.03" x2="916.90" y2="608.03" stroke="#111" stroke-width="1.2"/>
<line x1="822.40" y1="628.47" x2="825.90" y2="628.47" stroke="#111" stroke-width="1.2"/>
<line x1="920.40" y1="628.47" x2="916.90" y2="628.47" stroke="#111" stroke-width="1.2"/>
<line x1="822.40" y1="648.90" x2="825.90" y2="648.90" stroke="#111" stroke-width="1.2"/>
<line x1="920.40" y1="648.90" x2="916.90" y2="648.90" stroke="#111" stroke-width="1.2"/>
<line x1="822.40" y1="669.33" x2="825.90" y2="669.33" stroke="#111" stroke-width="1.2"/>
<line x1="920.40" y1="669.33" x2="916.90" y2="669.33" stroke="#111" stroke-width="1.2"/>
<line x1="822.40" y1="689.77" x2="825.90" y2="689.77" stroke="#111" stroke-width="1.2"/>
<line x1="920.40" y1="689.77" x2="916.90" y2="689.77" stroke="#111" stroke-width="1.2"/>
<rect x="1291.60" y="587.30" width="98.00" height="122.90" fill="none" stroke="#111" stroke-width="1.6"/>
<line x1="1316.10" y1="587.30" x2="1316.10" y2="590.80" stroke="#111" stroke-width="1.2"/>
<line x1="1316.10" y1="710.20" x2="1316.10" y2="706.70" stroke="#111" stroke-width="1.2"/>
<line x1="1340.60" y1="587.30" x2="1340.60" y2="590.80" stroke="#111" stroke-width="1.2"/>
<line x1="1340.60" y1="710.20" x2="1340.60" y2="706.70" stroke="#111" stroke-width="1.2"/>
<line x1="1365.10" y1="587.30" x2="1365.10" y2="590.80" stroke="#111" stroke-width="1.2"/>
<line x1="1365.10" y1="710.20" x2="1365.10" y2="706.70" stroke="#111" stroke-width="1.2"/>
<line x1="1291.60" y1="607.78" x2="1295.10" y2="607.78" stroke="#111" stroke-width="1.2"/>
<line x1="1389.60" y1="607.78" x2="1386.10" y2="607.78" stroke="#111" stroke-width="1.2"/>
<line x1="1291.60" y1="628.27" x2="1295.10" y2="628.27" stroke="#111" stroke-width="1.2"/>
<line x1="1389.60" y1="628.27" x2="1386.10" y2="628.27" stroke="#111" stroke-width="1.2"/>
<line x1="1291.60" y1="648.75" x2="1295.10" y2="648.75" stroke="#111" stroke-width="1.2"/>
<line x1="1389.60" y1="648.75" x2="1386.10" y2="648.75" stroke="#111" stroke-width="1.2"/>
<line x1="1291.60" y1="669.23" x2="1295.10" y2="669.23" stroke="#111" stroke-width="1.2"/>
<line x1="1389.60" y1="669.23" x2="1386.10" y2="669.23" stroke="#111" stroke-width="1.2"/>
<line x1="1291.60" y1="689.72" x2="1295.10" y2="689.72" stroke="#111" stroke-width="1.2"/>
<line x1="1389.60" y1="689.72" x2="1386.10" y2="689.72" stroke="#111" stroke-width="1.2"/>
<rect x="1731.40" y="587.40" width="97.20" height="122.80" fill="none" stroke="#111" stroke-width="1.6"/>
<line x1="1755.70" y1="587.40" x2="1755.70" y2="590.90" stroke="#111" stroke-width="1.2"/>
<line x1="1755.70" y1="710.20" x2="1755.70" y2="706.70" stroke="#111" stroke-width="1.2"/>
<line x1="1780.00" y1="587.40" x2="1780.00" y2="590.90" stroke="#111" stroke-width="1.2"/>
<line x1="1780.00" y1="710.20" x2="1780.00" y2="706.70" stroke="#111" stroke-width="1.2"/>
<line x1="1804.30" y1="587.40" x2="1804.30" y2="590.90" stroke="#111" stroke-width="1.2"/>
<line x1="1804.30" y1="710.20" x2="1804.30" y2="706.70" stroke="#111" stroke-width="1.2"/>
<line x1="1731.40" y1="607.87" x2="1734.90" y2="607.87" stroke="#111" stroke-width="1.2"/>
<line x1="1828.60" y1="607.87" x2="1825.10" y2="607.87" stroke="#111" stroke-width="1.2"/>
<line x1="1731.40" y1="628.33" x2="1734.90" y2="628.33" stroke="#111" stroke-width="1.2"/>
<line x1="1828.60" y1="628.33" x2="1825.10" y2="628.33" stroke="#111" stroke-width="1.2"/>
<line x1="1731.40" y1="648.80" x2="1734.90" y2="648.80" stroke="#111" stroke-width="1.2"/>
<line x1="1828.60" y1="648.80" x2="1825.10" y2="648.80" stroke="#111" stroke-width="1.2"/>
<line x1="1731.40" y1="669.27" x2="1734.90" y2="669.27" stroke="#111" stroke-width="1.2"/>
<line x1="1828.60" y1="669.27" x2="1825.10" y2="669.27" stroke="#111" stroke-width="1.2"/>
<line x1="1731.40" y1="689.73" x2="1734.90" y2="689.73" stroke="#111" stroke-width="1.2"/>
<line x1="1828.60" y1="689.73" x2="1825.10" y2="689.73" stroke="#111" stroke-width="1.2"/>
<rect x="1832.40" y="106.40" width="10.20" height="124.30" fill="none" stroke="#444" stroke-width="1.0"/>
<text x="1849.9" y="112.7" font-size="17.6" text-anchor="start" font-weight="normal" >20</text>
<text x="1849.9" y="237.0" font-size="17.6" text-anchor="start" font-weight="normal" >0</text>
<rect x="1834.40" y="587.40" width="10.20" height="122.80" fill="none" stroke="#444" stroke-width="1.0"/>
<text x="1851.9" y="593.7" font-size="17.6" text-anchor="start" font-weight="normal" >20</text>
<text x="1851.9" y="716.5" font-size="17.6" text-anchor="start" font-weight="normal" >0</text>
<text x="240.26" y="29.00" font-size="38" font-weight="bold">F</text>
<text x="261.12" y="38.60" font-size="24.5" font-weight="bold">z</text>
<text x="282.21" y="29.00" font-size="38" font-weight="bold">(pN)</text>
<text x="711.76" y="29.00" font-size="38" font-weight="bold">F</text>
<text x="733.13" y="38.60" font-size="24.5" font-weight="bold">x</text>
<text x="755.41" y="29.00" font-size="38" font-weight="bold">(pN)</text>
<text x="1150.07" y="29.00" font-size="38" font-weight="bold">T</text>
<text x="1170.11" y="38.60" font-size="24.5" font-weight="bold">y</text>
<text x="1192.11" y="29.00" font-size="38" font-weight="bold">(pN</text>
<text x="1263.71" y="29.00" font-size="38" font-weight="bold">µm)</text>
<text x="1643.32" y="29.00" font-size="38" font-weight="bold">U</text>
<text x="1670.46" y="38.60" font-size="24.5" font-weight="bold">F</text>
<text x="1693.31" y="29.00" font-size="38" font-weight="bold">(k</text>
<text x="1727.56" y="38.60" font-size="24.5" font-weight="bold">B</text>
<text x="1749.87" y="29.00" font-size="38" font-weight="bold">T)</text>
<text x="135.8" y="97.9" font-size="41" text-anchor="start" font-weight="bold" letter-spacing="0.8">(a)</text>
<text x="616.2" y="97.9" font-size="41" text-anchor="start" font-weight="bold" letter-spacing="0.8">(c)</text>
<text x="1086.3" y="97.9" font-size="41" text-anchor="start" font-weight="bold" letter-spacing="0.8">(e)</text>
<text x="1559.9" y="97.9" font-size="41" text-anchor="start" font-weight="bold" letter-spacing="0.8">(g)</text>
<text x="138.4" y="577.6" font-size="41" text-anchor="start" font-weight="bold" letter-spacing="0.8">(b)</text>
<text x="611.0" y="577.6" font-size="41" text-anchor="start" font-weight="bold" letter-spacing="0.8">(d)</text>
<text x="1086.0" y="577.6" font-size="41" text-anchor="start" font-weight="bold" letter-spacing="0.8">(f)</text>
<text x="1560.0" y="577.6" font-size="41" text-anchor="start" font-weight="bold" letter-spacing="0.8">(h)</text>
<text x="823.09" y="95.90" font-size="28.5" font-weight="bold">F</text>
<text x="838.85" y="102.70" font-size="19.5" font-weight="bold">y</text>
<text x="855.28" y="95.90" font-size="28.5" font-weight="bold">(pN)</text>
<text x="1263.68" y="95.90" font-size="28.5" font-weight="bold">T</text>
<text x="1279.97" y="102.70" font-size="19.5" font-weight="bold">x</text>
<text x="1296.68" y="95.90" font-size="28.5" font-weight="bold">(pN</text>
<text x="1350.74" y="95.90" font-size="28.5" font-weight="bold">µm)</text>
<text x="1727.49" y="95.90" font-size="28.5" font-weight="bold">U</text>
<text x="1747.88" y="102.70" font-size="19.5" font-weight="bold">T</text>
<text x="1765.48" y="95.90" font-size="28.5" font-weight="bold">(k</text>
<text x="1790.80" y="102.70" font-size="19.5" font-weight="bold">B</text>
<text x="1807.88" y="95.90" font-size="28.5" font-weight="bold">T)</text>
<text x="826.29" y="571.90" font-size="28.5" font-weight="bold">F</text>
<text x="842.15" y="578.70" font-size="19.5" font-weight="bold">y</text>
<text x="858.88" y="571.90" font-size="28.5" font-weight="bold">(pN)</text>
<text x="1250.88" y="571.90" font-size="28.5" font-weight="bold">T</text>
<text x="1267.17" y="578.70" font-size="19.5" font-weight="bold">x</text>
<text x="1283.88" y="571.90" font-size="28.5" font-weight="bold">(pN</text>
<text x="1337.94" y="571.90" font-size="28.5" font-weight="bold">µm)</text>
<text x="1727.49" y="571.90" font-size="28.5" font-weight="bold">U</text>
<text x="1747.88" y="578.70" font-size="19.5" font-weight="bold">T</text>
<text x="1765.48" y="571.90" font-size="28.5" font-weight="bold">(k</text>
<text x="1790.80" y="578.70" font-size="19.5" font-weight="bold">B</text>
<text x="1807.88" y="571.90" font-size="28.5" font-weight="bold">T)</text>
<text transform="translate(28.5,259.4) rotate(-90)" x="0" y="0" font-size="36.5" text-anchor="middle" letter-spacing="0.55">p = 2.04 cylinder</text>
<text transform="translate(68.5,252.4) rotate(-90)" x="0" y="0" font-size="28" text-anchor="middle"><tspan font-family="&quot;Liberation Serif&quot;, serif" font-style="italic">θ</tspan> (<tspan font-size="36" dy="9.5" letter-spacing="-2">°</tspan><tspan dy="-9.5">)</tspan></text>
<text transform="translate(28.5,740.8) rotate(-90)" x="0" y="0" font-size="36.5" text-anchor="middle" letter-spacing="0.55">p = 1.44 cylinder</text>
<text transform="translate(68.5,729.5) rotate(-90)" x="0" y="0" font-size="28" text-anchor="middle"><tspan font-family="&quot;Liberation Serif&quot;, serif" font-style="italic">θ</tspan> (<tspan font-size="36" dy="9.5" letter-spacing="-2">°</tspan><tspan dy="-9.5">)</tspan></text>
</svg></body></html>
